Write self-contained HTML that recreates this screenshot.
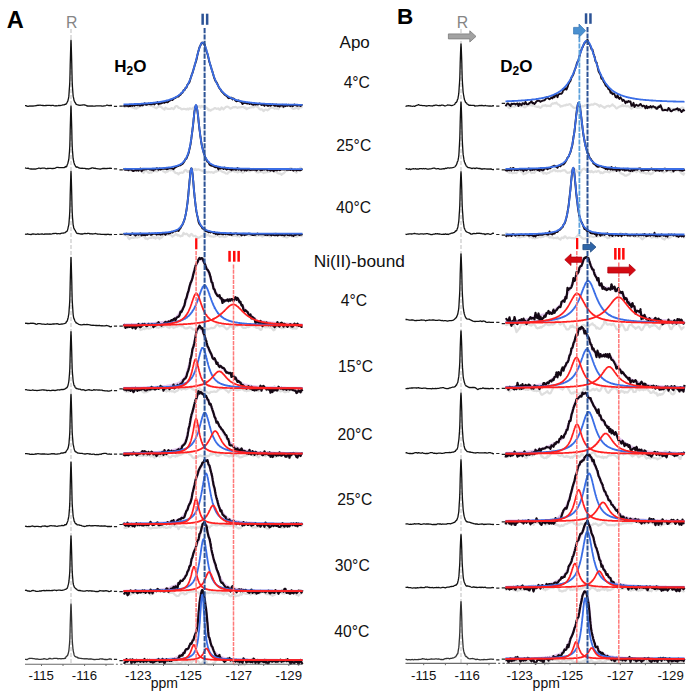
<!DOCTYPE html><html><head><meta charset='utf-8'><style>html,body{margin:0;padding:0;background:#fff;width:690px;height:697px;overflow:hidden}svg{display:block}text{font-family:"Liberation Sans", sans-serif}</style></head><body><svg width='690' height='697' viewBox='0 0 690 697'><rect width='690' height='697' fill='#fff'/><line x1='71.0' y1='29.0' x2='71.0' y2='664.0' stroke='#c8c8c8' stroke-width='1.2' stroke-dasharray='4 2'/><line x1='461.0' y1='29.0' x2='461.0' y2='664.0' stroke='#c8c8c8' stroke-width='1.2' stroke-dasharray='4 2'/><path d='M25 105.7l1-.1 1 .6 1 .2 1-.3 1-.1 1 .1 1-.1 1 .2 1-.4 1 .1 1-.2 1-.2 1-.4 1 .2 1-.3 1 .3 1 0 1 .2 1 .2 1 0 1-.2 1-.2 1 .1 1 0 1 0 1 .3 1-.4 1 0 1 .4 1 .3 1-.4 1 .2 1-.1 1-.3 1 .3 1-.3 1-.2 1-.3 1 0 1-.5 .2-.1 .3-.2 .3-.1 .2 .3 .2-.4 .3-.3 .3-.6 .2-.5 .2-.4 .3-.3 .3-.7 .2-.7 .2-1 .3-1.1 .3-1.9 .2-2.4 .2-3.2 .3-4.1 .3-5 .2-7 .2-9.3 .3-10.7 .3-10.1 .2-4.5 .2 4.1 .3 9.7 .3 11.3 .2 9.1 .2 7.8 .3 5.4 .3 4 .2 2.8 .2 2.1 .3 1.3 .3 1.3 .2 1.3 .2 .5 .3 .7 .3 .6 .2 0 .2 .3 .3 .8 .3 .4 .2 .4 .2 .4 .3 0 .3 0 .2 .3 1 .3 1 .1 1 .3 1-.2 1-.1 1-.3 1 0 1 .2 1 .4 1 .6 1 0 1 .1 1-.1 1 .2 1-.4 1 .4 1-.1 1 0 1-.3 1 0 1 .1 1-.1 1 0 1 0 1 .4 1-.1 1-.3 1 .1 1-.4 1-.5 1 .3 1 .3 1-.1 1-.1 1 .1' fill='none' stroke='#111' stroke-width='1.3' stroke-linejoin='round'/><path d='M113.9 106.4h3.2M119.4 106.1h3.4' stroke='#222' stroke-width='1.2'/><path d='M123.5 107.3l1-.8 1 .4 1-1.2 1 .8 1 0 1-.4 1 .4 1 .6 1 .2 1 .5 1 .5 1-.2 1 .6 1-1.7 1 .4 1-1.1 1-.2 1 0 1 0 1-1.1 1-.6 1-.2 1-.9 1 .4 1 1.6 1-.6 1 1.2 1-.7 1 1.1 1 .2 1 .8 1 .6 1 .4 1-1.1 1-.5 1-.7 1 .9 .1 0 .3 .1 .4 0 .2 .1 .1 .2 .4 .4 .3 .5 .2 .3 .1 0 .4 0 .3 .1 .2 0 .2 .2 .3 .3 .3 .3 .2 .2 .2-.4 .3-.6 .4-.7 .1-.3 .2 .2 .3 .2 .4 .2 .1 .1 .2 .1 .4 .3 .3 .2 .1 .1 .2 0 .4-.1 .3 0 .1 0 .3 0 .3 0 .3 .1 .1 0 .3 0 .3 0 .4 0 0 0 .3-.3 .3-.3 .4-.4 0 0 .3 .1 .4 .1 .3 .1 .3 .3 .4 .3 .3 .3 0 0 .4-.4 .3-.4 .3-.3 0-.1 .4-.6 .3-.6 .3-.5 .1 0 .3-.1 .3-.1 .3-.1 .1 0 .3 .2 .4 .1 .2 .1 .1 .1 .3 .5 .4 .5 .2 .3 .1 0 .4 0 .3 0 .2 0 .1 .1 .4 .2 .3 .2 .2 .1 .2 .1 .3 .3 .3 .3 .2 .2 .2 0 .3 0 .4-.1 .1 0 .2-.1 .3-.1 .4-.1 .1-.1 .2 0 .4 .1 .3 0 .1 0 .2 .1 .4 0 .3 .1 .1 0 .3 .1 .3 .2 .3 .1 .1 0 .3-.2 .3-.4 .4-.3 0-.1 .3 .3 .3 .3 .4 .4 0 0 .3-.4 .4-.3 .3-.4 .3 0 .4 .1 .3 0 0 0 .4 .2 .3 .1 .3 .2 0 0 .4-.2 .3-.1 .3-.1 .1-.1 .3-.3 .3-.4 .3-.3 .1 0 .3 .3 .4 .3 .2 .2 .1-.1 .3 0 .4 0 .2-.1 .1-.1 .4-.4 .3-.4 .2-.2 .1-.1 .4-.1 .3-.2 .2 0 .2 0 .3 .1 .3 0 .2 0 .2-.1 .3-.2 .4-.3 .1-.1 .2 .3 .3 .6 .4 .5 .1 .2 .2-.4 .4-.6 .3-.5 .1-.2 .2 .1 .4 .2 .3 .3 .1 0 .3 .1 .3 .1 .3 .1 .1 .1 .3 0 .3-.1 .4 0 0 0 .3 .1 .3 .1 .4 .1 0 0 .3 .1 .4 .2 .3 .2 .3 .2 .4 .3 .3 .2 0 .1 .4 .6 .3 .7 .3 .5 0 0 .4-.2 .3-.2 .3-.2 .1 .1 .3 .3 .3 .4 .3 .3 .1-.1 .3-.3 .4-.3 .2-.2 .1-.1 .3-.1 .4-.1 .2-.1 .1 0 .4-.2 .3-.1 .2-.1 .1-.1 .4-.3 .3-.3 .2-.1 .2 0 .3 0 .3 0 .2 0 .2 .1 .3 .2 .4 .2 .1 .1 .2 0 .3 0 .4-.1 .1 0 .2-.1 .4-.1 .3-.1 .1 0 .2 .3 .4 .4 .3 .5 .1 .1 .3-.1 .3 0 .3-.1 .1 0 .3-.5 .3-.7 .4-.8 0 0 .3 .2 .3 .3 .4 .2 0 0 .3 .4 .4 .3 .3 .4 .3-.4 .4-.4 .3-.3 0 0 .4-.3 .3-.3 .3-.2 0-.1 .4-.2 .3-.3 .3-.1 .1-.1 .3 0 .3-.1 .3 0 .1 .1 .3 .2 .4 .2 .2 .2 .1 0 .3 .2 .4 .2 .2 .1 .1 .1 .4 .3 .3 .3 .2 .2 .1 0 .4-.2 .3-.2 .2-.1 .2-.1 .3-.1 .3-.1 .2-.1 .2-.1 .3-.3 .4-.2 .1-.1 .2 0 .3 .1 .4 .1 .1 .1 .2-.1 .4-.2 .3-.1 .1 0 .2 .1 .4 .1 .3 .2 .1 0 .3 .2 .3 .2 .3 .2 .1 0 .3-.1 .3-.2 .4-.1 0 0 .3-.1 .3 0 .4 0 0 0 .3 0 .4-.1 .3 0 .3-.1 .4 0 .3-.1 0 0 .4 0 .3-.1 .3 0 0 0 .4 0 .3 0 .3 0 .1 0 .3 .3 .3 .3 .3 .3 .1 0 .9-.3 1 1.6 1-.6 1-.6 1-.2 1-.4 1 .1 1-.7 1 .6 1-1 1-.6 1 .8 1-.3 1 1.5 1 1.2 1 .6 1-.4 1 .6 1 1.3 1-1 1-.6 1 .3 1 .6 1-.7 1-1.2 1-.7 1-.1 1-.2 1 .4 1 .8 1-.4 1 .3 1-.2 1 .6 1-2.1 1-.2 1-.1 1 .5 1 .4 1-.8 1-.5 1-.9 1-.1 1 .6 1 .1 1 .4 1 1.3 1 .9 1 .5 1-.6 1 0 1-.8 1 .3 1 1.1 1-2.2 1 .5 1 0 1-.3' fill='none' stroke='#dedede' stroke-width='2.2' stroke-linejoin='round'/><path d='M123.5 106.7l1-1.1 1 .3 1-.2 1-.1 1 .8 1-.5 1 .2 1-1.3 1 1.1 1-1 1 .9 1-1.2 1 .5 1 .1 1-1.1 1 1.5 1 0 1-1.1 1 .9 1-.6 1-1.6 1 1.3 1 .3 1-.4 1-.9 1 .6 1 .2 1 .1 1-.5 1-.2 1 .7 1-1.1 1-.2 1-1 1 2.2 1-.8 1 .1 .1 0 .3-.2 .4-.1 .2-.1 .1-.1 .4-.1 .3-.2 .2-.1 .1 0 .4 0 .3-.1 .2 0 .2 0 .3 .1 .3 .1 .2 0 .2-.1 .3-.3 .4-.2 .1-.1 .2 0 .3 0 .4-.1 .1 0 .2 .1 .4 .1 .3 .2 .1 0 .2-.2 .4-.3 .3-.3 .1-.1 .3-.2 .3-.3 .3-.3 .1 0 .3-.1 .3-.1 .4-.2 0 0 .3-.3 .3-.4 .4-.3 0-.1 .3 .3 .4 .2 .3 .3 .3-.4 .4-.3 .3-.4 0 0 .4-.2 .3-.3 .3-.2 0 0 .4-.1 .3-.2 .3 0 .1-.1 .3-.3 .3-.3 .3-.3 .1 0 .3-.1 .4-.1 .2-.1 .1 0 .3 0 .4-.1 .2 0 .1-.2 .4-.4 .3-.5 .2-.2 .1-.1 .4-.1 .3-.2 .2-.1 .2-.2 .3-.6 .3-.6 .2-.3 .2 0 .3-.1 .4-.2 .1 0 .2-.5 .3-.8 .4-.8 .1-.3 .2 0 .4 0 .3-.1 .1 0 .2-.5 .4-.7 .3-.8 .1-.2 .3-.1 .3-.1 .3-.2 .1-.1 .3-.8 .3-1 .4-1 0-.1 .3-.3 .3-.4 .4-.4 0-.1 .3-.4 .4-.4 .3-.5 .3-1.2 .4-1.2 .3-1.1 0-.1 .4-1 .3-1 .3-1 0-.1 .4-.9 .3-.9 .3-.7 .1-.2 .3-1.2 .3-1.1 .3-.9 .1-.3 .3-1.3 .4-1.2 .2-.9 .1-.3 .3-1 .4-1 .2-.7 .1-.3 .4-1.1 .3-1.1 .2-.7 .1-.6 .4-1.7 .3-1.7 .2-.9 .2-.6 .3-1.3 .3-1.3 .2-.6 .2-.7 .3-1.2 .4-1.1 .1-.5 .2-.5 .3-.7 .4-.7 .1-.2 .2-.5 .4-.8 .3-.7 .1-.2 .2-.2 .4-.2 .3-.1 .1 0 .3 .2 .3 .4 .3 .5 .1 .1 .3 0 .3 .2 .4 .3 0 .1 .3 .9 .3 1.1 .4 1.3 0 0 .3 1 .4 1.1 .3 1.2 .3 1 .4 1.1 .3 1 0 0 .4 1.4 .3 1.3 .3 1.3 0 .1 .4 1.5 .3 1.5 .3 1.2 .1 .2 .3 1 .3 1 .3 .8 .1 .3 .3 1.1 .4 1.1 .2 .8 .1 .3 .3 1.1 .4 1 .2 .6 .1 .5 .4 1.2 .3 1.2 .2 .8 .1 .4 .4 1.2 .3 1.1 .2 .6 .2 .4 .3 .7 .3 .8 .2 .3 .2 .3 .3 .4 .4 .5 .1 .2 .2 .4 .3 .7 .4 .6 .1 .2 .2 .5 .4 .8 .3 .7 .1 .2 .2 .5 .4 .7 .3 .6 .1 .2 .3 .3 .3 .3 .3 .3 .1 .1 .3 .5 .3 .7 .4 .6 0 .1 .3 .3 .3 .4 .4 .3 0 .1 .3 .3 .4 .3 .3 .3 .3 .5 .4 .4 .3 .3 0 .1 .4 .2 .3 .2 .3 .2 0 0 .4 .3 .3 .3 .3 .2 .1 .1 .3 .3 .3 .3 .3 .2 .1 .1 .3 .5 .4 .4 .2 .3 .1 0 .3-.1 .4-.1 .2-.1 .1 .1 .4 0 .3 .1 .2 .1 .1-.1 .4-.2 .3-.2 .2-.1 .2 .2 .3 .7 .3 .6 .2 .3 .2-.2 .3-.3 .4-.4 .1-.1 .2 .2 .3 .3 .4 .3 .1 .1 .2 .3 .4 .5 .3 .5 .1 .1 .2 .2 .4 .1 .3 .2 .1 .1 .3-.1 .3-.1 .3 0 .1 0 .3-.2 .3-.3 .4-.2 0 0 .3 .2 .3 .4 .4 .3 0 0 .3 .1 .4 .1 .3 .1 .3 .2 .4 .3 .3 .2 0 0 .4 .6 .3 .6 .3 .5 0 0 .4-.3 .3-.3 .3-.2 .1-.1 .3 0 .3-.1 .3-.1 .1 0 .9 0 1 .5 1 .1 1-.4 1 .8 1-.8 1 1.1 1 .4 1 .3 1-.9 1 .6 1-.6 1 .5 1-.1 1-.9 1 .5 1 1 1-.5 1 .4 1 1 1-1.9 1 .8 1 .9 1 .1 1-.8 1 .8 1-.7 1-.8 1 .5 1 1.1 1-.1 1-1.2 1 1.6 1-.3 1 .6 1-1.1 1 .1 1-.7 1 2 1-1.5 1 .8 1-1.4 1 1.1 1-1.1 1 1 1 .4 1-1.1 1 1.2 1-.6 1-1.1 1 .7 1 .4 1 .2 1-.4 1 0 1 .6 1-1 1 .4' fill='none' stroke='#140814' stroke-width='1.9' stroke-linejoin='round'/><path d='M123.5 104.4l1 0 1 0 1-.1 1 0 1 0 1-.1 1 0 1 0 1-.1 1 0 1-.1 1 0 1 0 1-.1 1 0 1-.1 1 0 1-.1 1-.1 1 0 1-.1 1-.1 1 0 1-.1 1-.1 1-.1 1-.1 1 0 1-.1 1-.2 1-.1 1-.1 1-.1 1-.1 1-.2 1-.1 1-.2 .1 0 .3-.1 .4 0 .2-.1 .1 0 .4 0 .3-.1 .2 0 .1-.1 .4 0 .3-.1 .2 0 .2-.1 .3 0 .3-.1 .2 0 .2-.1 .3-.1 .4 0 .1-.1 .2 0 .3-.1 .4-.1 .1 0 .2-.1 .4 0 .3-.1 .1-.1 .2 0 .4-.1 .3-.1 .1 0 .3-.1 .3-.1 .3-.1 .1-.1 .3 0 .3-.2 .4-.1 0 0 .3-.1 .3-.1 .4-.1 0 0 .3-.2 .4-.1 .3-.1 .3-.2 .4-.1 .3-.1 0-.1 .4-.1 .3-.2 .3-.1 0 0 .4-.2 .3-.2 .3-.1 .1 0 .3-.2 .3-.2 .3-.2 .1 0 .3-.2 .4-.2 .2-.2 .1 0 .3-.3 .4-.2 .2-.1 .1-.1 .4-.3 .3-.2 .2-.2 .1-.1 .4-.3 .3-.2 .2-.2 .2-.1 .3-.3 .3-.3 .2-.2 .2-.2 .3-.3 .4-.3 .1-.2 .2-.2 .3-.4 .4-.4 .1-.1 .2-.3 .4-.4 .3-.4 .1-.1 .2-.4 .4-.4 .3-.5 .1-.1 .3-.4 .3-.5 .3-.6 .1-.1 .3-.4 .3-.6 .4-.6 0-.1 .3-.6 .3-.6 .4-.7 0 0 .3-.7 .4-.7 .3-.8 .3-.8 .4-.8 .3-.8 0-.1 .4-.9 .3-.9 .3-.8 0-.1 .4-1 .3-1 .3-.9 .1-.2 .3-1 .3-1.1 .3-.9 .1-.3 .3-1.2 .4-1.2 .2-.8 .1-.4 .3-1.3 .4-1.2 .2-.9 .1-.4 .4-1.3 .3-1.4 .2-.7 .1-.6 .4-1.3 .3-1.3 .2-.7 .2-.6 .3-1.3 .3-1.2 .2-.6 .2-.6 .3-1.1 .4-1.1 .1-.5 .2-.5 .3-1 .4-.8 .1-.3 .2-.4 .4-.7 .3-.5 .1-.1 .2-.3 .4-.2 .3-.2 .1 0 .3 0 .3 .1 .3 .3 .1 .1 .3 .3 .3 .5 .4 .6 0 .1 .3 .6 .3 .9 .4 .9 0 .1 .3 .9 .4 1.1 .3 1.1 .3 1.2 .4 1.3 .3 1.1 0 .1 .4 1.3 .3 1.3 .3 1.2 0 .1 .4 1.4 .3 1.3 .3 1.1 .1 .2 .3 1.3 .3 1.3 .3 .9 .1 .3 .3 1.3 .4 1.2 .2 .8 .1 .3 .3 1.2 .4 1.1 .2 .7 .1 .4 .4 1 .3 1 .2 .6 .1 .4 .4 1 .3 .9 .2 .5 .2 .4 .3 .8 .3 .9 .2 .3 .2 .5 .3 .7 .4 .8 .1 .2 .2 .5 .3 .6 .4 .7 .1 .2 .2 .4 .4 .6 .3 .6 .1 .2 .2 .4 .4 .5 .3 .6 .1 .1 .3 .4 .3 .4 .3 .5 .1 .1 .3 .4 .3 .4 .4 .4 0 .1 .3 .3 .3 .4 .4 .4 0 0 .3 .3 .4 .4 .3 .3 .3 .3 .4 .4 .3 .2 0 .1 .4 .3 .3 .2 .3 .3 0 0 .4 .3 .3 .2 .3 .2 .1 .1 .3 .2 .3 .2 .3 .2 .1 .1 .3 .2 .4 .2 .2 .1 .1 .1 .3 .2 .4 .2 .2 .1 .1 0 .4 .2 .3 .2 .2 .1 .1 .1 .4 .1 .3 .2 .2 .1 .2 0 .3 .2 .3 .1 .2 .1 .2 .1 .3 .1 .4 .1 .1 .1 .2 .1 .3 .1 .4 .1 .1 .1 .2 0 .4 .1 .3 .2 .1 0 .2 .1 .4 .1 .3 .1 .1 0 .3 .1 .3 .1 .3 .1 .1 0 .3 .1 .3 0 .4 .1 0 0 .3 .1 .3 .1 .4 .1 0 0 .3 .1 .4 0 .3 .1 .3 .1 .4 .1 .3 0 0 0 .4 .1 .3 .1 .3 0 0 0 .4 .1 .3 .1 .3 0 .1 0 .3 .1 .3 0 .3 .1 .1 0 .9 .1 1 .2 1 .1 1 .2 1 .1 1 .1 1 .1 1 .1 1 .1 1 .1 1 .1 1 .1 1 .1 1 .1 1 0 1 .1 1 .1 1 0 1 .1 1 0 1 .1 1 0 1 .1 1 0 1 .1 1 0 1 .1 1 0 1 .1 1 0 1 0 1 .1 1 0 1 0 1 0 1 .1 1 0 1 0 1 .1 1 0 1 0 1 0 1 .1 1 0 1 0 1 0 1 0 1 .1 1 0 1 0 1 0 1 0 1 0 1 .1 1 0 1 0 1 0 1 0' fill='none' stroke='#3b6ee6' stroke-width='1.8'/><path d='M25 167.9l1 .3 1 .1 1-.2 1 .5 1 .2 1 .2 1 0 1 .1 1-.2 1 .3 1-.2 1-.4 1-.2 1-.4 1 .3 1 .2 1-.4 1 0 1 0 1 .1 1 .6 1-.3 1 0 1-.1 1 0 1 0 1 .2 1-.1 1-.1 1-.1 1-.6 1-.3 1 0 1 .3 1 0 1 0 1-.1 1 .1 1-.1 1-.3 .2-.8 .3 .1 .3 .2 .2-.1 .2 0 .3 .1 .3-.6 .2-.7 .2-.7 .3-.6 .3-.7 .2-.9 .2-.8 .3-1 .3-1.6 .2-2.1 .2-2.4 .3-3.5 .3-5.2 .2-6.6 .2-8.8 .3-10.9 .3-10 .2-3.8 .2 4.3 .3 9.7 .3 10 .2 9.6 .2 6.2 .3 5.2 .3 3.7 .2 2.6 .2 1.8 .3 1.4 .3 1.6 .2 .7 .2 .5 .3 1.3 .3 .2 .2 .7 .2 .1 .3 .7 .3 .3 .2 .5 .2 0 .3 0 .3 .2 .2-.3 1 .5 1 .6 1 .1 1 .2 1-.1 1 .2 1 0 1 0 1 .4 1-.1 1 .1 1 .2 1-.5 1-.2 1-.5 1 .1 1 .4 1-.1 1 .4 1 .1 1 .1 1 .1 1 .2 1-.1 1-.4 1-.3 1 .2 1-.1 1 .2 1-.1 1-.1 1 0 1-.2 1 .2 1-.1' fill='none' stroke='#111' stroke-width='1.3' stroke-linejoin='round'/><path d='M113.9 168.8h3.2M119.4 169.8h3.4' stroke='#222' stroke-width='1.2'/><path d='M123.5 169.5l1-.5 1-.3 1 .5 1 .3 1 1.4 1-.7 1 .2 1-.7 1-.1 1 .4 1-.9 1 .4 1 .2 1 1.2 1-.5 1 .1 1 .1 1 .4 1 1.2 1 .8 1-2.3 1 .5 1 0 1 .3 1 1.2 1 .2 1-.7 1 .5 1-2.3 1 .8 1-.1 1-.2 1 .4 1 .1 1-.9 1-.5 1-.4 1-1.3 1 2 1 1.1 1 .4 1 .7 1-1 1 .2 1-1.1 1-.6 1 .4 1-.7 1 .7 1-.2 1 1.7 1 1 1 .2 1 .1 .5 .6 .3 .4 .2 .2 .2-.2 .3-.6 .4-.5 .1-.2 .2 0 .3 0 .4 0 .1 0 .2-.1 .4-.1 .3 0 .1-.1 .2 .1 .4 .1 .3 0 .1 0 .3-.1 .3-.2 .3-.2 .1 0 .3-.5 .3-.6 .4-.5 0-.1 .3-.2 .3-.3 .4-.2 0 0 .3 .2 .4 .2 .3 .2 .3 .5 .4 .4 .3 .5 0 0 .4-.3 .3-.2 .3-.2 0 .1 .4 .2 .3 .3 .3 .2 .1 0 .3-.2 .3-.3 .3-.1 .1-.1 .3-.5 .4-.4 .2-.3 .1-.1 .3-.1 .4-.1 .2 0 .1 0 .4-.1 .3-.1 .2 0 .1 0 .4 .1 .3 .1 .2 .1 .2-.2 .3-.3 .3-.4 .2-.2 .2 .3 .3 .4 .4 .4 .1 .2 .2-.1 .3-.2 .4-.2 .1-.1 .2-.1 .4 0 .3-.1 .1 0 .2 .1 .4 .2 .3 .2 .1 0 .3 .1 .3 .1 .3 .1 .1 .1 .3 .1 .3 .1 .4 .1 0 .1 .3 .1 .3 .1 .4 .1 0 0 .3 .2 .4 .2 .3 .3 .3 .3 .4 .4 .3 .3 0 0 .4 0 .3 0 .3 0 0 0 .4-.2 .3-.2 .3-.2 .1 .1 .3 .1 .3 .2 .3 .1 .1 0 .3-.2 .4-.2 .2-.2 .1 0 .3 .1 .4 .1 .2 0 .1 0 .4 .1 .3 .1 .2 .1 .1-.1 .4-.1 .3-.1 .2 0 .2 0 .3 .2 .3 .1 .2 .1 .2 0 .3 .2 .4 .2 .1 0 .2-.1 .8-.5 1-.9 1 .2 1-.8 1 0 1-.8 1 .2 1 1.1 1 .6 1 .2 1 .3 1 .9 1 .2 1 .2 1-1.7 1 .1 1-.6 1-.1 1-.6 1 0 1 .8 1 .1 1-.3 1 1.1 1-.5 1-1 1 .8 1-.3 1 1.3 1-.6 1-.7 1-.3 1-.7 1 .3 1 .3 1 .3 1-.2 1-1.8 1 1 1-1.5 1 1.1 1 1.3 1 .8 1 .3 1 0 1-.4 1-.3 1 .2 1 .1 1 1 1-.7 1 .2 1-.6 1 .2 1-.2 1-.1 1-.5 1-.8 1-.3 1 .3 1 1.5 1-.6 1 .3 1 1.4 1 .4 1 .2 1-.2 1 1.3 1-1.1 1-.3 1-.9 1-1.3 1-.6 1 .1 1-.8 1-1 1-.7 1 .1 1 1.1 1 .2 1 1.7 1 .5 1 .7 1-1.5 1-1.5 1-.6 1-1.3 1 1.5 1 .4' fill='none' stroke='#dedede' stroke-width='2.2' stroke-linejoin='round'/><path d='M123.5 169.7l1-.5 1 .7 1-.3 1 .3 1 .3 1-.8 1 .1 1 .2 1 1.1 1 .3 1-.6 1-.6 1 .7 1-1.4 1 1.6 1-1.4 1-1 1 2.9 1-.9 1-1.3 1 .4 1-.3 1 .2 1-.5 1 0 1 .6 1-.1 1 .5 1-.4 1 1 1-1.3 1 .1 1-1 1 .2 1 1.3 1-1.4 1 1.1 1-.3 1-.5 1 0 1 .2 1-.3 1 .6 1-.1 1-.7 1-.2 1 .2 1-.3 1 .6 1 .5 1-1.2 1-.8 1-.4 1-.6 .5-.1 .3-.1 .2 0 .2-.1 .3-.3 .4-.3 .1-.1 .2 0 .3 0 .4 .1 .1 0 .2-.2 .4-.3 .3-.3 .1 0 .2-.1 .4-.2 .3-.2 .1 0 .3-.4 .3-.4 .3-.5 .1-.1 .3-.4 .3-.5 .4-.5 0-.1 .3-.6 .3-.7 .4-.7 0-.1 .3-.1 .4-.1 .3-.3 .3-.8 .4-1 .3-.9 0-.1 .4-.7 .3-.8 .3-.8 0-.1 .4-1.4 .3-1.5 .3-1.3 .1-.2 .3-1.5 .3-1.6 .3-1.3 .1-.6 .3-2.4 .4-2.6 .2-1.9 .1-.6 .3-2.4 .4-2.5 .2-1.8 .1-1 .4-2.8 .3-3 .2-1.8 .1-1.5 .4-3.5 .3-3.4 .2-1.6 .2-1.1 .3-1.9 .3-1.4 .2-.4 .2-.5 .3-.3 .4 .4 .1 .4 .2 .7 .3 1.5 .4 2.1 .1 .9 .2 1.8 .4 2.9 .3 3.2 .1 .9 .2 2.3 .4 3.2 .3 3.1 .1 .8 .3 2 .3 2.5 .3 2.3 .1 .4 .3 2 .3 2.4 .4 2.2 0 .2 .3 1.5 .3 1.4 .4 1.3 0 .1 .3 1.4 .4 1.4 .3 1.2 .3 1.2 .4 1 .3 .9 0 .1 .4 1 .3 .9 .3 .8 0 .1 .4 .6 .3 .6 .3 .5 .1 .1 .3 .8 .3 .7 .3 .6 .1 0 .3 0 .4 .1 .2 0 .1 .2 .3 1 .4 .9 .2 .5 .1 .1 .4 .2 .3 .2 .2 .1 .1 .1 .4 .2 .3 .1 .2 .1 .2 0 .3 0 .3-.1 .2 0 .2 .1 .3 .2 .4 .3 .1 0 .2 .2 .8 .4 1 .5 1-.8 1 1.3 1 1.6 1-2.5 1 1.6 1-.4 1 0 1 1 1-1.5 1 1.2 1 .8 1-.6 1-.3 1 .7 1-.1 1 .9 1-1.1 1 .5 1-.6 1 .8 1-.1 1-1.6 1 1.7 1-.6 1 .4 1 .8 1-1.3 1 .4 1 .9 1-.7 1 .8 1-.8 1-.3 1 .4 1 .3 1-.3 1 0 1 0 1-.1 1-.1 1 1 1-.8 1-.8 1 .3 1 1 1-.3 1 0 1-.6 1 .3 1-.6 1 .4 1 .9 1-.9 1 .6 1 .6 1-.5 1-.4 1 1.5 1-.9 1-.6 1 .6 1-.2 1-.5 1 .5 1-.1 1-1.1 1 .5 1 .1 1 0 1-.7 1 .8 1-.1 1 .1 1-.2 1 .6 1-1 1 1.1 1 .5 1-1 1 0 1 .8 1-.7 1 .2 1 .4 1 0 1-1.1 1 .5' fill='none' stroke='#140814' stroke-width='1.9' stroke-linejoin='round'/><path d='M123.5 169l1-.1 1 0 1 0 1 0 1 0 1 0 1 0 1 0 1 0 1 0 1 0 1-.1 1 0 1 0 1 0 1 0 1 0 1 0 1-.1 1 0 1 0 1 0 1 0 1 0 1-.1 1 0 1 0 1 0 1-.1 1 0 1 0 1-.1 1 0 1-.1 1 0 1-.1 1 0 1-.1 1 0 1-.1 1-.1 1-.1 1-.1 1-.1 1-.1 1-.1 1-.1 1-.2 1-.2 1-.2 1-.2 1-.3 1-.2 1-.4 .5-.2 .3-.1 .2-.1 .2-.1 .3-.1 .4-.2 .1 0 .2-.1 .3-.2 .4-.2 .1-.1 .2-.1 .4-.2 .3-.3 .1 0 .2-.2 .4-.3 .3-.3 .1 0 .3-.2 .3-.4 .3-.3 .1-.1 .3-.3 .3-.4 .4-.4 0 0 .3-.4 .3-.5 .4-.5 0-.1 .3-.5 .4-.6 .3-.7 .3-.7 .4-.8 .3-.8 0 0 .4-.9 .3-1 .3-1 0-.1 .4-1.2 .3-1.3 .3-1.2 .1-.3 .3-1.5 .3-1.7 .3-1.4 .1-.5 .3-2 .4-2.2 .2-1.7 .1-.7 .3-2.6 .4-2.7 .2-1.9 .1-1 .4-3.1 .3-3.1 .2-1.9 .1-1.3 .4-3 .3-2.9 .2-1.5 .2-1.2 .3-2.2 .3-1.6 .2-.6 .2-.5 .3-.3 .4 .4 .1 .4 .2 .7 .3 1.8 .4 2.2 .1 .9 .2 1.8 .4 2.9 .3 3.1 .1 .9 .2 2.3 .4 3.1 .3 3 .1 .7 .3 2.2 .3 2.7 .3 2.6 .1 .4 .3 1.9 .3 2.2 .4 2 0 .3 .3 1.6 .3 1.7 .4 1.5 0 .1 .3 1.3 .4 1.3 .3 1.2 .3 1.1 .4 1 .3 .8 0 .1 .4 .8 .3 .8 .3 .6 0 .1 .4 .7 .3 .6 .3 .4 .1 .1 .3 .6 .3 .4 .3 .4 .1 .1 .3 .4 .4 .4 .2 .2 .1 .1 .3 .4 .4 .3 .2 .2 .1 .1 .4 .3 .3 .2 .2 .2 .1 .1 .4 .2 .3 .2 .2 .1 .2 .1 .3 .2 .3 .2 .2 .1 .2 0 .3 .2 .4 .2 .1 0 .2 .1 .8 .3 1 .4 1 .2 1 .3 1 .2 1 .2 1 .2 1 .2 1 .1 1 .1 1 .1 1 .1 1 .1 1 .1 1 .1 1 .1 1 0 1 .1 1 0 1 .1 1 0 1 .1 1 0 1 .1 1 0 1 0 1 .1 1 0 1 0 1 0 1 .1 1 0 1 0 1 0 1 0 1 0 1 .1 1 0 1 0 1 0 1 0 1 0 1 0 1 .1 1 0 1 0 1 0 1 0 1 0 1 0 1 0 1 0 1 0 1 0 1 .1 1 0 1 0 1 0 1 0 1 0 1 0 1 0 1 0 1 0 1 0 1 0 1 0 1 0 1 0 1 0 1 0 1 0 1 0 1 0 1 0 1 .1 1 0 1 0 1 0 1 0 1 0 1 0 1 0 1 0 1 0 1 0 1 0 1 0 1 0' fill='none' stroke='#3b6ee6' stroke-width='1.8'/><path d='M25 234l1 .3 1-.3 1 0 1 .4 1 0 1 .3 1-.5 1-.4 1 .4 1-.1 1 .4 1-.4 1-.2 1 .4 1-.1 1-.1 1-.3 1 .4 1 .2 1-.5 1 .3 1-.4 1 .4 1-.2 1 0 1 .2 1-.3 1-.4 1 .1 1-.2 1-.1 1 .6 1-.2 1 0 1 .1 1-.4 1-.2 1 0 1-.2 1-.3 .2-.1 .3-.5 .3 0 .2-.1 .2-.4 .3-.1 .3-.3 .2 .1 .2-.4 .3-.7 .3-1.1 .2-.8 .2-1.3 .3-.9 .3-1.5 .2-2 .2-2.6 .3-3.8 .3-5.2 .2-6.5 .2-9.2 .3-10.5 .3-9.4 .2-4 .2 4.4 .3 9.8 .3 10.8 .2 8.8 .2 6.6 .3 5.4 .3 3.4 .2 2.6 .2 2 .3 1.3 .3 1.5 .2 .6 .2 .3 .3 .7 .3 .1 .2 .4 .2 0 .3 1.1 .3 .4 .2 .4 .2 .4 .3 .5 .3 .1 .2 .4 1 .1 1 .1 1 .3 1 .1 1-.2 1 .2 1-.3 1-.2 1 .1 1-.1 1-.2 1 .1 1 .6 1-.3 1 .3 1-.1 1-.1 1-.3 1 .2 1 .3 1 .2 1-.1 1 0 1 .3 1 0 1-.1 1 0 1 .2 1-.1 1 .1 1-.3 1 .3 1 .1 1-.1 1 .1' fill='none' stroke='#111' stroke-width='1.3' stroke-linejoin='round'/><path d='M113.9 234.5h3.2M119.4 234.4h3.4' stroke='#222' stroke-width='1.2'/><path d='M123.5 235.4l1-.4 1-.3 1 .9 1 .5 1 2.1 1 .9 1-1.2 1 .1 1-.6 1 .5 1-.5 1-.2 1 .1 1 .4 1-.7 1 .2 1-1.7 1 0 1-.1 1 1.2 1 .5 1 1.6 1-.4 1 .8 1-.8 1-.3 1-.4 1 .3 1-1.4 1 1.3 1-.6 1 1.5 1-1.5 1 .5 1-.3 1 1.6 1-1.6 1 .4 1-1.1 1-1.6 1-.2 1 0 1-.6 1 .6 1-.6 1 .3 1 .2 1 .8 1 1.1 1-.9 1-.5 1-.9 1-.3 .1 .1 .3 .5 .4 .5 .2 .3 .1-.1 .4-.1 .3-.2 .2 0 .1 .1 .4 .3 .3 .3 .2 .1 .2 .1 .3 .2 .3 .1 .2 .1 .2-.1 .3-.3 .4-.3 .1-.1 .2 0 .3 .1 .4 .1 .1 0 .2-.6 .4-1 .3-1 .1-.3 .2 .2 .4 .4 .3 .3 .1 .1 .3 .1 .3 .1 .3 .1 .1 0 .3-.2 .3-.1 .4-.2 0 0 .3 .2 .3 .3 .4 .3 0 .1 .3 .3 .4 .4 .3 .3 .3 .3 .4 .2 .3 .2 0 0 .4-.6 .3-.6 .3-.5 0 0 .4-.3 .3-.3 .3-.2 .1 .1 .3 .4 .3 .5 .3 .3 .1 .1 .3 .3 .4 .3 .2 .3 .1 0 .3-.1 .4 0 .2 0 .1 0 .4-.1 .3-.1 .2 0 .1 .3 .4 .7 .3 .7 .2 .4 .2-.1 .3-.2 .3-.2 .2-.2 .2 .2 .3 .2 .4 .3 .1 .1 .2-.2 .3-.2 .4-.2 .1-.1 .2-.1 .4-.2 .3-.2 .1-.1 .2-.1 .4-.2 .3-.3 .1 0 .3 0 .3 .1 .3 0 .1 0 .3-.2 .3-.3 .4-.3 0 0 .3-.7 .3-.8 .4-.8 0 0 .3 .2 .4 .2 .3 .2 .3 .6 .4 .6 .3 .6 1-.5 1 0 1 1.1 1 .1 1 .2 1 .1 1 .3 1-.3 1-.3 1-1.2 1 .2 1 .5 1 1.2 1-.4 1-.3 1 .3 1 .1 1 .6 1-.5 1 0 1-1.3 1-1.5 1-.4 1 1.1 1 .9 1 .7 1-.3 1-.5 1 .6 1 .1 1 .3 1-.6 1 1 1-1.5 1-.6 1-.9 1-.7 1 .5 1-.1 1 1 1-.1 1 1.3 1-.3 1 .1 1-.7 1-.6 1 .9 1 .2 1 .9 1-.1 1-1 1 .3 1 0 1-.1 1 .8 1 .6 1-1 1 0 1-1 1 1.1 1 0 1-.6 1 1.3 1 0 1-1.2 1-.6 1-.9 1 .5 1-1.2 1 .8 1 1.4 1-.6 1 .5 1 .1 1-.1 1 1 1 .6 1-.5 1 .7 1 .4 1-.1 1-1.5 1 0 1-.7 1 1.2 1-.1 1 .5 1-.3 1 .1 1 .4 1-.4 1-.9 1 .2 1 .2 1 .1 1 0' fill='none' stroke='#dedede' stroke-width='2.2' stroke-linejoin='round'/><path d='M123.5 234.5l1-.6 1 .5 1-.8 1 .5 1 .3 1 .2 1 .5 1-1.5 1-.3 1 1 1 .2 1 1 1-.7 1-.8 1 .7 1-.8 1-.5 1 2.1 1-1.1 1 .7 1-.3 1 .5 1-.8 1 .5 1-1.4 1-.2 1 1.3 1 .1 1-.7 1-.2 1-.1 1-.4 1 1.3 1-.5 1 .1 1-.3 1 .7 1-.4 1 0 1-1.3 1 .8 1 1 1-1.4 1-.1 1 .4 1-.3 1-.4 1-1.3 1 .9 1-1.2 1-.3 1 .2 1-.7 .1 0 .3 0 .4 0 .2 0 .1 .1 .4 .1 .3 .1 .2 .1 .1-.3 .4-.5 .3-.5 .2-.3 .2-.2 .3-.4 .3-.5 .2-.2 .2-.3 .3-.7 .4-.8 .1-.3 .2-.2 .3-.5 .4-.5 .1-.1 .2-.5 .4-.8 .3-.9 .1-.3 .2-.6 .4-.9 .3-1 .1-.3 .3-.9 .3-1.4 .3-1.5 .1-.3 .3-1.4 .3-1.8 .4-2 0-.2 .3-1.9 .3-2.4 .4-2.7 0-.1 .3-3 .4-3.5 .3-3.6 .3-3.7 .4-3.8 .3-3.6 0-.2 .4-3.9 .3-3.5 .3-2.7 0-.3 .4-1.8 .3-.8 .3 .1 .1 .1 .3 .9 .3 2 .3 2 .1 .7 .3 3.6 .4 3.8 .2 2.9 .1 1.1 .3 4 .4 3.8 .2 2.3 .1 1.2 .4 3.1 .3 2.9 .2 1.6 .1 1.2 .4 2.7 .3 2.4 .2 1.2 .2 .8 .3 1.6 .3 1.4 .2 .6 .2 1 .3 1.9 .4 1.7 .1 .7 .2 .6 .3 .8 .4 .7 .1 .3 .2 .3 .4 .4 .3 .4 .1 .1 .2 .3 .4 .5 .3 .4 .1 .1 .3 .5 .3 .7 .3 .6 .1 .1 .3 0 .3-.1 .4-.1 0 0 .3 .4 .3 .5 .4 .4 0 0 .3 .5 .4 .5 .3 .4 .3 .1 .4 .1 .3 0 1 .2 1 .8 1-.8 1 1.1 1-.6 1 .2 1 1.1 1-1.1 1 1.9 1-.7 1 1.2 1-.7 1 .3 1-.2 1 0 1 .5 1 0 1-1.1 1 1 1-.7 1 .4 1 .4 1 .3 1-1.5 1 1.8 1-.5 1-.8 1 .1 1-.4 1 0 1 1.2 1-.4 1-.3 1 .5 1 1 1-.7 1-.5 1 1.1 1-.6 1-.1 1-.5 1-.4 1 .1 1 .6 1 .2 1 .4 1 .1 1-.3 1-.1 1-.6 1-.6 1 1 1-.3 1-.1 1 .3 1-.2 1-.1 1 .5 1 .4 1-.6 1 .7 1-.4 1-.6 1 .8 1 .5 1-1.3 1 .9 1 .3 1 0 1-1 1 1.3 1-.7 1-.3 1 .2 1 .4 1-.3 1 .2 1 .5 1-1.1 1-.3 1 .8 1 .1 1 .3 1-1.4 1 1.6 1-.3 1 .8 1-1.6 1 .5 1-.4 1-.3 1 .1 1 .7 1-.5 1-.2 1 .6' fill='none' stroke='#140814' stroke-width='1.9' stroke-linejoin='round'/><path d='M123.5 233.6l1 0 1 0 1 0 1 0 1 0 1 0 1 0 1 0 1-.1 1 0 1 0 1 0 1 0 1 0 1 0 1 0 1 0 1-.1 1 0 1 0 1 0 1 0 1 0 1-.1 1 0 1 0 1 0 1-.1 1 0 1 0 1-.1 1 0 1 0 1-.1 1 0 1-.1 1 0 1-.1 1-.1 1 0 1-.1 1-.1 1-.1 1-.1 1-.2 1-.1 1-.2 1-.2 1-.2 1-.3 1-.3 1-.4 1-.4 .1-.1 .3-.1 .4-.2 .2-.1 .1-.1 .4-.2 .3-.2 .2-.2 .1-.1 .4-.2 .3-.3 .2-.2 .2-.1 .3-.3 .3-.4 .2-.2 .2-.2 .3-.4 .4-.4 .1-.2 .2-.3 .3-.6 .4-.5 .1-.3 .2-.4 .4-.7 .3-.7 .1-.3 .2-.6 .4-.9 .3-1.1 .1-.2 .3-.9 .3-1.3 .3-1.4 .1-.3 .3-1.3 .3-1.8 .4-1.9 0-.3 .3-1.9 .3-2.5 .4-2.7 0-.1 .3-2.8 .4-3.3 .3-3.5 .3-3.7 .4-3.9 .3-3.6 0-.3 .4-3.7 .3-3.5 .3-2.5 0-.3 .4-2.1 .3-1.1 .3-.2 .1 .1 .3 1.1 .3 2 .3 2.1 .1 .7 .3 3.5 .4 3.7 .2 2.8 .1 1.1 .3 3.9 .4 3.7 .2 2.3 .1 1.2 .4 3.3 .3 3 .2 1.6 .1 1.1 .4 2.4 .3 2.2 .2 1.1 .2 .9 .3 1.8 .3 1.6 .2 .7 .2 .7 .3 1.3 .4 1.2 .1 .4 .2 .6 .3 1 .4 .8 .1 .3 .2 .5 .4 .7 .3 .6 .1 .2 .2 .4 .4 .6 .3 .4 .1 .1 .3 .4 .3 .4 .3 .4 .1 0 .3 .3 .3 .4 .4 .3 0 0 .3 .2 .3 .3 .4 .2 0 .1 .3 .2 .4 .2 .3 .2 .3 .2 .4 .1 .3 .2 1 .4 1 .4 1 .3 1 .2 1 .3 1 .1 1 .2 1 .2 1 .1 1 .1 1 .1 1 .1 1 .1 1 .1 1 0 1 .1 1 0 1 .1 1 0 1 .1 1 0 1 .1 1 0 1 0 1 0 1 .1 1 0 1 0 1 0 1 .1 1 0 1 0 1 0 1 0 1 0 1 .1 1 0 1 0 1 0 1 0 1 0 1 0 1 0 1 0 1 .1 1 0 1 0 1 0 1 0 1 0 1 0 1 0 1 0 1 0 1 0 1 0 1 0 1 0 1 0 1 0 1 0 1 0 1 .1 1 0 1 0 1 0 1 0 1 0 1 0 1 0 1 0 1 0 1 0 1 0 1 0 1 0 1 0 1 0 1 0 1 0 1 0 1 0 1 0 1 0 1 0 1 0 1 0 1 0 1 0 1 0 1 0 1 0 1 0 1 0 1 0 1 0' fill='none' stroke='#3b6ee6' stroke-width='1.8'/><path d='M25 323.3l1-.2 1 .4 1-.1 1 .3 1-.3 1-.2 1 .1 1-.2 1 .4 1 .1 1 .7 1-.1 1-.5 1-.1 1 .1 1 .1 1 .3 1 .1 1 0 1 .1 1 0 1-.3 1 0 1 .4 1-.2 1 .2 1-.3 1-.1 1 0 1-.1 1 0 1-.2 1 .2 1 .4 1 0 1-.3 1 .1 1-.3 1-.2 1-.3 .2-.2 .3 0 .3-.2 .2-.1 .2-.9 .3-.1 .3-.5 .2 .1 .2-.8 .3-.5 .3-1.1 .2-.7 .2-.9 .3-1.7 .3-1.7 .2-2.3 .2-3.1 .3-3.5 .3-5.3 .2-7.4 .2-9.2 .3-11.5 .3-10.2 .2-4.2 .2 4.2 .3 10.5 .3 10.5 .2 10 .2 7.5 .3 5.1 .3 4.1 .2 3.3 .2 2.3 .3 2 .3 1.5 .2 .6 .2 .4 .3 .3 .3 1.1 .2 .4 .2 .5 .3 .3 .3 .1 .2 .8 .2 .2 .3 .1 .3-.2 .2 .3 1 .6 1 .5 1 .3 1 .3 1-.1 1-.2 1-.2 1 .3 1 0 1-.4 1 .3 1 .1 1 .3 1 .1 1 .2 1-.1 1 .1 1 0 1 .2 1 0 1 .2 1-.2 1 0 1 .4 1-.3 1 .2 1 .1 1 0 1-.2 1-.2 1 .3 1 .3 1 .7 1-.2 1-.1' fill='none' stroke='#111' stroke-width='1.3' stroke-linejoin='round'/><path d='M113.9 326.1h3.2M119.4 326.1h3.4' stroke='#222' stroke-width='1.2'/><path d='M123.5 328l1-1.1 1 .6 1 .6 1-.9 1 .7 1-1.2 1-.8 1 .4 1-1 1-.6 1-.6 1 .4 1 1.4 1 1.6 1 .3 1 .3 1 1.9 1-.4 1-.3 1-.8 1 .7 1-1.2 1 .5 1-.7 1 .9 1-.2 1-.1 1-.6 1-1.4 1 .7 1-1.4 1 .7 1 1 1-.4 1 .8 1-.5 1-.8 1 .9 1-.7 1 .1 1-.8 1-.4 1 .7 1 .8 .8 .3 .2 0 .1 .1 0 0 .3 .2 .1 0 .3 .2 0 0 .2 .1 .1-.2 .1-.1 .3-.5 0-.1 .3-.5 0-.1 .2-.3 .1 .1 .1 0 .3 .1 0 0 .3 .1 .1 .1 .1 0 .2 0 0 0 .3-.1 0 0 .3-.1 .1 0 .1 0 .2 .3 0 .1 .3 .5 .1 0 .3 .6 0 0 .1 .2 .2-.1 0-.1 .3-.2 .1 0 .3-.2 0-.1 .1 0 .2-.1 .1 0 .3 0 0 0 .3-.1 0 0 .1 0 .2-.2 .1 0 .3-.3 0 0 .3-.2 .1 0 0-.1 .3 .1 0 0 .3 .1 0 0 .3 .1 .1 0 0 0 .3-.3 0 0 .3-.4 .1 0 .3-.3 0-.1 .3 .1 0 0 .3 0 .1 0 0 0 .3 .1 0 0 0-.1 0 0 .3-.3 .1 0 0 0 .3-.3 0 0 0-.1 .3-.2 0 0 .1 .1 .2 .4 .1 0 0 .1 .3 .4 0 .1 0 0 .3 .4 0 0 .1 0 0 0 .3-.1 0 0 0 0 .3 0 0 0 .1 0 .2-.1 0 0 .1 .1 0 0 .3 .2 0 0 0 0 .3 .2 .1 0 0 .1 .2 .1 .1 .1 0 0 0 .1 .3 .3 0 .1 .1 0 .2 .4 .1 .1 0 0 .2 .3 .1 0 0 0 0 0 .3 0 .1 0 0 0 .3 .1 0 0 0 0 .2 0 .1 0 0 0 .1 .1 .2 0 .1 0 0 0 .3 0 0 0 0 0 .2 .1 .1-.1 .1 0 0 0 .3 0 0 0 0 0 .3 0 0-.1 .1 0 .1 0 .1-.1 .1 0 0 0 .3-.2 0-.1 0 0 .3-.2 .1 0 0 0 .1-.1 .2-.1 0 0 0 0 .3-.2 0 0 .1 0 .2-.1 .1 0 0 0 .1-.1 .2 .1 0 0 0 0 .3 .2 .1 0 0 0 .3 .1 0 0 0 .1 .1 0 .2 0 0 .1 .1 0 .2 0 .1 0 0 .1 .3 0 0 0 0 0 .1 .1 .2 .2 .1 0 0 .1 .3 .3 0 0 0 0 .3 .3 0 .1 .1 0 0 0 .2 .2 .1 0 0 0 .3 .2 0 0 0 0 .3 .2 .1 0 0 0 0 0 .3 0 0 0 0 0 .3-.1 0 0 .1 0 .2 0 .1 0 0 0 .3 .2 0 0 0 0 .3 .3 .1 0 0 0 .3 .2 0 0 0 0 .3-.6 0 0 .1-.1 .2-.5 .1-.1 0-.1 .3-.5 0 0 0 0 0 0 .3 .1 .1 0 0 0 .3 .1 0 0 0 0 .3 .1 0 .1 .1 0 .2 .3 .1 .1 0 0 .3 .3 0 0 0 0 .3 .3 0 0 .1 0 0 0 .3-.3 0 0 0 0 .3-.2 0 0 .1 0 .2-.2 0 0 .1-.1 0 0 .3-.1 0 0 0 0 .3-.1 .1-.1 0 0 .2-.1 .1 .1 0 0 0 .1 .3 .3 0 0 .1 .1 .2 .3 .1 0 0 0 .2 .3 .1-.1 0 0 0-.1 .3-.2 .1-.1 0 0 .3-.2 0-.1 0 0 .2-.2 .1-.1 0 0 .1-.1 .2-.3 .1-.1 0 0 .3-.3 0-.1 0 0 .2-.2 .1 .1 .1 .1 0 0 .3 .2 0 .1 0 0 .3 .3 0 0 .1 0 .1 .2 .1-.1 .1 0 0 0 .3-.1 0 0 0 0 .3-.1 .1 0 0 0 .1-.1 .2 .1 0 0 0 0 .3 .1 0 .1 .1 0 .2 .1 .1 0 0 0 .1 .1 .2 .1 0 .1 0 0 .3 .2 .1 .1 0 0 .3 .2 0 .1 0 0 .1 .1 .2-.1 0 0 .1 0 .2-.1 .1 0 0 0 .3 0 0 0 0-.1 .1 0 .2-.1 .1 0 0 0 .3-.2 0-.1 0 0 .3-.2 0 0 .1 0 0 0 .2 0 .1 0 0 0 .3 0 0 0 0 0 .3-.1 .1 0 0 0 0 0 .3-.1 0 0 0 0 .3-.2 0 0 .1 0 .2-.2 .1 0 0 0 .3 .1 0 0 0 0 .3 .1 .1 .1 0 0 .3 .1 0 0 0 0 .3-.1 0 0 .1 0 .2-.1 .1 0 0 0 .3-.1 0 0 0 0 0 0 .3-.1 .1 0 0 0 .3-.1 0 0 0 0 .3-.1 0 0 .1 0 .2-.4 .1-.1 0 0 .3-.4 0-.1 0 0 .3-.3 0-.1 .1 0 0 0 .3-.4 0 0 0 0 .3-.4 0 0 .1 0 .2-.3 0 0 .1 0 0-.1 .3-.1 0 0 0 0 .3-.1 .1 0 0 0 .2-.1 .1 0 0 0 0 0 .3 .2 0 0 .1 0 .2 .1 .1 .1 0 0 .2 .1 .1 .1 0 0 0 0 .3 .3 .1 .1 0 0 .3 .3 0 0 0 .1 .2 .2 .1-.1 0 0 .1 0 .2 0 .1 0 0 0 .3-.1 0 0 0 0 .2 0 .1-.1 .1 0 0 0 .3-.2 0-.1 0 0 .3-.2 0 0 .1 0 .1-.1 .1 .1 .1 0 0 0 .3 .2 0 0 0 0 .3 .2 .1 0 0 .1 .1 0 .2-.1 0 0 0 0 .3-.2 0 0 .1 0 .2-.2 .1-.1 0 0 .1 0 .2 .3 0 .1 0 0 .3 .5 .1 .1 0 0 .3 .6 0 .1 .1 .1 .2 .1 .1 .1 .2 .1 .1 0 .3 .2 0 0 .1 .1 .2 .3 .1 .1 .3 .3 0 .1 .3 .4 .1 .1 0 .1 .2-.1 .1 0 .3 0 0 0 .3 0 .1 0 0 0 .3-.4 0 0 .3-.4 .1-.1 .2-.3 .1-.1 .3-.2 0-.1 .3-.2 .1 0 .3-.2 0 0 0-.1 .3-.3 .1-.1 .2-.3 .1-.1 .3-.3 0 0 0 0 .3 .1 .1 .1 .3 .1 0 0 .3 .2 .1 0 .2 .2 .1 .1 .3 .2 0 .1 .3 .2 0 0 .1 .1 .3 .5 0 .1 .3 .4 .1 .1 .2 .4 0-.1 .1-.1 .3-.5 0-.1 .3-.5 .1-.1 .2-.4 .1 0 0 0 .3-.3 .1 0 .2-.2 .1 0 .2-.2 .1-.1 0 0 .3-.3 .1-.1 .3-.2 0-.1 .2-.2 .1 .1 .1 0 .2 .2 .1 0 .3 .2 0 0 .2 .1 .1-.2 .1-.1 .3-.4 0-.1 .3-.4 .1-.1 .1-.2 .1 0 .1 0 .3 .1 0 0 .3 .1 .1 0 .1 .1 .2 .1 0 0 .3 .2 .1 .1 .2 .1 .1 .1 .1 .1 .2-.1 .4-.1 .3-.1 .1 0 .3 .6 .3 .7 .3 .7 .1 .1 .3 .2 .3 .2 .4 .2 0 .1 .3-.1 .3-.1 .4-.1 0 0 .3 .1 .4 0 .3 .1 .3-.2 .4-.2 .3-.2 0 0 .4-.2 .3-.1 .3-.2 0 0 .4 .1 .3 .1 .3 .1 .1 0 .3-.2 .3-.2 .3-.1 .1-.1 .3-.2 .4-.2 .2-.1 .1 0 .3-.1 .4-.1 .2 0 .1-.1 .4-.1 .3 0 .2-.1 .1 .1 .4 .4 .3 .3 .2 .1 .2 0 .3-.1 .3-.1 .2-.1 .2 .2 .3 .3 .4 .4 .1 .1 .2 .2 .3 .2 .4 .3 .1 .1 .2 0 .4 .1 .3 0 .1 0 .2 0 .4-.1 .3-.1 .1 0 .3 .3 .3 .3 .3 .3 .1 .1 .3 .3 .3 .4 .4 .4 0 .1 .3-.1 .3-.1 .4-.2 0 0 .3-.8 .4-.9 .3-.9 .3-.1 .4-.1 .3-.2 0 0 .4 .1 .3 0 .3 .1 0 0 .4 .3 .3 .2 .3 .2 .1 0 .3-.3 .3-.2 .3-.2 .1 0 .3 .2 .4 .2 .2 .1 .1-.1 .3-.2 .4-.3 .2-.2 .1 .2 .4 .3 .3 .4 .2 .2 .1-.1 .4-.1 .3-.2 .2-.1 .2 .1 .3 .2 .3 .3 .2 .1 .2 .2 .3 .4 .4 .4 .1 .1 .2 .3 .3 .5 .4 .4 .1 .2 .2-.1 .4-.1 .3-.2 .1 0 .2-.4 .4-.7 .3-.6 .1-.1 .3-.2 .3-.2 .3-.3 .1 0 .3-.5 .3-.6 .4-.5 0-.1 .3 0 .3 .1 .4 .1 0 0 .3 .1 .4 .2 .3 .2 .3 .3 .4 .4 .3 .3 0 .1 .4 .2 .3 .3 .3 .3 0 0 .4-.1 .3-.1 .3-.1 .1 0 .3 0 .3 0 .3 .1 .1-.1 .3-.1 .4-.1 .2-.1 .1-.1 .3-.3 .4-.3 .2-.2 .1-.1 .4-.2 .3-.2 .2-.2 .1 .1 .4 .2 .5 .4 1-1.3 1 .6 1 1.7 1 .3 1 .5 1-.3 1-.1 1 .4 1 0 1-1.6 1-1.2 1-1.2 1-.1 1 1.5 1 .5' fill='none' stroke='#dedede' stroke-width='2.2' stroke-linejoin='round'/><path d='M123.5 324.7l1 0 1 0 1-.1 1 0 1 0 1-.1 1 0 1 0 1-.1 1 0 1 0 1-.1 1 0 1-.1 1 0 1-.1 1 0 1 0 1-.1 1-.1 1 0 1-.1 1 0 1-.1 1-.1 1 0 1-.1 1-.1 1-.1 1-.1 1 0 1-.1 1-.1 1-.1 1-.1 1-.2 1-.1 1-.1 1-.1 1-.2 1-.1 1-.1 1-.2 1-.2 .8-.1 .2 0 .1 0 0 0 .3-.1 .1 0 .3 0 0-.1 .2 0 .1 0 .1 0 .3 0 0 0 .3 0 0-.1 .2 0 .1 0 .1 0 .3-.1 0 0 .3-.1 .1 0 .1 0 .2-.1 0 0 .3-.1 0-.1 .3-.1 .1 0 .1-.1 .2-.1 0 0 .3-.2 .1 0 .3-.2 0 0 .1-.1 .2-.1 0-.1 .3-.2 .1 0 .3-.3 0 0 .1-.1 .2-.1 .1-.1 .3-.2 0-.1 .3-.3 0 0 .1-.1 .2-.2 .1 0 .3-.3 0-.1 .3-.3 .1 0 0-.1 .3-.3 0 0 .3-.4 0 0 .3-.4 .1 0 0 0 .3-.4 0 0 .3-.4 .1-.1 .3-.3 0-.1 .3-.4 0 0 .3-.5 .1 0 0 0 .3-.4 0-.1 0 0 0 0 .3-.4 .1-.1 0 0 .3-.4 0 0 0-.1 .3-.4 0 0 .1-.1 .2-.4 .1 0 0-.1 .3-.4 0-.1 0 0 .3-.4 0 0 .1-.1 0 0 .3-.4 0-.1 0 0 .3-.5 0 0 .1-.1 .2-.4 0 0 .1-.1 0 0 .3-.5 0 0 0-.1 .3-.4 .1-.1 0 0 .2-.4 .1-.1 0 0 0-.1 .3-.5 0-.1 .1-.1 .2-.6 .1-.1 0 0 .2-.5 .1-.2 0-.1 0-.1 .3-.7 .1-.1 0-.1 .3-.8 0-.1 0-.1 .2-.6 .1-.3 0-.1 .1-.1 .2-.9 .1-.1 0-.1 .3-.9 0-.2 0-.1 .2-.5 .1-.4 .1-.2 0-.1 .3-1 0-.1 0-.1 .3-1 0-.2 .1-.1 .1-.5 .1-.5 .1-.2 0 0 .3-1.1 0-.2 0 0 .3-1.1 .1-.1 0-.1 .1-.5 .2-.6 0-.1 0-.1 .3-1 0-.2 .1-.1 .2-1 .1-.1 0-.1 .1-.4 .2-.6 0-.2 0 0 .3-1 .1-.1 0-.1 .3-.9 0-.2 0 0 .1-.3 .2-.7 0-.2 .1 0 .2-1.1 .1-.1 0-.1 .3-1 0-.2 0-.1 .1-.2 .2-.8 .1-.2 0-.1 .3-1.1 0-.1 0-.1 .3-1.1 0-.1 .1-.1 0-.2 .2-.9 .1-.1 0-.1 .3-1.1 0-.1 0-.1 .3-1.1 .1-.1 0-.1 0 0 .3-1 0-.1 0-.1 .3-1 0-.1 .1-.1 .2-.9 .1-.1 0-.1 .3-.8 0-.1 0-.1 .3-.8 .1-.1 0 0 .3-.7 0-.1 0-.1 .3-.6 0-.1 .1 0 .2-.6 .1-.1 0 0 .3-.6 0-.1 0 0 0-.1 .3-.6 .1 0 0-.1 .3-.6 0-.1 0 0 .3-.6 0 0 .1-.1 .2-.5 .1-.1 0 0 .3-.6 0 0 0-.1 .3-.4 0 0 .1-.1 0 0 .3-.5 0 0 0 0 .3-.4 0-.1 .1 0 .2-.2 0-.1 .1 0 0 0 .3-.3 0 0 0 0 .3-.2 .1 0 0 0 .2-.1 .1 0 0 0 0 0 .3 0 0 0 .1 0 .2 .1 .1 0 0 0 .2 .1 .1 .1 0 0 0 0 .3 .3 .1 0 0 0 .3 .3 0 0 0 .1 .2 .2 .1 .1 0 .1 .1 0 .2 .4 .1 0 0 .1 .3 .4 0 .1 0 0 .2 .3 .1 .2 .1 .1 0 0 .3 .5 0 .1 0 0 .3 .6 0 .1 .1 0 .1 .3 .1 .3 .1 .1 0 0 .3 .6 0 .1 0 0 .3 .7 .1 .1 0 0 .1 .3 .2 .3 0 .1 0 .1 .3 .6 0 .1 .1 .1 .2 .6 .1 .1 0 .1 .1 .2 .2 .4 0 .1 0 0 .3 .7 .1 .1 0 0 .3 .7 0 .1 0 0 .1 .2 .2 .4 0 .1 .1 .1 .2 .6 .1 0 0 .1 .3 .6 0 .1 0 0 .1 .2 .2 .5 .1 .1 0 0 .3 .7 0 .1 0 .1 .3 .7 0 .1 .1 .1 0 .1 .2 .7 .1 .1 0 0 .3 .9 0 .1 0 .1 .3 .8 .1 .1 0 .1 0 0 .3 .9 0 .1 0 0 .3 .9 0 .2 .1 0 .2 .9 .1 .2 0 0 .3 .9 0 .2 0 0 .3 .9 .1 .2 0 0 .3 .9 0 .1 0 .1 .3 .9 0 .1 .1 .1 .2 .8 .1 .2 0 0 .3 .9 0 0 0 .1 0 0 .3 .9 .1 .1 0 0 .3 .8 0 .1 0 .1 .3 .7 0 .1 .1 0 .2 .7 .1 .1 0 .1 .3 .6 0 .1 0 0 .3 .5 0 .1 .1 .1 0 0 .3 .5 0 .1 0 0 .3 .4 0 .1 .1 0 .2 .3 0 .1 .1 0 0 .1 .3 .3 0 .1 0 0 .3 .3 .1 .1 0 0 .2 .3 .1 0 0 .1 0 0 .3 .4 0 0 .1 0 .2 .4 .1 0 0 0 .2 .3 .1 .1 0 0 0 0 .3 .3 .1 .1 0 0 .3 .3 0 .1 0 0 .2 .2 .1 .1 0 0 .1 0 .2 .3 .1 .1 0 0 .3 .3 0 0 0 0 .2 .2 .1 .1 .1 0 0 0 .3 .3 0 0 0 0 .3 .2 0 .1 .1 0 .1 .1 .1 .1 .1 0 0 0 .3 .2 0 .1 0 0 .3 .2 .1 0 0 0 .1 .1 .2 0 0 .1 0 0 .3 .1 0 0 .1 0 .2 .1 .1 .1 0 0 .1 0 .2 .1 0 0 0 0 .3 0 .1 0 0 0 .3 .1 0 0 .1 0 .2 0 .1 0 .2 0 .1 0 .3 0 0 0 .1 0 .2 0 .1 0 .3-.1 0 0 .3 0 .1 0 0 0 .2 0 .1 0 .3-.1 0 0 .3 0 .1 0 0 0 .3 0 0-.1 .3 0 .1 0 .2 0 .1-.1 .3 0 0 0 .3-.1 .1 0 .3 0 0 0 0 0 .3-.1 .1 0 .2 0 .1-.1 .3 0 0 0 0 0 .3-.1 .1 0 .3 0 0 0 .3-.1 .1 0 .2 0 .1 0 .3-.1 0 0 .3 0 0 0 .1 0 .3-.1 0 0 .3 0 .1 0 .2-.1 0 0 .1 0 .3 0 0 0 .3 0 .1 0 .2-.1 .1 0 0 0 .3 0 .1 0 .2 0 .1 0 .2 0 .1 0 0 0 .3 0 .1 0 .3 .1 0 0 .2 0 .1 .1 .1 0 .2 .1 .1 0 .3 .2 0 0 .2 .1 .1 .1 .1 .1 .3 .2 0 0 .3 .3 .1 0 .1 .2 .1 .1 .1 .1 .3 .3 0 0 .3 .4 .1 0 .1 .2 .2 .2 0 0 .3 .4 .1 .1 .2 .3 .1 .1 .1 .2 .2 .3 .4 .5 .3 .5 .1 .1 .3 .4 .3 .5 .3 .5 .1 .1 .3 .4 .3 .5 .4 .5 0 .1 .3 .4 .3 .5 .4 .5 0 0 .3 .5 .4 .4 .3 .5 .3 .4 .4 .4 .3 .3 0 0 .4 .4 .3 .3 .3 .3 0 0 .4 .3 .3 .4 .3 .2 .1 .1 .3 .3 .3 .3 .3 .3 .1 .1 .3 .3 .4 .3 .2 .2 .1 .1 .3 .3 .4 .3 .2 .2 .1 .1 .4 .3 .3 .3 .2 .2 .1 .1 .4 .3 .3 .3 .2 .1 .2 .2 .3 .3 .3 .3 .2 .1 .2 .1 .3 .3 .4 .3 .1 .1 .2 .2 .3 .2 .4 .3 .1 .1 .2 .2 .4 .2 .3 .3 .1 .1 .2 .1 .4 0 .3 .1 .1 0 .3 0 .3 0 .3 0 .1 .1 .3 0 .3 0 .4 .1 0 0 .3 0 .3 0 .4 .1 0 0 .3 0 .4 0 .3 .1 .3 0 .4 .1 .3 0 0 0 .4 0 .3 .1 .3 0 0 0 .4 .1 .3 0 .3 0 .1 0 .3 .1 .3 0 .3 .1 .1 0 .3 0 .4 0 .2 .1 .1 0 .3 0 .4 .1 .2 0 .1 0 .4 0 .3 .1 .2 0 .1 0 .4 .1 .3 0 .2 0 .2 0 .3 .1 .3 0 .2 0 .2 0 .3 .1 .4 0 .1 0 .2 0 .3 .1 .4 0 .1 0 .2 0 .4 .1 .3 0 .1 0 .2 0 .4 .1 .3 0 .1 0 .3 0 .3 0 .3 .1 .1 0 .3 0 .3 0 .4 .1 0 0 .3 0 .3 0 .4 0 0 0 .3 .1 .4 0 .3 0 .3 0 .4 .1 .3 0 0 0 .4 0 .3 0 .3 .1 0 0 .4 0 .3 0 .3 0 .1 0 .3 .1 .3 0 .3 0 .1 0 .3 0 .4 .1 .2 0 .1 0 .3 0 .4 0 .2 0 .1 0 .4 .1 .3 0 .2 0 .1 0 .4 0 .5 0 1 .1 1 0 1 .1 1 0 1 .1 1 0 1 .1 1 0 1 .1 1 0 1 0 1 .1 1 0 1 0 1 .1' fill='none' stroke='#e2c6ec' stroke-width='2.6'/><path d='M123.5 325.9l1-1 1 3 1-1.5 1 .7 1-.5 1 .4 1-.3 1-1.8 1 3.3 1-1.9 1-.6 1 3 1-1.7 1-.9 1-2.1 1 2.7 1 .5 1-.8 1-2.4 1 1.2 1-1.3 1 1.4 1 .9 1-.5 1-1.8 1 1.1 1 .2 1-1 1 .1 1 2.8 1-2.8 1 1.4 1-2 1 .6 1-2.1 1 1.9 1 .6 1 .9 1-.9 1-.7 1-1.2 1-.9 1 .6 1 .7 .8-1.4 .2-.3 .1 .2 0 .1 .3 .5 .1 0 .3 .6 0 0 .2 .4 .1-.3 .1-.1 .3-.6 0-.1 .3-.7 0 0 .2-.4 .1-.1 .1-.1 .3-.3 0 0 .3-.3 .1 0 .1-.2 .2 .1 0 0 .3 .2 0 .1 .3 .2 .1 0 .1 0 .2-.2 0-.1 .3-.4 .1-.1 .3-.5 0 0 .1-.2 .2-.1 0 0 .3-.3 .1 0 .3-.2 0 0 .1-.1 .2 .4 .1 .1 .3 .5 0 .1 .3 .5 0 0 .1 .1 .2-.5 .1-.1 .3-.7 0-.1 .3-.8 .1-.1 0-.1 .3-.2 0 0 .3-.3 0 0 .3-.3 .1 0 0 0 .3-.1 0 0 .3 0 .1 0 .3-.1 0 0 .3-.4 0 0 .3-.4 .1-.1 0 0 .3-.4 0 0 0-.1 0 0 .3-1.1 .1-.2 0 0 .3-1.1 0-.1 0-.1 .3-1.1 0 0 .1 0 .2 .1 .1 0 0 0 .3 .1 0 0 0 0 .3 .1 0-.1 .1-.1 0 0 .3-.6 0-.1 0-.1 .3-.6 0-.1 .1 0 .2-.6 0-.1 .1-.1 0 0 .3-.6 0-.1 0-.1 .3-.6 .1-.1 0 0 .2-.6 .1-.1 0 0 0-.1 .3-.5 0-.1 .1-.1 .2-.6 .1-.1 0-.1 .2-.5 .1-.4 0-.2 0-.1 .3-1.4 .1-.2 0-.1 .3-1.5 0-.3 0-.1 .2-1 .1-.1 0-.1 .1-.1 .2-.5 .1-.1 0-.1 .3-.6 0-.1 0 0 .2-.4 .1-.5 .1-.1 0-.1 .3-1.1 0-.2 0-.1 .3-1.1 0-.2 .1-.1 .1-.6 .1-.4 .1-.1 0 0 .3-.8 0-.2 0 0 .3-.8 .1-.1 0-.1 .1-.3 .2-.7 0-.2 0-.1 .3-1.2 0-.2 .1-.1 .2-1.2 .1-.2 0-.1 .1-.4 .2-.6 0-.2 0 0 .3-1 .1-.1 0-.1 .3-.9 0-.2 0 0 .1-.3 .2-.4 0-.1 .1 0 .2-.6 .1-.1 0 0 .3-.6 0-.1 0-.1 .1-.1 .2-.6 .1-.2 0 0 .3-.8 0-.2 0 0 .3-.8 0-.2 .1 0 0-.1 .2-1.1 .1-.2 0-.1 .3-1.3 0-.2 0-.1 .3-1.2 .1-.2 0-.1 0-.1 .3-.9 0-.1 0-.1 .3-.8 0-.2 .1 0 .2-.9 .1-.1 0 0 .3-1.3 0-.2 0-.1 .3-1.2 .1-.2 0 0 .3-1.2 0-.1 0-.1 .3-.7 0 0 .1-.1 .2-.6 .1-.1 0-.1 .3-.6 0-.1 0 0 0 0 .3-.5 .1 0 0 0 .3-.5 0 0 0-.1 .3-.4 0-.1 .1 0 .2-.8 .1-.1 0-.1 .3-.8 0-.1 0 0 .3-.7 0 0 .1-.1 0 0 .3-.5 0-.1 0 0 .3-.5 0 0 .1-.1 .2-.3 0 .1 .1 0 0 0 .3 .3 0 0 0 .1 .3 .3 .1 .1 0 0 .2 .3 .1 0 0-.1 0 0 .3-.3 0-.1 .1 0 .2-.3 .1 0 0 0 .2-.1 .1 0 0 0 0 0 .3 0 .1 0 0 0 .3 .1 0 0 0 0 .2 .1 .1 .3 0 .1 .1 0 .2 .8 .1 .1 0 0 .3 .8 0 .1 0 .1 .2 .5 .1 .2 .1 .1 0 .1 .3 .6 0 .1 0 .1 .3 .7 0 .1 .1 0 .1 .4 .1 .2 .1 .1 0 0 .3 .5 0 0 0 .1 .3 .4 .1 .1 0 0 .1 .3 .2 .5 0 .2 0 0 .3 1.1 0 .1 .1 .1 .2 1 .1 .2 0 0 .1 .4 .2 .1 0 .1 0 0 .3 .2 .1 0 0 0 .3 .2 0 0 0 0 .1 0 .2 .4 0 0 .1 .1 .2 .4 .1 .1 0 0 .3 .5 0 0 0 .1 .1 .1 .2 .4 .1 .1 0 0 .3 .6 0 .1 0 .1 .3 .6 0 .1 .1 .1 0 0 .2 .9 .1 .2 0 0 .3 1.1 0 .1 0 .1 .3 1.1 .1 .2 0 0 0 .1 .3 1.2 0 .2 0 .1 .3 1.3 0 .2 .1 .1 .2 1.4 .1 .2 0 .1 .3 .3 0 0 0 .1 .3 .3 .1 0 0 0 .3 .3 0 .1 0 .1 .3 1.6 0 .2 .1 .1 .2 1.6 .1 .2 0 .1 .3 1.6 0 .1 0 0 0 0 .3 .3 .1 0 0 0 .3 .3 0 0 0 0 .3 .2 0 .1 .1 .1 .2 .9 .1 .2 0 0 .3 .9 0 .2 0 0 .3 .8 0 0 .1 .1 0 .1 .3 .5 0 0 0 .1 .3 .4 0 0 .1 .1 .2 .3 0 0 .1 .1 0 0 .3 .5 0 .1 0 0 .3 .5 .1 0 0 .1 .2 .3 .1 .1 0 0 0 0 .3 .1 0 0 .1 0 .2 .2 .1 0 0 0 .2 .1 .1-.1 0-.1 0 0 .3-.3 .1-.1 0 0 .3-.3 0-.1 0 0 .2-.2 .1 .3 0 .2 .1 0 .2 1 .1 .1 0 .1 .3 .9 0 .1 0 .1 .2 .5 .1 0 .1 0 0 0 .3-.1 0 0 0 0 .3-.1 0 0 .1 0 .1-.1 .1 .7 .1 .2 0 .1 .3 1.4 0 .2 0 .1 .3 1.4 .1 .2 0 .1 .1 .5 .2-.4 0-.2 0 0 .3-.9 0-.1 .1-.1 .2-.9 .1-.1 0 0 .1-.4 .2 .3 0 .1 0 0 .3 .5 .1 0 0 0 .3 .5 0 0 .1 .2 .2-.3 .1 0 .2-.3 .1-.1 .3-.3 0-.1 .1 0 .2 0 .1 0 .3 0 0 0 .3 0 .1 .1 0 0 .2-.3 .1-.1 .3-.3 0 0 .3-.3 .1-.1 0 0 .3 .5 0 .1 .3 .5 .1 .2 .2 .5 .1 .1 .3-.5 0-.1 .3-.6 .1-.1 .3-.5 0-.1 0 .1 .3 .3 .1 0 .2 .4 .1 0 .3 .4 0 0 0-.1 .3-.4 .1-.1 .3-.5 0-.1 .3-.4 .1 0 .2 0 .1 0 .3 0 0 0 .3 0 0 0 .1 .1 .3 .6 0 .2 .3 .6 .1 .1 .2 .5 0-.1 .1-.2 .3-.8 0-.2 .3-.9 .1-.2 .2-.6 .1-.1 0-.1 .3-.2 .1-.1 .2-.3 .1 0 .2-.2 .1 .2 0 .2 .3 .7 .1 .2 .3 .8 0 .2 .2 .5 .1-.2 .1-.2 .2-.5 .1-.2 .3-.5 0-.1 .2-.3 .1 .2 .1 .1 .3 .4 0 .1 .3 .5 .1 .1 .1 .2 .1 .4 .1 .1 .3 .8 0 .2 .3 .8 .1 .1 .1 .4 .2-.1 0-.1 .3-.1 .1 0 .2-.2 .1 0 .1-.1 .2 .9 .4 1.3 .3 1.3 .1 .3 .3-.1 .3-.1 .3-.1 .1 0 .3 1.3 .3 1.6 .4 1.5 0 .2 .3 .4 .3 .4 .4 .5 0 0 .3-.3 .4-.3 .3-.4 .3 .4 .4 .4 .3 .2 0 .1 .4 .2 .3 .2 .3 .2 0 .1 .4 .8 .3 .8 .3 .6 .1 .1 .3 .6 .3 .5 .3 .4 .1-.1 .3-.4 .4-.4 .2-.3 .1 .4 .3 1.3 .4 1.3 .2 .9 .1-.2 .4-.5 .3-.6 .2-.3 .1 .3 .4 .6 .3 .7 .2 .4 .2 0 .3-.1 .3-.1 .2-.1 .2 .9 .3 1.5 .4 1.6 .1 .7 .2-.3 .3-.4 .4-.4 .1-.2 .2 .1 .4 .3 .3 .2 .1 0 .2 0 .4-.2 .3-.1 .1-.1 .3 .4 .3 .6 .3 .5 .1 .1 .3-.8 .3-1 .4-.9 0-.2 .3 .8 .3 .8 .4 .9 0 0 .3 1 .4 .9 .3 1 .3-1.2 .4-1.1 .3-1.1 0 0 .4 0 .3 0 .3 0 0 0 .4 .7 .3 .7 .3 .5 .1-.1 .3-.8 .3-.8 .3-.6 .1 .1 .3 .6 .4 .6 .2 .4 .1 .1 .3 .4 .4 .3 .2 .2 .1-.1 .4-.2 .3-.2 .2-.1 .1 .1 .4 .2 .3 .3 .2 .2 .2-.2 .3-.4 .3-.5 .2-.1 .2 .2 .3 .5 .4 .4 .1 .2 .2-.2 .3-.3 .4-.4 .1-.1 .2 .6 .4 .9 .3 .9 .1 .3 .2-.3 .4-.3 .3-.4 .1-.1 .3-.3 .3-.4 .3-.4 .1-.1 .3-.7 .3-.9 .4-.9 0-.1 .3 1.1 .3 1.3 .4 1.3 0 .1 .3 .1 .4 .2 .3 .2 .3-1.1 .4-1.1 .3-1.1 0 0 .4-.2 .3-.2 .3-.1 0 0 .4 .3 .3 .3 .3 .2 .1 .2 .3 1.1 .3 1.1 .3 .8 .1-.2 .3-.9 .4-1 .2-.7 .1 .1 .3 .4 .4 .4 .2 .3 .1 0 .4 .2 .3 .1 .2 .1 .1 .2 .4 .5 .5 .7 1-1.6 1-.7 1-.4 1 2.3 1 .2 1-1.1 1-2 1 1.2 1 .3 1-1.5 1 2.2 1 0 1 .4 1 .7 1 0' fill='none' stroke='#140814' stroke-width='2.2' stroke-linejoin='round'/><path d='M123.5 325l1 0 1 0 1 0 1 0 1-.1 1 0 1 0 1 0 1 0 1 0 1 0 1-.1 1 0 1 0 1 0 1-.1 1 0 1 0 1 0 1 0 1-.1 1 0 1 0 1-.1 1 0 1 0 1-.1 1 0 1-.1 1 0 1-.1 1 0 1-.1 1 0 1-.1 1 0 1-.1 1-.1 1 0 1-.1 1-.1 1-.1 1-.1 1-.1 .8-.1 .2 0 .1-.1 0 0 .3 0 .1 0 .3 0 0 0 .2-.1 .1 0 .1 0 .3 0 0 0 .3-.1 0 0 .2 0 .1 0 .1 0 .3-.1 0 0 .3 0 .1 0 .1-.1 .2 0 0 0 .3 0 0 0 .3-.1 .1 0 .1 0 .2 0 0-.1 .3 0 .1 0 .3-.1 0 0 .1 0 .2 0 0 0 .3-.1 .1 0 .3-.1 0 0 .1 0 .2 0 .1 0 .3-.1 0 0 .3-.1 0 0 .1 0 .2 0 .1-.1 .3 0 0 0 .3-.1 .1 0 0 0 .3-.1 0 0 .3-.1 0 0 .3-.1 .1 0 0 0 .3 0 0-.1 .3 0 .1-.1 .3 0 0-.1 .3 0 0-.1 .3 0 .1-.1 0 0 .3-.1 0 0 0 0 0 0 .3-.1 .1 0 0 0 .3-.1 0 0 0 0 .3-.1 0 0 .1 0 .2-.1 .1 0 0 0 .3-.1 0-.1 0 0 .3-.1 0 0 .1 0 0 0 .3-.1 0 0 0 0 .3-.2 0 0 .1 0 .2-.1 0 0 .1 0 0 0 .3-.2 0 0 0 0 .3-.1 .1 0 0 0 .2-.2 .1 0 0 0 0 0 .3-.2 0 0 .1 0 .2-.1 .1-.1 0 0 .2-.1 .1 0 0 0 0-.1 .3-.1 .1 0 0-.1 .3-.1 0 0 0-.1 .2-.1 .1 0 0-.1 .1 0 .2-.1 .1-.1 0 0 .3-.2 0 0 0 0 .2-.1 .1-.1 .1 0 0-.1 .3-.2 0 0 0 0 .3-.2 0-.1 .1 0 .1-.1 .1-.1 .1 0 0 0 .3-.3 0 0 0 0 .3-.3 .1 0 0 0 .1-.1 .2-.2 0 0 0 0 .3-.3 0 0 .1 0 .2-.3 .1-.1 0 0 .1-.1 .2-.2 0 0 0 0 .3-.3 .1-.1 0 0 .3-.3 0-.1 0 0 .1-.1 .2-.2 0-.1 .1 0 .2-.3 .1-.1 0 0 .3-.4 0 0 0 0 .1-.1 .2-.3 .1-.1 0 0 .3-.4 0-.1 0 0 .3-.4 0-.1 .1 0 0 0 .2-.4 .1-.1 0 0 .3-.5 0 0 0-.1 .3-.4 .1-.1 0 0 0-.1 .3-.4 0-.1 0 0 .3-.5 0-.1 .1-.1 .2-.5 .1-.1 0 0 .3-.6 0 0 0-.1 .3-.6 .1 0 0-.1 .3-.6 0-.1 0 0 .3-.6 0-.1 .1-.1 .2-.6 .1-.1 0-.1 .3-.7 0 0 0 0 0-.1 .3-.7 .1-.1 0 0 .3-.8 0-.1 0 0 .3-.8 0-.1 .1 0 .2-.8 .1-.1 0 0 .3-.8 0-.1 0-.1 .3-.7 0-.1 .1-.1 0 0 .3-.8 0-.1 0-.1 .3-.8 0-.1 .1-.1 .2-.7 0-.1 .1-.1 0-.1 .3-.8 0-.1 0 0 .3-.8 .1-.2 0 0 .2-.6 .1-.2 0-.1 0-.1 .3-.7 0-.1 .1-.1 .2-.7 .1-.1 0-.1 .2-.5 .1-.2 0 0 0-.1 .3-.6 .1-.1 0-.1 .3-.6 0 0 0-.1 .2-.3 .1-.2 0-.1 .1 0 .2-.5 .1 0 0-.1 .3-.4 0 0 0 0 .2-.2 .1-.1 .1-.1 0 0 .3-.2 0 0 0 0 .3-.2 0 0 .1 0 .1 0 .1 0 .1 0 0 0 .3 .1 0 0 0 0 .3 .2 .1 0 0 0 .1 .1 .2 .1 0 .1 0 0 .3 .3 0 .1 .1 0 .2 .4 .1 .1 0 0 .1 .2 .2 .3 0 .1 0 0 .3 .6 .1 .1 0 0 .3 .6 0 .1 0 .1 .1 .2 .2 .4 0 .1 .1 .1 .2 .7 .1 .1 0 .1 .3 .7 0 .1 0 .1 .1 .1 .2 .6 .1 .1 0 .1 .3 .8 0 .1 0 .1 .3 .8 0 .1 .1 0 0 .1 .2 .7 .1 .2 0 0 .3 .8 0 .1 0 .1 .3 .8 .1 .1 0 .1 0 0 .3 .8 0 .1 0 0 .3 .8 0 .1 .1 .1 .2 .7 .1 .2 0 0 .3 .8 0 .1 0 0 .3 .7 .1 .1 0 .1 .3 .7 0 .1 0 .1 .3 .6 0 .1 .1 .1 .2 .7 .1 0 0 .1 .3 .6 0 .1 0 0 0 .1 .3 .6 .1 .1 0 0 .3 .6 0 .1 0 0 .3 .6 0 .1 .1 0 .2 .6 .1 0 0 .1 .3 .5 0 .1 0 0 .3 .5 0 0 .1 .1 0 0 .3 .5 0 .1 0 0 .3 .5 0 0 .1 .1 .2 .3 0 .1 .1 .1 0 0 .3 .4 0 .1 0 0 .3 .4 .1 .1 0 0 .2 .3 .1 .1 0 0 0 .1 .3 .3 0 .1 .1 0 .2 .4 .1 0 0 0 .2 .3 .1 .1 0 0 0 .1 .3 .3 .1 0 0 0 .3 .4 0 0 0 0 .2 .2 .1 .1 0 .1 .1 0 .2 .3 .1 0 0 0 .3 .3 0 0 0 0 .2 .2 .1 .1 .1 0 0 .1 .3 .2 0 0 0 .1 .3 .2 0 0 .1 0 .1 .2 .1 .1 .1 0 0 0 .3 .2 0 .1 0 0 .3 .2 .1 0 0 0 .1 .1 .2 .1 0 .1 0 0 .3 .2 0 0 .1 0 .2 .2 .1 0 0 0 .1 .1 .2 .1 0 0 0 .1 .3 .1 .1 .1 0 0 .3 .1 0 .1 .1 0 .2 .1 .1 .1 .2 .1 .1 0 .3 .2 0 0 .1 0 .2 .2 .1 0 .3 .1 0 0 .3 .2 .1 0 0 0 .2 .1 .1 .1 .3 .1 0 0 .3 .1 .1 0 0 0 .3 .2 0 0 .3 .1 .1 0 .2 .1 .1 0 .3 .1 0 .1 .3 .1 .1 0 .3 .1 0 0 0 0 .3 .1 .1 0 .2 .1 .1 0 .3 .1 0 0 0 0 .3 .1 .1 0 .3 .1 0 0 .3 .1 .1 0 .2 .1 .1 0 .3 .1 0 0 .3 0 0 0 .1 0 .3 .1 0 0 .3 .1 .1 0 .2 .1 0 0 .1 0 .3 0 0 .1 .3 0 .1 0 .2 .1 .1 0 0 0 .3 .1 .1 0 .2 0 .1 0 .2 .1 .1 0 0 0 .3 0 .1 .1 .3 0 0 0 .2 .1 .1 0 .1 0 .2 0 .1 0 .3 .1 0 0 .2 0 .1 0 .1 0 .3 .1 0 0 .3 0 .1 0 .1 .1 .1 0 .1 0 .3 0 0 0 .3 .1 .1 0 .1 0 .2 0 0 0 .3 .1 .1 0 .2 0 .1 0 .1 0 .2 .1 .4 0 .3 0 .1 .1 .3 0 .3 0 .3 .1 .1 0 .3 0 .3 0 .4 .1 0 0 .3 0 .3 0 .4 .1 0 0 .3 0 .4 0 .3 .1 .3 0 .4 0 .3 0 0 0 .4 .1 .3 0 .3 0 0 0 .4 0 .3 .1 .3 0 .1 0 .3 0 .3 0 .3 .1 .1 0 .3 0 .4 0 .2 0 .1 0 .3 0 .4 .1 .2 0 .1 0 .4 0 .3 0 .2 0 .1 0 .4 .1 .3 0 .2 0 .2 0 .3 0 .3 0 .2 0 .2 0 .3 .1 .4 0 .1 0 .2 0 .3 0 .4 0 .1 0 .2 0 .4 .1 .3 0 .1 0 .2 0 .4 0 .3 0 .1 0 .3 0 .3 0 .3 .1 .1 0 .3 0 .3 0 .4 0 0 0 .3 0 .3 0 .4 0 0 0 .3 0 .4 0 .3 .1 .3 0 .4 0 .3 0 0 0 .4 0 .3 0 .3 0 0 0 .4 0 .3 0 .3 0 .1 0 .3 .1 .3 0 .3 0 .1 0 .3 0 .4 0 .2 0 .1 0 .3 0 .4 0 .2 0 .1 0 .4 0 .3 0 .2 0 .1 0 .4 .1 .3 0 .2 0 .2 0 .3 0 .3 0 .2 0 .2 0 .3 0 .4 0 .1 0 .2 0 .3 0 .4 0 .1 0 .2 0 .4 0 .3 0 .1 0 .2 .1 .4 0 .3 0 .1 0 .3 0 .3 0 .3 0 .1 0 .3 0 .3 0 .4 0 0 0 .3 0 .3 0 .4 0 0 0 .3 0 .4 0 .3 0 .3 0 .4 0 .3 0 0 0 .4 .1 .3 0 .3 0 0 0 .4 0 .3 0 .3 0 .1 0 .3 0 .3 0 .3 0 .1 0 .3 0 .4 0 .2 0 .1 0 .3 0 .4 0 .2 0 .1 0 .4 0 .3 0 .2 0 .1 0 .4 0 .5 0 1 0 1 .1 1 0 1 0 1 0 1 0 1 0 1 0 1 0 1 0 1 0 1 0 1 .1 1 0 1 0' fill='none' stroke='#3b6ee6' stroke-width='1.8'/><path d='M123.5 325.4l1 0 1 0 1 0 1 0 1 0 1 0 1-.1 1 0 1 0 1 0 1 0 1 0 1 0 1 0 1-.1 1 0 1 0 1 0 1 0 1-.1 1 0 1 0 1 0 1 0 1-.1 1 0 1 0 1-.1 1 0 1 0 1-.1 1 0 1-.1 1 0 1-.1 1 0 1-.1 1-.1 1 0 1-.1 1-.1 1-.1 1-.1 1-.1 .8-.1 .2 0 .1 0 0 0 .3-.1 .1 0 .3 0 0 0 .2-.1 .1 0 .1 0 .3 0 0 0 .3-.1 0 0 .2 0 .1 0 .1 0 .3-.1 0 0 .3 0 .1-.1 .1 0 .2 0 0 0 .3-.1 0 0 .3 0 .1 0 .1-.1 .2 0 0 0 .3-.1 .1 0 .3 0 0-.1 .1 0 .2 0 0 0 .3-.1 .1 0 .3-.1 0 0 .1 0 .2-.1 .1 0 .3-.1 0 0 .3 0 0-.1 .1 0 .2 0 .1-.1 .3 0 0-.1 .3-.1 .1 0 0 0 .3-.1 0 0 .3-.1 0 0 .3-.1 .1 0 0 0 .3-.1 0 0 .3-.2 .1 0 .3-.1 0 0 .3-.1 0-.1 .3-.1 .1 0 0 0 .3-.2 0 0 0 0 0 0 .3-.1 .1 0 0-.1 .3-.1 0 0 0 0 .3-.2 0 0 .1 0 .2-.2 .1 0 0 0 .3-.2 0 0 0 0 .3-.2 0 0 .1 0 0 0 .3-.2 0-.1 0 0 .3-.2 0 0 .1 0 .2-.2 0 0 .1-.1 0 0 .3-.2 0 0 0 0 .3-.3 .1 0 0 0 .2-.2 .1-.1 0 0 0 0 .3-.3 0 0 .1 0 .2-.3 .1-.1 0 0 .2-.2 .1-.1 0 0 0 0 .3-.3 .1-.1 0 0 .3-.3 0-.1 0 0 .2-.2 .1-.2 0 0 .1 0 .2-.4 .1 0 0-.1 .3-.4 0 0 0 0 .2-.3 .1-.2 .1 0 0 0 .3-.5 0 0 0-.1 .3-.4 0-.1 .1 0 .1-.3 .1-.2 .1-.1 0 0 .3-.5 0-.1 0-.1 .3-.5 .1-.1 0 0 .1-.3 .2-.3 0-.1 0 0 .3-.6 0-.1 .1-.1 .2-.6 .1-.1 0 0 .1-.3 .2-.4 0-.1 0 0 .3-.7 .1-.1 0-.1 .3-.7 0-.1 0-.1 .1-.2 .2-.5 0-.1 .1-.1 .2-.8 .1-.1 0 0 .3-.9 0-.1 0 0 .1-.2 .2-.6 .1-.2 0 0 .3-.9 0-.1 0 0 .3-.9 0-.1 .1-.1 0-.1 .2-.7 .1-.1 0-.1 .3-.8 0-.1 0 0 .3-.8 .1-.1 0-.1 0-.1 .3-.7 0-.1 0 0 .3-.7 0-.1 .1 0 .2-.7 .1-.1 0 0 .3-.6 0 0 0-.1 .3-.4 .1-.1 0 0 .3-.3 0-.1 0 0 .3-.2 0-.1 .1 0 .2-.1 .1 0 0 0 .3 0 0 0 0 0 0 0 .3 .2 .1 0 0 0 .3 .3 0 0 0 0 .3 .4 0 .1 .1 0 .2 .5 .1 .1 0 0 .3 .6 0 .1 0 0 .3 .6 0 0 .1 .1 0 .1 .3 .7 0 .1 0 .1 .3 .7 0 .1 .1 .1 .2 .7 0 .1 .1 .1 0 .1 .3 .8 0 .1 0 .1 .3 .8 .1 .1 0 .1 .2 .6 .1 .2 0 .1 0 .1 .3 .8 0 .1 .1 .1 .2 .8 .1 .1 0 .1 .2 .6 .1 .2 0 .1 0 0 .3 .8 .1 .1 0 .1 .3 .7 0 .1 0 .1 .2 .5 .1 .2 0 .1 .1 .1 .2 .7 .1 0 0 .1 .3 .7 0 0 0 .1 .2 .4 .1 .2 .1 .1 0 .1 .3 .5 0 .1 0 .1 .3 .5 0 .1 .1 .1 .1 .2 .1 .3 .1 .1 0 0 .3 .5 0 .1 0 0 .3 .5 .1 .1 0 0 .1 .2 .2 .3 0 0 0 0 .3 .5 0 0 .1 .1 .2 .4 .1 0 0 .1 .1 .1 .2 .2 0 .1 0 0 .3 .4 .1 0 0 0 .3 .4 0 0 0 .1 .1 .1 .2 .2 0 0 .1 .1 .2 .3 .1 0 0 0 .3 .3 0 0 0 .1 .1 0 .2 .2 .1 .1 0 0 .3 .3 0 0 0 0 .3 .2 0 .1 .1 0 0 0 .2 .2 .1 .1 0 0 .3 .2 0 0 0 0 .3 .2 .1 .1 0 0 0 0 .3 .2 0 0 0 0 .3 .2 0 0 .1 .1 .2 .1 .1 .1 0 0 .3 .1 0 .1 0 0 .3 .1 .1 .1 0 0 .3 .1 0 0 0 0 .3 .2 0 0 .1 0 .2 .2 .1 0 0 0 .3 .1 0 0 0 0 0 0 .3 .2 .1 0 0 0 .3 .1 0 0 0 0 .3 .2 0 0 .1 0 .2 .1 .1 0 0 0 .3 .1 0 0 0 0 .3 .1 0 0 .1 0 0 0 .3 .1 0 .1 0 0 .3 .1 0 0 .1 0 .2 0 0 .1 .1 0 0 0 .3 .1 0 0 0 0 .3 .1 .1 0 0 0 .2 0 .1 .1 0 0 0 0 .3 0 0 0 .1 .1 .2 0 .1 0 0 0 .2 .1 .1 0 0 0 0 0 .3 .1 .1 0 0 0 .3 .1 0 0 0 0 .2 0 .1 0 0 0 .1 0 .2 .1 .1 0 0 0 .3 .1 0 0 0 0 .2 0 .1 0 .1 0 0 0 .3 .1 0 0 0 0 .3 .1 0 0 .1 0 .1 0 .1 0 .1 0 0 0 .3 .1 0 0 0 0 .3 0 .1 0 0 0 .1 .1 .2 0 0 0 0 0 .3 0 0 0 .1 0 .2 .1 .1 0 0 0 .1 0 .2 0 0 0 0 0 .3 .1 .1 0 0 0 .3 0 0 0 .1 0 .2 .1 .1 0 .2 0 .1 0 .3 0 0 0 .1 .1 .2 0 .1 0 .3 0 0 0 .3 0 .1 .1 0 0 .2 0 .1 0 .3 0 0 0 .3 0 .1 .1 0 0 .3 0 0 0 .3 0 .1 0 .2 0 .1 0 .3 .1 0 0 .3 0 .1 0 .3 0 0 0 0 0 .3 .1 .1 0 .2 0 .1 0 .3 0 0 0 0 0 .3 0 .1 0 .3 .1 0 0 .3 0 .1 0 .2 0 .1 0 .3 0 0 0 .3 0 0 0 .1 0 .3 .1 0 0 .3 0 .1 0 .2 0 0 0 .1 0 .3 0 0 0 .3 0 .1 0 .2 .1 .1 0 0 0 .3 0 .1 0 .2 0 .1 0 .2 0 .1 0 0 0 .3 0 .1 0 .3 0 0 0 .2 .1 .1 0 .1 0 .2 0 .1 0 .3 0 0 0 .2 0 .1 0 .1 0 .3 0 0 0 .3 0 .1 0 .1 0 .1 0 .1 0 .3 .1 0 0 .3 0 .1 0 .1 0 .2 0 0 0 .3 0 .1 0 .2 0 .1 0 .1 0 .2 0 .4 0 .3 0 .1 0 .3 .1 .3 0 .3 0 .1 0 .3 0 .3 0 .4 0 0 0 .3 0 .3 0 .4 0 0 0 .3 0 .4 .1 .3 0 .3 0 .4 0 .3 0 0 0 .4 0 .3 0 .3 0 0 0 .4 0 .3 0 .3 0 .1 0 .3 0 .3 0 .3 .1 .1 0 .3 0 .4 0 .2 0 .1 0 .3 0 .4 0 .2 0 .1 0 .4 0 .3 0 .2 0 .1 0 .4 0 .3 0 .2 0 .2 0 .3 0 .3 0 .2 0 .2 0 .3 0 .4 .1 .1 0 .2 0 .3 0 .4 0 .1 0 .2 0 .4 0 .3 0 .1 0 .2 0 .4 0 .3 0 .1 0 .3 0 .3 0 .3 0 .1 0 .3 0 .3 0 .4 0 0 0 .3 0 .3 0 .4 0 0 0 .3 0 .4 0 .3 0 .3 0 .4 .1 .3 0 0 0 .4 0 .3 0 .3 0 0 0 .4 0 .3 0 .3 0 .1 0 .3 0 .3 0 .3 0 .1 0 .3 0 .4 0 .2 0 .1 0 .3 0 .4 0 .2 0 .1 0 .4 0 .3 0 .2 0 .1 0 .4 0 .3 0 .2 0 .2 0 .3 0 .3 0 .2 0 .2 0 .3 0 .4 0 .1 0 .2 0 .3 0 .4 0 .1 0 .2 0 .4 0 .3 0 .1 0 .2 0 .4 0 .3 0 .1 .1 .3 0 .3 0 .3 0 .1 0 .3 0 .3 0 .4 0 0 0 .3 0 .3 0 .4 0 0 0 .3 0 .4 0 .3 0 .3 0 .4 0 .3 0 0 0 .4 0 .3 0 .3 0 0 0 .4 0 .3 0 .3 0 .1 0 .3 0 .3 0 .3 0 .1 0 .3 0 .4 0 .2 0 .1 0 .3 0 .4 0 .2 0 .1 0 .4 0 .3 0 .2 0 .1 0 .4 0 .5 0 1 0 1 0 1 0 1 0 1 0 1 0 1 0 1 0 1 0 1 0 1 0 1 .1 1 0 1 0 1 0' fill='none' stroke='#ff2020' stroke-width='1.7'/><path d='M123.5 325.4l1 0 1 0 1 0 1 0 1 0 1-.1 1 0 1 0 1 0 1 0 1 0 1 0 1 0 1 0 1 0 1 0 1 0 1 0 1-.1 1 0 1 0 1 0 1 0 1 0 1 0 1 0 1-.1 1 0 1 0 1 0 1 0 1 0 1 0 1-.1 1 0 1 0 1 0 1 0 1 0 1-.1 1 0 1 0 1 0 1-.1 .8 0 .2 0 .1 0 0 0 .3 0 .1 0 .3 0 0 0 .2 0 .1 0 .1 0 .3 0 0 0 .3 0 0 0 .2 0 .1 0 .1 0 .3-.1 0 0 .3 0 .1 0 .1 0 .2 0 0 0 .3 0 0 0 .3 0 .1 0 .1 0 .2 0 0 0 .3 0 .1 0 .3 0 0 0 .1 0 .2 0 0 0 .3 0 .1-.1 .3 0 0 0 .1 0 .2 0 .1 0 .3 0 0 0 .3 0 0 0 .1 0 .2 0 .1 0 .3 0 0 0 .3 0 .1 0 0 0 .3 0 0 0 .3-.1 0 0 .3 0 .1 0 0 0 .3 0 0 0 .3 0 .1 0 .3 0 0 0 .3 0 0 0 .3 0 .1 0 0 0 .3-.1 0 0 0 0 0 0 .3 0 .1 0 0 0 .3 0 0 0 0 0 .3 0 0 0 .1 0 .2 0 .1 0 0 0 .3 0 0 0 0 0 .3-.1 0 0 .1 0 0 0 .3 0 0 0 0 0 .3 0 0 0 .1 0 .2 0 0 0 .1 0 0 0 .3 0 0 0 0 0 .3 0 .1 0 0 0 .2-.1 .1 0 0 0 0 0 .3 0 0 0 .1 0 .2 0 .1 0 0 0 .2 0 .1 0 0 0 0 0 .3 0 .1 0 0 0 .3-.1 0 0 0 0 .2 0 .1 0 0 0 .1 0 .2 0 .1 0 0 0 .3 0 0 0 0 0 .2 0 .1 0 .1 0 0 0 .3-.1 0 0 0 0 .3 0 0 0 .1 0 .1 0 .1 0 .1 0 0 0 .3 0 0 0 0 0 .3-.1 .1 0 0 0 .1 0 .2 0 0 0 0 0 .3 0 0 0 .1 0 .2 0 .1 0 0 0 .1 0 .2-.1 0 0 0 0 .3 0 .1 0 0 0 .3 0 0 0 0 0 .1 0 .2 0 0 0 .1 0 .2-.1 .1 0 0 0 .3 0 0 0 0 0 .1 0 .2 0 .1 0 0 0 .3-.1 0 0 0 0 .3 0 0 0 .1 0 0 0 .2 0 .1 0 0 0 .3-.1 0 0 0 0 .3 0 .1 0 0 0 0 0 .3 0 0 0 0 0 .3-.1 0 0 .1 0 .2 0 .1 0 0 0 .3 0 0 0 0 0 .3-.1 .1 0 0 0 .3 0 0 0 0 0 .3 0 0 0 .1-.1 .2 0 .1 0 0 0 .3 0 0 0 0 0 0 0 .3-.1 .1 0 0 0 .3 0 0 0 0 0 .3-.1 0 0 .1 0 .2 0 .1 0 0 0 .3 0 0 0 0-.1 .3 0 0 0 .1 0 0 0 .3 0 0 0 0 0 .3-.1 0 0 .1 0 .2 0 0 0 .1 0 0 0 .3-.1 0 0 0 0 .3 0 .1 0 0-.1 .2 0 .1 0 0 0 0 0 .3-.1 0 0 .1 0 .2 0 .1 0 0 0 .2-.1 .1 0 0 0 0 0 .3 0 .1 0 0 0 .3-.1 0 0 0 0 .2 0 .1-.1 0 0 .1 0 .2 0 .1 0 0 0 .3-.1 0 0 0 0 .2 0 .1-.1 .1 0 0 0 .3 0 0 0 0 0 .3-.1 0 0 .1 0 .1 0 .1-.1 .1 0 0 0 .3 0 0-.1 0 0 .3 0 .1 0 0 0 .1-.1 .2 0 0 0 0 0 .3-.1 0 0 .1 0 .2-.1 .1 0 0 0 .1 0 .2-.1 0 0 0 0 .3-.1 .1 0 0 0 .3 0 0-.1 0 0 .1 0 .2 0 0-.1 .1 0 .2 0 .1-.1 0 0 .3 0 0-.1 0 0 .1 0 .2 0 .1-.1 0 0 .3-.1 0 0 0 0 .3-.1 0 0 .1 0 0 0 .2-.1 .1 0 0 0 .3-.1 0 0 0 0 .3-.1 .1 0 0 0 0 0 .3-.1 0 0 0-.1 .3-.1 0 0 .1 0 .2-.1 .1 0 0 0 .3-.1 0 0 0-.1 .3-.1 .1 0 0 0 .3-.1 0 0 0 0 .3-.2 0 0 .1 0 .2-.1 .1 0 0 0 .3-.2 0 0 0 0 0 0 .3-.1 .1 0 0-.1 .3-.1 0 0 0 0 .3-.2 0 0 .1 0 .2-.1 .1-.1 0 0 .3-.1 0 0 0-.1 .3-.1 0 0 .1 0 0 0 .3-.2 0 0 0 0 .3-.2 0 0 .1 0 .2-.2 0 0 .1 0 0 0 .3-.2 0 0 0-.1 .3-.1 .1-.1 0 0 .2-.1 .1-.1 0 0 0 0 .3-.2 0 0 .1 0 .2-.2 .1 0 0-.1 .2-.1 .1-.1 0 0 0 0 .3-.2 .1 0 0 0 .3-.3 0 0 0 0 .2-.1 .1-.1 0-.1 .1 0 .2-.2 .1 0 0 0 .3-.3 0 0 0 0 .2-.1 .1-.1 .1-.1 0 0 .3-.2 0-.1 0 0 .3-.2 0-.1 .1 0 .1-.1 .1-.1 .1-.1 0 0 .3-.2 0-.1 0 0 .3-.3 .1 0 0 0 .1-.1 .2-.2 0 0 0 0 .3-.3 0 0 .1-.1 .2-.2 .1-.1 0 0 .1-.1 .2-.2 0 0 0 0 .3-.3 .1 0 0-.1 .3-.2 0-.1 .1-.1 .2-.2 .1 0 .2-.3 .1-.1 .3-.3 0 0 .1-.1 .2-.2 .1-.1 .3-.3 0 0 .3-.3 .1-.1 0 0 .2-.3 .1 0 .3-.3 0 0 .3-.3 .1-.1 0 0 .3-.2 0-.1 .3-.3 .1 0 .2-.3 .1 0 .3-.2 0-.1 .3-.2 .1-.1 .3-.2 0 0 0 0 .3-.2 .1-.1 .2-.2 .1 0 .3-.2 0 0 0 0 .3-.2 .1 0 .3-.1 0-.1 .3-.1 .1 0 .2-.1 .1 0 .3-.1 0 0 .3 0 0 0 .1-.1 .3 0 0 0 .3 0 .1 0 .2 0 0 0 .1 0 .3 .1 0 0 .3 0 .1 0 .2 .1 .1 0 0 0 .3 .1 .1 .1 .2 .1 .1 0 .2 .1 .1 0 0 .1 .3 .1 .1 .1 .3 .1 0 .1 .2 .1 .1 .1 .1 0 .2 .2 .1 .1 .3 .2 0 0 .2 .2 .1 .1 .1 0 .3 .2 0 .1 .3 .2 .1 .1 .1 .1 .1 .2 .1 0 .3 .3 0 0 .3 .3 .1 .1 .1 .1 .2 .1 0 .1 .3 .3 .1 .1 .2 .2 .1 .1 .1 .1 .2 .2 .4 .4 .3 .3 .1 .1 .3 .3 .3 .3 .3 .4 .1 0 .3 .3 .3 .3 .4 .4 0 0 .3 .3 .3 .3 .4 .3 0 0 .3 .3 .4 .3 .3 .3 .3 .3 .4 .3 .3 .2 0 .1 .4 .2 .3 .3 .3 .2 0 0 .4 .3 .3 .2 .3 .2 .1 .1 .3 .2 .3 .2 .3 .2 .1 0 .3 .2 .4 .2 .2 .2 .1 0 .3 .2 .4 .2 .2 .1 .1 .1 .4 .2 .3 .1 .2 .1 .1 .1 .4 .2 .3 .1 .2 .1 .2 .1 .3 .1 .3 .2 .2 0 .2 .1 .3 .1 .4 .2 .1 0 .2 .1 .3 .1 .4 .1 .1 .1 .2 0 .4 .2 .3 .1 .1 0 .2 .1 .4 .1 .3 .1 .1 0 .3 .1 .3 .1 .3 .1 .1 0 .3 .1 .3 0 .4 .1 0 0 .3 .1 .3 .1 .4 .1 0 0 .3 0 .4 .1 .3 .1 .3 .1 .4 0 .3 .1 0 0 .4 .1 .3 0 .3 .1 0 0 .4 0 .3 .1 .3 0 .1 .1 .3 0 .3 .1 .3 0 .1 0 .3 .1 .4 0 .2 .1 .1 0 .3 0 .4 .1 .2 0 .1 0 .4 .1 .3 0 .2 0 .1 0 .4 .1 .3 0 .2 0 .2 .1 .3 0 .3 0 .2 .1 .2 0 .3 0 .4 0 .1 .1 .2 0 .3 0 .4 0 .1 .1 .2 0 .4 0 .3 0 .1 .1 .2 0 .4 0 .3 0 .1 0 .3 .1 .3 0 .3 0 .1 0 .3 0 .3 .1 .4 0 0 0 .3 0 .3 0 .4 .1 0 0 .3 0 .4 0 .3 0 .3 .1 .4 0 .3 0 0 0 .4 0 .3 0 .3 .1 0 0 .4 0 .3 0 .3 0 .1 0 .3 0 .3 .1 .3 0 .1 0 .3 0 .4 0 .2 0 .1 0 .3 0 .4 .1 .2 0 .1 0 .4 0 .3 0 .2 0 .1 0 .4 0 .5 .1 1 0 1 0 1 .1 1 0 1 .1 1 0 1 0 1 0 1 .1 1 0 1 0 1 .1 1 0 1 0 1 0' fill='none' stroke='#ff2020' stroke-width='1.7'/><path d='M25 389.8l1-.3 1 .4 1 .3 1-.1 1 .2 1 0 1-.1 1-.2 1 .4 1-.1 1 .1 1 .2 1-.2 1 0 1-.2 1-.1 1-.2 1-.1 1 .2 1 .2 1 0 1 .5 1-.4 1 0 1 .3 1-.1 1-.2 1-.1 1 .2 1 .1 1-.1 1-.4 1-.2 1 .1 1 .1 1-.5 1 .2 1-.2 1-.2 1-.4 .2-.1 .3-.3 .3-.2 .2-.1 .2 .1 .3-.6 .3 0 .2 0 .2-.5 .3-.8 .3-.2 .2-.9 .2-1 .3-1.1 .3-1.7 .2-1.9 .2-2.3 .3-3.6 .3-5 .2-6.5 .2-8.3 .3-9.9 .3-8.7 .2-3.6 .2 3.8 .3 8.9 .3 10.2 .2 8.2 .2 6.3 .3 4.5 .3 3.3 .2 2.4 .2 2 .3 1.6 .3 1.5 .2 .6 .2 .7 .3-.1 .3 .6 .2 1 .2 .3 .3 .2 .3 .4 .2 .1 .2 .3 .3-.2 .3 .3 .2-.1 1 .5 1 .2 1-.1 1 .7 1 0 1-.1 1 .1 1 .7 1-.2 1-.2 1-.2 1-.2 1 .5 1-.1 1 .4 1-.3 1-.5 1 .4 1-.3 1 0 1 .3 1-.2 1 .3 1-.1 1 .1 1 .5 1 0 1 .2 1 0 1-.1 1 .2 1 .1 1-.2 1-.2 1-.5' fill='none' stroke='#111' stroke-width='1.3' stroke-linejoin='round'/><path d='M113.9 390.6h3.2M119.4 388.9h3.4' stroke='#222' stroke-width='1.2'/><path d='M123.5 391l1-.5 1 .9 1 .3 1-.4 1 .5 1-1 1-.5 1-.2 1 .6 1-.2 1-.5 1 .7 1-.1 1-.9 1 0 1 .2 1 .2 1 .8 1 .6 1 .8 1 0 1-.1 1-.1 1-.3 1-1.3 1 .1 1-.4 1-.3 1-.3 1-.2 1-.3 1-.8 1 .6 1-.4 1 .3 1 .4 1 .4 1-.6 1 .3 1-.3 1 .3 1 .6 1 1.7 1-1.7 1 .9 1 .6 1-.9 1 .8 1 0 1-.2 1 1.2 1-.5 1-.9 .2 0 .3-.1 .4 0 .1-.1 .2-.2 .4-.4 .1-.2 .2-.3 .1-.1 0 0 .2-.2 .2-.1 .2-.2 .1-.2 .2-.2 .1 0 .1-.1 .2 0 .1 0 .2-.1 .1 0 .2-.1 .1 0 .1 .1 .2 .3 .1 .2 .2 .3 .1 .1 .1 .1 .2 .3 0 .1 0-.1 .1 0 .2-.3 .1-.1 0-.1 .2-.3 .1-.1 .1-.1 .2-.2 0-.1 .1 .1 0 0 .2 0 .1 .1 .1 0 .2 .1 0 0 .1 0 .2 .1 .1 0 0 0 .2 0 .1 0 .1 0 .2 0 .1 0 0 0 .2 0 0 0 .1 0 .1 .1 .2 .1 0 0 .1 .1 .2 .1 .1 0 0 .1 .2 .1 0 0 .1-.1 .1 0 .2 0 .1-.1 0 0 .2 0 .1 0 .1-.1 .1 0 .1 0 0-.1 .1 0 .2-.1 .1 0 0-.1 .2-.1 .1 0 .1 0 .1-.1 .1 0 .1-.1 0 0 .2-.2 .1 0 .1-.1 .2-.1 0-.1 .1 0 .1-.1 .1 0 .1-.1 0 0 .2 0 .1-.1 .1 0 .2 0 .1-.1 0 0 .1 0 .1 0 .1 .1 .1 0 .2 0 0 0 .1 0 .2 .1 .1 0 0 0 .1 0 .1 .1 .1 0 .1 .1 .2 .1 .1 0 0 0 .2 .1 .1 .1 .1 0 0 0 .2 .2 0 .1 .1 0 .2 .2 .1 .1 0 .1 .2 .2 .1 .1 .1 0 0 .1 .2 0 .1 0 0 0 .2 0 .1 0 .1 0 .2 0 0 0 .1 0 .2 .2 .1 0 0 .1 .2 .2 .1 0 .1 .1 .2 .2 .1 .1 0 0 0 0 .2-.1 .1 0 .1 0 .2 0 0 0 .1-.1 .2 0 .1 0 0 0 0 0 .2 0 .1-.1 .1 0 .2 0 .1 0 0 0 .2-.1 .1 0 .1 0 .2-.2 0 0 .1-.1 .2-.1 .1-.1 0 0 .2-.2 .1 0 0 0 .1 0 .2 .1 .1 0 0 0 .2 0 .1 .1 .1 0 .2 0 0 0 0 0 .1-.1 .2-.2 .1-.1 0-.1 .2-.2 .1-.1 .1-.1 .2-.2 0-.1 .1 .1 0 .1 .2 .2 .1 0 .1 .1 .2 .2 0 .1 .1 0 .2 .2 .1 .1 0 .1 .2 .3 .1 .1 .1 0 .2 .3 .1 .1 0 .1 .2 .2 0 0 .1 0 .1 0 .2-.1 0 0 .1 0 .2-.1 .1 0 0 0 .2 0 0 0 .1 .1 .1 0 .2 .2 .1 0 0 .1 .2 .1 .1 .1 .1 0 .1 .1 .1 0 0 0 .1 0 .2-.1 .1 0 0 0 .2 0 .1-.1 .1 0 .1 0 .1 0 .1 0 0 .1 .2 0 .1 0 .1 0 .2 .1 0 0 .1 0 .1 0 .1 .1 .1 .1 0 0 .2 .2 .1 .1 .1 .1 .2 .2 .1 0 0 .1 .1 .1 .1 0 .1 .1 .1 0 .2 0 0 .1 .1 0 .2 .1 .1 0 0 0 .1 0 .1 .1 .1 .1 .1 .1 .2 .1 .1 .1 0 0 .2 .2 .1 0 .1 .1 0 0 .2 0 0 .1 .1 0 .2 0 .1 0 0 .1 .2 0 .1 0 .1 0 0 0 .2-.2 .1-.1 0-.1 .2-.3 .1-.1 .1-.1 .2-.3 0-.1 .1-.1 .2 0 .1 0 0 0 .2 0 .1 0 .1 0 .2 0 .1 0 0 0 0 0 .2-.1 .1 0 .1 0 .2 0 0 0 .1 0 .2 0 .1 0 0 0 0 0 .2 0 .1 0 .1 0 .2-.1 .1 0 .2 0 .1 0 .3-.1 0 0 .3-.1 .1 0 .2-.1 .1 0 0 0 .3 .2 .1 0 .2 .2 .1 0 .3 .1 0 .1 0-.1 .3 0 .1-.1 .2-.1 .1 0 .3-.1 0 0 .1 0 .2-.2 .1-.1 .3-.1 0-.1 .3-.2 .1-.1 .2-.3 .1-.1 .3-.4 .1-.1 .2-.3 0 0 .1 0 .3-.1 0 0 .3 0 .1 0 .2 0 0 0 .1-.1 .3-.4 .1-.1 .2-.3 .1-.1 .2-.3 .1 0 0 .1 .3 .2 .1 0 .2 .2 .1 0 .2 .1 .1 0 .1-.1 .2-.3 .1-.1 .3-.3 0-.1 .2-.2 .1 .1 .1 0 .2 .1 .1 .1 .3 .1 .1 .1 .1 .1 .1 0 .1 .1 .3 .1 0 .1 .3 .1 .1 .1 .1 .1 .1 .1 .1 .1 .3 .2 .1 .1 .2 .2 .1 .1 .1 .1 .2 .1 0 .1 .3 .2 .1 .1 .2 .2 .1 .1 .1 0 .2 .1 .1 0 .2 .1 .1 .1 .3 .1 0 0 .1 0 .2 .3 .1 .2 .2 .4 .1 .1 .3 .4 .1 .1 0 .1 .3-.4 .3-.5 .4-.5 0 0 .3-.4 .4-.4 .3-.3 .3-.1 .4 0 .3 0 0-.1 .4-.5 .3-.5 .3-.4 0 0 .4 0 .3 .1 .3 .1 .1 0 .3 0 .3 0 .3 0 .1 .1 .3 .4 .4 .3 .2 .3 .1 0 .3 .1 .4 .1 .2 .1 .1 0 .4 .1 .3 0 .2 .1 .1-.1 .4-.1 .3-.1 .2-.1 .2 0 .3-.1 .3 0 .2-.1 .2 0 .3 0 .4 0 .1 0 .2-.4 .3-.5 .4-.6 .1-.2 .2 .3 .4 .4 .3 .4 .1 .1 .2 .2 .4 .2 .3 .2 .1 .1 .3 .2 .3 .2 .3 .3 .1 0 .3-.1 .3-.2 .4-.1 0-.1 .3 .4 .3 .4 .4 .3 0 .1 .3-.3 .4-.3 .3-.3 .3 .1 .4 .1 .3 0 0 0 .4 0 .3-.1 .3 0 0 0 .4-.3 .3-.2 .3-.1 .1 0 .3 .2 .3 .1 .3 .1 .1 0 .3-.2 .4-.2 .2-.2 .1 .1 .3 .2 .4 .1 .2 .2 .1 0 .4 .2 .3 .1 .2 .1 .1 0 .4 .1 .3 0 .2 0 .2 0 .3 0 .3 0 .2 0 .2-.1 .3-.1 .5-.1 1 .8 1-1 1-1.1 1-.2 1-.6 1 0 1 0 1 .4 1 1.5 1-.8 1-.8 1-.7 1-.7 1 .3 1-.5 1 .4 1-1.4 1 2.5 1 1.3 1 1.2 1-.3 1-.5 1 1.2 1-.4 1-.4 1 .7 1 .8 1 0 1-.4 1-1.1 1 1.2 1-1.9 1 .2 1-.9 1 1.1 1-.3 1 .5 1-.1 1 0 1 0 1-1 1 1.5 1 .5 1 .3 1 .8' fill='none' stroke='#dedede' stroke-width='2.2' stroke-linejoin='round'/><path d='M123.5 388.1l1-.1 1 0 1 0 1 0 1 0 1 0 1 0 1-.1 1 0 1 0 1 0 1 0 1-.1 1 0 1 0 1 0 1-.1 1 0 1 0 1-.1 1 0 1 0 1-.1 1 0 1 0 1-.1 1 0 1-.1 1 0 1-.1 1 0 1-.1 1 0 1-.1 1-.1 1-.1 1 0 1-.1 1-.1 1-.1 1-.2 1-.1 1-.1 1-.2 1-.1 1-.2 1-.2 1-.2 1-.3 1-.2 1-.3 1-.4 1-.2 .2 0 .3-.1 .4-.1 .1 0 .2-.1 .4-.1 .1 0 .2-.1 .1-.1 0 0 .2-.1 .2 0 .2-.2 .1 0 .2-.1 .1-.1 .1 0 .2-.2 .1-.1 .2-.1 .1-.1 .2-.1 .1-.1 .1 0 .2-.2 .1-.1 .2-.2 .1 0 .1-.1 .2-.2 0 0 0 0 .1-.1 .2-.2 .1-.1 0 0 .2-.2 .1-.1 .1 0 .2-.2 0-.1 .1 0 0-.1 .2-.2 .1-.1 .1 0 .2-.2 0-.1 .1-.1 .2-.2 .1-.1 0-.1 .2-.2 .1-.1 .1 0 .2-.3 .1-.1 0 0 .2-.2 0-.1 .1-.1 .1 0 .2-.3 0-.1 .1-.1 .2-.3 .1-.1 0-.1 .2-.3 0-.1 .1-.1 .1-.2 .2-.4 .1-.2 0-.1 .2-.5 .1-.3 .1-.1 .1-.4 .1-.2 0-.2 .1-.2 .2-.6 .1-.2 0-.2 .2-.6 .1-.3 .1-.2 .1-.4 .1-.3 .1-.2 0-.2 .2-.7 .1-.3 .1-.2 .2-.8 0-.3 .1-.2 .1-.3 .1-.4 .1-.3 0-.2 .2-.8 .1-.3 .1-.2 .2-.7 .1-.3 0-.3 .1-.3 .1-.4 .1-.3 .1-.2 .2-.8 0-.2 .1-.3 .2-.7 .1-.3 0-.3 .1-.2 .1-.6 .1-.3 .1-.3 .2-.9 .1-.3 0-.3 .2-.9 .1-.3 .1-.3 0-.2 .2-.7 0-.4 .1-.3 .2-.9 .1-.4 0-.3 .2-.9 .1-.4 .1-.3 0-.1 .2-.8 .1-.4 0-.3 .2-.9 .1-.4 .1-.3 .2-.9 0-.3 .1-.3 .2-.9 .1-.4 0-.3 .2-1 .1-.4 .1-.3 .2-1 .1-.4 0-.2 0-.1 .2-1 .1-.5 .1-.3 .2-1 0-.4 .1-.3 .2-1 .1-.4 0-.1 0-.2 .2-.9 .1-.4 .1-.2 .2-.9 .1-.3 0-.3 .2-.7 .1-.3 .1-.2 .2-.7 0-.2 .1-.1 .2-.5 .1-.2 0-.2 .2-.5 .1-.1 0-.1 .1-.1 .2-.5 .1-.2 0-.1 .2-.4 .1-.2 .1-.1 .2-.3 0-.1 0 0 .1-.1 .2-.2 .1-.1 0 0 .2-.1 .1 0 .1 0 .2 0 0 0 .1 .1 0 0 .2 .1 .1 0 .1 .1 .2 .1 0 .1 .1 .1 .2 .2 .1 .1 0 .1 .2 .2 .1 .1 .1 .1 .2 .3 .1 .2 0 .1 .2 .3 0 0 .1 .2 .1 .1 .2 .3 0 .2 .1 .1 .2 .4 .1 .2 0 .1 .2 .3 0 .1 .1 .2 .1 .1 .2 .4 .1 .2 0 .2 .2 .4 .1 .2 .1 .1 .1 .3 .1 .2 0 .1 .1 .2 .2 .4 .1 .2 0 .1 .2 .6 .1 .2 .1 .2 .1 .3 .1 .3 .1 .3 0 .2 .2 .7 .1 .3 .1 .2 .2 .8 0 .3 .1 .2 .1 .4 .1 .4 .1 .4 0 .2 .2 .8 .1 .3 .1 .3 .2 .8 .1 .3 0 .2 .1 .3 .1 .5 .1 .2 .1 .3 .2 .6 0 .3 .1 .2 .2 .5 .1 .2 0 .2 .1 .2 .1 .3 .1 .2 .1 .1 .2 .5 .1 .2 0 .2 .2 .4 .1 .2 .1 .2 0 0 .2 .4 0 .2 .1 .1 .2 .5 .1 .1 0 .2 .2 .4 .1 .2 .1 .1 0 0 .2 .4 .1 .2 0 .1 .2 .4 .1 .1 .1 .2 .2 .3 0 .2 .1 .1 .2 .4 .1 .1 0 .1 .2 .4 .1 .2 .1 .1 .2 .3 .1 .2 0 0 0 .1 .2 .3 .1 .1 .1 .1 .2 .4 0 .1 .1 .1 .2 .3 .1 .2 0 0 0 .1 .2 .3 .1 .1 .1 .1 .2 .3 .1 .1 .2 .4 .1 .1 .3 .4 0 .1 .3 .4 .1 .1 .2 .4 .1 .1 0 0 .3 .4 .1 .1 .2 .3 .1 .1 .3 .4 0 0 0 .1 .3 .3 .1 .1 .2 .3 .1 .1 .3 .3 0 0 .1 .1 .2 .3 .1 .1 .3 .3 0 0 .3 .3 .1 .1 .2 .3 .1 .1 .3 .2 .1 .1 .2 .3 0 0 .1 .1 .3 .3 0 0 .3 .3 .1 .1 .2 .2 0 0 .1 .1 .3 .3 .1 .1 .2 .2 .1 .1 .2 .2 .1 .1 0 0 .3 .3 .1 .1 .2 .2 .1 .1 .2 .2 .1 0 .1 .1 .2 .3 .1 0 .3 .3 0 0 .2 .2 .1 .1 .1 .1 .2 .2 .1 .1 .3 .2 .1 .1 .1 .1 .1 .1 .1 .1 .3 .2 0 0 .3 .3 .1 0 .1 .1 .1 .1 .1 .1 .3 .2 .1 .1 .2 .2 .1 .1 .1 0 .2 .2 0 0 .3 .2 .1 .1 .2 .2 .1 0 .1 .1 .2 .1 .1 .1 .2 .2 .1 0 .3 .2 0 .1 .1 0 .2 .1 .1 .1 .2 .1 .1 .1 .3 .1 .1 .1 0 0 .3 .2 .3 .2 .4 .2 0 0 .3 .2 .4 .2 .3 .2 .3 .1 .4 .2 .3 .2 0 .1 .4 .2 .3 .2 .3 .2 0 0 .4 .2 .3 .3 .3 .2 .1 0 .3 .3 .3 .3 .3 .2 .1 .1 .3 .3 .4 .3 .2 .2 .1 .1 .3 .3 .4 .3 .2 .2 .1 .2 .4 .3 .3 .4 .2 .2 .1 .1 .4 .4 .3 .3 .2 .2 .2 .2 .3 .4 .3 .4 .2 .2 .2 .2 .3 .4 .4 .4 .1 .1 .2 .1 .3 .1 .4 .2 .1 0 .2 .1 .4 .2 .3 .1 .1 .1 .2 .1 .4 .1 .3 .1 .1 .1 .3 0 .3 .2 .3 .1 .1 0 .3 .1 .3 .1 .4 .1 0 0 .3 .1 .3 .1 .4 0 0 .1 .3 0 .4 .1 .3 .1 .3 .1 .4 0 .3 .1 0 0 .4 .1 .3 0 .3 .1 0 0 .4 .1 .3 0 .3 .1 .1 0 .3 0 .3 .1 .3 0 .1 0 .3 .1 .4 0 .2 .1 .1 0 .3 0 .4 .1 .2 0 .1 0 .4 0 .3 .1 .2 0 .1 0 .4 .1 .3 0 .2 0 .2 0 .3 .1 .3 0 .2 0 .2 0 .3 .1 .5 0 1 .1 1 .1 1 0 1 .1 1 .1 1 0 1 .1 1 0 1 .1 1 0 1 .1 1 0 1 0 1 .1 1 0 1 .1 1 0 1 0 1 0 1 .1 1 0 1 0 1 0 1 .1 1 0 1 0 1 0 1 0 1 .1 1 0 1 0 1 0 1 0 1 0 1 0 1 .1 1 0 1 0 1 0 1 0 1 0 1 0 1 0 1 .1 1 0' fill='none' stroke='#e2c6ec' stroke-width='2.6'/><path d='M123.5 390.4l1-1.7 1 1 1 .7 1-2.2 1 1.8 1-.6 1 1.4 1-2.2 1 1.9 1 1.6 1-1.6 1-2.7 1 1.4 1 1.6 1-2.2 1 1.5 1-.8 1 .3 1-.5 1-.9 1 1.8 1 .5 1-.2 1-.5 1-1 1 .7 1 0 1-2.7 1 1.8 1-.8 1 1.5 1 0 1-.7 1-1.1 1 1.4 1-.6 1-2.5 1 2.1 1-.9 1 3.7 1-2.4 1 0 1-.1 1-1 1 0 1 2 1-1.4 1 .1 1-.1 1-3.2 1 3.8 1-1.6 1 .3 .2-.5 .3-.7 .4-.7 .1-.3 .2 .5 .4 .8 .1 .3 .2 .5 .1 .2 0 0 .2-.4 .2-.3 .2-.4 .1-.3 .2-.4 .1-.1 .1-.1 .2-.3 .1-.3 .2-.3 .1-.2 .2-.4 .1-.1 .1 .2 .2 .4 .1 .3 .2 .4 .1 .2 .1 .1 .2 .4 0 .1 0-.2 .1-.2 .2-.8 .1-.3 0-.2 .2-.8 .1-.3 .1-.2 .2-.8 0-.1 .1-.1 0-.1 .2-.4 .1-.2 .1-.1 .2-.4 0-.2 .1-.1 .2-.4 .1-.1 0 0 .2-.2 .1-.1 .1 0 .2-.2 .1-.1 0-.1 .2-.2 0 0 .1 0 .1 0 .2-.1 0-.1 .1 0 .2-.2 .1 0 0-.1 .2-.2 0 0 .1-.1 .1-.1 .2-.3 .1-.2 0-.1 .2-.4 .1-.1 .1-.2 .1-.3 .1-.2 0-.3 .1-.2 .2-.8 .1-.3 0-.2 .2-.8 .1-.4 .1-.2 .1-.5 .1-.2 .1-.2 0-.1 .2-.5 .1-.2 .1-.2 .2-.5 0-.2 .1-.2 .1-.2 .1-.4 .1-.3 0-.3 .2-.7 .1-.3 .1-.3 .2-.8 .1-.3 0-.2 .1-.3 .1-.9 .1-.5 .1-.4 .2-1.4 0-.5 .1-.4 .2-1.4 .1-.5 0-.5 .1-.4 .1-.5 .1-.2 .1-.3 .2-.7 .1-.3 0-.2 .2-.8 .1-.3 .1-.2 0-.2 .2-1 0-.5 .1-.4 .2-1.3 .1-.5 0-.4 .2-1.3 .1-.5 .1-.3 0-.2 .2-.5 .1-.2 0-.1 .2-.6 .1-.2 .1-.1 .2-.6 0-.2 .1-.1 .2-.8 .1-.3 0-.3 .2-.8 .1-.3 .1-.3 .2-.9 .1-.3 0-.2 0-.1 .2-1.1 .1-.5 .1-.3 .2-1.1 0-.4 .1-.3 .2-1.1 .1-.4 0-.1 0-.2 .2-1.3 .1-.5 .1-.4 .2-1.2 .1-.5 0-.4 .2-1.1 .1-.4 .1-.1 .2-.5 0-.1 .1-.1 .2-.4 .1-.1 0-.1 .2-.3 .1-.1 0 0 .1-.1 .2-.2 .1 0 0-.1 .2-.1 .1-.1 .1 0 .2-.1 0 0 0-.1 .1-.2 .2-.7 .1-.2 0-.2 .2-.5 .1-.2 .1-.1 .2-.4 0-.1 .1 .1 0 .1 .2 .2 .1 .1 .1 .1 .2 .3 0 .1 .1 .1 .2 .3 .1 .1 0 .1 .2 .3 .1 .1 .1 .1 .2 .4 .1 .1 0 .1 .2 .4 0-.1 .1 0 .1 0 .2-.1 0-.1 .1 0 .2-.1 .1 0 0 0 .2-.1 0 .2 .1 .4 .1 .3 .2 1 .1 .4 0 .3 .2 1.1 .1 .4 .1 .3 .1 .7 .1 .1 0 .1 .1 .1 .2 .4 .1 .1 0 .1 .2 .4 .1 .2 .1 .2 .1 .3 .1 .2 .1 .3 0 .2 .2 .8 .1 .3 .1 .2 .2 .8 0 .3 .1 .3 .1 .4 .1 .2 .1 .2 0 .2 .2 .5 .1 .2 .1 .2 .2 .5 .1 .2 0 .1 .1 .2 .1 .6 .1 .4 .1 .3 .2 .9 0 .4 .1 .3 .2 .8 .1 .4 0 .2 .1 .2 .1 .3 .1 .1 .1 .1 .2 .4 .1 .1 0 .1 .2 .3 .1 .1 .1 .1 0 .1 .2 .4 0 .3 .1 .1 .2 .6 .1 .2 0 .1 .2 .6 .1 .2 .1 .1 0 .1 .2 .4 .1 .1 0 .1 .2 .5 .1 .1 .1 .1 .2 .4 0 .2 .1 .1 .2 .4 .1 .2 0 .1 .2 .4 .1 .2 .1 .1 .2 .4 .1 .1 0 .1 0 .1 .2 .7 .1 .2 .1 .3 .2 .6 0 .3 .1 .2 .2 .7 .1 .3 0 0 0 .1 .2 .2 .1 .1 .1 .1 .2 .2 .1 .1 .2 .3 .1 .1 .3-.2 0-.1 .3-.2 .1-.1 .2-.3 .1 0 0 0 .3 .6 .1 .1 .2 .6 .1 .1 .3 .6 0 0 0 .2 .3 .9 .1 .3 .2 1 .1 .3 .3 .9 0 .1 .1-.1 .2-.3 .1-.1 .3-.4 0-.1 .3-.3 .1 .2 .2 .8 .1 .3 .3 .8 .1 .2 .2 .8 0 0 .1 .1 .3 .3 0 .1 .3 .4 .1 .1 .2 .3 0-.1 .1-.1 .3-.3 .1-.1 .2-.3 .1-.1 .2-.2 .1 0 0 .1 .3 .3 .1 .1 .2 .2 .1 .1 .2 .2 .1 .1 .1 .1 .2 .3 .1 .1 .3 .2 0 .1 .2 .2 .1 0 .1 0 .2 0 .1 0 .3 0 .1 0 .1 0 .1 .1 .1 .1 .3 .3 0 0 .3 .3 .1 .1 .1 .1 .1 .3 .1 .2 .3 .6 .1 .2 .2 .6 .1 .1 .1 .3 .2 .2 0 .1 .3 .4 .1 .1 .2 .4 .1 .1 .1 .2 .2-.1 .1 0 .2-.1 .1-.1 .3-.1 0 0 .1 0 .2 .2 .1 .1 .2 .2 .1 .1 .3 .3 .1 0 0 .1 .3-.1 .3-.1 .4-.1 0 0 .3-.1 .4 0 .3 0 .3 1.4 .4 1.4 .3 1.3 0 0 .4-1.4 .3-1.3 .3-1.2 0 .1 .4 1.1 .3 1.1 .3 .9 .1 .2 .3 .8 .3 .9 .3 .6 .1-.1 .3-.5 .4-.6 .2-.3 .1 .2 .3 1 .4 .9 .2 .6 .1 .2 .4 .6 .3 .7 .2 .3 .1-.1 .4-.3 .3-.3 .2-.1 .2 .2 .3 .4 .3 .4 .2 .3 .2 0 .3 0 .4 0 .1 0 .2 .6 .3 1 .4 .9 .1 .4 .2-.1 .4-.1 .3-.1 .1 0 .2 .2 .4 .2 .3 .3 .1 .1 .3 .4 .3 .6 .3 .6 .1 .1 .3-.1 .3-.2 .4-.1 0 0 .3 .5 .3 .6 .4 .6 0 .1 .3-.3 .4-.4 .3-.3 .3-.6 .4-.6 .3-.5 0 0 .4 .7 .3 .8 .3 .6 0 0 .4 .2 .3 .1 .3 .1 .1-.1 .3-.7 .3-.7 .3-.5 .1 .2 .3 1.2 .4 1.2 .2 .8 .1 0 .3-.2 .4-.2 .2-.2 .1 .2 .4 .3 .3 .3 .2 .2 .1-.2 .4-.5 .3-.5 .2-.3 .2 .2 .3 .3 .3 .4 .2 .2 .2-.2 .3-.2 .5-.3 1-.1 1-.6 1-2.9 1 5 1-4.3 1-.5 1 1.6 1 .3 1 1.7 1-1.2 1 1.3 1-1 1 4.1 1-3.1 1 2.4 1-3.6 1 2 1-2.1 1 2.2 1-.2 1-3.6 1 1.2 1 .7 1-.8 1 1.2 1 .5 1-.9 1 .7 1 .6 1-1.7 1 .4 1 1.1 1-.4 1-.2 1 .8 1 .3 1 .4 1-.1 1 2.5 1-.7 1-1.8 1 .6 1 1.3 1-2.8 1 1.5' fill='none' stroke='#140814' stroke-width='2.2' stroke-linejoin='round'/><path d='M123.5 388l1 0 1 0 1 0 1 0 1 0 1 0 1 0 1 0 1 0 1-.1 1 0 1 0 1 0 1 0 1 0 1 0 1 0 1-.1 1 0 1 0 1 0 1 0 1 0 1-.1 1 0 1 0 1 0 1 0 1-.1 1 0 1 0 1-.1 1 0 1 0 1-.1 1 0 1 0 1-.1 1 0 1-.1 1 0 1-.1 1-.1 1 0 1-.1 1-.1 1-.1 1-.1 1-.1 1-.1 1-.1 1-.2 1-.1 .2-.1 .3 0 .4-.1 .1 0 .2-.1 .4 0 .1-.1 .2 0 .1 0 0 0 .2-.1 .2 0 .2-.1 .1 0 .2 0 .1 0 .1-.1 .2 0 .1 0 .2-.1 .1 0 .2-.1 .1 0 .1 0 .2-.1 .1 0 .2-.1 .1 0 .1 0 .2-.1 0 0 0 0 .1 0 .2-.1 .1 0 0 0 .2-.1 .1 0 .1 0 .2-.1 0 0 .1 0 0 0 .2-.1 .1 0 .1-.1 .2 0 0-.1 .1 0 .2-.1 .1 0 0 0 .2-.1 .1 0 .1-.1 .2 0 .1-.1 0 0 .2-.1 0 0 .1 0 .1-.1 .2 0 0-.1 .1 0 .2-.1 .1 0 0-.1 .2-.1 0 0 .1 0 .1-.1 .2-.1 .1 0 0 0 .2-.2 .1 0 .1 0 .1-.1 .1-.1 0 0 .1 0 .2-.2 .1 0 0-.1 .2-.1 .1 0 .1-.1 .1-.1 .1 0 .1-.1 0 0 .2-.2 .1 0 .1-.1 .2-.1 0-.1 .1 0 .1-.1 .1-.1 .1-.1 0 0 .2-.2 .1-.1 .1 0 .2-.2 .1-.1 0 0 .1-.1 .1-.1 .1-.1 .1-.1 .2-.2 0 0 .1-.1 .2-.2 .1-.1 0-.1 .1-.1 .1-.1 .1-.1 .1-.1 .2-.2 .1-.1 0-.1 .2-.3 .1-.1 .1 0 0-.1 .2-.2 0-.1 .1-.1 .2-.3 .1-.1 0-.1 .2-.3 .1-.2 .1-.1 0 0 .2-.3 .1-.1 0-.1 .2-.4 .1-.1 .1-.1 .2-.4 0-.2 .1-.1 .2-.4 .1-.1 0-.2 .2-.4 .1-.2 .1-.1 .2-.5 .1-.1 0-.1 0-.1 .2-.5 .1-.1 .1-.2 .2-.5 0-.2 .1-.2 .2-.5 .1-.2 0-.1 0-.1 .2-.6 .1-.2 .1-.2 .2-.6 .1-.2 0-.2 .2-.6 .1-.3 .1-.2 .2-.7 0-.2 .1-.2 .2-.7 .1-.3 0-.2 .2-.8 .1-.2 0-.1 .1-.2 .2-.7 .1-.4 0-.2 .2-.8 .1-.3 .1-.2 .2-.8 0-.2 0-.1 .1-.3 .2-.8 .1-.3 0-.2 .2-.9 .1-.3 .1-.2 .2-.8 0-.1 .1-.2 0-.3 .2-.8 .1-.3 .1-.2 .2-.7 0-.3 .1-.2 .2-.7 .1-.3 0-.2 .2-.6 .1-.3 .1-.1 .2-.6 .1-.2 0-.2 .2-.4 0 0 .1-.2 .1-.1 .2-.3 0-.2 .1 0 .2-.3 .1 0 0-.1 .2-.1 0 0 .1 0 .1 0 .2 0 .1 .1 0 0 .2 .2 .1 0 .1 .1 .1 .2 .1 .1 0 .1 .1 .1 .2 .4 .1 .2 0 .2 .2 .5 .1 .2 .1 .1 .1 .4 .1 .2 .1 .3 0 .2 .2 .6 .1 .3 .1 .2 .2 .7 0 .3 .1 .3 .1 .3 .1 .4 .1 .3 0 .3 .2 .8 .1 .3 .1 .2 .2 .8 .1 .3 0 .3 .1 .3 .1 .5 .1 .3 .1 .3 .2 .8 0 .3 .1 .2 .2 .8 .1 .3 0 .3 .1 .2 .1 .5 .1 .3 .1 .3 .2 .7 .1 .3 0 .2 .2 .7 .1 .3 .1 .2 0 .2 .2 .5 0 .3 .1 .2 .2 .6 .1 .3 0 .2 .2 .6 .1 .2 .1 .2 0 .1 .2 .5 .1 .2 0 .2 .2 .5 .1 .3 .1 .1 .2 .5 0 .3 .1 .1 .2 .5 .1 .2 0 .1 .2 .5 .1 .2 .1 .1 .2 .4 .1 .2 0 .1 0 0 .2 .5 .1 .1 .1 .1 .2 .4 0 .2 .1 .1 .2 .3 .1 .2 0 0 0 .1 .2 .3 .1 .2 .1 .1 .2 .3 .1 .1 .2 .4 .1 .1 .3 .4 0 .1 .3 .4 .1 .1 .2 .3 .1 .1 0 0 .3 .3 .1 .1 .2 .3 .1 .1 .3 .3 0 0 0 0 .3 .3 .1 .1 .2 .2 .1 .1 .3 .2 0 0 .1 .1 .2 .2 .1 .1 .3 .2 0 .1 .3 .2 .1 0 .2 .2 .1 .1 .3 .1 .1 .1 .2 .1 0 .1 .1 0 .3 .2 0 0 .3 .2 .1 0 .2 .1 0 0 .1 .1 .3 .1 .1 .1 .2 .1 .1 0 .2 .1 .1 .1 0 0 .3 .1 .1 .1 .2 .1 .1 0 .2 .1 .1 0 .1 0 .2 .1 .1 .1 .3 .1 0 0 .2 .1 .1 0 .1 0 .2 .1 .1 0 .3 .1 .1 .1 .1 0 .1 0 .1 .1 .3 0 0 .1 .3 0 .1 .1 .1 0 .1 0 .1 .1 .3 0 .1 0 .2 .1 .1 0 .1 .1 .2 0 0 0 .3 .1 .1 0 .2 .1 .1 0 .1 0 .2 0 .1 0 .2 .1 .1 0 .3 .1 0 0 .1 0 .2 0 .1 .1 .2 0 .1 0 .3 .1 .1 0 0 0 .3 0 .3 .1 .4 0 0 0 .3 .1 .4 .1 .3 0 .3 0 .4 .1 .3 0 0 0 .4 .1 .3 0 .3 .1 0 0 .4 0 .3 0 .3 .1 .1 0 .3 0 .3 0 .3 .1 .1 0 .3 0 .4 0 .2 .1 .1 0 .3 0 .4 0 .2 .1 .1 0 .4 0 .3 0 .2 0 .1 0 .4 .1 .3 0 .2 0 .2 0 .3 0 .3 .1 .2 0 .2 0 .3 0 .4 0 .1 0 .2 0 .3 .1 .4 0 .1 0 .2 0 .4 0 .3 0 .1 0 .2 .1 .4 0 .3 0 .1 0 .3 0 .3 0 .3 0 .1 0 .3 .1 .3 0 .4 0 0 0 .3 0 .3 0 .4 0 0 0 .3 0 .4 .1 .3 0 .3 0 .4 0 .3 0 0 0 .4 0 .3 0 .3 0 0 0 .4 0 .3 .1 .3 0 .1 0 .3 0 .3 0 .3 0 .1 0 .3 0 .4 0 .2 0 .1 0 .3 0 .4 0 .2 0 .1 .1 .4 0 .3 0 .2 0 .1 0 .4 0 .3 0 .2 0 .2 0 .3 0 .3 0 .2 0 .2 0 .3 0 .5 0 1 .1 1 0 1 0 1 0 1 0 1 0 1 .1 1 0 1 0 1 0 1 0 1 0 1 0 1 0 1 .1 1 0 1 0 1 0 1 0 1 0 1 0 1 0 1 0 1 0 1 0 1 0 1 0 1 .1 1 0 1 0 1 0 1 0 1 0 1 0 1 0 1 0 1 0 1 0 1 0 1 0 1 0 1 0 1 0 1 0 1 0' fill='none' stroke='#3b6ee6' stroke-width='1.8'/><path d='M123.5 388.4l1 0 1 0 1 0 1 0 1 0 1 0 1 0 1 0 1 0 1 0 1 0 1-.1 1 0 1 0 1 0 1 0 1 0 1 0 1 0 1 0 1 0 1 0 1 0 1 0 1 0 1-.1 1 0 1 0 1 0 1 0 1 0 1 0 1-.1 1 0 1 0 1 0 1 0 1-.1 1 0 1 0 1-.1 1 0 1 0 1-.1 1 0 1-.1 1-.1 1 0 1-.1 1-.1 1-.1 1-.1 1-.1 .2-.1 .3 0 .4-.1 .1 0 .2 0 .4-.1 .1 0 .2-.1 .1 0 0 0 .2 0 .2-.1 .2 0 .1 0 .2-.1 .1 0 .1 0 .2 0 .1-.1 .2 0 .1-.1 .2 0 .1 0 .1-.1 .2 0 .1-.1 .2 0 .1 0 .1-.1 .2 0 0 0 0-.1 .1 0 .2 0 .1-.1 0 0 .2-.1 .1 0 .1 0 .2-.1 0 0 .1 0 0 0 .2-.1 .1-.1 .1 0 .2-.1 0 0 .1 0 .2-.1 .1-.1 0 0 .2-.1 .1-.1 .1 0 .2-.1 .1 0 0-.1 .2-.1 0 0 .1 0 .1-.1 .2-.1 0-.1 .1 0 .2-.1 .1-.1 0 0 .2-.2 0 0 .1-.1 .1 0 .2-.2 .1 0 0-.1 .2-.2 .1 0 .1-.1 .1-.1 .1-.1 0-.1 .1 0 .2-.2 .1-.1 0-.1 .2-.2 .1-.1 .1-.1 .1-.1 .1-.1 .1-.1 0-.1 .2-.3 .1-.1 .1-.1 .2-.3 0-.1 .1-.1 .1-.2 .1-.1 .1-.2 0-.1 .2-.3 .1-.2 .1-.1 .2-.4 .1-.1 0-.2 .1-.1 .1-.3 .1-.2 .1-.1 .2-.5 0-.2 .1-.1 .2-.6 .1-.2 0-.1 .1-.2 .1-.4 .1-.2 .1-.2 .2-.6 .1-.3 0-.2 .2-.6 .1-.3 .1-.2 0-.2 .2-.5 0-.3 .1-.3 .2-.7 .1-.3 0-.3 .2-.8 .1-.3 .1-.3 0-.1 .2-.7 .1-.4 0-.2 .2-.9 .1-.4 .1-.2 .2-.9 0-.3 .1-.3 .2-.8 .1-.3 0-.3 .2-.8 .1-.3 .1-.2 .2-.7 .1-.2 0-.1 0-.1 .2-.6 .1-.1 .1-.2 .2-.4 0-.1 .1-.1 .2-.1 .1-.1 0 0 0 0 .2 0 .1 .1 .1 0 .2 .3 .1 .1 0 .1 .2 .4 .1 .2 .1 .2 .2 .5 0 .3 .1 .2 .2 .7 .1 .3 0 .2 .2 .8 .1 .3 0 .1 .1 .2 .2 .9 .1 .3 0 .3 .2 .8 .1 .4 .1 .2 .2 .9 0 .2 0 .2 .1 .2 .2 .9 .1 .3 0 .2 .2 .8 .1 .3 .1 .3 .2 .7 0 .1 .1 .2 0 .3 .2 .7 .1 .2 .1 .2 .2 .7 0 .2 .1 .2 .2 .6 .1 .3 0 .1 .2 .6 .1 .2 .1 .2 .2 .5 .1 .2 0 .1 .2 .4 0 .1 .1 .1 .1 .2 .2 .4 0 .2 .1 .1 .2 .4 .1 .1 0 .1 .2 .3 0 .1 .1 .1 .1 .1 .2 .3 .1 .1 0 .1 .2 .3 .1 .1 .1 .1 .1 .2 .1 .1 0 .1 .1 .1 .2 .2 .1 .1 0 .1 .2 .2 .1 .1 .1 0 .1 .2 .1 .1 .1 0 0 .1 .2 .2 .1 0 .1 .1 .2 .2 0 0 .1 .1 .1 .1 .1 .1 .1 0 0 .1 .2 .1 .1 .1 .1 0 .2 .1 .1 .1 0 0 .1 .1 .1 .1 .1 0 .1 0 .2 .2 0 0 .1 0 .2 .2 .1 0 0 0 .1 .1 .1 0 .1 .1 .1 0 .2 .1 .1 0 0 .1 .2 0 .1 .1 .1 0 0 0 .2 .1 0 0 .1 0 .2 .1 .1 0 0 .1 .2 0 .1 .1 .1 0 0 0 .2 .1 .1 0 0 0 .2 .1 .1 0 .1 0 .2 .1 0 0 .1 0 .2 .1 .1 0 0 0 .2 .1 .1 0 .1 0 .2 0 .1 .1 0 0 0 0 .2 0 .1 0 .1 0 .2 .1 0 0 .1 0 .2 .1 .1 0 0 0 0 0 .2 0 .1 0 .1 .1 .2 0 .1 0 .2 .1 .1 0 .3 0 0 0 .3 .1 .1 0 .2 0 .1 0 0 0 .3 .1 .1 0 .2 0 .1 0 .3 .1 0 0 0 0 .3 0 .1 0 .2 0 .1 .1 .3 0 0 0 .1 0 .2 0 .1 0 .3 .1 0 0 .3 0 .1 0 .2 0 .1 0 .3 .1 .1 0 .2 0 0 0 .1 0 .3 0 0 0 .3 0 .1 0 .2 .1 0 0 .1 0 .3 0 .1 0 .2 0 .1 0 .2 0 .1 0 0 0 .3 .1 .1 0 .2 0 .1 0 .2 0 .1 0 .1 0 .2 0 .1 0 .3 0 0 0 .2 .1 .1 0 .1 0 .2 0 .1 0 .3 0 .1 0 .1 0 .1 0 .1 0 .3 0 0 0 .3 0 .1 0 .1 .1 .1 0 .1 0 .3 0 .1 0 .2 0 .1 0 .1 0 .2 0 0 0 .3 0 .1 0 .2 0 .1 0 .1 0 .2 0 .1 0 .2 .1 .1 0 .3 0 0 0 .1 0 .2 0 .1 0 .2 0 .1 0 .3 0 .1 0 0 0 .3 0 .3 0 .4 0 0 0 .3 0 .4 0 .3 .1 .3 0 .4 0 .3 0 0 0 .4 0 .3 0 .3 0 0 0 .4 0 .3 0 .3 0 .1 0 .3 0 .3 0 .3 0 .1 0 .3 0 .4 .1 .2 0 .1 0 .3 0 .4 0 .2 0 .1 0 .4 0 .3 0 .2 0 .1 0 .4 0 .3 0 .2 0 .2 0 .3 0 .3 0 .2 0 .2 0 .3 0 .4 0 .1 0 .2 0 .3 0 .4 0 .1 0 .2 0 .4 0 .3 0 .1 .1 .2 0 .4 0 .3 0 .1 0 .3 0 .3 0 .3 0 .1 0 .3 0 .3 0 .4 0 0 0 .3 0 .3 0 .4 0 0 0 .3 0 .4 0 .3 0 .3 0 .4 0 .3 0 0 0 .4 0 .3 0 .3 0 0 0 .4 0 .3 0 .3 0 .1 0 .3 0 .3 0 .3 0 .1 0 .3 0 .4 0 .2 0 .1 0 .3 0 .4 0 .2 0 .1 0 .4 0 .3 0 .2 0 .1 0 .4 0 .3 0 .2 0 .2 0 .3 0 .3 .1 .2 0 .2 0 .3 0 .5 0 1 0 1 0 1 0 1 0 1 0 1 0 1 0 1 0 1 0 1 0 1 0 1 0 1 0 1 0 1 0 1 0 1 0 1 0 1 0 1 0 1 0 1 0 1 0 1 0 1 0 1 0 1 0 1 0 1 0 1 0 1 0 1 0 1 0 1 0 1 0 1 0 1 0 1 0 1 0 1 0 1 0 1 0 1 0 1 .1 1 0' fill='none' stroke='#ff2020' stroke-width='1.7'/><path d='M123.5 388.3l1 0 1 0 1 0 1 0 1 0 1 0 1 0 1 0 1 0 1 0 1 0 1 0 1 0 1 0 1 0 1 0 1 0 1-.1 1 0 1 0 1 0 1 0 1 0 1 0 1 0 1 0 1 0 1 0 1 0 1-.1 1 0 1 0 1 0 1 0 1 0 1 0 1 0 1-.1 1 0 1 0 1 0 1 0 1 0 1-.1 1 0 1 0 1 0 1-.1 1 0 1 0 1 0 1-.1 1 0 .2 0 .3 0 .4 0 .1 0 .2-.1 .4 0 .1 0 .2 0 .1 0 0 0 .2 0 .2 0 .2 0 .1 0 .2 0 .1 0 .1 0 .2 0 .1 0 .2-.1 .1 0 .2 0 .1 0 .1 0 .2 0 .1 0 .2 0 .1 0 .1 0 .2 0 0 0 0 0 .1 0 .2 0 .1 0 0 0 .2-.1 .1 0 .1 0 .2 0 0 0 .1 0 0 0 .2 0 .1 0 .1 0 .2 0 0 0 .1 0 .2 0 .1 0 0 0 .2-.1 .1 0 .1 0 .2 0 .1 0 0 0 .2 0 0 0 .1 0 .1 0 .2 0 0 0 .1 0 .2 0 .1 0 0 0 .2-.1 0 0 .1 0 .1 0 .2 0 .1 0 0 0 .2 0 .1 0 .1 0 .1 0 .1 0 0 0 .1 0 .2-.1 .1 0 0 0 .2 0 .1 0 .1 0 .1 0 .1 0 .1 0 0 0 .2 0 .1-.1 .1 0 .2 0 0 0 .1 0 .1 0 .1 0 .1 0 0 0 .2 0 .1 0 .1 0 .2-.1 .1 0 0 0 .1 0 .1 0 .1 0 .1 0 .2 0 0 0 .1 0 .2-.1 .1 0 0 0 .1 0 .1 0 .1 0 .1 0 .2 0 .1 0 0-.1 .2 0 .1 0 .1 0 0 0 .2 0 0 0 .1 0 .2-.1 .1 0 0 0 .2 0 .1 0 .1 0 0 0 .2 0 .1-.1 0 0 .2 0 .1 0 .1 0 .2 0 0 0 .1-.1 .2 0 .1 0 0 0 .2 0 .1 0 .1-.1 .2 0 .1 0 0 0 0 0 .2 0 .1-.1 .1 0 .2 0 0 0 .1 0 .2-.1 .1 0 0 0 0 0 .2 0 .1 0 .1 0 .2-.1 .1 0 0 0 .2 0 .1 0 .1-.1 .2 0 0 0 .1 0 .2-.1 .1 0 0 0 .2 0 .1-.1 0 0 .1 0 .2 0 .1 0 0 0 .2-.1 .1 0 .1 0 .2-.1 0 0 0 0 .1 0 .2 0 .1-.1 0 0 .2 0 .1-.1 .1 0 .2 0 0 0 .1 0 0-.1 .2 0 .1 0 .1-.1 .2 0 0 0 .1 0 .2-.1 .1 0 0-.1 .2 0 .1 0 .1-.1 .2 0 .1 0 0-.1 .2 0 0 0 .1-.1 .1 0 .2 0 0-.1 .1 0 .2-.1 .1 0 0 0 .2-.1 0 0 .1 0 .1 0 .2-.1 .1-.1 0 0 .2-.1 .1 0 .1 0 .1-.1 .1 0 0 0 .1-.1 .2-.1 .1 0 0 0 .2-.1 .1-.1 .1 0 .1 0 .1-.1 .1 0 0 0 .2-.1 .1-.1 .1 0 .2-.1 0-.1 .1 0 .1-.1 .1 0 .1-.1 0 0 .2-.1 .1 0 .1-.1 .2-.1 .1 0 0-.1 .1 0 .1-.1 .1-.1 .1 0 .2-.1 0-.1 .1 0 .2-.2 .1 0 0-.1 .1 0 .1-.1 .1-.1 .1 0 .2-.1 .1-.1 0 0 .2-.2 .1-.1 .1 0 0 0 .2-.2 0 0 .1-.1 .2-.1 .1-.1 0-.1 .2-.1 .1-.1 .1-.1 0 0 .2-.1 .1-.1 0-.1 .2-.1 .1-.1 .1-.1 .2-.2 0 0 .1-.1 .2-.2 .1-.1 0 0 .2-.2 .1-.1 .1-.1 .2-.2 .1-.1 0 0 0 0 .2-.3 .1 0 .1-.1 .2-.2 0-.1 .1-.1 .2-.2 .1-.1 0 0 0-.1 .2-.2 .1-.1 .1-.1 .2-.2 .1-.1 .2-.3 .1-.1 .3-.3 0-.1 .3-.3 .1-.1 .2-.3 .1 0 0-.1 .3-.3 .1 0 .2-.3 .1-.1 .3-.3 0 0 0-.1 .3-.3 .1 0 .2-.3 .1-.1 .3-.2 0 0 .1-.1 .2-.2 .1-.1 .3-.1 0-.1 .3-.2 .1 0 .2-.2 .1 0 .3-.1 .1 0 .2-.1 0 0 .1 0 .3-.1 0 0 .3 0 .1 0 .2 0 0 0 .1 0 .3 .1 .1 0 .2 .1 .1 0 .2 .1 .1 0 0 .1 .3 .1 .1 .1 .2 .2 .1 0 .2 .1 .1 .1 .1 .1 .2 .2 .1 .1 .3 .2 0 .1 .2 .1 .1 .1 .1 .1 .2 .3 .1 .1 .3 .3 .1 .1 .1 .1 .1 .1 .1 .1 .3 .3 0 .1 .3 .3 .1 .1 .1 .2 .1 .1 .1 .1 .3 .3 .1 .1 .2 .3 .1 .1 .1 .1 .2 .2 0 .1 .3 .3 .1 .1 .2 .3 .1 .1 .1 0 .2 .2 .1 .1 .2 .3 .1 .1 .3 .3 0 0 .1 .1 .2 .2 .1 .1 .2 .2 .1 .1 .3 .3 .1 0 0 .1 .3 .2 .3 .3 .4 .3 0 0 .3 .3 .4 .3 .3 .2 .3 .3 .4 .2 .3 .2 0 0 .4 .2 .3 .2 .3 .2 0 0 .4 .2 .3 .2 .3 .2 .1 0 .3 .2 .3 .1 .3 .1 .1 .1 .3 .1 .4 .2 .2 .1 .1 0 .3 .1 .4 .2 .2 0 .1 .1 .4 .1 .3 .1 .2 .1 .1 0 .4 .1 .3 .1 .2 .1 .2 0 .3 .1 .3 .1 .2 0 .2 .1 .3 .1 .4 0 .1 .1 .2 0 .3 .1 .4 0 .1 .1 .2 0 .4 .1 .3 0 .1 .1 .2 0 .4 .1 .3 0 .1 0 .3 .1 .3 0 .3 .1 .1 0 .3 0 .3 .1 .4 0 0 0 .3 .1 .3 0 .4 .1 0 0 .3 0 .4 0 .3 .1 .3 0 .4 0 .3 .1 0 0 .4 0 .3 0 .3 .1 0 0 .4 0 .3 0 .3 .1 .1 0 .3 0 .3 0 .3 0 .1 0 .3 .1 .4 0 .2 0 .1 0 .3 0 .4 .1 .2 0 .1 0 .4 0 .3 0 .2 0 .1 .1 .4 0 .3 0 .2 0 .2 0 .3 0 .3 0 .2 .1 .2 0 .3 0 .5 0 1 .1 1 0 1 0 1 .1 1 0 1 0 1 .1 1 0 1 0 1 .1 1 0 1 0 1 0 1 .1 1 0 1 0 1 0 1 0 1 0 1 .1 1 0 1 0 1 0 1 0 1 0 1 0 1 0 1 .1 1 0 1 0 1 0 1 0 1 0 1 0 1 0 1 0 1 0 1 0 1 0 1 .1 1 0 1 0 1 0 1 0 1 0' fill='none' stroke='#ff2020' stroke-width='1.7'/><path d='M25 453.6l1 .1 1 0 1 .1 1 0 1 .5 1 .1 1-.2 1 .1 1 0 1-.3 1 0 1-.2 1-.3 1 .3 1 .1 1 .3 1-.2 1 0 1-.2 1 .2 1 .1 1 .1 1 .1 1-.1 1-.1 1-.3 1-.2 1 .3 1-.3 1 .5 1 .1 1 0 1-.4 1 0 1-.2 1-.4 1-.3 1 .2 1-.4 1-.2 .2-.4 .3 .4 .3-.4 .2-.4 .2-.4 .3-.6 .3-.3 .2-.3 .2-.5 .3-.1 .3-.7 .2-.4 .2-.6 .3-1.7 .3-1.1 .2-1.8 .2-2.9 .3-3.2 .3-4.9 .2-6.6 .2-9.1 .3-10 .3-8.7 .2-3.7 .2 4 .3 9.2 .3 10.2 .2 8 .2 6.8 .3 4.4 .3 3.4 .2 2.7 .2 1.8 .3 1 .3 1.6 .2 .8 .2 1 .3 1 .3 .5 .2 .7 .2 .2 .3 .5 .3-.1 .2 0 .2 .1 .3 .1 .3 .5 .2 .1 1 .5 1 .1 1 .1 1 .1 1 0 1 .3 1 .2 1 .1 1-.2 1-.2 1 .1 1 .3 1-.2 1 .4 1 .2 1-.2 1 0 1 .4 1 .1 1-.3 1 .2 1-.1 1-.5 1 .4 1-.7 1-.1 1-.3 1 .1 1 0 1 .4 1 .3 1 0 1-.1 1 .3 1-.5' fill='none' stroke='#111' stroke-width='1.3' stroke-linejoin='round'/><path d='M113.9 454.2h3.2M119.4 454.1h3.4' stroke='#222' stroke-width='1.2'/><path d='M123.5 454.5l1 .9 1 .2 1-.5 1 0 1 .5 1-1.2 1-.5 1-.6 1 1.3 1-.6 1-.9 1-.1 1-.2 1 1.4 1 1.3 1 .5 1-.4 1-.2 1 .5 1-.1 1-1.1 1 .9 1 .4 1-1 1 .5 1-.5 1 1.5 1-.5 1 .2 1 .5 1 1.1 1-1.9 1-.6 1 .6 1-.1 1 .9 1-.8 1 .1 1 .3 1-.5 1-.6 1 .1 1-1.2 1 .9 1 1.3 1 1.2 1 0 1-1.1 1-.9 1 .5 1 0 1 .7 1-1.5 .3 .3 .3 .3 .4 .3 0 0 .3-.4 .4-.4 .3-.4 .3 .1 .4 .1 .3 .1 0-.1 .4-.1 .2 0 .1-.1 .2 0 .1 0 0-.1 .3 0 .1-.1 .2-.1 .1 0 .3-.1 0 0 .1 0 .2-.2 .1-.1 .2-.2 .1-.1 .3-.2 0 0 .1 0 .2-.1 .1-.1 .3-.1 .1 0 .2-.2 .1 0 .2 0 .1-.1 .3 0 .1-.1 .2 0 0 0 .1-.1 .3-.1 .1 0 .2-.2 .1 0 .2-.1 0 0 .1 0 .2 .1 .1 0 .1 .1 .1 0 .1 .1 .1 0 .2 .1 0 0 .1-.1 .1 0 .1 0 .1-.1 .1 0 .2 0 0-.1 .1 0 .2 0 .1 0 .1 0 .1 .1 .1 0 .1 .1 .2 0 .1 .1 .1 0 .1 .1 0 0 .1 .1 .1 .1 .2 .3 0 .1 .1 .1 .2 .2 .1 .1 .1 .2 .1 .1 0 0 .1 .1 .1 0 .2 .1 .1 0 .1 0 .1 .1 .1 0 .1 .1 .1 0 .1 .1 0 .1 .1 .1 .2 .2 .1 .1 .1 .1 .1 .2 .1 .1 .1 .1 .1 .1 .1 .1 .1 .1 .1 .2 .1 .2 .1 .1 .1 .1 .2 .2 0 .1 .1 .1 .1 .1 .1 .1 .1 .1 .1 .1 .1 .1 .1 .1 .1 .1 .2 .1 .1 .1 .1 0 0 .1 .1 0 .1 0 .1 0 .2 .1 0 0 .1 0 .2 0 .1 0 .1 0 0 0 .1-.1 .1-.2 .1-.1 .2-.2 .1-.1 .1-.1 .1-.2 .1-.1 .1-.2 .2 .1 0 0 .1 0 .2 .1 .1 0 .1 0 .1 .1 .1 0 .1 0 0 0 .2 0 .1-.1 .1 0 .1 0 .1-.1 .1 0 .2 0 0-.1 .1 0 0 0 .2-.1 .1 0 .1-.1 .1-.1 .1 0 .1-.1 .2-.1 .1 0 0 0 .1-.1 .1-.1 .1-.1 .1 0 .2-.2 0 0 .1-.1 .2-.1 .1-.1 0 0 .1 0 .1-.1 .1 0 .1 0 .2 0 .1 0 .1 0 .1-.1 .1 0 .1 .1 .2 .1 0 .1 .1 .1 .2 .1 .1 .1 .1 .1 .1 .1 .1 0 0 0 .1 0 .2 0 .1 0 .1 0 .1 0 .1 0 .1 0 .2 0 0 0 0 0 .1 0 .2 0 .1-.1 .1 0 .1 0 .1-.1 .1 0 .2 0 0-.1 .1 0 .1-.1 .1-.1 .1-.1 .1 0 .2-.2 0 0 .1-.1 .2-.1 .1 0 .1 0 .1 .1 .1 0 .1 0 .2 .1 .1 0 .1 0 .1 .1 0 0 .1 .1 .1 .1 .2 .3 0 .1 .1 .1 .2 .3 .1 .1 .1 .1 .1 .2 0-.1 .1 0 .1-.1 .2-.2 .1-.1 .1-.1 .1-.1 .1-.1 .1-.1 .1-.1 .1 0 0 .1 .1 0 .2 0 .1 .1 .1 0 .1 0 .1 0 .1 .1 .1 0 .1-.1 .1 0 .1-.1 .1-.2 .1 0 .1-.1 .2-.1 0-.1 .1-.1 .1 0 .1-.2 .1-.1 .1-.2 .1-.2 .1-.1 .1-.2 .2-.2 .1-.2 .1-.1 0-.1 .1 .1 .1 .1 .1 .1 .2 .1 0 0 .1 .1 .2 .1 .1 .1 .1 0 0 .1 .1-.1 .1 0 .1-.1 .2 0 .1-.1 .1 0 .1-.1 .2 0 .2-.1 .1 0 .2-.1 .2-.1 .1 0 .2-.1 0 0 .2 0 .2-.1 .1-.1 .2-.1 .2-.1 .1 0 0 0 .2 .1 .2 .1 .1 .1 .2 .1 .2 .1 .1 0 .1 .1 .1 .3 .2 .3 .2 .3 .1 .3 .2 .3 .1 .1 .1 0 .1 .1 .2 0 .2 0 .2 0 .1 0 .1 0 .1 .1 .2 0 .1 0 .2 .1 .2 0 .1 0 .1 0 .1-.1 .2-.2 .2-.2 .1-.2 .2-.2 .2-.1 0-.1 .1 0 .2 0 .2 0 .1-.1 .2 0 .2 0 0 0 .2-.1 .1 0 .2-.1 .2-.1 .1 0 .2-.1 .2-.2 .1-.1 .2-.1 .2-.2 .2-.1 .1-.2 0 0 .2 0 .2 0 .1 .1 .2 0 .2 0 .1 0 0 0 .2 .3 .2 .2 .2 .3 .1 .2 .2 .3 .1 .1 .1 .1 .1 .1 .2 0 .2 .1 .1 .1 .2 .1 .1 0 .1 0 .2 0 .1 0 .2 0 .2 0 .1 0 .1 0 .1 0 .2 .1 .1 .1 .2 .1 .2 .1 .2 .1 0 .1 .1 0 .2 0 .2 .1 .1 0 .2 .1 .2 0 0 0 .1 .1 .2 0 .2 .1 .2 0 .1 .1 .2 0 .2-.2 .1-.3 .2-.2 .2-.3 .1-.2 .2-.2 0 0 .2 .1 .2 .2 .1 .1 .2 .1 .2 .2 .1 .1 0 0 .2 .1 .2 .1 .1 .1 .2 .1 .2 .1 .1 .1 .1-.1 .1-.2 .4-.5 .3-.6 .1-.1 .2 0 .4 .1 .3 0 .1 0 .3-.5 .3-.6 .3-.6 .1-.1 .3 .7 .3 .9 .4 .9 0 .1 .3 .1 .3 .1 .4 0 0 .1 .3-.1 .4-.1 .3-.1 .3 .5 .4 .5 .3 .5 0 0 .4 0 .3 0 .3 0 0-.1 .4-.1 .3-.1 .3 0 .1-.1 .3-.1 .3 0 .3-.1 .1-.1 .3-.2 .4-.2 .2-.1 .1 0 .3-.2 .4-.1 .2 0 1-.2 1-.3 1-.3 1-.8 1-.1 1 .1 1-.3 1 1.4 1 .6 1-1.2 1 .7 1 .2 1 .8 1 .9 1-1.6 1-1.2 1-.1 1 .7 1 .1 1 .5 1 .5 1-1.1 1-1 1-.4 1-.8 1 1.1 1 .3 1 1.5 1 .6 1-.5 1 1.1 1-1.7 1 .8 1-.4 1-.4 1-.2 1 .1 1 0 1-.4 1 .6 1-.7 1 1.4 1 1 1-.1 1 1 1-1.4 1-1.6 1 0 1-.6 1-.4 1-1.5 1 .3 1 0 1 .1 1 .6 1 0 1-.1 1 .9' fill='none' stroke='#dedede' stroke-width='2.2' stroke-linejoin='round'/><path d='M123.5 453.2l1 0 1 0 1 0 1 0 1 0 1 0 1-.1 1 0 1 0 1 0 1 0 1-.1 1 0 1 0 1 0 1 0 1-.1 1 0 1 0 1-.1 1 0 1 0 1-.1 1 0 1 0 1-.1 1 0 1-.1 1 0 1-.1 1 0 1-.1 1 0 1-.1 1-.1 1-.1 1 0 1-.1 1-.1 1-.1 1-.1 1-.1 1-.1 1-.2 1-.1 1-.2 1-.2 1-.1 1-.3 1-.2 1-.2 1-.3 1-.2 .3-.1 .3 0 .4-.1 0 0 .3-.1 .4-.2 .3-.1 .3-.2 .4-.2 .3-.2 0 0 .4-.3 .2-.2 .1 0 .2-.2 .1-.1 0 0 .3-.2 .1-.1 .2-.2 .1-.1 .3-.3 0 0 .1-.1 .2-.2 .1-.1 .2-.3 .1-.1 .3-.3 0 0 .1-.1 .2-.3 .1-.1 .3-.3 .1-.1 .2-.3 .1-.1 .2-.3 .1-.1 .3-.4 .1-.1 .2-.3 0 0 .1-.2 .3-.3 .1-.1 .2-.5 .1-.2 .2-.5 0-.1 .1-.2 .2-.5 .1-.2 .1-.3 .1-.5 .1-.3 .1-.3 .2-.6 0 0 .1-.3 .1-.3 .1-.6 .1-.3 .1-.4 .2-.7 0-.3 .1-.4 .2-.7 .1-.4 .1-.4 .1-.7 .1-.3 .1-.5 .2-.7 .1-.4 .1-.4 .1-.6 0-.1 .1-.4 .1-.4 .2-.7 0-.4 .1-.4 .2-.7 .1-.4 .1-.4 .1-.5 0-.2 .1-.3 .1-.4 .2-.6 .1-.3 .1-.4 .1-.7 .1-.3 .1-.4 .1-.4 .1-.2 0-.4 .1-.4 .2-.6 .1-.4 .1-.4 .1-.7 .1-.3 .1-.5 .1-.3 .1-.3 .1-.4 .1-.4 .1-.7 .1-.4 .1-.4 .2-.7 0-.3 .1-.4 .1-.3 .1-.4 .1-.3 .1-.4 .1-.7 .1-.3 .1-.4 .2-.6 .1-.4 .1-.3 0-.2 .1-.4 .1-.3 .1-.4 .2-.6 0-.2 .1-.4 .2-.5 .1-.3 .1-.3 0-.1 .1-.4 .1-.3 .1-.3 .2-.6 .1-.3 .1-.3 .1-.6 .1-.3 .1-.3 .2-.6 0-.3 .1-.3 .2-.6 .1-.3 .1-.3 .1-.6 .1-.3 .1-.3 0 0 .2-.6 .1-.2 .1-.3 .1-.5 .1-.3 .1-.3 .2-.5 0-.2 .1-.2 0-.1 .2-.4 .1-.2 .1-.2 .1-.4 .1-.2 .1-.2 .2-.3 .1-.2 0 0 .1-.1 .1-.3 .1-.1 .1-.1 .2-.2 0 0 .1-.1 .2-.1 .1 0 0 0 .1 0 .1 0 .1 0 .1 0 .2 .1 .1 0 .1 0 .1 .1 .1 0 .1 0 .2 .1 0 0 .1 .1 .2 .1 .1 0 .1 .1 .1 .1 .1 .1 0 0 .1 0 .2 .2 .1 0 .1 .1 .1 .2 .1 0 .1 .1 .2 .2 0 0 0 .1 .1 .1 .2 .1 .1 .1 .1 .1 .1 .2 .1 .1 .1 .1 .2 .2 0 0 .1 .1 .1 .1 .1 .2 .1 .1 .1 .1 .2 .2 0 .1 .1 .1 .2 .2 .1 .1 .1 .1 .1 .2 .1 .1 .1 .1 .2 .2 .1 .1 .1 .1 .1 .2 0 0 .1 .1 .1 .1 .2 .2 0 .1 .1 .1 .2 .2 .1 .1 .1 .1 .1 .2 0 .1 .1 .1 .1 .1 .2 .2 .1 .1 .1 .2 .1 .2 .1 .1 .1 .2 .1 .2 .1 0 0 .2 .1 .1 .2 .3 .1 .1 .1 .2 .1 .3 .1 .1 .1 .2 .1 .1 .1 .1 .1 .2 .1 .2 .1 .3 .1 .1 .1 .2 .2 .3 0 .1 .1 .2 .1 .1 .1 .2 .1 .2 .1 .2 .1 .3 .1 .1 .1 .2 .2 .3 .1 .2 .1 .2 0 .1 .1 .2 .1 .2 .1 .2 .2 .3 0 .2 .1 .2 .2 .4 .1 .2 .1 .2 0 0 .1 .4 .1 .2 .1 .2 .2 .5 .1 .2 .1 .2 .1 .5 .2 .5 .2 .4 .1 .6 .2 .4 .2 .6 .1 .4 .2 .5 0 .1 .2 .4 .2 .6 .1 .4 .2 .6 .2 .4 .1 .4 0 .1 .2 .5 .2 .5 .1 .4 .2 .5 .2 .4 .1 .3 .1 .2 .1 .3 .2 .5 .2 .3 .1 .4 .2 .3 .1 .2 .1 .2 .1 .3 .2 .4 .2 .3 .2 .4 .1 .3 .1 .1 .1 .2 .2 .3 .1 .4 .2 .3 .2 .3 .1 .3 .1 .1 .1 .2 .2 .3 .2 .3 .1 .3 .2 .3 .2 .2 0 .1 .1 .3 .2 .2 .2 .3 .1 .3 .2 .3 .2 .2 0 .1 .2 .2 .1 .3 .2 .3 .2 .2 .1 .3 .2 .3 .2 .3 .1 .2 .2 .3 .2 .3 .2 .3 .1 .2 0 0 .2 .3 .2 .3 .1 .3 .2 .2 .2 .3 .1 .2 0 .1 .2 .3 .2 .2 .2 .3 .1 .3 .2 .3 .1 .2 .1 .1 .1 .3 .2 .3 .2 .3 .1 .2 .2 .3 .1 .2 .1 .1 .2 .3 .1 .3 .2 .3 .2 .2 .1 .3 .1 .1 .1 .2 .2 .2 .1 .3 .2 .3 .2 .2 .2 .3 0 0 .1 .2 .2 .3 .2 .2 .1 .3 .2 .2 .2 .2 0 0 .1 .2 .2 .3 .2 .2 .2 .2 .1 .2 .2 .2 .2 .1 .1 .2 .2 .2 .2 .2 .1 .1 .2 .2 0 0 .2 .2 .2 .1 .1 .2 .2 .2 .2 .1 .1 .1 0 .1 .2 .1 .2 .2 .1 .1 .2 .2 .2 .1 .1 .1 .1 .1 .1 .1 .4 .3 .3 .3 .1 .1 .2 .1 .4 .3 .3 .2 .1 .1 .3 .2 .3 .2 .3 .2 .1 0 .3 .2 .3 .1 .4 .2 0 0 .3 .1 .3 .2 .4 .2 0 0 .3 .2 .4 .1 .3 .2 .3 .2 .4 .1 .3 .1 0 .1 .4 .1 .3 .1 .3 .1 0 .1 .4 .1 .3 .1 .3 .1 .1 0 .3 .1 .3 .1 .3 .1 .1 0 .3 .1 .4 .1 .2 .1 .1 0 .3 .1 .4 .1 .2 0 1 .2 1 .2 1 .2 1 .2 1 .1 1 .1 1 .2 1 .1 1 .1 1 .1 1 .1 1 0 1 .1 1 .1 1 0 1 .1 1 .1 1 0 1 .1 1 0 1 .1 1 0 1 0 1 .1 1 0 1 0 1 .1 1 0 1 0 1 .1 1 0 1 0 1 0 1 0 1 .1 1 0 1 0 1 0 1 0 1 .1 1 0 1 0 1 0 1 0 1 0 1 .1 1 0 1 0 1 0 1 0 1 0 1 0 1 0 1 0 1 .1 1 0 1 0 1 0' fill='none' stroke='#e2c6ec' stroke-width='2.6'/><path d='M123.5 455.9l1-1.3 1 .6 1-.2 1-.1 1 .2 1-.9 1-.5 1 .8 1-.1 1-1.9 1 .9 1 .7 1 1.2 1-.6 1-.8 1-.2 1-.3 1-1.2 1-1.1 1 3.2 1-3.1 1 .6 1 .6 1 1.9 1-2.5 1 2.5 1-1.2 1-1.4 1 .7 1 2 1-.5 1 .2 1 1.9 1-2.5 1 .6 1-.9 1 .8 1-1.2 1-.9 1 3 1-4.9 1 3.2 1 .9 1-2.4 1-1.5 1 1.6 1-.1 1-1 1 1.7 1-1.2 1 0 1 1.5 1-2.3 .3 .2 .3 .3 .4 .2 0 0 .3-.5 .4-.7 .3-.7 .3 .4 .4 .3 .3 .3 0 0 .4-.3 .2-.2 .1-.1 .2-.2 .1-.1 0 0 .3-.2 .1-.1 .2-.2 .1 0 .3-.2 0-.1 .1-.1 .2-.7 .1-.3 .2-.7 .1-.3 .3-.7 0 0 .1 0 .2-.1 .1-.1 .3-.1 .1 0 .2-.1 .1-.1 .2-.3 .1-.1 .3-.3 .1-.2 .2-.2 0-.1 .1-.1 .3-.2 .1-.2 .2-.3 .1-.2 .2-.4 0-.1 .1-.3 .2-.5 .1-.2 .1-.3 .1-.5 .1-.3 .1-.4 .2-.5 0-.1 .1-.2 .1-.3 .1-.6 .1-.2 .1-.4 .2-.5 0-.3 .1-.4 .2-.6 .1-.5 .1-.7 .1-1.1 .1-.5 .1-.7 .2-1 .1-.6 .1-.6 .1-1 0 0 .1-.3 .1-.4 .2-.6 0-.3 .1-.4 .2-.6 .1-.3 .1-.3 .1-.5 0-.2 .1-.5 .1-.6 .2-1 .1-.5 .1-.6 .1-1 .1-.4 .1-.6 .1-.7 .1-.3 0-.3 .1-.5 .2-.8 .1-.4 .1-.5 .1-.8 .1-.4 .1-.5 .1-.4 .1-.2 .1-.2 .1-.3 .1-.4 .1-.3 .1-.2 .2-.5 0-.2 .1-.3 .1-.1 .1-.4 .1-.4 .1-.4 .1-.6 .1-.3 .1-.4 .2-.6 .1-.3 .1-.4 0-.1 .1-.6 .1-.4 .1-.4 .2-.7 0-.3 .1-.5 .2-.6 .1-.3 .1-.4 0-.1 .1-.5 .1-.3 .1-.3 .2-.6 .1-.3 .1-.4 .1-.6 .1-.2 .1-.4 .2-.2 0-.2 .1-.1 .2-.2 .1-.2 .1-.1 .1-.2 .1-.1 .1-.1 0-.1 .2-.7 .1-.3 .1-.4 .1-.6 .1-.4 .1-.3 .2-.6 0-.3 .1-.2 0-.2 .2-.6 .1-.4 .1-.3 .1-.6 .1-.3 .1-.4 .2-.5 .1-.2 0-.2 .1 .2 .1 .3 .1 .2 .1 .2 .2 .5 0 .2 .1 .3 .2 .5 .1 .3 0 0 .1-.1 .1-.3 .1-.2 .1-.2 .2-.2 .1-.2 .1-.1 .1-.3 .1-.1 .1 0 .2 .1 0 .1 .1 .1 .2 .1 .1 0 .1 .1 .1 .2 .1 0 0 0 .1 .2 .2 .2 .1 .1 .1 .1 .1 .3 .1 .1 .1 .1 .2 .3 0 0 0 0 .1 0 .2-.1 .1 0 .1 0 .1-.1 .1 0 .1 0 .2-.1 0 0 .1 .2 .1 .4 .1 .5 .1 .3 .1 .3 .2 .6 0 .3 .1 .3 .2 .6 .1-.2 .1-.2 .1-.3 .1-.1 .1-.2 .2-.3 .1-.2 .1-.2 .1-.2 0 0 .1 .1 .1 .1 .2 .1 0 .1 .1 .1 .2 .2 .1 .1 .1 .1 .1 .2 0 .1 .1 .2 .1 .3 .2 .5 .1 .2 .1 .3 .1 .5 .1 .2 .1 .3 .1 .3 .1 0 0 .1 .1 .1 .2 .1 .1 .1 .1 .1 .1 .1 .1 .1 .1 .1 .1 0 .1 .4 .1 .3 .1 .4 .1 .7 .1 .3 .1 .5 .2 .6 0 .4 .1 .4 .1 .3 .1-.1 .1-.1 .1-.1 .1-.1 .1 0 .1-.1 .2-.2 .1 0 .1-.1 0 0 .1 .3 .1 .3 .1 .2 .2 .5 0 .3 .1 .3 .2 .5 .1 .2 .1 .3 0 .1 .1 .5 .1 .2 .1 .4 .2 .5 .1 .3 .1 .3 .1 .6 .2 .7 .2 .4 .1 .5 .2 .4 .2 .5 .1 .5 .2 .4 0 .1 .2 .6 .2 .7 .1 .6 .2 .7 .2 .6 .1 .5 0 .1 .2 .3 .2 .3 .1 .3 .2 .2 .2 .3 .1 .2 .1 .2 .1 .8 .2 .8 .2 .7 .1 .7 .2 .7 .1 .4 .1-.1 .1-.1 .2-.2 .2-.2 .2-.1 .1-.2 .1-.1 .1 .2 .2 .4 .1 .4 .2 .4 .2 .4 .1 .4 .1 .1 .1 .3 .2 .4 .2 .5 .1 .3 .2 .5 .2 .3 0 .1 .1 .2 .2 .1 .2 .2 .1 .1 .2 .2 .2 .1 0 0 .2 .3 .1 .3 .2 .3 .2 .3 .1 .3 .2 .3 .2 .1 .1 .2 .2 .1 .2 .1 .2 .2 .1 .1 0 0 .2 .3 .2 .3 .1 .3 .2 .3 .2 .3 .1 .2 0 0 .2 .3 .2 .3 .2 .2 .1 .3 .2 .3 .1 .1 .1 .1 .1 .3 .2 .3 .2 .3 .1 .2 .2 .3 .1 .2 .1 0 .2 .1 .1 .2 .2 .1 .2 .1 .1 .1 .1 .1 .1 .3 .2 .7 .1 .6 .2 .6 .2 .6 .2 .7 0 .1 .1 0 .2 .1 .2 0 .1 0 .2 0 .2 0 0 0 .1 .8 .2 1 .2 .9 .2 1 .1 .9 .2 1 .2 .1 .1 .1 .2 .1 .2 .1 .1 .1 .2 .1 0 0 .2 0 .2 0 .1 0 .2 0 .2 0 .1 0 0 0 .2 .1 .2 0 .1 0 .2 0 .2 0 .1 0 .1 .1 .1 .2 .4 .3 .3 .4 .1 .1 .2 .6 .4 .9 .3 .9 .1 .2 .3-.1 .3-.2 .3-.2 .1 0 .3 .4 .3 .5 .4 .5 0 .1 .3-.6 .3-.6 .4-.6 0 0 .3 1 .4 1.1 .3 1.1 .3-.6 .4-.6 .3-.6 0 0 .4 .3 .3 .3 .3 .2 0-.1 .4-.7 .3-.8 .3-.6 .1 .1 .3 .7 .3 .7 .3 .5 .1 .1 .3 .5 .4 .5 .2 .4 .1-.1 .3-.3 .4-.4 .2-.2 1 .5 1 1.9 1-1.3 1 1.9 1-4.1 1 4.3 1 .3 1-3.3 1 1.2 1 2.6 1-3 1 .6 1 1.7 1-.8 1 .1 1-.8 1 1.4 1 1.1 1-.5 1-3.4 1 2.9 1-.5 1-.9 1 2.4 1-2.9 1 4.5 1-2.9 1 3.1 1-1.4 1-2.4 1 1.6 1 1 1-.9 1 .4 1-3 1 3 1 .4 1-.7 1-.4 1 .1 1 2 1-.1 1-1.8 1-.9 1 3.8 1-4.7 1 2 1-1.7 1-.4 1 1.3 1 .4 1 2.5 1 .4 1-2.8 1 .5 1 .8 1-2.5 1 .2' fill='none' stroke='#140814' stroke-width='2.2' stroke-linejoin='round'/><path d='M123.5 453.2l1 0 1 0 1 0 1 0 1 0 1-.1 1 0 1 0 1 0 1 0 1 0 1 0 1 0 1 0 1-.1 1 0 1 0 1 0 1 0 1 0 1 0 1-.1 1 0 1 0 1 0 1 0 1-.1 1 0 1 0 1 0 1-.1 1 0 1 0 1-.1 1 0 1-.1 1 0 1 0 1-.1 1 0 1-.1 1-.1 1 0 1-.1 1-.1 1 0 1-.1 1-.1 1-.1 1-.1 1-.2 1-.1 1-.2 .3 0 .3-.1 .4 0 0 0 .3-.1 .4 0 .3-.1 .3-.1 .4 0 .3-.1 0 0 .4-.1 .2 0 .1-.1 .2 0 .1 0 0 0 .3-.1 .1 0 .2-.1 .1 0 .3-.1 0 0 .1 0 .2-.1 .1 0 .2-.1 .1 0 .3-.1 0 0 .1 0 .2-.1 .1 0 .3-.1 .1 0 .2-.1 .1 0 .2-.1 .1 0 .3-.1 .1-.1 .2 0 0-.1 .1 0 .3-.1 .1 0 .2-.1 .1-.1 .2-.1 0 0 .1 0 .2-.1 .1 0 .1-.1 .1 0 .1-.1 .1 0 .2-.1 0 0 .1-.1 .1 0 .1-.1 .1 0 .1-.1 .2-.1 0 0 .1-.1 .2-.1 .1 0 .1-.1 .1-.1 .1 0 .1-.1 .2-.1 .1 0 .1-.1 .1-.1 0 0 .1 0 .1-.1 .2-.1 0-.1 .1 0 .2-.2 .1 0 .1-.1 .1-.1 0 0 .1-.1 .1-.1 .2-.1 .1 0 .1-.1 .1-.2 .1 0 .1-.1 .1-.1 .1-.1 0 0 .1-.1 .2-.2 .1-.1 .1 0 .1-.2 .1-.1 .1-.1 .1-.1 .1-.1 .1 0 .1-.1 .1-.2 .1-.1 .1-.1 .2-.2 0-.1 .1-.1 .1-.1 .1-.1 .1-.1 .1-.2 .1-.2 .1-.1 .1-.1 .2-.2 .1-.1 .1-.2 0 0 .1-.2 .1-.1 .1-.2 .2-.2 0-.2 .1-.1 .2-.3 .1-.1 .1-.2 0 0 .1-.3 .1-.1 .1-.2 .2-.3 .1-.1 .1-.2 .1-.3 .1-.2 .1-.2 .2-.3 0-.2 .1-.2 .2-.4 .1-.1 .1-.3 .1-.3 .1-.2 .1-.2 0 0 .2-.4 .1-.2 .1-.3 .1-.4 .1-.2 .1-.3 .2-.4 0-.2 .1-.2 0-.1 .2-.5 .1-.2 .1-.3 .1-.5 .1-.2 .1-.3 .2-.5 .1-.3 0-.1 .1-.2 .1-.5 .1-.3 .1-.3 .2-.6 0-.2 .1-.4 .2-.5 .1-.3 0-.1 .1-.3 .1-.6 .1-.3 .1-.3 .2-.6 .1-.3 .1-.4 .1-.6 .1-.3 .1-.4 .2-.6 0-.3 .1-.4 .2-.6 .1-.3 .1-.3 .1-.6 .1-.3 0 0 .1-.4 .2-.6 .1-.3 .1-.3 .1-.6 .1-.2 .1-.4 .2-.5 0-.1 0-.1 .1-.3 .2-.5 .1-.2 .1-.3 .1-.4 .1-.2 .1-.2 .2-.4 0 0 .1-.2 .1-.1 .1-.3 .1-.1 .1-.2 .2-.2 0 0 .1-.1 .2-.1 .1-.1 .1 0 .1 0 .1 0 .1 0 .2 .1 .1 .1 .1 .1 .1 .1 0 0 .1 .1 .1 .2 .2 .2 0 .2 .1 .1 .2 .4 .1 .2 .1 .2 .1 .3 0 .1 .1 .2 .1 .3 .2 .4 .1 .3 .1 .3 .1 .5 .1 .2 .1 .4 .1 .3 .1 .2 0 .3 .1 .3 .2 .6 .1 .3 .1 .4 .1 .6 .1 .3 .1 .3 .1 .3 .1 .3 .1 .3 .1 .4 .1 .6 .1 .3 .1 .4 .2 .6 0 .3 .1 .4 .1 .2 .1 .4 .1 .3 .1 .3 .1 .6 .1 .3 .1 .4 .2 .5 .1 .3 .1 .4 0 .1 .1 .4 .1 .3 .1 .3 .2 .5 0 .3 .1 .3 .2 .5 .1 .3 .1 .3 0 .1 .1 .4 .1 .2 .1 .3 .2 .5 .1 .2 .1 .3 .1 .4 .2 .5 .2 .4 .1 .5 .2 .4 .2 .4 .1 .4 .2 .3 0 .1 .2 .3 .2 .4 .1 .3 .2 .4 .2 .3 .1 .3 0 .1 .2 .3 .2 .3 .1 .3 .2 .3 .2 .2 .1 .2 .1 .1 .1 .3 .2 .3 .2 .2 .1 .3 .2 .2 .1 .1 .1 .1 .1 .2 .2 .3 .2 .2 .2 .2 .1 .2 .1 .1 .1 .1 .2 .2 .1 .2 .2 .1 .2 .2 .1 .2 .1 0 .1 .1 .2 .2 .2 .2 .1 .1 .2 .2 .2 .1 0 0 .1 .2 .2 .1 .2 .1 .1 .2 .2 .1 .2 .1 0 0 .2 .1 .1 .1 .2 .2 .2 .1 .1 .1 .2 .1 .2 .1 .1 .1 .2 .1 .2 .1 .2 .1 .1 .1 0 0 .2 .1 .2 .1 .1 0 .2 .1 .2 .1 .1 .1 0 0 .2 .1 .2 0 .2 .1 .1 .1 .2 .1 .1 0 .1 0 .1 .1 .2 .1 .2 0 .1 .1 .2 .1 .1 0 .1 0 .2 .1 .1 .1 .2 0 .2 .1 .1 0 .1 0 .1 .1 .2 0 .1 .1 .2 0 .2 .1 .2 0 0 0 .1 .1 .2 0 .2 .1 .1 0 .2 .1 .2 0 0 0 .1 .1 .2 0 .2 0 .2 .1 .1 0 .2 .1 .2 0 .1 0 .2 .1 .2 0 .1 0 .2 .1 0 0 .2 0 .2 0 .1 .1 .2 0 .2 0 .1 .1 0 0 .2 0 .2 0 .1 .1 .2 0 .2 0 .1 0 .1 .1 .1 0 .4 0 .3 .1 .1 0 .2 0 .4 .1 .3 0 .1 0 .3 .1 .3 0 .3 .1 .1 0 .3 0 .3 .1 .4 0 0 0 .3 0 .3 .1 .4 0 0 0 .3 0 .4 .1 .3 0 .3 0 .4 .1 .3 0 0 0 .4 0 .3 .1 .3 0 0 0 .4 0 .3 0 .3 .1 .1 0 .3 0 .3 0 .3 0 .1 0 .3 .1 .4 0 .2 0 .1 0 .3 0 .4 .1 .2 0 1 0 1 .1 1 0 1 .1 1 0 1 .1 1 0 1 0 1 .1 1 0 1 0 1 .1 1 0 1 0 1 0 1 .1 1 0 1 0 1 0 1 0 1 .1 1 0 1 0 1 0 1 0 1 0 1 .1 1 0 1 0 1 0 1 0 1 0 1 0 1 0 1 0 1 .1 1 0 1 0 1 0 1 0 1 0 1 0 1 0 1 0 1 0 1 0 1 0 1 0 1 0 1 .1 1 0 1 0 1 0 1 0 1 0 1 0 1 0 1 0' fill='none' stroke='#3b6ee6' stroke-width='1.8'/><path d='M123.5 453.6l1 0 1 0 1 0 1 0 1 0 1 0 1 0 1 0 1 0 1 0 1 0 1-.1 1 0 1 0 1 0 1 0 1 0 1 0 1 0 1 0 1 0 1 0 1 0 1 0 1 0 1-.1 1 0 1 0 1 0 1 0 1 0 1 0 1-.1 1 0 1 0 1 0 1 0 1-.1 1 0 1 0 1 0 1-.1 1 0 1-.1 1 0 1-.1 1 0 1-.1 1-.1 1-.1 1-.1 1-.1 1-.1 .3 0 .3-.1 .4 0 0 0 .3-.1 .4 0 .3-.1 .3-.1 .4 0 .3-.1 0 0 .4-.1 .2 0 .1-.1 .2 0 .1 0 0-.1 .3 0 .1 0 .2-.1 .1 0 .3-.1 0 0 .1 0 .2-.1 .1-.1 .2 0 .1-.1 .3-.1 0 0 .1 0 .2-.1 .1 0 .3-.1 .1-.1 .2-.1 .1 0 .2-.1 .1-.1 .3-.1 .1-.1 .2-.1 0 0 .1-.1 .3-.1 .1-.1 .2-.1 .1-.1 .2-.1 0-.1 .1 0 .2-.2 .1 0 .1-.1 .1-.1 .1-.1 .1-.1 .2-.1 0 0 .1-.1 .1-.1 .1-.2 .1 0 .1-.1 .2-.2 0-.1 .1-.1 .2-.2 .1-.1 .1-.1 .1-.2 .1-.1 .1-.1 .2-.3 .1-.1 .1-.1 .1-.2 0-.1 .1-.1 .1-.2 .2-.2 0-.2 .1-.2 .2-.3 .1-.1 .1-.2 .1-.2 0-.1 .1-.2 .1-.2 .2-.4 .1-.2 .1-.2 .1-.4 .1-.2 .1-.3 .1-.3 .1-.1 0-.3 .1-.2 .2-.5 .1-.3 .1-.3 .1-.6 .1-.2 .1-.4 .1-.3 .1-.3 .1-.3 .1-.4 .1-.6 .1-.4 .1-.4 .2-.7 0-.4 .1-.4 .1-.3 .1-.5 .1-.4 .1-.5 .1-.8 .1-.4 .1-.6 .2-.8 .1-.5 .1-.5 0-.3 .1-.6 .1-.5 .1-.6 .2-.9 0-.4 .1-.6 .2-.8 .1-.5 .1-.5 0-.1 .1-.7 .1-.4 .1-.5 .2-.7 .1-.3 .1-.4 .1-.5 .1-.3 .1-.2 .2-.4 0-.1 .1-.2 .2-.1 .1 0 .1 0 .1 .1 .1 .1 .1 .1 0 .1 .2 .3 .1 .2 .1 .3 .1 .5 .1 .3 .1 .4 .2 .7 0 .4 .1 .3 0 .2 .2 .8 .1 .4 .1 .6 .1 .8 .1 .5 .1 .5 .2 .9 .1 .5 0 .2 .1 .4 .1 .8 .1 .5 .1 .5 .2 .9 0 .4 .1 .6 .2 .8 .1 .4 0 .1 .1 .4 .1 .8 .1 .3 .1 .5 .2 .7 .1 .4 .1 .4 .1 .6 .1 .4 .1 .3 .2 .6 0 .3 .1 .4 .2 .5 .1 .3 .1 .3 .1 .5 .1 .2 0 0 .1 .3 .2 .5 .1 .2 .1 .2 .1 .4 .1 .2 .1 .3 .2 .3 0 .1 0 .1 .1 .2 .2 .4 .1 .1 .1 .2 .1 .3 .1 .2 .1 .1 .2 .3 0 0 .1 .1 .1 .2 .1 .2 .1 .2 .1 .1 .2 .2 0 .1 .1 .2 .2 .2 .1 .1 .1 .1 .1 .2 .1 .1 .1 .1 .2 .1 .1 .1 .1 .1 .1 .2 0 0 .1 .1 .1 .1 .2 .1 0 .1 .1 0 .2 .2 .1 0 .1 .1 .1 .1 0 0 .1 .1 .1 .1 .2 .1 .1 0 .1 .1 .1 .1 .1 .1 .1 0 .1 .1 .1 0 0 .1 .1 0 .2 .1 .1 .1 .1 0 .1 .1 .1 0 .1 .1 .1 0 .1 .1 .1 0 .1 0 .1 .1 .1 0 .1 .1 .2 .1 0 0 .1 0 .1 .1 .1 0 .1 0 .1 .1 .1 0 .1 0 .1 .1 .2 0 .1 .1 .1 0 0 0 .1 0 .1 .1 .1 0 .2 0 0 .1 .1 0 .2 0 .1 .1 .1 0 0 0 .1 0 .1 .1 .1 0 .2 0 .1 0 .1 .1 .1 0 .2 0 .2 .1 .1 0 .2 .1 .2 0 .1 0 .2 .1 0 0 .2 0 .2 0 .1 0 .2 .1 .2 0 .1 0 0 0 .2 .1 .2 0 .1 0 .2 0 .2 .1 .1 0 .1 0 .1 0 .2 0 .2 .1 .1 0 .2 0 .1 0 .1 0 .1 0 .2 .1 .2 0 .2 0 .1 0 .1 0 .1 0 .2 .1 .1 0 .2 0 .2 0 .1 0 .1 0 .1 0 .2 .1 .2 0 .1 0 .2 0 .2 0 0 0 .1 0 .2 0 .2 .1 .1 0 .2 0 .2 0 0 0 .2 0 .1 0 .2 0 .2 0 .1 0 .2 .1 .2 0 .1 0 .2 0 .2 0 .2 0 .1 0 0 0 .2 0 .2 0 .1 0 .2 .1 .2 0 .1 0 0 0 .2 0 .2 0 .2 0 .1 0 .2 0 .1 0 .1 0 .1 0 .2 0 .2 0 .1 .1 .2 0 .1 0 .1 0 .2 0 .1 0 .2 0 .2 0 .1 0 .1 0 .1 0 .2 0 .1 0 .2 0 .2 0 .2 0 0 0 .1 0 .2 .1 .2 0 .1 0 .2 0 .2 0 0 0 .1 0 .2 0 .2 0 .2 0 .1 0 .2 0 .2 0 .1 0 .2 0 .2 0 .1 0 .2 0 0 0 .2 0 .2 0 .1 0 .2 .1 .2 0 .1 0 0 0 .2 0 .2 0 .1 0 .2 0 .2 0 .1 0 .1 0 .1 0 .4 0 .3 0 .1 0 .2 0 .4 0 .3 0 .1 0 .3 0 .3 0 .3 0 .1 0 .3 0 .3 .1 .4 0 0 0 .3 0 .3 0 .4 0 0 0 .3 0 .4 0 .3 0 .3 0 .4 0 .3 0 0 0 .4 0 .3 0 .3 0 0 0 .4 0 .3 0 .3 0 .1 0 .3 0 .3 0 .3 0 .1 0 .3 0 .4 .1 .2 0 .1 0 .3 0 .4 0 .2 0 1 0 1 0 1 0 1 0 1 0 1 0 1 0 1 0 1 0 1 0 1 0 1 0 1 .1 1 0 1 0 1 0 1 0 1 0 1 0 1 0 1 0 1 0 1 0 1 0 1 0 1 0 1 0 1 0 1 0 1 0 1 0 1 0 1 0 1 0 1 0 1 0 1 0 1 0 1 0 1 0 1 0 1 0 1 0 1 0 1 0 1 0 1 0 1 0 1 0 1 0 1 0 1 0 1 0 1 0 1 0 1 0 1 0 1 .1' fill='none' stroke='#ff2020' stroke-width='1.7'/><path d='M123.5 453.6l1 0 1-.1 1 0 1 0 1 0 1 0 1 0 1 0 1 0 1 0 1 0 1 0 1 0 1 0 1 0 1 0 1 0 1 0 1 0 1 0 1 0 1 0 1-.1 1 0 1 0 1 0 1 0 1 0 1 0 1 0 1 0 1 0 1 0 1-.1 1 0 1 0 1 0 1 0 1 0 1 0 1-.1 1 0 1 0 1 0 1 0 1-.1 1 0 1 0 1-.1 1 0 1 0 1 0 1-.1 .3 0 .3 0 .4 0 0 0 .3 0 .4-.1 .3 0 .3 0 .4 0 .3 0 0 0 .4 0 .2 0 .1-.1 .2 0 .1 0 0 0 .3 0 .1 0 .2 0 .1 0 .3 0 0 0 .1 0 .2 0 .1 0 .2-.1 .1 0 .3 0 0 0 .1 0 .2 0 .1 0 .3 0 .1 0 .2-.1 .1 0 .2 0 .1 0 .3 0 .1 0 .2 0 0 0 .1 0 .3-.1 .1 0 .2 0 .1 0 .2 0 0 0 .1 0 .2 0 .1 0 .1 0 .1-.1 .1 0 .1 0 .2 0 0 0 .1 0 .1 0 .1 0 .1 0 .1 0 .2-.1 0 0 .1 0 .2 0 .1 0 .1 0 .1 0 .1 0 .1 0 .2-.1 .1 0 .1 0 .1 0 0 0 .1 0 .1 0 .2 0 0 0 .1-.1 .2 0 .1 0 .1 0 .1 0 0 0 .1 0 .1 0 .2-.1 .1 0 .1 0 .1 0 .1 0 .1 0 .1 0 .1 0 0-.1 .1 0 .2 0 .1 0 .1 0 .1 0 .1-.1 .1 0 .1 0 .1 0 .1 0 .1 0 .1 0 .1-.1 .1 0 .2 0 0 0 .1 0 .1 0 .1-.1 .1 0 .1 0 .1 0 .1 0 .1-.1 .2 0 .1 0 .1 0 0 0 .1 0 .1-.1 .1 0 .2 0 0 0 .1-.1 .2 0 .1 0 .1 0 0 0 .1-.1 .1 0 .1 0 .2 0 .1-.1 .1 0 .1 0 .1 0 .1-.1 .2 0 0 0 .1 0 .2-.1 .1 0 .1 0 .1-.1 .1 0 .1 0 0 0 .2-.1 .1 0 .1 0 .1-.1 .1 0 .1 0 .2-.1 0 0 .1 0 0 0 .2-.1 .1 0 .1 0 .1-.1 .1 0 .1-.1 .2 0 .1-.1 0 0 .1 0 .1 0 .1-.1 .1 0 .2-.1 0 0 .1-.1 .2 0 .1-.1 0 0 .1 0 .1-.1 .1 0 .1 0 .2-.1 .1-.1 .1 0 .1-.1 .1 0 .1-.1 .2-.1 0 0 .1 0 .2-.1 .1-.1 .1 0 .1-.1 .1-.1 0 0 .1 0 .2-.1 .1-.1 .1 0 .1-.1 .1-.1 .1 0 .2-.1 0-.1 0 0 .1-.1 .2-.1 .1 0 .1-.1 .1-.1 .1-.1 .1-.1 .2-.1 0 0 .1 0 .1-.1 .1-.2 .1 0 .1-.1 .2-.1 0-.1 .1-.1 .2-.1 .1-.1 .1-.1 .1-.2 .1 0 .1-.1 .2-.2 .1-.1 .1-.1 .1-.1 0-.1 .1-.1 .1-.1 .2-.1 0-.1 .1-.2 .2-.1 .1-.1 .1-.2 .1-.1 0-.1 .1-.1 .1-.1 .2-.2 .1-.1 .1-.2 .1-.2 .1-.1 .1-.1 .1-.2 .1-.1 0-.1 .1-.1 .2-.3 .1-.1 .1-.2 .1-.2 .1-.1 .1-.2 .1-.1 .1-.2 .1-.1 .1-.2 .1-.3 .1-.1 .1-.2 .2-.3 0-.1 .1-.2 .1-.1 .1-.2 .1-.1 .1-.2 .1-.3 .1-.2 .1-.2 .2-.3 .1-.2 .1-.2 0 0 .1-.3 .1-.1 .1-.2 .2-.4 0-.1 .1-.2 .2-.3 .1-.2 .1-.2 0 0 .1-.3 .1-.2 .1-.2 .2-.3 .1-.1 .1-.2 .1-.3 .2-.3 .2-.3 .1-.3 .2-.2 .2-.3 .1-.2 .2-.3 0 0 .2-.2 .2-.2 .1-.1 .2-.2 .2-.1 .1-.1 0 0 .2-.1 .2-.1 .1 0 .2 0 .2 0 .1 0 .1 .1 .1 0 .2 .1 .2 .1 .1 .1 .2 .2 .1 .1 .1 .1 .1 .2 .2 .2 .2 .2 .2 .2 .1 .3 .1 .1 .1 .2 .2 .2 .1 .4 .2 .2 .2 .4 .1 .3 .1 .1 .1 .2 .2 .3 .2 .4 .1 .3 .2 .4 .2 .3 0 .1 .1 .2 .2 .4 .2 .3 .1 .3 .2 .4 .2 .3 0 0 .2 .3 .1 .3 .2 .4 .2 .3 .1 .3 .2 .3 .2 .3 .1 .3 .2 .3 .2 .2 .2 .3 .1 .2 0 .1 .2 .2 .2 .3 .1 .2 .2 .3 .2 .2 .1 .2 0 0 .2 .3 .2 .2 .2 .2 .1 .2 .2 .2 .1 .1 .1 .1 .1 .2 .2 .2 .2 .1 .1 .2 .2 .2 .1 .1 .1 .1 .2 .1 .1 .2 .2 .1 .2 .2 .1 .1 .1 .1 .1 .1 .2 .1 .1 .1 .2 .2 .2 .1 .2 .1 0 .1 .1 0 .2 .2 .2 .1 .1 .1 .2 .1 .2 .1 0 0 .1 .1 .2 .1 .2 .1 .2 .1 .1 .1 .2 .1 .2 .1 .1 .1 .2 0 .2 .1 .1 .1 .2 .1 0 0 .2 0 .2 .1 .1 .1 .2 .1 .2 0 .1 .1 0 0 .2 .1 .2 0 .1 .1 .2 0 .2 .1 .1 0 .1 .1 .1 0 .4 .1 .3 .1 .1 .1 .2 0 .4 .1 .3 .1 .1 0 .3 .1 .3 .1 .3 .1 .1 0 .3 0 .3 .1 .4 .1 0 0 .3 .1 .3 0 .4 .1 0 0 .3 0 .4 .1 .3 .1 .3 0 .4 .1 .3 0 0 0 .4 .1 .3 0 .3 0 0 0 .4 .1 .3 0 .3 .1 .1 0 .3 0 .3 0 .3 .1 .1 0 .3 0 .4 0 .2 .1 .1 0 .3 0 .4 0 .2 .1 1 0 1 .1 1 .1 1 .1 1 0 1 .1 1 0 1 .1 1 0 1 0 1 .1 1 0 1 0 1 .1 1 0 1 0 1 0 1 .1 1 0 1 0 1 0 1 0 1 .1 1 0 1 0 1 0 1 0 1 0 1 0 1 .1 1 0 1 0 1 0 1 0 1 0 1 0 1 0 1 0 1 0 1 0 1 .1 1 0 1 0 1 0 1 0 1 0 1 0 1 0 1 0 1 0 1 0 1 0 1 0 1 0 1 0 1 0 1 0 1 0' fill='none' stroke='#ff2020' stroke-width='1.7'/><path d='M25 526.1l1 .2 1 .2 1 .1 1-.1 1 .1 1-.3 1-.3 1 .1 1 .4 1 .2 1-.4 1 0 1 .1 1 .3 1 0 1 .2 1-.7 1 0 1 0 1-.4 1 .5 1 .2 1 0 1-.5 1-.2 1-.3 1 .3 1 .1 1-.1 1 .2 1 .2 1 .1 1-.2 1-.2 1 0 1-.2 1-.3 1 .3 1-.2 1-.9 .2 .1 .3 .2 .3 0 .2-.2 .2-.1 .3-.5 .3-.5 .2-.6 .2-.7 .3-.5 .3-.8 .2-.8 .2-1.1 .3-1.1 .3-1.8 .2-1.7 .2-2.8 .3-3.3 .3-5 .2-7.4 .2-9.3 .3-11.1 .3-9.3 .2-4.2 .2 4.2 .3 9.9 .3 11 .2 9.4 .2 6.9 .3 4.7 .3 3.6 .2 2.8 .2 1.8 .3 1.4 .3 1.4 .2 1.1 .2 1 .3 .3 .3 .5 .2 .7 .2 .4 .3 .4 .3 .3 .2-.3 .2 .3 .3 .1 .3 .4 .2 .4 1 .1 1 0 1 .5 1-.1 1 .5 1 .3 1 .3 1 .1 1-.3 1-.5 1 .2 1-.4 1 .1 1 .4 1-.4 1 .3 1-.3 1 .1 1-.1 1 .2 1-.1 1 .2 1 .3 1-.2 1 0 1 .1 1-.2 1 .1 1 .2 1 .3 1 0 1 0 1-.1 1 .2 1-.4' fill='none' stroke='#111' stroke-width='1.3' stroke-linejoin='round'/><path d='M113.9 526.7h3.2M119.4 524.5h3.4' stroke='#222' stroke-width='1.2'/><path d='M123.5 528.3l1-.3 1-.4 1 .3 1-.8 1-.9 1-.2 1 1.1 1-.9 1-.2 1-1 1 .3 1 .9 1-.8 1 .5 1 0 1-.5 1 .1 1-.7 1 .2 1-.3 1 1.9 1-1 1 .4 1 1.3 1-.1 1 1.1 1 0 1 .1 1-.7 1 .2 1-.2 1 .1 1 .1 1-.3 1-.6 1 .6 1-.1 1-.3 1-.7 1 .9 1-.6 1 1 1 .2 1-.3 1-.4 1-.5 1 .7 1-1.7 1-.3 1 .5 1-.1 1 .8 1-.5 1 .6 1 2.4 1-1.9 1-.5 1-.2 .6 .1 .3 .1 .1 0 .3-.3 .3-.4 .3-.2 .1-.1 0 0 .2 .2 .1 .1 .3 .3 0 .1 .3 .3 .1 0 0 .1 .3 0 0 0 .3 .1 .1 0 .2 .1 .1 0 .3 .2 0 .1 .3 .1 .1 .1 .3 .2 0 0 0 0 .3 0 .1 0 .2 0 .1 0 .3 0 0 0 0 0 .3 0 .1 0 .3-.1 0 0 .3 0 .1 0 .2 0 .1 0 .3 0 0 0 .3 0 0-.1 .1 0 .3-.2 0-.1 .3-.2 .1 0 .1-.1 .1-.1 0 .1 .1 .1 .1 .2 .2 .2 0 .1 .2 .2 .1 .3 .1 0 .1 .3 .1 .1 .1-.1 0-.1 .2-.2 .1-.2 .1-.1 .1-.2 .1-.2 .1-.1 .1-.2 .1-.1 .1 0 0 0 .2 0 .1 .1 .1 0 .1 0 .2 0 0 0 .2 .1 0 0 .1 .1 .1 0 .1 .1 .1 .1 .1 .1 .1 .1 .2 .1 0 .1 .2 .1 0 0 .1-.1 .1-.1 .1-.1 .2-.2 0 0 .2-.2 .1-.1 .1-.1 .1-.1 .1 .1 .1 0 .1 .1 .2 .1 0 0 .2 .1 .1 .1 .1 .1 .1 .1 0 0 .2-.1 0 0 .2 0 .1-.1 .1 0 .1 0 .1-.1 .1 0 .1 0 0 0 .2 .1 0 0 .2 0 .1 .1 .1 0 .1 0 .2 .1 0 0 .1 0 .1 0 .1-.1 .1 0 .1-.1 .1-.1 .1-.1 .1-.1 .2-.1 0 0 .1 0 .1-.1 .1-.1 .1 0 .1-.1 .2-.1 0-.1 .2-.1 .1-.1 .1 0 0 0 .1 0 .1 .1 .1 .1 .1 .1 .2 .1 0 0 .2 .1 .1 .1 .1 0 0 .1 .1-.2 .2-.1 0-.1 .2-.1 .1-.1 .1-.1 .1-.1 .1-.2 .1 0 .1-.1 .2-.2 0 0 .2-.1 .1-.2 .1 0 .1-.1 .2-.1 0-.1 0 0 .2 0 .1 0 .1 0 .1 0 .1 .1 .1 0 .1 0 .2 0 0 0 0 0 .2 0 .1 0 .1 0 .1 .1 .2 0 0 0 .2 0 .1 0 .1 0 .1-.1 .1-.1 .1 0 .1-.1 .2 0 0-.1 .2-.1 .1 0 0 0 .1 .1 .1 .2 .2 .3 0 .1 .2 .2 .1 .2 .1 .1 .1 .2 .1 .2 0 0 .1 .1 .1 0 .2 .1 0 0 .2 .1 .1 .1 .1 0 .1 .1 .1 0 .1 .1 0 0 .2 .1 .1 .1 .1 0 .1 .1 .1 .1 .1 0 .1 .1 .1 .1 .1-.2 0-.1 .2-.2 .1-.3 .1-.1 .1-.3 .2-.2 .2-.4 0-.1 .1 0 .2 .1 .1 0 .2 0 .2 0 .2 0 0 0 .1-.1 .2-.4 .2-.2 .2-.3 .1-.2 .2-.4 .1 .1 .2 .1 .2 0 .2 .1 .1 0 .2 .1 0 0 .2 0 .2 .1 .1 0 .2 .1 .1 0 .2 0 0 0 .2 .1 .2 0 .1 .1 .2 .1 .2 0 .1 .1 .1 0 .1 0 .2 0 .1 0 .2 0 .2 0 .1 0 .1 0 .1 0 .2 0 .2 0 .2 0 .1 0 .1 0 .1 0 .1-.1 .2-.1 .2-.1 .2 0 .1-.1 .1 0 .1-.1 .2 0 .2 0 .1-.1 .2 0 .1 0 .1 0 .1 0 .2 0 .2 .1 .1 0 .2 .1 .2 0 0 0 .2 .1 .1 0 .2 0 .1 .1 .2 0 .2 .1 0 0 .2 0 .1 .1 .2 0 .2 .1 .2 0 .1 .1 .2 .1 .1 0 .2 .1 .2 .1 .2 0 .1 .1 0 0 .2 .1 .2 0 .2 .1 .1 0 .2 .1 .1 0 0-.1 .2-.2 .2-.2 .2-.3 .1-.2 .2-.2 .1-.1 .1 0 .2 .2 .1 .1 .2 .1 .1 .1 .2 .2 .1 0 .1 0 .2 0 .1 0 .2 0 .2 0 .2 0 0 0 .1 0 .2-.1 .1-.1 .2-.1 .2-.1 .2-.1 0 0 .3 .2 .4 .3 .3 .3 .3 0 .4 0 .3 0 0 0 .4-.1 .3 0 .3-.1 0 0 .4 0 .3 0 .3 0 .1 0 .3 .2 .3 .2 .3 .1 .1 0 .3-.2 .4-.2 .2-.2 .1 .1 .3 .2 .4 .1 .2 .2 1 1.1 1 .3 1 .9 1-.3 1 0 1-1.4 1-1.2 1-.4 1-2 1 .8 1-.3 1-.8 1 .1 1 1.6 1 .6 1 1.3 1 1.1 1-.5 1 .3 1-.1 1 0 1-.1 1-.4 1-.2 1-2 1 .5 1 1 1 .1 1 1.1 1 .2 1 .8 1 .2 1 .1 1-.9 1-1 1-.1 1-.4 1-.2 1-2.5 1 .9 1-1.1 1 1.7 1 .5 1 .8 1 1.1 1 .3 1-.3 1 .2 1-.1 1-1.3 1-.4 1-.7 1 1.4 1-.6 1-.1 1-.1 1-.5 1 .1 1 .6 1-.5 1 .1 1 0 1-1.1 1 .8 1 .6 1 .2 1-2' fill='none' stroke='#dedede' stroke-width='2.2' stroke-linejoin='round'/><path d='M123.5 523.8l1 0 1 0 1 0 1 0 1 0 1 0 1 0 1-.1 1 0 1 0 1 0 1 0 1 0 1 0 1-.1 1 0 1 0 1 0 1 0 1 0 1-.1 1 0 1 0 1 0 1-.1 1 0 1 0 1-.1 1 0 1 0 1-.1 1 0 1-.1 1 0 1-.1 1 0 1-.1 1-.1 1 0 1-.1 1-.1 1-.1 1-.1 1-.1 1-.1 1-.2 1-.1 1-.2 1-.2 1-.2 1-.3 1-.3 1-.3 1-.4 1-.4 1-.5 1-.6 1-.7 .6-.5 .3-.3 .1-.1 .3-.3 .3-.3 .3-.3 .1-.1 0 0 .2-.3 .1-.1 .3-.4 0-.1 .3-.4 .1-.1 0 0 .3-.4 0-.1 .3-.5 .1-.1 .2-.4 .1-.2 .3-.5 0-.1 .3-.5 .1-.2 .3-.5 0-.1 0 0 .3-.6 .1-.2 .2-.6 .1-.1 .3-.6 0-.1 0-.1 .3-.6 .1-.2 .3-.6 0-.2 .3-.7 .1-.1 .2-.7 .1-.2 .3-.7 0-.1 .3-.7 0 0 .1-.2 .3-.7 0-.2 .3-.7 .1-.2 .1-.4 .1-.3 0-.2 .1-.2 .1-.4 .2-.5 0-.2 .2-.5 .1-.5 .1-.2 .1-.6 .1-.3 .1-.2 0-.2 .2-.6 .1-.6 .1-.2 .1-.6 .1-.6 .1-.2 .1-.6 .1-.3 .1-.3 0-.3 .2-.6 .1-.6 .1-.3 .1-.6 .2-.6 0-.2 .2-.7 0-.1 .1-.5 .1-.2 .1-.6 .1-.6 .1-.3 .1-.6 .2-.6 0-.2 .2-.6 0-.1 .1-.5 .1-.2 .1-.6 .2-.5 0-.3 .2-.5 .1-.5 .1-.2 .1-.5 .1-.5 .1-.2 .1-.5 .2-.4 0-.2 .2-.4 .1-.5 .1-.1 .1-.4 0-.1 .2-.4 0-.1 .2-.5 .1-.4 .1-.1 .1-.4 .1-.5 .1-.1 .1-.3 0-.1 .2-.4 0-.2 .2-.4 .1-.4 .1-.1 .1-.4 .2-.4 0-.1 .1-.2 .1-.2 .1-.4 .1-.1 .1-.4 .1-.3 .1-.2 .1-.3 .2-.3 0-.2 .1-.1 .1-.2 .1-.3 .1-.2 .1-.3 .2-.3 0-.1 .2-.3 .1-.3 .1-.1 0-.1 .1-.2 .1-.3 .1-.1 .1-.3 .2-.2 0-.1 .2-.3 .1-.2 .1-.1 0 0 .1-.3 .2-.2 0-.1 .2-.3 .1-.2 .1-.1 .1-.3 .1-.2 .1-.1 .1-.3 .2-.2 0-.1 .2-.3 .1-.2 .1-.1 .1-.2 .2-.3 0 0 0 0 .2-.3 .1-.2 .1-.1 .1-.2 .1-.1 .1-.1 .1-.2 .2-.2 0 0 0 0 .2-.2 .1-.1 .1-.1 .1-.1 .2-.1 0 0 .2-.1 .1-.1 .1 0 .1-.1 .1 0 .1 0 .1 0 .2 0 0 0 .2 .1 .1 .1 0 0 .1 0 .1 .2 .2 .1 0 .1 .2 .2 .1 .2 .1 .1 .1 .2 .1 .2 0 .1 .1 .1 .1 .3 .2 .3 0 .1 .2 .3 .1 .3 .1 .2 .1 .3 .1 .2 .1 .2 0 .1 .2 .4 .1 .4 .1 .1 .1 .4 .1 .4 .1 .1 .1 .4 .1 .2 .1 .2 0 .2 .2 .4 .1 .4 .1 .1 .1 .4 .2 .5 .2 .7 0 .1 .1 .4 .2 .9 .1 .6 .2 .9 .2 .7 .2 1 0 .1 .1 .6 .2 1.1 .2 .8 .2 1.1 .1 .7 .2 1.2 .1 .7 .2 1.2 .2 .7 .2 1.1 .1 .8 .2 .9 0 .1 .2 .7 .2 1 .1 .7 .2 .9 .1 .6 .2 .6 0 .2 .2 .6 .2 .8 .1 .6 .2 .9 .2 .6 .1 .6 .1 .2 .1 .6 .2 .8 .1 .6 .2 .8 .2 .6 .1 .5 .1 .3 .1 .6 .2 .7 .2 .6 .2 .7 .1 .5 .1 .4 .1 .4 .1 .5 .2 .6 .2 .5 .2 .6 .1 .5 .1 .2 .1 .4 .2 .4 .2 .5 .1 .4 .2 .4 .1 .4 .1 .1 .1 .3 .2 .3 .2 .4 .1 .2 .2 .4 .2 .3 0 .1 .2 .3 .1 .2 .2 .4 .1 .2 .2 .4 .2 .2 0 .1 .2 .3 .1 .2 .2 .3 .2 .2 .2 .3 .1 .2 .2 .3 .1 .2 .2 .3 .2 .2 .2 .3 .1 .2 0 0 .2 .2 .2 .2 .2 .3 .1 .1 .2 .3 .1 .1 0 0 .2 .2 .2 .2 .2 .2 .1 .1 .2 .2 .1 .1 .1 0 .2 .2 .1 .1 .2 .2 .1 .1 .2 .2 .1 0 .1 .1 .2 .1 .1 .1 .2 .1 .2 .1 .2 .2 0 0 .1 .1 .2 .1 .1 .1 .2 .2 .2 .1 .2 .1 0 0 .3 .2 .4 .2 .3 .2 .3 .2 .4 .2 .3 .2 0 0 .4 .1 .3 .2 .3 .1 0 0 .4 .1 .3 .1 .3 .1 .1 0 .3 0 .3 .1 .3 0 .1 0 .3 .1 .4 .1 .2 0 .1 .1 .3 0 .4 .1 .2 .1 1 .2 1 .1 1 .2 1 .2 1 .1 1 .1 1 .1 1 .1 1 .1 1 .1 1 .1 1 .1 1 .1 1 0 1 .1 1 0 1 .1 1 .1 1 0 1 0 1 .1 1 0 1 .1 1 0 1 0 1 .1 1 0 1 0 1 0 1 .1 1 0 1 0 1 0 1 .1 1 0 1 0 1 0 1 0 1 .1 1 0 1 0 1 0 1 0 1 0 1 0 1 .1 1 0 1 0 1 0 1 0 1 0 1 0 1 0 1 0 1 0 1 .1 1 0 1 0 1 0 1 0 1 0 1 0 1 0 1 0 1 0 1 0 1 0' fill='none' stroke='#e2c6ec' stroke-width='2.6'/><path d='M123.5 522.7l1 2.2 1 .7 1-.1 1-2.8 1 3.6 1-1.3 1-.1 1-1.1 1 2.4 1-1.2 1 1.5 1-1.9 1-1.4 1 1.8 1-1.1 1 1.2 1-1.5 1 1.5 1 .3 1 .1 1-.9 1 .1 1 .4 1-.6 1 .7 1-1.4 1-2 1 2 1 1.3 1-.3 1-.2 1-1.1 1-.1 1-1.1 1 2.9 1 0 1-.6 1 0 1-.1 1-.6 1 .1 1-.3 1 .5 1-2 1 .7 1 1.1 1-1.2 1-2 1 1.8 1-2.5 1 4 1-1.1 1-.8 1-1.8 1-.9 1-.3 1 .4 1-1.8 .6 .3 .3 .1 .1 0 .3 0 .3-.1 .3-.1 .1-.1 0 0 .2-.2 .1-.1 .3-.2 0-.1 .3-.3 .1-.1 0 0 .3-.9 0-.2 .3-.9 .1-.2 .2-.9 .1-.2 .3-.8 0-.2 .3-.8 .1-.2 .3-.8 0-.1 0 0 .3-.3 .1 0 .2-.3 .1 0 .3-.3 0 0 0-.2 .3-1 .1-.2 .3-1.1 0-.2 .3-1.1 .1-.1 .2-.5 .1-.1 .3-.6 0-.1 .3-.5 0-.1 .1-.1 .3-.4 0-.1 .3-.4 .1-.1 .1-.3 .1-.2 0-.1 .1-.2 .1-.5 .2-.4 0-.2 .2-.5 .1-.5 .1-.3 .1-.5 .1-.3 .1-.3 0-.4 .2-.8 .1-.8 .1-.3 .1-.8 .1-.9 .1-.3 .1-.8 .1-.4 .1-.3 0-.2 .2-.6 .1-.6 .1-.2 .1-.6 .2-.5 0-.3 .2-.5 0-.2 .1-.4 .1-.2 .1-.5 .1-.5 .1-.3 .1-.5 .2-.5 0-.2 .2-.5 0-.1 .1-.6 .1-.4 .1-.7 .2-.8 0-.3 .2-.7 .1-.7 .1-.3 .1-.7 .1-.5 .1-.2 .1-.4 .2-.5 0-.1 .2-.4 .1-.5 .1-.1 .1-.4 0 0 .2-.4 0-.2 .2-.3 .1-.4 .1-.2 .1-.3 .1-.4 .1-.1 .1-.3 0-.2 .2-.5 0-.2 .2-.6 .1-.5 .1-.2 .1-.5 .2-.6 0-.2 .1-.3 .1-.1 .1-.3 .1-.2 .1-.3 .1-.3 .1-.1 .1-.3 .2-.3 0-.1 .1-.2 .1-.1 .1-.3 .1-.1 .1-.3 .2-.3 0-.1 .2-.2 .1-.3 .1-.1 0 0 .1-.2 .1-.2 .1-.1 .1-.2 .2-.2 0-.1 .2-.2 .1-.1 .1-.1 0 0 .1-.4 .2-.3 0-.2 .2-.4 .1-.4 .1-.1 .1-.4 .1-.4 .1-.2 .1 0 .2 0 0 0 .2 0 .1-.1 .1 0 .1 0 .2 0 0 0 0 0 .2-.4 .1-.4 .1-.1 .1-.4 .1-.3 .1-.2 .1-.3 .2-.3 0-.1 0 .1 .2 .1 .1 .2 .1 .1 .1 .2 .2 .2 0 .1 .2 .2 .1 .2 .1 0 .1-.2 .1-.1 .1 0 .1-.1 .2 0 0-.1 .2 0 .1 .1 0-.1 .1 0 .1-.2 .2-.1 0-.1 .2-.1 .1-.1 .1 0 .1 0 .1-.1 0 .2 .1 .2 .1 .6 .2 .5 0 .3 .2 .6 .1 .6 .1 .3 .1 .6 .1 .4 .1 0 0 .1 .2 .2 .1 .1 .1 .1 .1 .2 .1 .1 .1 .1 .1 .2 .1 .1 .1 .3 0 .3 .2 .6 .1 .6 .1 .2 .1 .6 .2 .7 .2 1 0 .2 .1 .3 .2 .7 .1 .5 .2 .7 .2 .6 .2 .8 0 .1 .1 .5 .2 .9 .2 .6 .2 .9 .1 .7 .2 .9 .1 .9 .2 1.3 .2 .9 .2 1.3 .1 .9 .2 1.1 0 .1 .2 .5 .2 .7 .1 .4 .2 .6 .1 .4 .2 .4 0 .2 .2 .8 .2 1.2 .1 .8 .2 1.2 .2 .8 .1 .9 .1 .2 .1 .6 .2 .9 .1 .5 .2 .9 .2 .5 .1 .5 .1 .3 .1 .5 .2 .7 .2 .5 .2 .6 .1 .5 .1 .3 .1 .4 .1 .6 .2 .8 .2 .5 .2 .8 .1 .5 .1 .3 .1 .4 .2 .4 .2 .5 .1 .4 .2 .5 .1 .3 .1 .1 .1 .5 .2 .5 .2 .8 .1 .5 .2 .7 .2 .4 0 .2 .2-.1 .1-.1 .2-.2 .1-.1 .2-.2 .2-.1 0 0 .2 .7 .1 .6 .2 .8 .2 .6 .2 .8 .1 .6 .2 .1 .1 .1 .2 .2 .2 0 .2 .2 .1 0 0 .1 .2 .2 .2 .2 .2 .3 .1 .2 .2 .2 .1 .2 0 0 .2 0 .2 0 .2 0 .1 0 .2 0 .1 0 .1 .3 .2 .9 .1 .7 .2 1 .1 .6 .2 1 .1 .3 .1-.2 .2-.3 .1-.2 .2-.4 .2-.2 .2-.3 0-.1 .1 .1 .2 .1 .1 .2 .2 .1 .2 .1 .2 .2 0 0 .3-.3 .4-.3 .3-.4 .3 1.4 .4 1.3 .3 1.2 0 0 .4-.7 .3-.7 .3-.7 0 .1 .4 .3 .3 .4 .3 .2 .1-.1 .3-.5 .3-.6 .3-.4 .1 .1 .3 .5 .4 .5 .2 .4 .1 0 .3 0 .4 0 .2 .1 1 1.9 1-.9 1-.7 1 1.4 1-1 1 .1 1 2.6 1-3.7 1 3.1 1-1.5 1-.8 1 2 1 .1 1-1.4 1 .7 1 1.5 1-.9 1 0 1-1.1 1-.5 1 1 1 1.5 1-.5 1-.4 1 1.8 1-1.7 1-.7 1 .3 1 2.3 1-4.2 1 1.9 1 1 1-.7 1 2.5 1-.5 1-1 1-1.4 1 1.6 1-1.1 1 .6 1 .5 1-1 1 1.6 1 .3 1-.3 1-1.5 1-1.9 1 2.8 1 .6 1-1.5 1-.2 1 1.8 1-1.6 1 1.3 1-2.6 1-.2 1 1.4 1-1.6 1 1.6 1 .7 1-2.5 1 3.1 1-2.7 1 1.2 1 .2 1-1.2 1 1' fill='none' stroke='#140814' stroke-width='2.2' stroke-linejoin='round'/><path d='M123.5 523.7l1 0 1 0 1-.1 1 0 1 0 1 0 1 0 1 0 1 0 1 0 1 0 1 0 1 0 1 0 1-.1 1 0 1 0 1 0 1 0 1 0 1 0 1 0 1-.1 1 0 1 0 1 0 1 0 1 0 1-.1 1 0 1 0 1 0 1 0 1-.1 1 0 1 0 1-.1 1 0 1 0 1-.1 1 0 1-.1 1 0 1-.1 1 0 1-.1 1 0 1-.1 1-.1 1-.1 1-.1 1-.1 1-.1 1-.1 1-.1 1-.2 1-.2 1-.1 .6-.2 .3 0 .1-.1 .3 0 .3-.1 .3-.1 .1 0 0 0 .2-.1 .1 0 .3 0 0-.1 .3 0 .1-.1 0 0 .3 0 0 0 .3-.1 .1-.1 .2 0 .1-.1 .3-.1 0 0 .3-.1 .1 0 .3-.1 0 0 0 0 .3-.1 .1 0 .2-.2 .1 0 .3-.1 0 0 0 0 .3-.1 .1-.1 .3-.1 0 0 .3-.2 .1 0 .2-.1 .1-.1 .3-.1 0 0 .3-.2 0 0 .1 0 .3-.2 0 0 .3-.2 .1-.1 .1 0 .1-.1 0 0 .1-.1 .1-.1 .2-.1 0 0 .2-.1 .1-.1 .1-.1 .1-.1 .1 0 .1-.1 0 0 .2-.2 .1-.1 .1 0 .1-.1 .1-.2 .1 0 .1-.2 .1 0 .1-.1 0 0 .2-.2 .1-.1 .1-.1 .1-.1 .2-.2 0 0 .2-.2 0-.1 .1-.1 .1 0 .1-.2 .1-.2 .1 0 .1-.2 .2-.2 0-.1 .2-.2 0 0 .1-.2 .1-.1 .1-.2 .2-.2 0-.1 .2-.2 .1-.2 .1-.1 .1-.2 .1-.3 .1-.1 .1-.2 .2-.3 0-.1 .2-.2 .1-.3 .1-.1 .1-.3 0 0 .2-.3 0-.1 .2-.3 .1-.3 .1-.2 .1-.3 .1-.3 .1-.2 .1-.2 0-.1 .2-.4 0-.2 .2-.3 .1-.4 .1-.2 .1-.4 .2-.4 0-.2 .1-.2 .1-.2 .1-.5 .1-.2 .1-.4 .1-.5 .1-.2 .1-.5 .2-.5 0-.3 .1-.2 .1-.3 .1-.5 .1-.3 .1-.6 .2-.5 0-.3 .2-.6 .1-.6 .1-.3 0-.2 .1-.4 .1-.7 .1-.3 .1-.7 .2-.7 0-.3 .2-.7 .1-.7 .1-.3 0-.1 .1-.7 .2-.7 0-.4 .2-.7 .1-.8 .1-.4 .1-.8 .1-.8 .1-.3 .1-.8 .2-.8 0-.4 .2-.8 .1-.8 .1-.3 .1-.8 .2-.8 0-.2 0-.2 .2-.7 .1-.8 .1-.3 .1-.7 .1-.7 .1-.3 .1-.6 .2-.6 0-.1 0-.1 .2-.6 .1-.5 .1-.2 .1-.4 .2-.4 0-.2 .2-.3 .1-.2 .1-.1 .1-.2 .1-.1 .1 0 .1 0 .2 .1 0 0 .2 .1 .1 .2 0 0 .1 .1 .1 .3 .2 .3 0 .2 .2 .4 .1 .5 .1 .2 .1 .5 .1 .4 0 .2 .1 .2 .1 .7 .2 .6 0 .3 .2 .7 .1 .7 .1 .4 .1 .7 .1 .5 .1 .3 0 .3 .2 .8 .1 .8 .1 .4 .1 .8 .1 .8 .1 .3 .1 .8 .1 .4 .1 .4 0 .4 .2 .8 .1 .8 .1 .3 .1 .8 .2 .8 .2 1 0 .3 .1 .5 .2 1 .1 .7 .2 1 .2 .7 .2 .9 0 .1 .1 .6 .2 .8 .2 .6 .2 .9 .1 .5 .2 .8 .1 .5 .2 .8 .2 .4 .2 .7 .1 .5 .2 .6 0 0 .2 .4 .2 .6 .1 .4 .2 .6 .1 .3 .2 .5 0 .1 .2 .3 .2 .5 .1 .3 .2 .4 .2 .3 .1 .3 .1 .2 .1 .2 .2 .4 .1 .3 .2 .3 .2 .3 .1 .2 .1 .1 .1 .2 .2 .4 .2 .2 .2 .3 .1 .2 .1 .1 .1 .1 .1 .2 .2 .3 .2 .2 .2 .2 .1 .2 .1 0 .1 .2 .2 .1 .2 .3 .1 .1 .2 .2 .1 .1 .1 .1 .1 .1 .2 .1 .2 .2 .1 .1 .2 .2 .2 .1 0 .1 .2 .1 .1 .1 .2 .1 .1 .1 .2 .2 .2 .1 0 0 .2 .1 .1 .1 .2 .1 .2 .1 .2 .1 .1 .1 .2 .1 .1 .1 .2 .1 .2 .1 .2 .1 .1 0 0 .1 .2 0 .2 .1 .2 .1 .1 .1 .2 .1 .1 0 0 0 .2 .1 .2 .1 .2 0 .1 .1 .2 .1 .1 0 .1 0 .2 .1 .1 0 .2 .1 .1 .1 .2 0 .1 0 .1 .1 .2 0 .1 .1 .2 0 .2 .1 .2 0 0 0 .1 .1 .2 0 .1 .1 .2 0 .2 .1 .2 0 0 0 .3 .1 .4 .1 .3 0 .3 .1 .4 .1 .3 .1 0 0 .4 0 .3 .1 .3 0 0 0 .4 .1 .3 .1 .3 0 .1 0 .3 .1 .3 0 .3 .1 .1 0 .3 0 .4 .1 .2 0 .1 0 .3 0 .4 .1 .2 0 1 .1 1 .1 1 .1 1 .1 1 .1 1 .1 1 0 1 .1 1 0 1 .1 1 0 1 .1 1 0 1 .1 1 0 1 0 1 .1 1 0 1 0 1 .1 1 0 1 0 1 0 1 0 1 .1 1 0 1 0 1 0 1 0 1 0 1 .1 1 0 1 0 1 0 1 0 1 0 1 0 1 0 1 .1 1 0 1 0 1 0 1 0 1 0 1 0 1 0 1 0 1 0 1 0 1 0 1 .1 1 0 1 0 1 0 1 0 1 0 1 0 1 0 1 0 1 0 1 0 1 0 1 0 1 0 1 0 1 0 1 0' fill='none' stroke='#3b6ee6' stroke-width='1.8'/><path d='M123.5 524l1 0 1 0 1 0 1 0 1 0 1 0 1 0 1 0 1 0 1 0 1 0 1 0 1 0 1 0 1 0 1 0 1 0 1 0 1 0 1 0 1 0 1 0 1 0 1 0 1 0 1 0 1 0 1-.1 1 0 1 0 1 0 1 0 1 0 1 0 1 0 1 0 1 0 1-.1 1 0 1 0 1 0 1 0 1 0 1-.1 1 0 1 0 1-.1 1 0 1 0 1-.1 1 0 1-.1 1-.1 1-.1 1-.1 1-.1 1-.1 1-.2 .6-.1 .3-.1 .1 0 .3 0 .3-.1 .3-.1 .1 0 0 0 .2-.1 .1 0 .3-.1 0 0 .3-.1 .1 0 0 0 .3-.1 0 0 .3-.1 .1 0 .2-.2 .1 0 .3-.1 0 0 .3-.2 .1 0 .3-.1 0-.1 0 0 .3-.1 .1-.1 .2-.1 .1-.1 .3-.2 0 0 0 0 .3-.2 .1-.1 .3-.2 0-.1 .3-.2 .1-.1 .2-.3 .1 0 .3-.3 0-.1 .3-.3 0-.1 .1 0 .3-.4 0-.1 .3-.5 .1-.1 .1-.2 .1-.2 0-.1 .1-.1 .1-.2 .2-.3 0-.1 .2-.3 .1-.4 .1-.1 .1-.3 .1-.2 .1-.2 0-.2 .2-.3 .1-.4 .1-.2 .1-.4 .1-.5 .1-.2 .1-.4 .1-.2 .1-.3 0-.2 .2-.6 .1-.5 .1-.2 .1-.6 .2-.6 0-.3 .2-.6 0-.1 .1-.5 .1-.3 .1-.6 .1-.6 .1-.3 .1-.7 .2-.6 0-.3 .2-.7 0 0 .1-.6 .1-.2 .1-.6 .2-.6 0-.2 .2-.5 .1-.4 .1-.2 .1-.4 .1-.3 .1-.1 .1-.2 .2-.1 0 0 .2 0 .1 .1 .1 .1 .1 .1 0 .1 .2 .2 0 .2 .2 .3 .1 .5 .1 .2 .1 .5 .1 .5 .1 .3 .1 .4 0 .1 .2 .7 0 .2 .2 .7 .1 .6 .1 .3 .1 .7 .2 .6 0 .3 .1 .4 .1 .2 .1 .7 .1 .2 .1 .6 .1 .6 .1 .3 .1 .5 .2 .6 0 .2 .1 .2 .1 .3 .1 .5 .1 .2 .1 .5 .2 .4 0 .2 .2 .5 .1 .4 .1 .1 0 .1 .1 .3 .1 .4 .1 .1 .1 .3 .2 .4 0 .1 .2 .3 .1 .3 .1 .1 0 0 .1 .3 .2 .2 0 .1 .2 .3 .1 .2 .1 .1 .1 .2 .1 .2 .1 .1 .1 .2 .2 .2 0 0 .2 .2 .1 .2 .1 .1 .1 .1 .2 .2 0 0 0 0 .2 .2 .1 .1 .1 0 .1 .2 .1 .1 .1 0 .1 .1 .2 .2 0 0 0 0 .2 .1 .1 .1 .1 0 .1 .1 .2 .1 0 .1 .2 0 .1 .1 .1 .1 .1 0 .1 .1 .1 0 .1 .1 .2 .1 0 0 .2 .1 .1 0 0 0 .1 .1 .1 0 .2 .1 0 0 .2 .1 .1 0 .1 0 .1 .1 .1 0 0 0 .1 .1 .1 0 .2 .1 0 0 .2 0 .1 .1 .1 0 .1 0 .1 0 .1 .1 0 0 .2 0 .1 0 .1 .1 .1 0 .1 0 .1 0 .1 .1 .1 0 .1 0 0 0 .2 .1 .1 0 .1 0 .1 0 .2 0 .2 .1 0 0 .1 0 .2 0 .1 .1 .2 0 .2 0 .2 .1 0 0 .1 0 .2 0 .2 0 .2 .1 .1 0 .2 0 .1 0 .2 0 .2 .1 .2 0 .1 0 .2 0 0 0 .2 0 .2 .1 .1 0 .2 0 .1 0 .2 0 0 0 .2 0 .2 .1 .1 0 .2 0 .2 0 .1 0 .1 0 .1 0 .2 0 .1 0 .2 .1 .2 0 .1 0 .1 0 .1 0 .2 0 .2 0 .2 0 .1 0 .1 0 .1 0 .1 .1 .2 0 .2 0 .2 0 .1 0 .1 0 .1 0 .2 0 .2 0 .1 0 .2 0 .1 0 .1 0 .1 .1 .2 0 .2 0 .1 0 .2 0 .2 0 0 0 .2 0 .1 0 .2 0 .1 0 .2 0 .2 0 0 0 .2 0 .1 0 .2 0 .2 .1 .2 0 .1 0 .2 0 .1 0 .2 0 .2 0 .2 0 .1 0 0 0 .2 0 .2 0 .2 0 .1 0 .2 0 .1 0 0 0 .2 0 .2 0 .2 0 .1 0 .2 0 .1 0 .1 0 .2 .1 .1 0 .2 0 .1 0 .2 0 .1 0 .1 0 .2 0 .1 0 .2 0 .2 0 .2 0 0 0 .1 0 .2 0 .1 0 .2 0 .2 0 .2 0 0 0 .3 0 .4 0 .3 0 .3 0 .4 0 .3 0 0 0 .4 0 .3 .1 .3 0 0 0 .4 0 .3 0 .3 0 .1 0 .3 0 .3 0 .3 0 .1 0 .3 0 .4 0 .2 0 .1 0 .3 0 .4 0 .2 0 1 0 1 0 1 0 1 0 1 0 1 .1 1 0 1 0 1 0 1 0 1 0 1 0 1 0 1 0 1 0 1 0 1 0 1 0 1 0 1 0 1 0 1 0 1 0 1 0 1 0 1 0 1 0 1 0 1 0 1 0 1 0 1 0 1 0 1 0 1 0 1 0 1 0 1 0 1 0 1 .1 1 0 1 0 1 0 1 0 1 0 1 0 1 0 1 0 1 0 1 0 1 0 1 0 1 0 1 0 1 0 1 0 1 0 1 0 1 0 1 0 1 0 1 0 1 0 1 0 1 0 1 0 1 0' fill='none' stroke='#ff2020' stroke-width='1.7'/><path d='M123.5 524l1 0 1 0 1 0 1 0 1 0 1 0 1 0 1 0 1 0 1 0 1 0 1 0 1 0 1 0 1 0 1 0 1 0 1 0 1 0 1 0 1 0 1 0 1 0 1 0 1 0 1 0 1-.1 1 0 1 0 1 0 1 0 1 0 1 0 1 0 1 0 1 0 1 0 1 0 1 0 1 0 1 0 1-.1 1 0 1 0 1 0 1 0 1 0 1 0 1-.1 1 0 1 0 1 0 1 0 1-.1 1 0 1 0 1 0 1-.1 .6 0 .3 0 .1 0 .3 0 .3 0 .3-.1 .1 0 0 0 .2 0 .1 0 .3 0 0 0 .3 0 .1 0 0 0 .3 0 0 0 .3 0 .1 0 .2-.1 .1 0 .3 0 0 0 .3 0 .1 0 .3 0 0 0 0 0 .3 0 .1 0 .2 0 .1-.1 .3 0 0 0 0 0 .3 0 .1 0 .3 0 0 0 .3 0 .1 0 .2-.1 .1 0 .3 0 0 0 .3 0 0 0 .1 0 .3 0 0-.1 .3 0 .1 0 .1 0 .1 0 0 0 .1 0 .1 0 .2 0 0 0 .2-.1 .1 0 .1 0 .1 0 .1 0 .1 0 0 0 .2 0 .1 0 .1-.1 .1 0 .1 0 .1 0 .1 0 .1 0 .1 0 0 0 .2 0 .1-.1 .1 0 .1 0 .2 0 0 0 .2 0 0 0 .1-.1 .1 0 .1 0 .1 0 .1 0 .1 0 .2-.1 0 0 .2 0 0 0 .1 0 .1 0 .1 0 .2-.1 0 0 .2 0 .1 0 .1 0 .1-.1 .1 0 .1 0 .1 0 .2 0 0-.1 .2 0 .1 0 .1 0 .1-.1 0 0 .2 0 0 0 .2 0 .1-.1 .1 0 .1 0 .1 0 .1-.1 .1 0 0 0 .2 0 0 0 .2-.1 .1 0 .1 0 .1-.1 .2 0 0 0 .1-.1 .1 0 .1 0 .1 0 .1-.1 .1 0 .1 0 .1-.1 .2 0 0-.1 .1 0 .1 0 .1-.1 .1 0 .1 0 .2-.1 0 0 .2-.1 .1 0 .1 0 0-.1 .1 0 .1-.1 .1 0 .1 0 .2-.1 0 0 .2-.1 .1-.1 .1 0 0 0 .1-.1 .2-.1 0 0 .2-.1 .1 0 .1-.1 .1-.1 .1 0 .1-.1 .1-.1 .2-.1 0 0 .2-.1 .1-.1 .1 0 .1-.1 .2-.1 0-.1 0 0 .2-.1 .1-.1 .1 0 .1-.2 .1-.1 .1 0 .1-.2 .2-.1 0 0 0 0 .2-.2 .1-.1 .1-.1 .1-.1 .2-.2 0 0 .2-.2 .1-.1 .1-.1 .1-.2 .1-.1 .1-.1 .1-.2 .2-.2 0 0 .2-.2 .1-.2 0 0 .1-.1 .1-.2 .2-.2 0-.1 .2-.2 .1-.3 .1-.1 .1-.2 .1-.2 0 0 .1-.1 .1-.3 .2-.2 0-.1 .2-.3 .1-.2 .1-.2 .1-.2 .1-.2 .1-.1 0-.1 .2-.3 .1-.3 .1-.1 .1-.3 .1-.3 .1-.1 .1-.3 .1-.1 .1-.2 0-.1 .2-.3 .1-.3 .1-.2 .1-.3 .2-.3 .2-.4 0-.1 .1-.2 .2-.4 .1-.2 .2-.4 .2-.2 .2-.3 0-.1 .1-.2 .2-.2 .2-.2 .2-.2 .1-.1 .2-.2 .1 0 .2-.1 .2 0 .2 0 .1 .1 .2 0 0 .1 .2 .1 .2 .1 .1 .2 .2 .2 .1 .2 .2 .2 0 .1 .2 .2 .2 .4 .1 .2 .2 .4 .2 .3 .1 .2 .1 .2 .1 .3 .2 .4 .1 .3 .2 .4 .2 .3 .1 .3 .1 .1 .1 .3 .2 .4 .2 .3 .2 .4 .1 .3 .1 .2 .1 .2 .1 .3 .2 .4 .2 .2 .2 .4 .1 .2 .1 .1 .1 .3 .2 .2 .2 .3 .1 .2 .2 .3 .1 .2 .1 .1 .1 .2 .2 .2 .2 .2 .1 .2 .2 .3 .2 .1 0 .1 .2 .1 .1 .2 .2 .2 .1 .2 .2 .1 .2 .2 0 0 .2 .2 .1 .1 .2 .2 .2 .1 .2 .1 .1 .1 .2 .2 .1 .1 .2 .1 .2 .1 .2 .1 .1 .1 0 0 .2 .2 .2 0 .2 .2 .1 0 .2 .1 .1 .1 0 0 .2 .1 .2 .1 .2 .1 .1 0 .2 .1 .1 0 .1 .1 .2 .1 .1 0 .2 .1 .1 0 .2 .1 .1 0 .1 .1 .2 0 .1 .1 .2 0 .2 .1 .2 0 0 0 .1 .1 .2 0 .1 .1 .2 0 .2 .1 .2 0 0 0 .3 .1 .4 .1 .3 0 .3 .1 .4 .1 .3 0 0 0 .4 .1 .3 .1 .3 0 0 0 .4 .1 .3 0 .3 .1 .1 0 .3 0 .3 .1 .3 0 .1 0 .3 0 .4 .1 .2 0 .1 0 .3 0 .4 .1 .2 0 1 .1 1 .1 1 0 1 .1 1 0 1 .1 1 0 1 .1 1 0 1 .1 1 0 1 0 1 0 1 .1 1 0 1 0 1 0 1 0 1 .1 1 0 1 0 1 0 1 0 1 0 1 0 1 .1 1 0 1 0 1 0 1 0 1 0 1 0 1 0 1 0 1 0 1 0 1 0 1 0 1 0 1 0 1 .1 1 0 1 0 1 0 1 0 1 0 1 0 1 0 1 0 1 0 1 0 1 0 1 0 1 0 1 0 1 0 1 0 1 0 1 0 1 0 1 0 1 0 1 0 1 0 1 0 1 0 1 0' fill='none' stroke='#ff2020' stroke-width='1.7'/><path d='M25 590.5l1-.4 1 .6 1 .5 1-.3 1 .6 1-.3 1-.5 1-.3 1 .3 1 .2 1 .4 1 .1 1-.1 1-.1 1-.4 1 .3 1-.5 1 0 1-.2 1 .5 1-.4 1 0 1 .1 1-.2 1 .2 1 0 1-.1 1 0 1-.4 1 .1 1 .3 1 0 1-.3 1 0 1-.1 1 .3 1-.1 1-.2 1-.2 1-.4 .2-.2 .3 .1 .3-.3 .2 .1 .2-.2 .3-.3 .3-.2 .2-.2 .2-.1 .3-.8 .3-.9 .2-.9 .2-.7 .3-1.2 .3-1.4 .2-1.6 .2-2.2 .3-3.3 .3-4.1 .2-6.2 .2-7.8 .3-9.5 .3-8.1 .2-3.6 .2 3.3 .3 8.8 .3 9.4 .2 7.7 .2 6.3 .3 4.4 .3 3.2 .2 2.7 .2 1.8 .3 1.4 .3 .7 .2 .6 .2 .7 .3 .5 .3 .3 .2 .2 .2 .2 .3 .3 .3 .2 .2 .2 .2 .1 .3 .1 .3 .4 .2 .3 1 .6 1 .2 1-.1 1 .4 1 .1 1 .2 1 .1 1-.1 1-.3 1-.3 1 .3 1 .2 1-.3 1 .3 1 0 1 .2 1-.1 1 .2 1 .3 1-.2 1 .2 1-.4 1-.7 1 .4 1 0 1 .1 1 0 1-.2 1-.2 1 .2 1 .3 1 .5 1-.2 1-.5 1-.1' fill='none' stroke='#111' stroke-width='1.3' stroke-linejoin='round'/><path d='M113.9 591.3h3.2M119.4 591.6h3.4' stroke='#222' stroke-width='1.2'/><path d='M123.5 593l1 .8 1-.3 1-.7 1 .3 1 .1 1 .2 1 1.4 1-.9 1-.7 1-.3 1 .7 1-1.2 1-1.2 1 .3 1 0 1 0 1 .8 1 .7 1 .3 1-.1 1 .2 1-1.8 1 .7 1-.2 1 .8 1-.5 1 2.3 1-1.7 1 0 1 .2 1-1.1 1-.5 1-1.2 1 .7 1 .3 1 .2 1-.5 1 .2 1 .1 1-.7 1-.4 1 1.2 1-1 1 1.5 1 0 1 1.2 1-.8 1 .5 1-.1 1 .2 1 1.3 1 .7 1 1.1 1-.1 1 0 .3-.4 .3-.4 .4-.4 0-.1 .3-.4 .4-.5 .3-.5 .3 0 .4 0 .3 0 0 0 .4-.1 .3 0 .3 0 0 0 .4-.1 .3-.1 .3 0 .1 .1 .3 .4 .3 .5 .2 .2 .1 .2 .1-.1 .1 0 .2-.1 .2 0 .2-.1 .1 0 .1-.1 .1 0 .2 0 .1-.1 .2 0 .2 0 .1-.1 .1 0 .1-.1 .2-.3 .2-.2 .1-.3 .2-.2 .2-.2 0-.1 .1-.1 .2 0 .2-.1 .1-.1 .2-.1 0 0 .2-.1 0 0 .1 .1 .1 0 .1 0 .2 0 0 0 .2 0 .1 .1 0 0 .2 0 .2-.2 0 0 .1-.2 .2-.3 0 0 .2-.2 .1-.2 .1 0 .1-.2 0 0 .2 .1 0 .1 .2 .1 .1 .2 0 0 .2 .1 .2 .2 0 0 .1 .1 0 0 .2 0 0 0 .2 0 .1 0 .1 0 .1 0 .2 0 0 0 .1 0 .1 0 .1 0 0 0 .2-.1 .2-.1 0 0 .1 0 .2-.1 0 0 .1 0 .1 0 .1 0 .1 0 .1 0 .2 0 0 0 .2 0 .1 0 0 0 .1 0 .1 0 .2-.1 0 0 .1-.1 .2-.1 0 0 .2-.1 .1-.1 .1 0 0 0 .1 .1 .2 .2 0 0 .2 .2 .1 .2 0 0 .2 .2 .2 .2 0 0 0 0 .1 0 .2 0 0 0 .2 0 .1 .1 .1 0 .1 0 .2 0 0 0 .2 0 .1 .1 0 0 .2 .1 .2 .1 0 0 .1 .1 .2 0 0 .1 .2 .2 .1 .2 .1 .1 .1 .2 .2 .2 0 .1 .2 .2 .1 .2 0 0 0 0 .2-.2 .2-.1 0 0 .1-.1 .2-.2 0 0 .2-.1 .1-.1 0 0 .1-.1 .1 0 .2-.1 0 0 .2-.1 .1 0 0-.1 .2 0 .1-.1 .1 .1 0 .1 .1 .2 .2 .3 0 0 .2 .3 .1 .3 .1 0 .1 .3 .1 .1 .1 0 0 0 .2-.2 .1-.1 0 0 .2-.1 .2-.1 0 0 .1-.2 .1 0 .1-.2 0 0 .2-.2 .1-.3 .1 0 .1-.2 .2-.3 0 0 .2-.2 0-.1 .1 .1 0 .1 .2 .1 .2 .2 0 0 .1 .2 .2 .2 0 0 .2 .2 0 0 .1 0 .1 0 .1 0 .2 0 0 0 .2 0 .1 0 0 0 .2 0 .2-.1 0 0 .1-.1 .2-.1 0 0 .2-.1 .1-.1 .1-.1 .1 0 0 0 .2 .1 0 0 .2 .1 .1 0 0 .1 .2 0 .2 .1 0 0 .1 .1 0 0 .2-.2 0 0 .2-.1 .1-.1 .1-.1 .1-.1 .2-.1 .1-.1 .1 0 .1 0 .2 .1 .2 0 .1 .1 .2 0 .1 .1 .1-.1 .1-.1 .2-.1 .2-.1 .2-.2 .1-.1 .1 0 .1 0 .2 .1 .1 .1 .2 .1 .2 .2 .1 .1 .1 0 .1 .1 .2 .1 .2 .1 .1 .1 .2 .1 .2 .1 0 .1 .1-.1 .2-.1 .2-.1 .1 0 .2-.1 .2-.1 0 0 .2 0 .1 0 .2 0 .2 0 .1 0 .2 0 .2-.2 .1-.1 .2-.1 .2-.1 .2-.1 .1-.1 0 0 .2 .2 .2 .2 .1 .1 .2 .2 .2 .2 .1 .1 0 0 .2-.1 .2-.1 .2-.1 .1-.1 .2-.1 .1 0 .1 0 .1 .2 .2 .1 .2 .1 .1 .1 .2 .2 .1 0 .1 0 .2-.2 .1-.1 .2-.1 .2-.1 .1-.1 .1-.1 .1 .1 .2 .2 .1 .1 .2 .2 .2 .1 .2 .2 0 0 .1 0 .2 0 .2 0 .1-.1 .2 0 .2 0 0 0 .1 .1 .4 .5 .3 .4 .2 .3 .2-.3 .3-.7 .3-.7 .2-.3 .2 0 .3 0 .4 0 .1 0 .2 .2 .3 .4 .4 .4 .1 .1 .2-.1 .4-.1 .3-.2 .1 0 .2 .2 .4 .2 .3 .2 .1 0 .3 .5 .3 .6 .3 .6 .1 .1 .3 .1 .7 .4 1-.4 1-1.8 1 .7 1-.8 1 2.4 1-.6 1-.3 1 .2 1-.5 1-1.3 1 .9 1-1.5 1-1.3 1 1.3 1 .4 1 .3 1 0 1-.6 1 .8 1 .4 1-.7 1 0 1-1.3 1 1.1 1 .5 1-.8 1-.1 1 .2 1-.1 1-.5 1-1 1-.2 1 .3 1 .9 1 .9 1 .4 1-.2 1 .1 1-.2 1 1 1-.3 1 1.3 1-.8 1-.1 1-1.2 1-1 1-.9 1-.5 1 0 1 .4 1 1.2 1 .4 1 .1 1 .1 1-.7 1-.5 1 .7 1-1.4 1-.6 1 .5 1-.6 1-.5 1 .7 1 1.5 1 .4 1 1.9 1-.1 1 .9 1-1.9 1 .3 1-1.4 1 .6' fill='none' stroke='#dedede' stroke-width='2.2' stroke-linejoin='round'/><path d='M123.5 591l1 0 1 0 1-.1 1 0 1 0 1 0 1 0 1 0 1 0 1 0 1-.1 1 0 1 0 1 0 1 0 1 0 1-.1 1 0 1 0 1 0 1 0 1-.1 1 0 1 0 1-.1 1 0 1 0 1-.1 1 0 1-.1 1 0 1-.1 1-.1 1-.1 1 0 1-.1 1-.1 1-.2 1-.1 1-.1 1-.2 1-.2 1-.2 1-.3 1-.3 1-.3 1-.4 1-.5 1-.5 1-.3 1-.3 1-.4 1-.6 1-.6 1-.8 .3-.2 .3-.3 .4-.3 0 0 .3-.2 .4-.3 .3-.3 .3-.3 .4-.3 .3-.3 0 0 .4-.3 .3-.4 .3-.3 0 0 .4-.4 .3-.4 .3-.4 .1 0 .3-.5 .3-.4 .2-.3 .1-.1 .1-.1 .1-.3 .2-.2 .2-.3 .2-.3 .1-.2 .1-.2 .1-.1 .2-.3 .1-.3 .2-.3 .2-.3 .1-.3 .1-.1 .1-.2 .2-.3 .2-.3 .1-.3 .2-.4 .2-.3 0-.1 .1-.2 .2-.4 .2-.3 .1-.4 .2-.3 0 0 .2-.4 0 0 .1-.4 .1 0 .1-.4 .2-.5 0 0 .2-.5 .1-.5 0 0 .2-.5 .2-.5 0-.1 .1-.5 .2-.6 0 0 .2-.6 .1-.6 .1 0 .1-.6 0 0 .2-.6 0-.1 .2-.6 .1-.6 0-.1 .2-.6 .2-.6 0-.1 .1-.4 0-.2 .2-.6 0 0 .2-.6 .1-.6 .1-.1 .1-.6 .2-.6 0 0 .1-.4 .1-.2 .1-.6 0 0 .2-.6 .2-.5 0-.1 .1-.5 .2-.5 0-.1 .1-.2 .1-.2 .1-.5 .1-.1 .1-.4 .2-.5 0 0 .2-.5 .1-.4 0-.1 .1-.1 .1-.3 .2-.5 0 0 .1-.4 .2-.5 0 0 .2-.4 .1-.4 .1-.1 0-.1 .1-.3 .2-.4 0-.1 .2-.4 .1-.4 0-.1 .2-.4 .2-.4 0 0 0-.1 .1-.3 .2-.4 0-.1 .2-.4 .1-.4 .1-.1 .1-.4 .2-.4 0-.1 .2-.4 .1-.4 0-.1 .2-.4 .2-.4 0-.1 .1-.4 .2-.4 0-.1 .2-.4 .1-.5 .1-.1 .1-.5 .2-.5 0 0 .2-.6 .1-.5 0 0 0-.1 .2-.6 .2-.6 0-.1 .1-.6 .2-.6 0-.1 .2-.6 .1-.5 0-.1 .1-.1 .1-.7 .2-.6 0-.1 .2-.6 .1-.6 0-.1 .2-.6 .1-.4 .1-.2 0-.1 .1-.6 .2-.6 0-.1 .2-.5 .1-.6 .1 0 .1-.5 .1-.3 .1-.2 0-.1 .2-.4 .1-.5 0 0 .2-.4 .2-.3 0-.1 .1-.3 .1-.1 .1-.2 0 0 .2-.2 .1-.2 .1 0 .1-.1 .2-.1 0 0 .2 0 0 0 .1 .1 0 0 .2 .1 .2 .2 0 0 .1 .2 .2 .3 0 .1 .2 .3 0 0 .1 .4 .1 0 .1 .5 .2 .4 0 .1 .2 .5 .1 .5 0 .1 .2 .6 .2 .6 0 0 .1 .7 .2 .6 0 .1 .2 .7 .1 .6 .1 .1 .1 .6 0 .1 .2 .7 0 .1 .2 .7 .1 .7 0 .1 .2 .7 .2 .7 0 .1 .1 .5 0 .2 .2 .7 0 0 .2 .7 .1 .7 .1 0 .1 .7 .2 .7 .1 .5 .1 .3 .1 .7 .2 .9 .2 .8 .1 1 .2 .8 .1 .6 .1 .4 .1 .9 .2 .9 .2 .9 .2 1 .1 .8 .1 .5 .1 .5 .2 .8 .1 .9 .2 .8 .2 .8 .1 .7 .1 .3 .1 .5 .2 .6 .2 .7 .1 .7 .2 .7 .2 .6 0 .2 .1 .5 .2 .6 .2 .7 .1 .6 .2 .7 .2 .6 0 .1 .2 .5 .1 .6 .2 .6 .2 .6 .1 .6 .2 .5 .2 .6 .1 .6 .2 .5 .2 .5 .2 .6 .1 .4 0 0 .2 .6 .2 .4 .1 .5 .2 .4 .2 .5 .1 .3 0 .1 .2 .4 .2 .4 .2 .4 .1 .4 .2 .4 .1 .2 .1 .1 .1 .4 .2 .4 .2 .4 .1 .3 .2 .4 .1 .2 .1 .2 .2 .4 .1 .3 .2 .4 .2 .3 .1 .3 .1 .2 .1 .2 .2 .3 .1 .3 .2 .3 .2 .3 .2 .4 0 0 .1 .2 .2 .4 .2 .2 .1 .3 .2 .3 .2 .3 0 0 .1 .2 .4 .5 .3 .4 .2 .3 .2 .2 .3 .3 .3 .4 .2 .1 .2 .2 .3 .3 .4 .3 .1 .1 .2 .1 .3 .2 .4 .3 .1 0 .2 .2 .4 .2 .3 .2 .1 0 .2 .1 .4 .2 .3 .2 .1 0 .3 .1 .3 .2 .3 .1 .1 0 .3 .1 .7 .3 1 .3 1 .3 1 .2 1 .3 1 .1 1 .2 1 .2 1 .1 1 .1 1 .1 1 .1 1 .1 1 .1 1 .1 1 .1 1 0 1 .1 1 0 1 .1 1 0 1 .1 1 0 1 0 1 .1 1 0 1 0 1 .1 1 0 1 0 1 .1 1 0 1 0 1 0 1 0 1 .1 1 0 1 0 1 0 1 0 1 0 1 0 1 .1 1 0 1 0 1 0 1 0 1 0 1 0 1 0 1 0 1 .1 1 0 1 0 1 0 1 0 1 0 1 0 1 0 1 0 1 0 1 0 1 0 1 0 1 0 1 .1 1 0 1 0 1 0 1 0 1 0 1 0 1 0' fill='none' stroke='#e2c6ec' stroke-width='2.6'/><path d='M123.5 593l1 .6 1-1.9 1 .1 1 3.5 1-.9 1-2.9 1-1 1 .7 1 .9 1 .3 1-1.3 1-.8 1 2 1 .9 1-.8 1-.5 1 .6 1-.7 1-1.5 1 1.5 1-1.5 1 2.6 1-1.2 1-.4 1 .2 1 1.6 1-3.6 1 1.2 1 2.7 1-2.8 1 .3 1-.5 1 .9 1-2.4 1 .9 1 .3 1 1 1-.3 1-.3 1 .8 1 .2 1-1.1 1-2 1 .4 1 3 1-1.1 1-1.5 1-.7 1 .2 1-1.7 1 3.2 1-3.9 1 .4 1 1.6 1-5.5 .3 .3 .3 .3 .4 .4 0 0 .3-1 .4-1.1 .3-1.1 .3 .1 .4 .2 .3 .1 0 0 .4 0 .3-.1 .3-.1 0-.1 .4-.5 .3-.6 .3-.5 .1 0 .3-.3 .3-.2 .2-.2 .1-.1 .1-.1 .1-.4 .2-.3 .2-.4 .2-.4 .1-.3 .1-.2 .1-.1 .2-.2 .1-.2 .2-.2 .2-.2 .1-.2 .1-.1 .1-.4 .2-.5 .2-.7 .1-.6 .2-.6 .2-.6 0-.1 .1-.2 .2-.2 .2-.3 .1-.2 .2-.2 0-.1 .2-.2 0-.1 .1-.4 .1-.1 .1-.6 .2-.6 0 0 .2-.7 .1-.6 0-.1 .2-.6 .2-.1 0 0 .1-.1 .2-.2 0 0 .2-.1 .1-.2 .1 0 .1-.1 0-.2 .2-.9 0-.2 .2-1 .1-1 0-.1 .2-1 .2-1 0-.1 .1-.8 0 0 .2-.4 0-.1 .2-.3 .1-.4 .1 0 .1-.4 .2-.3 0-.1 .1-.2 .1-.2 .1-.7 0-.1 .2-.7 .2-.6 0-.1 .1-.7 .2-.6 0-.1 .1-.3 .1-.2 .1-.4 .1 0 .1-.4 .2-.4 0-.1 .2-.4 .1-.4 0 0 .1-.1 .1-.2 .2-.3 0 0 .1-.3 .2-.3 0 0 .2-.3 .1-.3 .1 0 0-.1 .1-.5 .2-.7 0 0 .2-.7 .1-.7 0 0 .2-.7 .2-.7 0-.1 0 0 .1-.6 .2-.6 0-.1 .2-.7 .1-.6 .1-.1 .1-.6 .2-.7 0 0 .2-.2 .1-.1 0 0 .2-.2 .2-.1 0 0 .1-.2 .2-.1 0-.1 .2-.9 .1-.9 .1-.1 .1-.9 .2-.9 0-.1 .2-1 .1-.9 0 0 0 0 .2-.2 .2-.2 0 0 .1-.2 .2-.3 0 0 .2-.2 .1-.2 0-.2 .1-.1 .1-.6 .2-.7 0-.1 .2-.6 .1-.7 0-.1 .2-.6 .1-.4 .1-.3 0-.1 .1-.7 .2-.7 0-.1 .2-.6 .1-.7 .1-.1 .1-.6 .1-.3 .1-.1 0-.1 .2-.2 .1-.2 0 0 .2-.2 .2-.1 0 0 .1-.1 .1 0 .1-.2 0 0 .2-.3 .1-.2 .1-.1 .1-.1 .2-.1 0-.1 .2 0 0 0 .1 .2 0 0 .2 .4 .2 .4 0 0 .1 .5 .2 .5 0 0 .2 .6 0 .1 .1 .1 .1 0 .1 .1 .2 .2 0 0 .2 .2 .1 .3 0 0 .2 .3 .2 .9 0 .1 .1 1 .2 .9 0 .2 .2 1 .1 1 .1 .1 .1 .9 0 .1 .2 .6 0 .1 .2 .7 .1 .7 0 0 .2 .7 .2 .7 0 .1 .1 .5 0 .1 .2 .4 0 0 .2 .4 .1 .4 .1 .1 .1 .4 .2 .4 .1 .3 .1 .2 .1 .7 .2 .8 .2 .8 .1 .8 .2 .8 .1 .5 .1 .5 .1 1 .2 1.2 .2 1 .2 1.2 .1 1 .1 .5 .1 .4 .2 .8 .1 .8 .2 .6 .2 .7 .1 .6 .1 .3 .1 .5 .2 .7 .2 .7 .1 .7 .2 .8 .2 .6 0 .2 .1 .5 .2 .6 .2 .6 .1 .6 .2 .6 .2 .6 0 .1 .2 .4 .1 .4 .2 .4 .2 .4 .1 .5 .2 .3 .2 .8 .1 .7 .2 .8 .2 .7 .2 .8 .1 .5 0 .1 .2 .4 .2 .4 .1 .4 .2 .4 .2 .3 .1 .3 0 .1 .2 .5 .2 .5 .2 .5 .1 .4 .2 .6 .1 .2 .1 .2 .1 .6 .2 .5 .2 .5 .1 .5 .2 .6 .1 .2 .1 .3 .2 .8 .1 .6 .2 .8 .2 .6 .1 .7 .1 .3 .1 .2 .2 .3 .1 .3 .2 .4 .2 .3 .2 .3 0 .1 .1 0 .2 0 .2 0 .1 0 .2 0 .2-.1 0 0 .1 .3 .4 .6 .3 .5 .2 .3 .2 .3 .3 .4 .3 .4 .2 .2 .2 .4 .3 .6 .4 .6 .1 .3 .2 0 .3 0 .4-.1 .1 0 .2 0 .4-.1 .3-.1 .1-.1 .2 .1 .4 .2 .3 .1 .1 .1 .3 .6 .3 .8 .3 .8 .1 .1 .3 .4 .7 1.1 1-3.7 1-1.7 1 3.6 1-.3 1 .9 1 2 1-1.4 1-1.4 1-.2 1 2 1-1.9 1 1.8 1-1.2 1 .9 1-1 1 .8 1 1 1 .7 1 .4 1-2.1 1-1.1 1 3.3 1-1.6 1 .9 1-.5 1 1.9 1-.7 1 0 1-.6 1-1.4 1 .5 1 .2 1-.3 1 .3 1 .7 1-.8 1-.3 1-.6 1 2.5 1 .3 1-2.2 1 1.3 1 .2 1 .3 1-2.8 1 .9 1 .7 1 2 1-2.2 1 .1 1-.8 1 0 1 .9 1-2.9 1 0 1 3.9 1-.2 1-.3 1 1.3 1 0 1-3.2 1 2.4 1 .6 1-1.6 1 .1 1 1.3 1-1 1-1.6 1 .4 1-.2 1 1.8 1-2.4' fill='none' stroke='#140814' stroke-width='2.2' stroke-linejoin='round'/><path d='M123.5 590.8l1 0 1 0 1 0 1 0 1 0 1 0 1 0 1 0 1 0 1 0 1 0 1-.1 1 0 1 0 1 0 1 0 1 0 1 0 1 0 1 0 1 0 1-.1 1 0 1 0 1 0 1 0 1 0 1 0 1-.1 1 0 1 0 1 0 1 0 1-.1 1 0 1 0 1 0 1-.1 1 0 1 0 1-.1 1 0 1-.1 1 0 1-.1 1 0 1-.1 1 0 1-.1 1-.1 1-.1 1-.1 1-.1 1-.1 1-.1 .3-.1 .3 0 .4-.1 0 0 .3 0 .4-.1 .3 0 .3-.1 .4-.1 .3 0 0 0 .4-.1 .3-.1 .3-.1 0 0 .4 0 .3-.1 .3-.1 .1 0 .3-.1 .3-.1 .2-.1 .1 0 .1 0 .1-.1 .2 0 .2-.1 .2 0 .1-.1 .1 0 .1 0 .2-.1 .1-.1 .2 0 .2-.1 .1-.1 .1 0 .1 0 .2-.1 .2-.1 .1-.1 .2 0 .2-.1 0 0 .1-.1 .2-.1 .2-.1 .1-.1 .2-.1 0 0 .2-.1 0 0 .1 0 .1-.1 .1-.1 .2-.1 0 0 .2-.1 .1-.1 0 0 .2-.1 .2-.1 0 0 .1-.1 .2-.1 0-.1 .2-.1 .1-.1 .1 0 .1-.1 0-.1 .2-.1 0 0 .2-.2 .1-.1 0 0 .2-.2 .2-.1 0 0 .1-.2 0 0 .2-.2 0 0 .2-.2 .1-.1 .1-.1 .1-.1 .2-.2 0-.1 .1-.1 .1-.1 .1-.2 0 0 .2-.2 .2-.2 0 0 .1-.3 .2-.2 0 0 .1-.2 .1-.1 .1-.2 .1-.1 .1-.2 .2-.3 0-.1 .2-.2 .1-.3 0-.1 .1-.1 .1-.2 .2-.3 0-.1 .1-.3 .2-.3 0-.1 .2-.4 .1-.3 .1-.1 0-.1 .1-.3 .2-.4 0-.1 .2-.4 .1-.4 0-.1 .2-.5 .2-.5 0 0 0-.1 .1-.4 .2-.6 0 0 .2-.6 .1-.6 .1 0 .1-.6 .2-.7 0 0 .2-.7 .1-.7 0-.1 .2-.7 .2-.7 0-.1 .1-.8 .2-.8 0-.1 .2-.8 .1-.9 .1-.1 .1-.9 .2-.9 0-.1 .2-1 .1-.8 0-.1 0-.2 .2-1 .2-1 0-.1 .1-1.1 .2-1.1 0-.1 .2-1.1 .1-.8 0-.3 .1-.1 .1-1.2 .2-1.1 0-.1 .2-1.1 .1-1.2 0-.1 .2-1.1 .1-.7 .1-.4 0-.1 .1-1 .2-1 0-.1 .2-1 .1-.8 .1-.1 .1-.8 .1-.4 .1-.4 0 0 .2-.7 .1-.5 0 0 .2-.4 .2-.3 0-.1 .1-.1 .1-.1 .1 0 0 0 .2 .1 .1 .2 .1 0 .1 .3 .2 .4 0 .1 .2 .5 0 .2 .1 .4 0 .1 .2 .8 .2 .8 0 .1 .1 .8 .2 1 0 .1 .2 1 0 .1 .1 .9 .1 .2 .1 1 .2 1.1 0 .2 .2 1.1 .1 1.1 0 .2 .2 1.1 .2 1.1 0 .1 .1 1.1 .2 1.1 0 .2 .2 1.1 .1 1 .1 .1 .1 .9 0 .2 .2 1 0 .1 .2 1 .1 .9 0 .1 .2 .9 .2 .9 0 .1 .1 .7 0 .2 .2 .8 0 .1 .2 .8 .1 .8 .1 .1 .1 .7 .2 .7 .1 .5 .1 .3 .1 .6 .2 .7 .2 .6 .1 .7 .2 .5 .1 .4 .1 .2 .1 .5 .2 .6 .2 .5 .2 .5 .1 .4 .1 .2 .1 .3 .2 .4 .1 .4 .2 .4 .2 .3 .1 .4 .1 .1 .1 .2 .2 .4 .2 .3 .1 .3 .2 .3 .2 .3 0 0 .1 .2 .2 .3 .2 .3 .1 .2 .2 .2 .2 .2 0 .1 .2 .2 .1 .2 .2 .2 .2 .2 .1 .2 .2 .1 .2 .2 .1 .2 .2 .2 .2 .1 .2 .2 .1 .1 0 0 .2 .2 .2 .1 .1 .1 .2 .2 .2 .1 .1 .1 0 0 .2 .1 .2 .1 .2 .1 .1 .1 .2 .2 .1 0 .1 .1 .1 .1 .2 0 .2 .1 .1 .1 .2 .1 .1 .1 .1 0 .2 .1 .1 .1 .2 .1 .2 0 .1 .1 .1 0 .1 .1 .2 0 .1 .1 .2 .1 .2 0 .2 .1 0 0 .1 .1 .2 0 .2 .1 .1 0 .2 .1 .2 0 0 .1 .1 0 .4 .1 .3 .1 .2 0 .2 .1 .3 .1 .3 .1 .2 0 .2 0 .3 .1 .4 .1 .1 0 .2 .1 .3 0 .4 .1 .1 0 .2 .1 .4 0 .3 .1 .1 0 .2 0 .4 .1 .3 0 .1 0 .3 .1 .3 0 .3 .1 .1 0 .3 0 .7 .1 1 .1 1 .1 1 .1 1 .1 1 .1 1 0 1 .1 1 0 1 .1 1 0 1 .1 1 0 1 .1 1 0 1 0 1 .1 1 0 1 0 1 0 1 .1 1 0 1 0 1 0 1 0 1 .1 1 0 1 0 1 0 1 0 1 0 1 0 1 .1 1 0 1 0 1 0 1 0 1 0 1 0 1 0 1 0 1 0 1 0 1 .1 1 0 1 0 1 0 1 0 1 0 1 0 1 0 1 0 1 0 1 0 1 0 1 0 1 0 1 0 1 0 1 0 1 0 1 0 1 0 1 .1 1 0 1 0 1 0 1 0 1 0 1 0 1 0 1 0 1 0' fill='none' stroke='#3b6ee6' stroke-width='1.8'/><path d='M123.5 591.1l1 0 1 0 1 0 1 0 1 0 1 0 1 0 1 0 1 0 1 0 1 0 1 0 1 0 1 0 1 0 1 0 1 0 1 0 1 0 1 0 1 0 1 0 1-.1 1 0 1 0 1 0 1 0 1 0 1 0 1 0 1 0 1 0 1 0 1-.1 1 0 1 0 1 0 1 0 1 0 1-.1 1 0 1 0 1-.1 1 0 1 0 1-.1 1 0 1-.1 1 0 1-.1 1-.1 1-.1 1-.1 1-.1 1-.2 .3 0 .3-.1 .4-.1 0 0 .3 0 .4-.1 .3-.1 .3-.1 .4-.1 .3-.1 0 0 .4-.1 .3-.1 .3-.1 0 0 .4-.2 .3-.1 .3-.1 .1-.1 .3-.1 .3-.2 .2-.1 .1-.1 .1 0 .1-.1 .2-.1 .2-.1 .2-.2 .1-.1 .1-.1 .1 0 .2-.2 .1-.1 .2-.2 .2-.2 .1-.1 .1-.1 .1-.1 .2-.2 .2-.2 .1-.2 .2-.2 .2-.3 0 0 .1-.2 .2-.3 .2-.3 .1-.2 .2-.3 0 0 .2-.3 0-.1 .1-.3 .1 0 .1-.3 .2-.4 0 0 .2-.4 .1-.4 0 0 .2-.5 .2-.4 0 0 .1-.5 .2-.5 0 0 .2-.5 .1-.6 .1 0 .1-.5 0-.1 .2-.5 0-.1 .2-.6 .1-.6 0-.1 .2-.6 .2-.7 0 0 .1-.5 0-.2 .2-.7 0 0 .2-.7 .1-.7 .1-.1 .1-.6 .2-.6 0-.1 .1-.4 .1-.2 .1-.6 0-.1 .2-.5 .2-.5 0 0 .1-.5 .2-.3 0 0 .1-.2 .1-.1 .1-.2 .1 0 .1-.1 .2 0 0 0 .2 .1 .1 .2 0 0 .1 .1 .1 .2 .2 .3 0 .1 .1 .4 .2 .5 0 .1 .2 .5 .1 .6 .1 0 0 .2 .1 .5 .2 .6 0 .1 .2 .6 .1 .7 0 .1 .2 .6 .2 .7 0 .1 0 .1 .1 .5 .2 .7 0 .1 .2 .6 .1 .6 .1 .1 .1 .6 .2 .5 0 .1 .2 .5 .1 .6 0 0 .2 .5 .2 .5 0 .1 .1 .4 .2 .4 0 .1 .2 .4 .1 .4 .1 0 .1 .4 .2 .4 0 0 .2 .3 .1 .3 0 .1 0 0 .2 .3 .2 .3 0 0 .1 .3 .2 .2 0 .1 .2 .2 .1 .2 0 0 .1 .1 .1 .2 .2 .2 0 0 .2 .2 .1 .2 0 0 .2 .2 .1 .1 .1 .1 0 0 .1 .2 .2 .1 0 0 .2 .2 .1 .1 .1 0 .1 .2 .1 0 .1 .1 0 0 .2 .1 .1 .2 0 0 .2 .1 .2 .1 0 0 .1 .1 .1 0 .1 .1 0 0 .2 .1 .1 .1 .1 0 .1 .1 .2 .1 0 0 .2 .1 0 0 .1 0 0 0 .2 .1 .2 .1 0 0 .1 .1 .2 0 0 0 .2 .1 0 0 .1 0 .1 .1 .1 0 .2 .1 0 0 .2 0 .1 .1 0 0 .2 0 .2 .1 0 0 .1 0 .2 .1 0 0 .2 0 .1 .1 .1 0 .1 0 0 0 .2 .1 0 0 .2 0 .1 0 0 0 .2 .1 .2 0 0 0 .1 0 0 0 .2 .1 0 0 .2 0 .1 0 .1 0 .1 .1 .2 0 .1 0 .1 0 .1 .1 .2 0 .2 0 .1 0 .2 .1 .1 0 .1 0 .1 0 .2 0 .2 0 .2 .1 .1 0 .1 0 .1 0 .2 0 .1 .1 .2 0 .2 0 .1 0 .1 0 .1 0 .2 0 .2 .1 .1 0 .2 0 .2 0 0 0 .1 0 .2 0 .2 0 .1 .1 .2 0 .2 0 0 0 .2 0 .1 0 .2 0 .2 0 .1 .1 .2 0 .2 0 .1 0 .2 0 .2 0 .2 0 .1 0 0 0 .2 0 .2 0 .1 .1 .2 0 .2 0 .1 0 0 0 .2 0 .2 0 .2 0 .1 0 .2 0 .1 0 .1 0 .1 0 .2 0 .2 .1 .1 0 .2 0 .1 0 .1 0 .2 0 .1 0 .2 0 .2 0 .1 0 .1 0 .1 0 .2 0 .1 0 .2 0 .2 0 .2 0 0 0 .1 0 .2 .1 .2 0 .1 0 .2 0 .2 0 0 0 .1 0 .4 0 .3 0 .2 0 .2 0 .3 0 .3 0 .2 0 .2 0 .3 0 .4 0 .1 .1 .2 0 .3 0 .4 0 .1 0 .2 0 .4 0 .3 0 .1 0 .2 0 .4 0 .3 0 .1 0 .3 0 .3 0 .3 0 .1 0 .3 0 .7 0 1 .1 1 0 1 0 1 0 1 0 1 0 1 0 1 0 1 0 1 0 1 0 1 .1 1 0 1 0 1 0 1 0 1 0 1 0 1 0 1 0 1 0 1 0 1 0 1 0 1 0 1 0 1 0 1 0 1 0 1 0 1 0 1 0 1 0 1 0 1 0 1 0 1 0 1 0 1 0 1 0 1 0 1 0 1 0 1 0 1 0 1 0 1 0 1 .1 1 0 1 0 1 0 1 0 1 0 1 0 1 0 1 0 1 0 1 0 1 0 1 0 1 0 1 0 1 0 1 0 1 0 1 0 1 0 1 0 1 0 1 0 1 0 1 0' fill='none' stroke='#ff2020' stroke-width='1.7'/><path d='M123.5 591.1l1 0 1 0 1 0 1 0 1 0 1 0 1 0 1 0 1 0 1 0 1 0 1 0 1 0 1 0 1 0 1 0 1 0 1 0 1 0 1 0 1 0 1 0 1 0 1 0 1 0 1 0 1-.1 1 0 1 0 1 0 1 0 1 0 1 0 1 0 1 0 1 0 1 0 1 0 1 0 1 0 1-.1 1 0 1 0 1 0 1 0 1 0 1 0 1-.1 1 0 1 0 1 0 1 0 1-.1 1 0 1 0 .3 0 .3-.1 .4 0 0 0 .3 0 .4 0 .3 0 .3 0 .4 0 .3-.1 0 0 .4 0 .3 0 .3 0 0 0 .4 0 .3 0 .3-.1 .1 0 .3 0 .3 0 .2 0 .1 0 .1 0 .1 0 .2 0 .2-.1 .2 0 .1 0 .1 0 .1 0 .2 0 .1 0 .2 0 .2 0 .1-.1 .1 0 .1 0 .2 0 .2 0 .1 0 .2 0 .2 0 0-.1 .1 0 .2 0 .2 0 .1 0 .2 0 0 0 .2 0 0-.1 .1 0 .1 0 .1 0 .2 0 0 0 .2 0 .1 0 0 0 .2-.1 .2 0 0 0 .1 0 .2 0 0 0 .2 0 .1-.1 .1 0 .1 0 0 0 .2 0 0 0 .2 0 .1-.1 0 0 .2 0 .2 0 0 0 .1 0 0 0 .2-.1 0 0 .2 0 .1 0 .1 0 .1-.1 .2 0 0 0 .1 0 .1 0 .1-.1 0 0 .2 0 .2 0 0 0 .1-.1 .2 0 0 0 .1 0 .1 0 .1-.1 .1 0 .1 0 .2-.1 0 0 .2 0 .1 0 0 0 .1-.1 .1 0 .2 0 0 0 .1-.1 .2 0 0 0 .2-.1 .1 0 .1 0 0 0 .1-.1 .2 0 0 0 .2-.1 .1-.1 0 0 .2 0 .2-.1 0 0 0 0 .1 0 .2-.1 0 0 .2-.1 .1-.1 .1 0 .1 0 .2-.1 0 0 .2-.1 .1-.1 0 0 .2-.1 .2 0 0 0 .1-.1 .2-.1 0 0 .2-.1 .1-.1 .1 0 .1-.1 .2-.1 0-.1 .2-.1 .1-.1 0 0 0 0 .2-.1 .2-.1 0 0 .1-.2 .2-.1 0 0 .2-.1 .1-.1 0-.1 .1 0 .1-.1 .2-.2 0 0 .2-.2 .1-.1 0 0 .2-.2 .1-.1 .1-.1 0 0 .1-.2 .2-.2 0 0 .2-.2 .1-.2 .1 0 .1-.2 .1-.2 .1-.1 0 0 .2-.2 .1-.3 0 0 .2-.2 .2-.3 0 0 .1-.3 .1-.1 .1-.2 0 0 .2-.3 .1-.3 .1 0 .1-.3 .2-.3 0-.1 .2-.3 0-.1 .1-.2 0-.1 .2-.3 .2-.4 0 0 .1-.4 .2-.3 0-.1 .2-.3 0-.1 .1-.3 .1-.1 .1-.3 .2-.4 0-.1 .2-.3 .1-.4 0-.1 .2-.4 .2-.3 0-.1 .1-.3 .2-.4 0-.1 .2-.3 .1-.3 .1-.1 .1-.2 0-.1 .2-.3 0 0 .2-.3 .1-.2 0 0 .2-.2 .2-.2 0 0 .1-.1 0-.1 .2-.1 0 0 .2-.1 .1 0 .1 0 .1 0 .2 .1 .1 0 .1 0 .1 .2 .2 .1 .2 .2 .1 .3 .2 .2 .1 .2 .1 .1 .1 .3 .2 .4 .2 .3 .2 .4 .1 .4 .1 .2 .1 .2 .2 .4 .1 .4 .2 .4 .2 .4 .1 .4 .1 .2 .1 .2 .2 .4 .2 .4 .1 .4 .2 .4 .2 .3 0 .1 .1 .3 .2 .3 .2 .4 .1 .3 .2 .3 .2 .3 0 .1 .2 .2 .1 .3 .2 .3 .2 .3 .1 .2 .2 .3 .2 .2 .1 .2 .2 .3 .2 .2 .2 .2 .1 .2 0 0 .2 .2 .2 .2 .1 .1 .2 .2 .2 .2 .1 .1 0 0 .2 .2 .2 .1 .2 .2 .1 .1 .2 .1 .1 .1 .1 0 .1 .2 .2 .1 .2 .1 .1 .1 .2 .1 .1 .1 .1 0 .2 .1 .1 .1 .2 .1 .2 .1 .1 .1 .1 0 .1 0 .2 .1 .1 .1 .2 .1 .2 0 .2 .1 0 0 .1 .1 .2 0 .2 .1 .1 .1 .2 0 .2 .1 0 0 .1 0 .4 .1 .3 .1 .2 .1 .2 0 .3 .1 .3 .1 .2 0 .2 .1 .3 0 .4 .1 .1 0 .2 .1 .3 0 .4 .1 .1 0 .2 .1 .4 0 .3 .1 .1 0 .2 0 .4 .1 .3 0 .1 0 .3 0 .3 .1 .3 0 .1 0 .3 .1 .7 0 1 .1 1 .1 1 .1 1 0 1 .1 1 0 1 .1 1 0 1 .1 1 0 1 0 1 0 1 .1 1 0 1 0 1 0 1 .1 1 0 1 0 1 0 1 0 1 0 1 0 1 .1 1 0 1 0 1 0 1 0 1 0 1 0 1 0 1 0 1 0 1 0 1 0 1 0 1 0 1 .1 1 0 1 0 1 0 1 0 1 0 1 0 1 0 1 0 1 0 1 0 1 0 1 0 1 0 1 0 1 0 1 0 1 0 1 0 1 0 1 0 1 0 1 0 1 0 1 0 1 0 1 0 1 0 1 0 1 0 1 0 1 0 1 0 1 0 1 0' fill='none' stroke='#ff2020' stroke-width='1.7'/><path d='M25 659.3l1 .1 1 .2 1-.6 1-.5 1-.1 1 0 1-.1 1 .3 1 0 1 .2 1 .4 1-.2 1 .2 1 .2 1 0 1-.1 1-.1 1-.1 1-.4 1 .2 1 .2 1 .4 1-.3 1-.7 1-.2 1 .3 1 .2 1-.1 1-.3 1 0 1 0 1 0 1 .4 1-.2 1 0 1 .2 1-.2 1 0 1 0 1-.5 .2 .2 .3-.1 .3-.8 .2-.6 .2-.2 .3-.1 .3-.4 .2-.2 .2-.1 .3-.4 .3-.4 .2-1 .2-.4 .3-1.2 .3-1.3 .2-1.9 .2-2 .3-3.5 .3-4.1 .2-6.1 .2-8.4 .3-9.4 .3-8.2 .2-3.6 .2 3.5 .3 8.7 .3 9.2 .2 7.6 .2 6.1 .3 4.6 .3 3.3 .2 2.3 .2 1.3 .3 1.6 .3 1.1 .2 1.2 .2 .8 .3 .6 .3 .3 .2 .3 .2 0 .3 .3 .3-.1 .2 .3 .2 .3 .3-.1 .3 .1 .2-.1 1 .9 1 0 1 .3 1 .1 1 .3 1 0 1 .1 1-.1 1 .2 1-.2 1 .3 1 .2 1-.4 1 .2 1 .2 1 .2 1 .1 1 .1 1-.2 1-.1 1 .1 1-.1 1-.4 1 0 1 .1 1 0 1 .4 1 .1 1 0 1 .1 1-.3 1-.3 1 0 1 .2 1 .4' fill='none' stroke='#333' stroke-width='1.3' stroke-linejoin='round'/><path d='M113.9 659.3h3.2M119.4 660.6h3.4' stroke='#222' stroke-width='1.2'/><path d='M123.5 662.4l1 0 1-.6 1 .1 1-1.3 1-.7 1 .8 1 .6 1-.4 1 .5 1-.4 1-.3 1 .2 1-.2 1-.1 1 .9 1 .8 1-.5 1 .8 1-.6 1-.7 1-.1 1 2.3 1-1.1 1 .1 1 .4 1-.7 1-.6 1 .1 1-.4 1 1.3 1-.5 1 1.1 1 0 1-1.2 1 1.2 1-1.9 1 .3 1-1.2 1 .3 1-.1 1 1.8 1-.4 1 .7 1 .1 1 .7 1 0 1-.4 1-.1 1-.6 1-.5 1-.7 1 .5 1 .7 1-.1 1 1 1 .2 .3-.1 .3-.1 .4-.2 0 0 .3-.2 .4-.2 .3-.2 .3-.3 .4-.3 .3-.2 0 0 .4-.1 .3-.1 .3-.1 0 0 .4 .1 .3 .1 .3 0 .1 .1 .3 .3 .3 .3 .3 .2 .1-.1 .3-.4 .4-.3 .2-.3 .1-.1 .3-.2 .4-.2 .2-.2 .1 .1 .4 .5 .3 .4 .2 .2 .1 0 .4-.1 .3-.2 .2 0 .2 0 .3 .1 .3 0 .2 0 .2 .2 .1 .1 .2 .1 .1 .1 .3 .2 .1 .1 0 0 .2-.3 .1-.1 0 0 .2-.3 .2-.1 0 0 .2-.3 .1-.1 0-.1 .2-.1 .1-.2 .1 0 .2-.2 .1-.1 0 0 .2-.2 .1-.1 0 0 0 0 .2 0 .2 0 0 0 .2 0 .1 0 0 0 .2 0 .1 0 0 0 .1 0 .2 0 .1 0 0 0 .2-.1 .1 0 0 0 .2 0 .1 0 .1 0 0 .1 .2 .1 .1 .1 0 0 .2 .2 .1 .1 .1 0 .2 .2 0 0 .1 0 0 0 .2 0 .1 0 0-.1 .2 0 .2 0 0 0 .2 0 0 0 .1 0 0 .1 .2 .1 .1 .1 .1 0 .2 .1 .1 .1 0 0 .2 .2 .1 .1 0 0 .2 .3 .2 .1 0 0 .2 .2 .1 .2 0 0 .2 .2 0 0 .1 .2 .1 .1 .2 .3 .1 .2 0 .1 .2 .3 .1 .2 0 0 .2 .3 0 0 .2 0 0 0 .2 0 .1-.1 0 0 .2 0 .1 0 .1 0 .1 0 .1-.2 .1-.3 0 0 .2-.5 .1-.2 0-.1 .2-.4 .2-.3 0-.1 .1-.2 .1-.1 .1-.1 0 0 .2-.2 .1-.1 .1 0 .2-.2 .1-.1 0 0 .1-.1 .1-.1 .1-.2 0 0 .2-.3 .2-.2 0 0 .2-.3 .1-.1 0 0 .1-.2 .1 .2 .1 .1 .1 .1 .2 .2 .1 .2 0 0 .2 .3 .1 .1 0 0 .1 .1 .1 .2 .2 .1 0 0 .2 .2 .1 .2 0 0 .2 .2 .1 .1 .1 0 0 .1 .2 .3 .1 .3 0 0 .2 .5 .1 .2 0 .1 .2 .4 .2 .3 0 0 0 .1 .2 0 .1 .1 0 0 .3 .1 .1 0 .3 .1 0 0 .3 0 0 0 .4 .1 0 0 .3 0 0 0 .3 0 .1 0 .3 0 0 0 .3 0 0 0 0 0 .4 0 0 0 .3 0 0 0 .3 0 0-.1 .1 0 .3-.2 0 0 .3-.2 0-.1 .3-.1 .1-.1 0 0 .3-.4 0 0 .3-.3 .1-.1 .2-.2 .1 0 0 0 .3 .2 .4 .1 .2 .1 .1-.3 .4-.6 .3-.7 .2-.3 .1-.2 .4-.4 .3-.5 .2-.2 .2-.1 .3-.1 .3-.2 .2-.1 .2-.1 .3-.1 .4-.2 .1-.1 .2 .1 .3 .2 .4 .2 .1 .1 .2 .1 .4 .2 .3 .1 .1 .1 .2-.3 .4-.4 .3-.4 .1-.1 1 1.4 1 .5 1 2.3 1 .2 1-.2 1 .1 1 0 1 0 1-.5 1-.1 1 .5 1 0 1 1.5 1-1.3 1-.3 1 .1 1 1.3 1-.7 1 1.1 1-.4 1-.2 1-.6 1 1.4 1-1.2 1-1 1-.9 1-.7 1 .2 1-1 1 .1 1 0 1 .1 1 .7 1-.5 1 .2 1-1 1 .3 1 2 1 1.5 1-1 1-1.4 1-1.4 1-.7 1-.1 1 1 1 .1 1 2 1-.2 1-.7 1 .8 1-.8 1 .3 1-.7 1 2 1-.1 1-.9 1 1 1-.6 1-.2 1 .4 1-.8 1 .9 1-.7 1-.5 1 .4 1-.7 1 .3 1 .7 1 1.1 1 .5 1-1.4 1-1.2 1 .1 1-.6 1 0 1 1 1-1.6 1 .6 1-.6 1 1.2 1 1.1' fill='none' stroke='#dedede' stroke-width='2.2' stroke-linejoin='round'/><path d='M123.5 660.2l1-.1 1 0 1 0 1 0 1 0 1 0 1 0 1 0 1 0 1 0 1 0 1 0 1 0 1 0 1 0 1 0 1 0 1-.1 1 0 1 0 1 0 1 0 1 0 1 0 1 0 1-.1 1 0 1 0 1 0 1 0 1 0 1-.1 1 0 1 0 1-.1 1 0 1 0 1-.1 1 0 1-.1 1 0 1-.1 1-.1 1-.1 1 0 1-.2 1-.1 1-.1 1-.2 1-.2 1-.2 1-.3 1-.4 1-.4 1-.6 1-.6 .3-.2 .3-.3 .4-.2 0 0 .3-.3 .4-.2 .3-.3 .3-.2 .4-.3 .3-.3 0 0 .4-.3 .3-.3 .3-.2 0-.1 .4-.3 .3-.3 .3-.2 .1-.1 .3-.3 .3-.3 .3-.3 .1 0 .3-.4 .4-.3 .2-.2 .1-.1 .3-.4 .4-.4 .2-.2 .1-.1 .4-.4 .3-.4 .2-.3 .1-.2 .4-.4 .3-.5 .2-.2 .2-.2 .3-.5 .3-.5 .2-.3 .2-.3 .1-.2 .2-.3 .1-.2 .3-.4 .1-.2 0 0 .2-.4 .1-.2 0-.1 .2-.3 .2-.3 0 0 .2-.4 .1-.2 0-.1 .2-.4 .1-.2 .1-.1 .2-.4 .1-.3 0 0 .2-.5 .1-.2 0-.1 0 0 .2-.5 .2-.3 0-.1 .2-.5 .1-.3 0-.1 .2-.6 .1-.2 0-.1 .1-.1 .2-.6 .1-.3 0-.1 .2-.6 .1-.4 0-.1 .2-.7 .1-.2 .1-.2 0-.1 .2-.7 .1-.4 0-.1 .2-.8 .1-.5 .1 0 .2-.8 0-.2 .1-.4 0 0 .2-.9 .1-.5 0-.1 .2-1 .2-.7 0-.1 .2-1.4 0-.2 .1-.7 0-.2 .2-1.7 .1-1.1 .1-.2 .2-1.9 .1-1.2 0-.2 .2-2.1 .1-1.3 0-.2 .2-2.1 .2-1.3 0-.2 .2-2.1 .1-1.2 0-.2 .2-1.8 0-.1 .1-1.2 .1-.1 .2-1.7 .1-1 0-.1 .2-1.4 .1-.8 0-.1 .2-.8 0-.2 .2-.7 0-.1 .2-1.1 .1-.6 0-.1 .2-1 .1-.5 .1-.1 .1-.6 .1-.2 .1-.4 0-.1 .2-.5 .1-.2 0 0 .2-.1 .2 .1 0 0 .1 .1 .1 .1 .1 .2 0 0 .2 .5 .1 .4 .1 0 .2 .7 .1 .5 0 0 .1 .5 .1 .4 .1 .6 0 .1 .2 1 .2 .6 0 .1 .2 1.1 .1 .7 0 .1 .1 .5 .1 .7 .1 .7 .1 .2 .2 1.2 .1 .8 0 .1 .2 1.2 .1 .8 0 .1 .1 .4 .1 .8 .2 .8 0 .1 .2 1.4 .1 1 0 .2 .2 1.8 .1 1.2 .1 .2 0 .4 .2 1.6 .1 1.3 0 .2 .2 2.2 .1 1.4 0 .2 .2 2.3 .2 1.4 0 .2 0 .2 .2 2 .1 1.3 0 .2 .3 3.3 .1 .2 .3 2.8 0 .2 .3 2.2 0 .1 .4 1.5 0 .1 .3 1.2 0 .1 .3 1.2 .1 0 .3 1.2 0 .1 .3 1 0 0 0 .1 .4 1.1 0 0 .3 1 0 .1 .3 .8 0 .2 .1 0 .3 .9 0 .1 .3 .8 0 .1 .3 .6 .1 .2 0 0 .3 .8 0 0 .3 .7 .1 0 .2 .5 .1 .1 0 .1 .3 .5 .4 .5 .2 .3 .1 .2 .4 .3 .3 .2 .2 .2 .1 0 .4 .1 .3 .3 .2 .2 .2 .2 .3 .3 .3 .4 .2 .1 .2 .2 .3 .3 .4 .2 .1 .1 .2 .2 .3 .2 .4 .2 .1 .1 .2 .1 .4 .2 .3 .2 .1 0 .2 .1 .4 .2 .3 .1 .1 .1 1 .3 1 .3 1 .3 1 .2 1 .2 1 .1 1 .2 1 .1 1 .1 1 .1 1 .1 1 0 1 .1 1 .1 1 0 1 .1 1 0 1 .1 1 0 1 0 1 .1 1 0 1 0 1 0 1 .1 1 0 1 0 1 0 1 0 1 0 1 .1 1 0 1 0 1 0 1 0 1 0 1 0 1 0 1 0 1 .1 1 0 1 0 1 0 1 0 1 0 1 0 1 0 1 0 1 0 1 0 1 0 1 0 1 0 1 0 1 0 1 0 1 .1 1 0 1 0 1 0 1 0 1 0 1 0 1 0 1 0 1 0 1 0 1 0 1 0 1 0 1 0 1 0 1 0 1 0 1 0 1 0 1 0 1 0 1 0 1 0 1 0' fill='none' stroke='#e2c6ec' stroke-width='2.6'/><path d='M123.5 662.6l1 .2 1-.7 1-3 1 2.6 1-1.5 1-.4 1-.1 1 3.8 1-4.1 1 1.3 1 1.9 1-.7 1-2.1 1 1.5 1-.6 1 .4 1 .8 1-1.8 1 .1 1 1.9 1-3.1 1 1.8 1 .9 1-1.9 1 .9 1-.7 1 2 1-.9 1 1.5 1-.1 1-1.1 1-.2 1-.5 1-.1 1-1.6 1 2.9 1-.4 1 .1 1-2.7 1 3.2 1 1.2 1-2.3 1-1.8 1 1.5 1-.8 1 1.1 1-.5 1 .4 1-1.6 1 .6 1-1.1 1 .9 1 .3 1-1.3 1 .1 1-3.1 .3 .2 .3 .2 .4 .2 0 0 .3-.3 .4-.4 .3-.5 .3 .2 .4 .1 .3 .1 0 0 .4-1 .3-.9 .3-.8 0 0 .4 .1 .3 .1 .3 .1 .1-.2 .3-1.1 .3-1.1 .3-.9 .1 0 .3-.3 .4-.3 .2-.1 .1 0 .3 0 .4 0 .2 0 .1-.1 .4-.2 .3-.3 .2-.2 .1-.4 .4-1 .3-1 .2-.6 .2-.3 .3-.6 .3-.7 .2-.3 .2 .1 .1 0 .2 .1 .1 .1 .3 0 .1 .1 0 0 .2-.6 .1-.4 0-.1 .2-.6 .2-.4 0-.1 .2-.6 .1-.4 0 0 .2-.1 .1-.1 .1 0 .2-.1 .1-.1 0 0 .2-.2 .1-.1 0-.1 0 0 .2-.7 .2-.4 0-.1 .2-.7 .1-.5 0 0 .2-.8 .1-.3 0-.1 .1 0 .2-.5 .1-.4 0 0 .2-.6 .1-.3 0-.1 .2-.5 .1-.2 .1-.1 0-.1 .2-.4 .1-.3 0 0 .2-.5 .1-.3 .1 0 .2-.6 0-.1 .1-.3 0-.1 .2-1 .1-.5 0-.1 .2-1.1 .2-.7 0-.2 .2-1.4 0-.2 .1-.9 0-.2 .2-2 .1-1.3 .1-.2 .2-2.2 .1-1.4 0-.2 .2-2.4 .1-1.3 0-.3 .2-2.3 .2-1.4 0-.2 .2-2.3 .1-1.3 0-.3 .2-1.9 0-.2 .1-1 .1-.2 .2-1.6 .1-.8 0-.2 .2-1.3 .1-.6 0-.1 .2-.8 0-.2 .2-.6 0-.2 .2-1 .1-.7 0-.1 .2-1 .1-.5 .1-.1 .1-.6 .1-.2 .1-.5 0 0 .2-.5 .1-.3 0 0 .2-.1 .2 0 0 .1 .1 .1 .1 .2 .1 .3 0 .1 .2 .7 .1 .5 .1 .1 .2 .9 .1 .6 0 .1 .1 .6 .1 .2 .1 .3 0 .1 .2 .6 .2 .3 0 .1 .2 .7 .1 .4 0 .1 .1 .3 .1 .9 .1 .9 .1 .1 .2 1.6 .1 .9 0 .1 .2 1.6 .1 .9 0 .1 .1 .5 .1 .9 .2 .7 0 .1 .2 1.5 .1 .9 0 .2 .2 1.8 .1 1.2 .1 .2 0 .4 .2 1.5 .1 1.3 0 .2 .2 2.1 .1 1.3 0 .2 .2 2.2 .2 1.3 0 .2 0 .2 .2 2.4 .1 1.5 0 .3 .3 4 .1 .2 .3 3.6 0 .2 .3 1.3 0 .1 .4 .5 0 0 .3 .2 0 .1 .3 1.6 .1 .1 .3 1.4 0 .1 .3 1.4 0 .1 0 0 .4 1.1 0 .1 .3 1 0 .1 .3 .9 0 0 .1 .1 .3 .4 0 .1 .3 .4 0 0 .3 .3 .1 .2 0 0 .3 1.1 0 0 .3 1 .1 .1 .2 .6 .1 .3 0 0 .3 .8 .4 .8 .2 .4 .1 .4 .4 1 .3 .9 .2 .5 .1 .1 .4 .1 .3 .3 .2 .2 .2 .1 .3 .2 .3 .2 .2 0 .2 .1 .3 .1 .4 .1 .1 .1 .2-.4 .3-.6 .4-.6 .1-.2 .2 .8 .4 1.3 .3 1.3 .1 .4 .2-.1 .4-.1 .3-.1 .1 0 1 1.3 1 .7 1 1.3 1-1.1 1-.5 1-1.6 1 1.3 1-2 1 2.7 1-1.5 1 1.3 1 .4 1 .1 1 .6 1-1.5 1 1.4 1-1.2 1 2.2 1-2 1 1.2 1 1.3 1-4.6 1 1.5 1 .9 1 1.7 1-1.8 1 1 1-.5 1 1.1 1-2.2 1 2.4 1-3.8 1 1 1 3.5 1-2 1-1.1 1 3.3 1-1.7 1-.1 1-1.1 1 1 1 .7 1-2.1 1 2.7 1-1 1 1.6 1 .2 1-2.9 1-.3 1 1.2 1 .2 1-1 1 0 1 1.1 1-.3 1 .2 1-.4 1-.9 1-.7 1 2.1 1-1.2 1 .6 1-.4 1-1 1 1.4 1-2.1 1 2.1 1-.8 1 3.5 1-1.8 1-.6 1 1.3 1 .3 1-2 1 .7 1-.1 1 2.6 1-3 1-1.5 1 2.8 1 1.7' fill='none' stroke='#140814' stroke-width='2.2' stroke-linejoin='round'/><path d='M123.5 659.9l1 0 1 0 1 0 1 0 1 0 1 0 1 0 1 0 1 0 1 0 1 0 1 0 1 0 1 0 1 0 1 0 1 0 1 0 1 0 1-.1 1 0 1 0 1 0 1 0 1 0 1 0 1 0 1 0 1 0 1 0 1 0 1 0 1-.1 1 0 1 0 1 0 1 0 1 0 1 0 1-.1 1 0 1 0 1 0 1 0 1-.1 1 0 1 0 1-.1 1 0 1 0 1-.1 1 0 1-.1 1-.1 1 0 1-.1 .3 0 .3-.1 .4 0 0 0 .3 0 .4-.1 .3 0 .3-.1 .4 0 .3 0 0 0 .4-.1 .3 0 .3-.1 0 0 .4 0 .3-.1 .3 0 .1-.1 .3 0 .3-.1 .3 0 .1-.1 .3 0 .4-.1 .2-.1 .1 0 .3-.1 .4-.1 .2-.1 .1 0 .4-.1 .3-.1 .2-.1 .1-.1 .4-.1 .3-.1 .2-.1 .2-.1 .3-.2 .3-.2 .2-.1 .2-.1 .1 0 .2-.2 .1-.1 .3-.1 .1-.1 0 0 .2-.2 .1-.1 0 0 .2-.2 .2-.1 0 0 .2-.2 .1-.1 0 0 .2-.2 .1-.1 .1-.1 .2-.2 .1-.1 0 0 .2-.3 .1-.1 0 0 0-.1 .2-.2 .2-.2 0 0 .2-.4 .1-.1 0-.1 .2-.3 .1-.2 0 0 .1-.1 .2-.3 .1-.3 0 0 .2-.4 .1-.3 0-.1 .2-.4 .1-.2 .1-.1 0-.1 .2-.5 .1-.4 0 0 .2-.6 .1-.4 .1-.1 .2-.7 0-.1 .1-.3 0-.1 .2-.8 .1-.5 0-.1 .2-.9 .2-.6 0-.1 .2-1 0-.1 .1-.6 0-.1 .2-1.2 .1-.8 .1-.1 .2-1.4 .1-.8 0-.2 .2-1.6 .1-1 0-.2 .2-1.8 .2-1.1 0-.2 .2-2.1 .1-1.3 0-.3 .2-2.1 0-.2 .1-1.5 .1-.2 .2-2.6 .1-1.7 0-.3 .2-2.8 .1-1.7 0-.3 .2-2.4 0-.6 .2-1.8 0-.3 .2-2.9 .1-1.7 0-.3 .2-2.6 .1-1.5 .1-.2 .1-1.5 .1-.6 .1-1 0-.2 .2-1.2 .1-.4 0-.1 .2-.2 .2 .2 0 .1 .1 .4 .1 .4 .1 .8 0 .2 .2 1.8 .1 1.3 .1 .2 .2 2.5 .1 1.6 0 .3 .1 1.4 .1 1.5 .1 1.7 0 .3 .2 3 .2 1.8 0 .3 .2 2.9 .1 1.6 0 .3 .1 1.1 .1 1.6 .1 1.6 .1 .2 .2 2.5 .1 1.3 0 .3 .2 2.1 .1 1.3 0 .2 .1 .5 .1 1.4 .2 1 0 .2 .2 1.7 .1 .9 0 .2 .2 1.4 .1 .8 .1 .1 0 .3 .2 1 .1 .7 0 .1 .2 1.1 .1 .6 0 .1 .2 1 .2 .5 0 .1 0 .1 .2 .7 .1 .5 0 .1 .3 1.1 .1 .1 .3 1 0 0 .3 .9 0 .1 .4 .7 0 .1 .3 .7 0 0 .3 .6 .1 .1 .3 .5 0 .1 .3 .4 0 .1 0 0 .4 .4 0 .1 .3 .4 0 0 .3 .3 0 0 .1 .1 .3 .3 0 0 .3 .3 0 0 .3 .3 .1 0 0 0 .3 .3 0 0 .3 .2 .1 0 .2 .2 .1 .1 0 0 .3 .2 .4 .2 .2 .1 .1 0 .4 .2 .3 .2 .2 0 .1 .1 .4 .1 .3 .1 .2 .1 .2 .1 .3 .1 .3 .1 .2 0 .2 .1 .3 .1 .4 0 .1 .1 .2 0 .3 .1 .4 .1 .1 0 .2 0 .4 .1 .3 0 .1 .1 .2 0 .4 0 .3 .1 .1 0 1 .1 1 .2 1 .1 1 0 1 .1 1 .1 1 0 1 .1 1 0 1 .1 1 0 1 .1 1 0 1 0 1 .1 1 0 1 0 1 0 1 0 1 .1 1 0 1 0 1 0 1 0 1 0 1 0 1 .1 1 0 1 0 1 0 1 0 1 0 1 0 1 0 1 0 1 0 1 0 1 0 1 0 1 0 1 .1 1 0 1 0 1 0 1 0 1 0 1 0 1 0 1 0 1 0 1 0 1 0 1 0 1 0 1 0 1 0 1 0 1 0 1 0 1 0 1 0 1 0 1 0 1 0 1 0 1 0 1 0 1 0 1 0 1 0 1 0 1 0 1 0 1 0 1 0 1 0 1 0 1 0 1 0 1 0 1 0' fill='none' stroke='#3b6ee6' stroke-width='1.8'/><path d='M123.5 660.2l1 0 1 0 1 0 1 0 1 0 1 0 1 0 1 0 1 0 1-.1 1 0 1 0 1 0 1 0 1 0 1 0 1 0 1 0 1 0 1 0 1 0 1 0 1 0 1 0 1 0 1 0 1 0 1 0 1 0 1 0 1 0 1 0 1 0 1 0 1 0 1-.1 1 0 1 0 1 0 1 0 1 0 1 0 1 0 1-.1 1 0 1 0 1 0 1-.1 1 0 1 0 1-.1 1 0 1-.1 1-.1 1-.1 1-.1 .3 0 .3 0 .4-.1 0 0 .3 0 .4-.1 .3 0 .3-.1 .4-.1 .3 0 0 0 .4-.1 .3-.1 .3-.1 0 0 .4-.1 .3-.1 .3-.1 .1 0 .3-.1 .3-.2 .3-.1 .1 0 .3-.2 .4-.2 .2-.2 .1 0 .3-.3 .4-.2 .2-.2 .1-.1 .4-.3 .3-.4 .2-.2 .1-.2 .4-.5 .3-.5 .2-.3 .2-.3 .3-.6 .3-.7 .2-.4 .2-.4 .1-.3 .2-.6 .1-.3 .3-.6 .1-.3 0-.1 .2-.5 .1-.4 0 0 .2-.6 .2-.3 0-.1 .2-.5 .1-.3 0-.1 .2-.5 .1-.2 .1-.1 .2-.3 .1-.2 0-.1 .2-.2 .1-.1 0 0 0 0 .2-.1 .2 0 0 0 .2 .1 .1 .1 0 0 .2 .3 .1 .1 0 .1 .1 0 .2 .4 .1 .2 0 .1 .2 .5 .1 .3 0 0 .2 .6 .1 .1 .1 .2 0 0 .2 .6 .1 .4 0 0 .2 .6 .1 .3 .1 .1 .2 .5 0 .1 .1 .2 0 .1 .2 .5 .1 .3 0 0 .2 .5 .2 .3 0 0 .2 .4 0 .1 .1 .2 0 0 .2 .4 .1 .2 .1 .1 .2 .3 .1 .2 0 0 .2 .3 .1 .2 0 0 .2 .3 .2 .2 0 0 .2 .3 .1 .1 0 0 .2 .2 0 0 .1 .2 .1 0 .2 .2 .1 .1 0 0 .2 .2 .1 .1 0 0 .2 .1 0 .1 .2 0 0 .1 .2 .1 .1 .1 0 0 .2 .1 .1 .1 .1 0 .1 .1 .1 0 .1 .1 0 0 .2 .1 .1 .1 0 0 .2 .1 .2 0 0 0 .1 .1 .1 0 .1 .1 0 0 .2 0 .1 .1 .1 0 .2 .1 .1 0 0 0 .1 0 .1 .1 .1 0 0 0 .2 .1 .2 0 0 0 .2 .1 .1 0 0 0 .1 0 .1 .1 .1 0 .1 0 .2 0 .1 .1 0 0 .2 0 .1 0 0 0 .1 0 .1 .1 .2 0 0 0 .2 0 .1 .1 0 0 .2 0 .1 0 .1 0 0 0 .2 0 .1 .1 0 0 .2 0 .1 0 0 0 .2 0 .2 .1 0 0 0 0 .2 0 .1 0 0 0 .3 0 .1 0 .3 .1 0 0 .3 0 0 0 .4 0 0 0 .3 .1 0 0 .3 0 .1 0 .3 0 0 0 .3 .1 0 0 0 0 .4 0 0 0 .3 0 0 0 .3 0 0 0 .1 0 .3 0 0 0 .3 .1 0 0 .3 0 .1 0 0 0 .3 0 0 0 .3 0 .1 0 .2 0 .1 0 0 0 .3 .1 .4 0 .2 0 .1 0 .4 0 .3 0 .2 0 .1 0 .4 0 .3 0 .2 0 .2 0 .3 .1 .3 0 .2 0 .2 0 .3 0 .4 0 .1 0 .2 0 .3 0 .4 0 .1 0 .2 0 .4 0 .3 0 .1 0 .2 0 .4 .1 .3 0 .1 0 1 0 1 0 1 0 1 0 1 0 1 0 1 0 1 .1 1 0 1 0 1 0 1 0 1 0 1 0 1 0 1 0 1 0 1 0 1 0 1 0 1 0 1 0 1 0 1 0 1 0 1 0 1 0 1 0 1 0 1 0 1 0 1 0 1 0 1 .1 1 0 1 0 1 0 1 0 1 0 1 0 1 0 1 0 1 0 1 0 1 0 1 0 1 0 1 0 1 0 1 0 1 0 1 0 1 0 1 0 1 0 1 0 1 0 1 0 1 0 1 0 1 0 1 0 1 0 1 0 1 0 1 0 1 0 1 0 1 0 1 0 1 0 1 0 1 0 1 0 1 0 1 0 1 0 1 0 1 0 1 0 1 0' fill='none' stroke='#ff2020' stroke-width='1.7'/><path d='M123.5 660.2l1 0 1 0 1 0 1 0 1 0 1 0 1 0 1 0 1 0 1 0 1 0 1 0 1 0 1 0 1 0 1 0 1 0 1 0 1 0 1 0 1 0 1 0 1 0 1 0 1 0 1-.1 1 0 1 0 1 0 1 0 1 0 1 0 1 0 1 0 1 0 1 0 1 0 1 0 1 0 1 0 1 0 1 0 1 0 1 0 1 0 1 0 1 0 1 0 1 0 1 0 1-.1 1 0 1 0 1 0 1 0 1 0 .3 0 .3 0 .4 0 0 0 .3 0 .4-.1 .3 0 .3 0 .4 0 .3 0 0 0 .4 0 .3 0 .3 0 0 0 .4 0 .3 0 .3 0 .1 0 .3 0 .3-.1 .3 0 .1 0 .3 0 .4 0 .2 0 .1 0 .3 0 .4 0 .2 0 .1 0 .4-.1 .3 0 .2 0 .1 0 .4 0 .3 0 .2 0 .2-.1 .3 0 .3 0 .2 0 .2 0 .1 0 .2 0 .1-.1 .3 0 .1 0 0 0 .2 0 .1 0 0 0 .2 0 .2 0 0-.1 .2 0 .1 0 0 0 .2 0 .1 0 .1 0 .2 0 .1-.1 0 0 .2 0 .1 0 0 0 0 0 .2 0 .2 0 0 0 .2-.1 .1 0 0 0 .2 0 .1 0 0 0 .1-.1 .2 0 .1 0 0 0 .2 0 .1-.1 0 0 .2 0 .1 0 .1 0 0 0 .2-.1 .1 0 0 0 .2-.1 .1 0 .1 0 .2 0 0 0 .1-.1 0 0 .2 0 .1-.1 0 0 .2 0 .2-.1 0 0 .2 0 0 0 .1-.1 0 0 .2 0 .1-.1 .1 0 .2-.1 .1 0 0 0 .2-.1 .1-.1 0 0 .2-.1 .2 0 0 0 .2-.1 .1-.1 0 0 .2-.1 0 0 .1-.1 .1 0 .2-.1 .1-.1 0 0 .2-.2 .1 0 0-.1 .2-.1 0 0 .2-.1 0 0 .2-.2 .1-.1 0 0 .2-.2 .1-.1 .1-.1 .1-.1 .1-.1 .1-.1 0 0 .2-.3 .1-.1 0 0 .2-.3 .2-.2 0 0 .1-.2 .1-.1 .1-.2 0 0 .2-.3 .1-.2 .1-.1 .2-.3 .1-.2 0-.1 .1-.1 .1-.2 .1-.3 0 0 .2-.4 .2-.2 0-.1 .2-.4 .1-.2 0 0 .1-.2 .1-.3 .1-.2 .1 0 .2-.4 .1-.2 0-.1 .2-.3 .1-.2 0 0 .1-.1 .1-.2 .2-.2 0 0 .2-.2 .1-.1 0 0 .2-.1 .1 0 .1 0 0 0 .2 0 .1 .1 0 0 .2 .1 .1 .1 0 0 .2 .3 .2 .1 0 0 0 .1 .2 .3 .1 .2 0 0 .3 .6 .1 0 .3 .7 0 0 .3 .6 0 .1 .4 .6 0 .1 .3 .6 0 0 .3 .6 .1 0 .3 .5 0 .1 .3 .4 0 .1 0 0 .4 .4 0 .1 .3 .3 0 .1 .3 .3 0 0 .1 .1 .3 .3 0 0 .3 .3 0 0 .3 .2 .1 .1 0 0 .3 .2 0 0 .3 .2 .1 0 .2 .2 .1 0 0 0 .3 .2 .4 .2 .2 .1 .1 0 .4 .2 .3 .1 .2 .1 .1 0 .4 .1 .3 .1 .2 .1 .2 0 .3 .1 .3 0 .2 .1 .2 0 .3 .1 .4 0 .1 .1 .2 0 .3 0 .4 .1 .1 0 .2 0 .4 .1 .3 0 .1 0 .2 0 .4 .1 .3 0 .1 0 1 .1 1 .1 1 0 1 .1 1 0 1 0 1 .1 1 0 1 0 1 0 1 .1 1 0 1 0 1 0 1 0 1 0 1 0 1 .1 1 0 1 0 1 0 1 0 1 0 1 0 1 0 1 0 1 0 1 0 1 0 1 0 1 0 1 0 1 0 1 0 1 0 1 0 1 0 1 0 1 0 1 0 1 0 1 0 1 .1 1 0 1 0 1 0 1 0 1 0 1 0 1 0 1 0 1 0 1 0 1 0 1 0 1 0 1 0 1 0 1 0 1 0 1 0 1 0 1 0 1 0 1 0 1 0 1 0 1 0 1 0 1 0 1 0 1 0 1 0 1 0 1 0 1 0 1 0 1 0 1 0 1 0 1 0' fill='none' stroke='#ff2020' stroke-width='1.7'/><path d='M405.5 106.5l1-.5 1-.2 1-.1 1 .2 1 .1 1 .2 1 .1 1-.3 1 .3 1-.5 1-.4 1-.3 1-.4 1 .4 1 .3 1 0 1 .2 1 0 1 .1 1 .2 1 .1 1-.2 1-.1 1-.1 1 .3 1 0 1 .1 1-.5 1 0 1-.4 1 0 1 .3 1 .2 1-.1 1 .2 1-.5 1 0 1 .1 1 .6 1-.1 1-.3 1-.5 1 .2 1-.1 1 .3 1 .3 1-.4 1-.3 1-.5 .5-.7 .2-.5 .3-.6 .3-.2 .2-.1 .2 .2 .3-.4 .3-.5 .2-.3 .2-.9 .3-1.1 .3-.2 .2-.8 .2-1.5 .3-1.6 .3-2.1 .2-2.9 .2-3.3 .3-4 .3-5.2 .2-6.9 .2-8 .3-8.8 .3-7.3 .2-2.8 .2 2.5 .3 7.6 .3 8.2 .2 8.5 .2 6.9 .3 5.5 .3 4.2 .2 3.2 .2 2 .3 1.9 .3 1.6 .2 1.2 .2 1.2 .3 1.3 .3 .4 .2 .7 .2 .7 .3 .6 .3 .4 .2 0 .2 .2 .3 .1 .3 .5 .2 .6 1 .4 1 .9 1-.1 1 .2 1 0 1 0 1 0 1 .7 1-.2 1-.1 1 .1 1-.4 1 .1 1-.1 1-.1 1 .2 1 .3 1-.4 1 .2 1 .1 1 0 1 .3 1-.2 1 .2 1 0 1-.4 1 .1' fill='none' stroke='#111' stroke-width='1.3' stroke-linejoin='round'/><path d='M496.2 106.1h3.2M501.7 103.4h3.4' stroke='#222' stroke-width='1.2'/><path d='M505.5 105.4l1-.1 1 .2 1 2.1 1 .5 1-.9 1-.5 1-.2 1 0 1 .2 1-.7 1-.3 1-1.2 1 .5 1-.6 1 1.9 1-.1 1-.1 1 .5 1 .8 1-.3 1-1.3 1 .2 1-1.4 1 .6 1-.3 1 .6 1 .2 1-.4 1 .6 1 .5 .1 0 .3 .1 .4 0 .2 0 .1 .1 .4 .1 .3 .2 .2 .1 .1-.1 .4-.2 .3-.2 .2-.1 .2 .2 .3 .3 .3 .4 .2 .2 .2 0 .3 .1 .4 .2 .1 0 .2-.2 .3-.2 .4-.3 .1-.1 .2-.3 .4-.6 .3-.5 .1-.1 .2 0 .4 0 .3 0 .1 0 .3 .1 .3 0 .3 0 .1 0 .3-.1 .3-.2 .4-.2 0 0 .3 .3 .3 .4 .4 .4 0 0 .3-.2 .4-.1 .3-.2 .3 .1 .4 .1 .3 .1 0 0 .4-.1 .3 0 .3-.1 0 0 .4 .2 .3 .1 .3 .1 .1-.1 .3-.7 .3-.6 .3-.6 .1 0 .3-.3 .4-.3 .2-.2 .1 .1 .3 0 .4 .1 .2 .1 .1-.1 .4-.2 .3-.2 .2-.1 .1 0 .4 .2 .3 .1 .2 .1 .2-.2 .3-.3 .3-.3 .2-.2 .2 .3 .3 .5 .4 .6 .1 .2 .2 .1 .3 .2 .4 .1 .1 .1 .2 0 .4 .1 .3 .1 .1 0 .2 .4 .4 .7 .3 .6 .1 .1 .3-.1 .3-.2 .3-.1 .1-.1 .3 0 .3 0 .4 0 0 0 .3-.1 .3-.2 .4-.2 0-.1 .3 0 .4-.1 .3-.1 .3 .1 .4 .1 .3 0 0 0 .4-.3 .3-.4 .3-.3 0 0 .4 .2 .3 .1 .3 .1 .1 0 .3-.1 .3-.1 .3 0 .1-.1 .3-.2 .4-.1 .2-.2 .1 0 .3 .1 .4 .1 .2 .1 .1 .1 .4 .6 .3 .5 .2 .3 .1 .1 .4 .2 .3 .3 .2 .1 .2 .1 .3 .4 .3 .4 .2 .2 .2 0 .3 .1 .4 .1 .1 0 .2 0 .3 0 .4-.1 .1 0 .2 .2 .4 .2 .3 .3 .1 0 .2 .3 .4 .3 .3 .3 .1 .1 .3 .1 .3 .2 .3 .1 .1 .1 .3-.4 .3-.5 .4-.5 0-.1 .3-.1 .3 0 .4-.1 0 0 .3-.4 .4-.5 .3-.4 .3-.4 .4-.4 .3-.3 0 0 .4 .1 .3 .2 .3 .2 0 0 .4-.3 .3-.3 .3-.2 .1-.1 .3-.1 .3-.1 .3 0 .1 0 .3 0 .4 .1 .2 0 .1 0 .3-.1 .4-.1 .2-.1 .1 0 .4-.3 .3-.2 .2-.1 .1 .1 .4 .3 .3 .3 .2 .2 .2-.1 .3-.2 .3-.2 .2-.1 .2-.1 .3-.1 .4-.1 .1-.1 .2 .1 .3 .1 .4 0 .1 .1 .2-.1 .4 0 .3 0 .1-.1 .2-.2 .4-.3 .3-.4 .1 0 .3 .1 .3 .1 .3 .1 .1 .1 .3 0 .3 0 .4 0 0 0 .3 .3 .3 .4 .4 .3 0 .1 .3 0 .4 .1 .3 0 .3 .5 .4 .5 .3 .4 0 0 .4-.5 .3-.4 .3-.5 0 0 .4 .2 .3 .2 .3 .2 .1 .1 .3 .2 .3 .2 .3 .2 .1 .1 .3 .1 .4 .2 .2 .1 .1 .1 .3 .3 .4 .3 .2 .2 .1-.1 .4-.3 .3-.3 .2-.2 .1-.1 .4-.2 .3-.3 .2-.1 .2-.1 .3 0 .3-.1 .2 0 .2-.1 .3-.1 .4-.1 .1-.1 .2 .2 .3 .3 .4 .3 .1 .1 .2-.2 .4-.2 .3-.2 .1-.1 .2-.1 .4-.1 .3-.2 .1 0 .3-.3 .3-.4 .3-.4 .1-.1 .3 .4 .3 .4 .4 .5 0 0 .3 .1 .3 .2 .4 .1 0 0 .3 .5 .4 .4 .3 .4 .3 .4 .4 .4 .3 .3 0 0 .4-.2 .3-.1 .3-.2 0 0 .4-.3 .3-.3 .3-.3 .1 0 .3-.1 .3-.1 .3-.1 .1-.1 .3-.2 .4-.2 .2-.2 .1 0 .3 .1 .4 .1 .2 0 .1-.1 .4-.5 .3-.5 .2-.3 .1 .1 .4 .5 .3 .5 .2 .2 .2 0 .3-.1 .3 0 .2 0 .2-.1 .3 0 .4 0 .1-.1 .2 .2 .3 .2 .4 .2 .1 .1 .2-.1 .4-.1 .3-.1 .1 0 .2 0 .4-.1 .3 0 .1 0 .3 .2 .3 .4 .3 .3 .1 0 .3 .2 .3 .2 .4 .2 0 0 .3 .4 .3 .4 .4 .4 0 0 .3-.4 .4-.4 .3-.5 .3-.1 .4-.1 .3-.2 0 0 .4-.2 .3-.2 .3-.2 0 0 .4 .3 .3 .2 .3 .1 .1 .1 .3 0 .3 .1 .3 0 .1 .1 .3 .2 .4 .1 .2 .2 .1-.1 .3-.1 .6-.2 1 .3 1-1 1 .9 1-1 1-.7 1 1.6 1-.7 1-.3 1 .1 1-.2 1 1.4 1-.8 1 1.5 1-.7 1-1.1 1 1 1 .3 1-1.2 1 .5 1-.8 1-.2 1-.3 1 2.7 1 0 1 .8 1-.7 1 .1 1 .9 1-1 1-.3 1-.6 1 .7 1 .4 1-.3 1 .4 1-.2 1 1.5 1-.8 1 .5 1 1.1 1-1.2 1-1.5 1-.8 1-.4 1 .9 1-.3' fill='none' stroke='#dedede' stroke-width='2.2' stroke-linejoin='round'/><path d='M505.5 106.3l1-1.5 1-1.4 1 .3 1 1.4 1 .9 1-2.3 1 .5 1-.4 1-.2 1 .9 1-.7 1-.4 1 2.7 1-2.5 1 .7 1 1 1-2.1 1 .2 1 .8 1-2.3 1 2.1 1 .4 1-.3 1-1.2 1-.3 1-1.5 1 2.1 1-.2 1 1 1-1.2 .1-.2 .3-.4 .4-.5 .2-.3 .1-.1 .4-.2 .3-.3 .2-.1 .1 0 .4 0 .3 .1 .2 0 .2 0 .3 .1 .3 0 .2 0 .2 .2 .3 .3 .4 .3 .1 .1 .2-.1 .3-.3 .4-.3 .1-.1 .2 0 .4-.1 .3-.1 .1 0 .2-.1 .4-.1 .3-.2 .1 0 .3 0 .3-.1 .3 0 .1 0 .3-.3 .3-.3 .4-.4 0 0 .3-.6 .3-.7 .4-.7 0 0 .3 .1 .4 .1 .3 .1 .3 .4 .4 .3 .3 .3 0 0 .4 .2 .3 .2 .3 .2 0 0 .4-.2 .3-.3 .3-.2 .1 0 .3-.4 .3-.4 .3-.3 .1 0 .3 .4 .4 .4 .2 .2 .1-.2 .3-1 .4-.9 .2-.6 .1 .1 .4 .6 .3 .5 .2 .3 .1-.3 .4-.7 .3-.6 .2-.4 .2-.1 .3-.1 .3-.2 .2 0 .2 .4 .3 .8 .4 .8 .1 .4 .2-.6 .3-1 .4-1 .1-.4 .2 0 .4-.1 .3-.1 .1-.1 .2 0 .4-.1 .3-.1 .1-.1 .3 .1 .3 0 .3 .1 .1 0 .3-.4 .3-.4 .4-.5 0-.1 .3-1.1 .3-1.2 .4-1.3 0 0 .3 .3 .4 .3 .3 .3 .3-.5 .4-.5 .3-.4 0 0 .4 .4 .3 .5 .3 .4 0-.1 .4-.8 .3-.9 .3-.7 .1-.2 .3-1 .3-1.1 .3-.8 .1-.2 .3-.6 .4-.6 .2-.5 .1-.1 .3-.4 .4-.5 .2-.3 .1-.4 .4-1.1 .3-1.2 .2-.7 .1-.2 .4-.4 .3-.5 .2-.3 .2-.3 .3-.7 .3-.7 .2-.4 .2-.6 .3-1.1 .4-1.2 .1-.5 .2-.5 .3-.8 .4-.9 .1-.3 .2-.7 .4-1.2 .3-1.2 .1-.3 .2-.7 .4-.9 .3-.9 .1-.2 .3-.4 .3-.4 .3-.5 .1-.1 .3-1.3 .3-1.5 .4-1.5 0-.2 .3-1.1 .3-1.2 .4-1.2 0-.1 .3-1 .4-1 .3-1 .3-.7 .4-.7 .3-.7 0 0 .4-.8 .3-.7 .3-.6 0-.1 .4-.8 .3-.8 .3-.5 .1-.1 .3-.3 .3-.2 .3 0 .1-.2 .3-.6 .4-.5 .2-.3 .1-.1 .3-.4 .4-.3 .2-.2 .1 .4 .4 1 .3 1.2 .2 .7 .1 .1 .4 .4 .3 .5 .2 .3 .2 .2 .3 .6 .3 .7 .2 .3 .2 .5 .3 1 .4 1.1 .1 .5 .2 0 .3 .1 .4 .2 .1 .1 .2 .8 .4 1.4 .3 1.4 .1 .4 .2 .7 .4 1 .3 1 .1 .2 .3 1.2 .3 1.6 .3 1.7 .1 .2 .3 .4 .3 .4 .4 .4 0 .1 .3 1.1 .3 1.3 .4 1.3 0 0 .3 1.6 .4 1.6 .3 1.6 .3 .7 .4 .6 .3 .6 0 .1 .4 .5 .3 .6 .3 .5 0 .1 .4 1.4 .3 1.5 .3 1.1 .1 0 .3-.2 .3-.3 .3-.2 .1 .3 .3 1.1 .4 1.1 .2 .8 .1 .2 .3 .5 .4 .5 .2 .2 .1 .3 .4 .8 .3 .8 .2 .5 .1 .2 .4 .3 .3 .4 .2 .1 .2 .2 .3 .3 .3 .3 .2 .1 .2 .4 .3 .7 .4 .8 .1 .3 .2-.1 .3-.1 .4-.1 .1-.1 .2 .9 .4 1.3 .3 1.3 .1 .4 .2-.2 .4-.1 .3-.2 .1-.1 .3 .6 .3 .6 .3 .7 .1 .1 .3-.2 .3-.2 .4-.3 0 0 .3 .2 .3 .2 .4 .2 0 0 .3 .9 .4 1 .3 1 .3 .2 .4 .2 .3 .1 0 0 .4-.8 .3-.8 .3-.8 0 .1 .4 1 .3 1 .3 .8 .1 .1 .3 .3 .3 .3 .3 .2 .1-.1 .3-.6 .4-.5 .2-.4 .1 .2 .3 .4 .4 .5 .2 .2 .1 .3 .4 .8 .3 .7 .2 .5 .1-.2 .4-.3 .3-.4 .2-.2 .2 .2 .3 .4 .3 .4 .2 .1 .2 .5 .3 .8 .4 .8 .1 .3 .2-.4 .3-.6 .4-.6 .1-.2 .2 .1 .4 .3 .3 .3 .1 .1 .2-.3 .4-.5 .3-.5 .1-.1 .3 .3 .3 .3 .3 .3 .1 0 .3-.1 .3-.2 .4-.1 0 0 .3 1.3 .3 1.5 .4 1.6 0 .1 .3-.2 .4-.1 .3-.1 .3-.9 .4-1 .3-.8 0 0 .4 1.5 .3 1.4 .3 1.3 0-.1 .4-.5 .3-.6 .3-.4 .1 0 .3-.3 .3-.2 .3-.2 .1 .1 .3 .3 .4 .4 .2 .2 .1 0 .3 .1 .6 .1 1-1.1 1-.9 1 1.5 1 .9 1-.7 1 .5 1 2.2 1-2.5 1 2.4 1-1.3 1 .5 1-1.3 1 1.4 1-1.1 1-.1 1 1 1-.1 1 1.7 1-.4 1-2 1 .6 1-1.9 1 2.5 1 2.6 1 .1 1-.4 1-.1 1 .2 1 .5 1-2.6 1 .9 1 2.1 1 .3 1-.8 1-.7 1-.1 1-.4 1-.2 1-.8 1 1.9 1-1 1 1.2 1 1.7 1-1.4 1-.9 1 1.5' fill='none' stroke='#140814' stroke-width='1.9' stroke-linejoin='round'/><path d='M505.5 101.3l1 0 1-.1 1 0 1-.1 1 0 1 0 1-.1 1 0 1-.1 1 0 1-.1 1 0 1-.1 1-.1 1 0 1-.1 1-.1 1 0 1-.1 1-.1 1-.1 1-.1 1-.1 1 0 1-.1 1-.2 1-.1 1-.1 1-.1 1-.1 .1 0 .3-.1 .4 0 .2-.1 .1 0 .4 0 .3-.1 .2 0 .1 0 .4-.1 .3 0 .2-.1 .2 0 .3 0 .3-.1 .2 0 .2-.1 .3 0 .4-.1 .1 0 .2 0 .3-.1 .4-.1 .1 0 .2 0 .4-.1 .3-.1 .1 0 .2 0 .4-.1 .3-.1 .1 0 .3 0 .3-.1 .3-.1 .1 0 .3-.1 .3 0 .4-.1 0 0 .3-.1 .3-.1 .4-.1 0 0 .3-.1 .4-.1 .3 0 .3-.1 .4-.1 .3-.1 0 0 .4-.1 .3-.1 .3-.1 0 0 .4-.2 .3-.1 .3-.1 .1 0 .3-.1 .3-.1 .3-.1 .1 0 .3-.2 .4-.1 .2-.1 .1 0 .3-.2 .4-.1 .2-.1 .1 0 .4-.2 .3-.1 .2-.1 .1-.1 .4-.1 .3-.2 .2-.1 .2-.1 .3-.1 .3-.2 .2-.1 .2-.1 .3-.2 .4-.2 .1 0 .2-.2 .3-.2 .4-.2 .1 0 .2-.2 .4-.2 .3-.2 .1-.1 .2-.1 .4-.3 .3-.2 .1-.1 .3-.2 .3-.2 .3-.3 .1 0 .3-.3 .3-.2 .4-.3 0-.1 .3-.2 .3-.3 .4-.4 0 0 .3-.3 .4-.3 .3-.4 .3-.3 .4-.4 .3-.3 0-.1 .4-.4 .3-.4 .3-.3 0-.1 .4-.4 .3-.5 .3-.3 .1-.1 .3-.5 .3-.5 .3-.4 .1-.1 .3-.5 .4-.5 .2-.4 .1-.2 .3-.6 .4-.6 .2-.3 .1-.3 .4-.6 .3-.6 .2-.4 .1-.3 .4-.7 .3-.7 .2-.4 .2-.3 .3-.8 .3-.7 .2-.4 .2-.4 .3-.8 .4-.9 .1-.3 .2-.5 .3-.9 .4-.9 .1-.3 .2-.6 .4-1 .3-.9 .1-.3 .2-.7 .4-1 .3-1 .1-.3 .3-.8 .3-1 .3-1.1 .1-.1 .3-.9 .3-1.1 .4-1.1 0-.1 .3-.9 .3-1.1 .4-1 0-.1 .3-1 .4-1 .3-1 .3-1 .4-1 .3-.8 0-.1 .4-.8 .3-.9 .3-.6 0-.1 .4-.7 .3-.7 .3-.5 .1-.1 .3-.5 .3-.4 .3-.3 .1 0 .3-.3 .4-.2 .2-.1 .1 0 .3 0 .4 .1 .2 .1 .1 .1 .4 .2 .3 .3 .2 .3 .1 .2 .4 .4 .3 .6 .2 .3 .2 .3 .3 .7 .3 .8 .2 .4 .2 .4 .3 .9 .4 .9 .1 .4 .2 .5 .3 1 .4 1 .1 .4 .2 .6 .4 1.1 .3 1 .1 .3 .2 .8 .4 1.1 .3 1 .1 .3 .3 .8 .3 1.1 .3 1 .1 .2 .3 .9 .3 1 .4 1 0 .1 .3 .9 .3 1 .4 .9 0 .1 .3 .9 .4 .9 .3 .9 .3 .9 .4 .9 .3 .8 0 0 .4 .8 .3 .8 .3 .7 0 .1 .4 .7 .3 .8 .3 .6 .1 .1 .3 .7 .3 .6 .3 .5 .1 .2 .3 .6 .4 .6 .2 .5 .1 .1 .3 .6 .4 .6 .2 .3 .1 .2 .4 .5 .3 .5 .2 .3 .1 .2 .4 .5 .3 .5 .2 .2 .2 .2 .3 .4 .3 .5 .2 .2 .2 .2 .3 .4 .4 .3 .1 .2 .2 .2 .3 .4 .4 .3 .1 .1 .2 .3 .4 .3 .3 .3 .1 .1 .2 .2 .4 .3 .3 .3 .1 .1 .3 .2 .3 .3 .3 .2 .1 .1 .3 .2 .3 .2 .4 .3 0 0 .3 .2 .3 .3 .4 .2 0 0 .3 .2 .4 .2 .3 .2 .3 .2 .4 .2 .3 .2 0 0 .4 .2 .3 .2 .3 .1 0 0 .4 .2 .3 .2 .3 .1 .1 0 .3 .2 .3 .1 .3 .2 .1 0 .3 .1 .4 .2 .2 .1 .1 0 .3 .2 .4 .1 .2 .1 .1 0 .4 .1 .3 .2 .2 0 .1 .1 .4 .1 .3 .1 .2 .1 .2 0 .3 .1 .3 .1 .2 .1 .2 0 .3 .1 .4 .1 .1 .1 .2 0 .3 .1 .4 .1 .1 .1 .2 0 .4 .1 .3 .1 .1 0 .2 .1 .4 .1 .3 0 .1 .1 .3 0 .3 .1 .3 .1 .1 0 .3 0 .3 .1 .4 .1 0 0 .3 .1 .3 0 .4 .1 0 0 .3 .1 .4 0 .3 .1 .3 .1 .4 0 .3 .1 0 0 .4 0 .3 .1 .3 0 0 0 .4 .1 .3 .1 .3 0 .1 0 .3 .1 .3 0 .3 0 .1 .1 .3 0 .4 .1 .2 0 .1 0 .3 0 .6 .1 1 .1 1 .2 1 .1 1 .1 1 .1 1 .1 1 .1 1 .1 1 .1 1 0 1 .1 1 .1 1 .1 1 0 1 .1 1 .1 1 0 1 .1 1 0 1 .1 1 0 1 .1 1 0 1 .1 1 0 1 .1 1 0 1 0 1 .1 1 0 1 0 1 .1 1 0 1 0 1 .1 1 0 1 0 1 .1 1 0 1 0 1 0 1 .1 1 0 1 0 1 0 1 .1' fill='none' stroke='#3b6ee6' stroke-width='1.8'/><path d='M405.5 169l1-.3 1 .3 1 .4 1-.5 1 .7 1-.5 1-.2 1-.2 1 .3 1-.3 1 .4 1-.1 1 .1 1-.5 1 .1 1 0 1 .2 1-.4 1 .3 1-.3 1 .3 1 .3 1 .1 1-.3 1-.1 1-.2 1-.3 1-.1 1-.1 1 .5 1 .2 1-.2 1 .1 1 .4 1 0 1-.1 1-.2 1-.1 1 .2 1-.7 1 .3 1-.6 1 0 1 .3 1-.3 1 0 1-.2 1-.3 1-.4 .5-.3 .2-.3 .3-.5 .3-.1 .2-.5 .2-.3 .3-.4 .3-.9 .2-.3 .2-1.2 .3-.6 .3-.5 .2-.7 .2-1.1 .3-1.6 .3-2.1 .2-2.9 .2-3.8 .3-5 .3-5.9 .2-7.3 .2-8.7 .3-9.4 .3-7.3 .2-3.2 .2 3.1 .3 7.4 .3 9.3 .2 8.8 .2 7.6 .3 6.1 .3 4.8 .2 3.3 .2 2.4 .3 1.8 .3 1.9 .2 1.3 .2 1.1 .3 1.1 .3 .3 .2 .9 .2 .6 .3 .5 .3 .3 .2 .8 .2 .4 .3-.1 .3 .5 .2 .4 1 .9 1 .1 1 .2 1 .3 1 .4 1-.4 1 0 1 .4 1-.5 1-.1 1 .4 1 .1 1-.1 1 .6 1 0 1 0 1-.3 1 .1 1 0 1 .3 1-.1 1 .1 1-.1 1-.1 1 .5 1 .3 1-.2' fill='none' stroke='#111' stroke-width='1.3' stroke-linejoin='round'/><path d='M496.2 169.2h3.2M501.7 169.8h3.4' stroke='#222' stroke-width='1.2'/><path d='M505.5 171.4l1-.6 1 .4 1 1.1 1 .5 1-.6 1 .6 1 .5 1-.4 1-.1 1 .2 1 .1 1-1.4 1-1.3 1 0 1 .8 1 .7 1 .5 1 1.9 1-.8 1 .2 1-1.2 1 .2 1-.9 1-.8 1 .7 1 1.4 1-.4 1-.1 1 .2 1-1.7 1-.4 1-.6 1 .3 1 .4 1 .5 1 .4 1 .4 1 1.5 1-.9 1 .6 1 .5 1-.8 1-.1 1-.2 1-1.3 1 0 1-.2 1-1.3 1-.2 1 1.5 1-.4 1 .6 1-.5 .4 .1 .3 0 .3 .1 .1 0 .3 .1 .4 0 .2 .1 .1 0 .3-.2 .4-.1 .2 0 .1-.1 .4-.2 .3-.2 .2-.1 .1 0 .4-.1 .3 0 .2 0 .2 0 .3-.1 .3 0 .2 0 .2 .1 .3 .3 .4 .2 .1 .1 .2 .3 .3 .4 .4 .4 .1 .1 .2 .2 .4 .2 .3 .3 .1 .1 .2 0 .4-.1 .3-.1 .1 0 .3 0 .3 0 .3 0 .1 0 .3-.2 .3-.3 .4-.3 0-.1 .3-.2 .3-.3 .4-.3 0 0 .3-.3 .4-.4 .3-.3 .3 .1 .4 .2 .3 .1 0 0 .4-.5 .3-.4 .3-.4 0 0 .4 .6 .3 .5 .3 .4 .1 0 .3-.1 .3-.1 .3-.1 .1 .2 .3 .5 .4 .4 .2 .4 .1 .1 .3 .2 .4 .2 .2 .2 .1 0 .4 .2 .3 .2 .2 .1 .1 0 .4-.2 .3-.1 .2-.1 .2-.3 .3-.7 .3-.7 .2-.4 .2-.2 .3-.4 .4-.4 .1-.1 .2-.1 .3-.2 .4-.2 .1 0 .2-.1 .4-.2 .3-.1 .1 0 .2 .3 .4 .4 .3 .4 .1 .1 .3 .1 .3 .2 .3 .2 .1 0 .3 .3 .3 .3 .4 .3 0 0 .3 .2 .3 .1 .4 .2 0 0 .3-.1 .4-.1 .3-.1 .3 .3 .4 .2 .3 .3 0 0 .4-.4 .3-.5 .3-.3 0 0 .4 .4 .3 .4 .3 .4 .1 0 .3 .1 .3 .1 .3 0 .1 0 .3-.3 .4-.2 .2-.2 .1-.1 .3 0 .4-.1 .2-.1 .1 .1 .4 .2 .3 .2 .2 .1 .1-.1 .4-.2 .3-.2 .2-.1 .2-.1 .3-.1 .3-.2 .2-.1 1 .8 1 1.5 1-.8 1 .9 1-.5 1-1.2 1 .3 1-.4 1 .6 1-.1 1 .5 1-1.3 1 .1 1-.1 1 .4 1-1.1 1 0 1 .1 1 .1 1 .3 1 .6 1 1.6 1 .2 1 .8 1 .1 1 1.2 1 .3 1 0 1-.8 1-.5 1-.5 1-1.9 1-1.3 1 1 1-.3 1-.7 1-.2 1 1.6 1-1.3 1-.1 1 .8 1 .9 1-.2 1 .2 1 .4 1-.1 1 .7 1 .2 1-.5 1 .5 1-.4 1 1.2 1-.8 1-.1 1-1.7 1-.4 1-1.2 1 .8 1-1.1 1 .3 1-.7 1 .9 1 1.2 1-.2 1 1.3 1-.8 1-.1 1-.5 1-.8 1 .3 1-.2 1 1.1 1 .6 1-1.1 1-.8 1-.6 1 .4 1 .5 1-.4 1-.5 1 1.4 1 .8 1 1.3 1 .6 1 .7 1-2.1' fill='none' stroke='#dedede' stroke-width='2.2' stroke-linejoin='round'/><path d='M505.5 171.1l1-1.5 1 1 1-1.2 1 .9 1-2.1 1 2.5 1-2.3 1-.5 1 2.4 1-.9 1 .7 1-.1 1-.1 1-1 1 .9 1 0 1 .1 1 1.3 1-2 1 .7 1 .5 1-1 1-1 1 .7 1 1.2 1-.9 1 .6 1-1 1 .7 1-.5 1-.4 1 1.3 1-.3 1 1 1-2.5 1 1.5 1 .5 1-.1 1-1.8 1 .2 1-.1 1 .7 1-.8 1-.1 1 0 1-1.5 1-.3 1-.5 1-.3 1 .8 1 .1 1 1.2 1-1.7 .4-.2 .3-.2 .3-.1 .1 0 .3 .3 .4 .3 .2 .1 .1-.2 .3-.7 .4-.7 .2-.5 .1 0 .4 .2 .3 .1 .2 .1 .1 0 .4-.1 .3 0 .2-.1 .2-.1 .3-.4 .3-.3 .2-.2 .2-.3 .3-.5 .4-.5 .1-.2 .2-.4 .3-.6 .4-.6 .1-.2 .2-.5 .4-.8 .3-.9 .1-.2 .2-.2 .4-.3 .3-.4 .1-.1 .3-.5 .3-.8 .3-.9 .1-.2 .3-.6 .3-.8 .4-.8 0-.1 .3-1.1 .3-1.2 .4-1.4 0-.1 .3-1.2 .4-1.3 .3-1.6 .3-2.3 .4-2.5 .3-2.5 0-.1 .4-1.6 .3-1.9 .3-1.7 0-.4 .4-3.2 .3-3.3 .3-2.7 .1-.6 .3-3 .3-3.1 .3-2.3 .1-.6 .3-2.6 .4-2.4 .2-1.4 .1-.5 .3-1.5 .4-.9 .2-.3 .1 0 .4 .4 .3 1.1 .2 .9 .1 .6 .4 1.7 .3 2.2 .2 1.3 .2 1.2 .3 2.6 .3 2.8 .2 1.3 .2 1.7 .3 3.1 .4 3 .1 1.2 .2 1.6 .3 2.6 .4 2.5 .1 .8 .2 1.3 .4 1.9 .3 1.8 .1 .4 .2 1.4 .4 1.8 .3 1.6 .1 .4 .3 .9 .3 1.1 .3 .9 .1 .2 .3 1.1 .3 1.3 .4 1.1 0 .2 .3 .4 .3 .3 .4 .3 0 0 .3 1.3 .4 1.3 .3 1.3 .3 .4 .4 .3 .3 .3 0 .1 .4 .5 .3 .4 .3 .4 0 0 .4 .5 .3 .5 .3 .3 .1 .2 .3 .7 .3 .8 .3 .6 .1 0 .3 .2 .4 .2 .2 .1 .1 .1 .3 .3 .4 .3 .2 .1 .1 .2 .4 .4 .3 .4 .2 .2 .1 .1 .4 .2 .3 .2 .2 .1 .2 .1 .3 0 .3 0 .2 0 1-.4 1-.3 1 .7 1 .4 1 .6 1-.1 1 1.3 1-.8 1 1.2 1-.6 1-.4 1 1.2 1-2.7 1 2.8 1-.3 1 .2 1-2.1 1 3.6 1-2.4 1 .5 1 1.4 1-1.3 1-.3 1 .9 1-1.1 1 1.8 1-.7 1 .4 1-1.6 1 1.9 1-.2 1 .7 1-1.7 1 1.5 1-1.1 1 .5 1-1.4 1 .7 1 .1 1-1.1 1-.2 1 .1 1 2.2 1-.9 1 .8 1-.6 1 0 1 0 1-.4 1 1 1-.9 1-.1 1-1.2 1 1.4 1-.5 1 .3 1 1.1 1-.8 1 .4 1 .1 1 .5 1-1.3 1 .9 1 .1 1-1.5 1-.5 1 0 1 2.1 1-.3 1-1.2 1 .6 1 0 1-.2 1 0 1 1.9 1-2.2 1 .8 1-.4 1 .2 1-.3 1 .6 1 .1 1 .3 1 .1 1-1.5 1 1.8' fill='none' stroke='#140814' stroke-width='1.9' stroke-linejoin='round'/><path d='M505.5 168.9l1 0 1 0 1 0 1 0 1 0 1-.1 1 0 1 0 1 0 1 0 1 0 1 0 1 0 1-.1 1 0 1 0 1 0 1 0 1-.1 1 0 1 0 1 0 1 0 1-.1 1 0 1 0 1-.1 1 0 1 0 1-.1 1 0 1 0 1-.1 1 0 1-.1 1-.1 1 0 1-.1 1-.1 1 0 1-.1 1-.1 1-.1 1-.2 1-.1 1-.1 1-.2 1-.2 1-.2 1-.2 1-.3 1-.2 1-.4 .4-.1 .3-.1 .3-.2 .1 0 .3-.1 .4-.2 .2-.1 .1 0 .3-.2 .4-.2 .2-.1 .1-.1 .4-.2 .3-.2 .2-.1 .1-.1 .4-.2 .3-.3 .2-.1 .2-.1 .3-.3 .3-.3 .2-.1 .2-.2 .3-.3 .4-.4 .1-.1 .2-.2 .3-.4 .4-.5 .1-.1 .2-.3 .4-.5 .3-.5 .1-.2 .2-.4 .4-.6 .3-.6 .1-.2 .3-.5 .3-.8 .3-.8 .1-.2 .3-.7 .3-.9 .4-1.1 0-.1 .3-1 .3-1.2 .4-1.3 0-.1 .3-1.3 .4-1.6 .3-1.6 .3-1.8 .4-2 .3-2 0-.1 .4-2.2 .3-2.5 .3-2.2 0-.3 .4-2.7 .3-2.9 .3-2.4 .1-.5 .3-3 .3-2.9 .3-2.2 .1-.7 .3-2.7 .4-2.4 .2-1.5 .1-.6 .3-1.6 .4-1 .2-.4 .1-.1 .4 .2 .3 .8 .2 .7 .1 .6 .4 1.9 .3 2.2 .2 1.4 .2 1.2 .3 2.8 .3 2.9 .2 1.4 .2 1.6 .3 3 .4 2.8 .1 1.2 .2 1.6 .3 2.6 .4 2.5 .1 .9 .2 1.5 .4 2.1 .3 2.1 .1 .5 .2 1.3 .4 1.8 .3 1.6 .1 .3 .3 1.2 .3 1.3 .3 1.3 .1 .2 .3 .9 .3 1.1 .4 1 0 .1 .3 .8 .3 .8 .4 .8 0 .1 .3 .6 .4 .7 .3 .6 .3 .6 .4 .6 .3 .4 0 .1 .4 .4 .3 .5 .3 .3 0 .1 .4 .4 .3 .3 .3 .3 .1 .1 .3 .3 .3 .3 .3 .2 .1 .1 .3 .2 .4 .3 .2 .1 .1 .1 .3 .2 .4 .2 .2 .2 .1 0 .4 .2 .3 .2 .2 .1 .1 .1 .4 .2 .3 .1 .2 .1 .2 .1 .3 .1 .3 .1 .2 .1 1 .3 1 .3 1 .3 1 .2 1 .2 1 .2 1 .2 1 .2 1 .1 1 .1 1 .1 1 .1 1 .1 1 .1 1 .1 1 .1 1 0 1 .1 1 0 1 .1 1 0 1 .1 1 0 1 .1 1 0 1 0 1 .1 1 0 1 0 1 0 1 .1 1 0 1 0 1 0 1 .1 1 0 1 0 1 0 1 0 1 0 1 .1 1 0 1 0 1 0 1 0 1 0 1 0 1 0 1 .1 1 0 1 0 1 0 1 0 1 0 1 0 1 0 1 0 1 0 1 0 1 0 1 .1 1 0 1 0 1 0 1 0 1 0 1 0 1 0 1 0 1 0 1 0 1 0 1 0 1 0 1 0 1 0 1 0 1 0 1 0 1 0 1 0 1 0 1 0 1 0 1 .1 1 0' fill='none' stroke='#3b6ee6' stroke-width='1.8'/><path d='M405.5 234.2l1 .3 1-.4 1-.1 1-.2 1 .1 1 .1 1-.1 1-.2 1-.3 1 .3 1 .2 1 0 1 .3 1-.1 1-.2 1 0 1 0 1 .2 1-.3 1 .1 1-.2 1-.1 1 .4 1 .1 1 .4 1 .1 1-.1 1-.4 1 .1 1-.6 1 .2 1-.2 1 .4 1 0 1 .2 1 .1 1 .1 1-.3 1 .3 1-.6 1 .5 1-.2 1 .4 1-.7 1-.1 1-.5 1 0 1-.5 1-.4 .5-.5 .2-.6 .3 .1 .3-.5 .2 .2 .2-.1 .3-.2 .3-.5 .2-.7 .2-.8 .3-.3 .3-1.1 .2-1.1 .2-1.5 .3-1.5 .3-2.1 .2-2.8 .2-3.4 .3-4.2 .3-5.6 .2-6.7 .2-8.4 .3-8.5 .3-7.1 .2-2.7 .2 2.8 .3 6.9 .3 8.5 .2 8.3 .2 7 .3 5.6 .3 3.8 .2 3.5 .2 2.8 .3 2.3 .3 1.9 .2 1.7 .2 .9 .3 1.1 .3 .1 .2 .6 .2 .5 .3 .6 .3 .4 .2 .3 .2 .3 .3 0 .3 .3 .2 .3 1 .3 1 .4 1 .5 1 .7 1 0 1-.5 1-.1 1 .1 1 .1 1-.5 1 .1 1-.1 1 .2 1 .1 1 .2 1 .3 1-.3 1 .9 1-.6 1-.2 1-.1 1 .3 1 .4 1-.1 1-.6 1-.5 1 .2' fill='none' stroke='#111' stroke-width='1.3' stroke-linejoin='round'/><path d='M496.2 234.5h3.2M501.7 235.2h3.4' stroke='#222' stroke-width='1.2'/><path d='M505.5 233.8l1-.5 1 .9 1 .4 1 1 1-.5 1 .8 1-.4 1-.2 1-.1 1 .2 1 .2 1 1.7 1-1 1 1.3 1-.4 1-.4 1-.2 1-.1 1 .2 1-.4 1-.3 1-.6 1 0 1 2.1 1-1.2 1 0 1 1.8 1-.9 1 1.1 1-.1 1-.6 1 .4 1-1.1 1 0 1 .4 1-.1 1-.3 1-.1 1-.9 1-1 1 1.2 1-.2 1 .8 1 1 1-.7 1 .6 1-.4 1 1.1 1-.3 1-.1 1 .3 .7-.7 .3-.2 0 0 .4 .4 .3 .4 .3 .3 .1 .1 .3 .1 .3 .1 .3 .1 .1 .1 .3 .2 .4 .3 .2 .2 .1-.2 .3-.7 .4-.7 .2-.4 .1 0 .4 .1 .3 0 .2 .1 .1 0 .4 .2 .3 .1 .2 .1 .2-.3 .3-.6 .3-.6 .2-.3 .2 0 .3-.1 .4 0 .1 0 .2 .3 .3 .4 .4 .5 .1 .2 .2 .1 .4 .3 .3 .3 .1 0 .2-.2 .4-.2 .3-.3 .1 0 .3-.1 .3 0 .3 0 .1 0 .3 0 .3 .1 .4 .1 0 0 .3 .1 .3 .1 .4 .1 0 0 .3-.1 .4 0 .3 0 .3 .1 .4 0 .3 .1 0 0 .4 .1 .3 .1 .3 .1 0 0 .4-.3 .3-.2 .3-.2 .1-.1 .3-.2 .3-.3 .3-.2 .1-.2 .3-.4 .4-.5 .2-.3 .1-.1 .3-.4 .4-.4 .2-.3 .1 .2 .4 .5 .3 .4 .2 .3 .1 .1 .4 .3 .3 .2 .2 .2 .2 .1 .3 .3 .3 .3 .2 .1 .2 .1 .3 .4 .4 .3 .1 .1 .2 .1 .3 .2 .4 .1 .1 .1 .2-.1 .4 0 .3-.1 .1 0 .2-.1 .4 0 .3-.1 .1 0 .3 .1 .3 .1 .3 .1 .1 0 .3-.1 .3-.1 .4-.1 0 0 .3-.4 .3-.4 .4-.5 0 0 .3-.1 .4-.2 .3-.1 1-.8 1 .5 1 .4 1 .3 1-.4 1-.2 1-.3 1 .5 1-.8 1 .3 1-.3 1-.6 1 .6 1 0 1 .6 1-.1 1 .9 1 .9 1-.6 1 .1 1-1 1 0 1-.8 1 .8 1-.6 1 .1 1-1.7 1 0 1 0 1-.1 1-1.4 1 .6 1 1.8 1-.4 1-.1 1-1.4 1 .9 1 .9 1 .1 1 .5 1 .4 1-.6 1 .1 1-1.3 1 2.4 1-1 1 0 1 1.1 1-.4 1 .5 1 0 1 1.5 1 .8 1-1.3 1-.6 1-1.2 1-.8 1-.4 1 0 1 1.3 1 .3 1 .9 1-.2 1-.2 1-.4 1 .6 1-.5 1 .8 1-.4 1-.4 1-.6 1 .8 1 1.6 1 .1 1 .9 1-1.3 1-.8 1 .1 1 .6 1-1.2 1 .4 1-1.5 1 .1 1-.5 1 .3 1 .1 1 1 1 .2 1-.5 1-1 1-.6 1-.3 1 .5 1 .8 1 2.3' fill='none' stroke='#dedede' stroke-width='2.2' stroke-linejoin='round'/><path d='M505.5 235.4l1 .9 1-1.6 1 1 1-.3 1-.5 1 1.2 1-1.8 1-.2 1 .8 1 .8 1-1.1 1 .1 1 .6 1 0 1-.6 1-.2 1 .3 1 .6 1-.6 1-.4 1 .4 1-.1 1 .9 1 0 1-1.1 1 .6 1 .4 1 .8 1-.9 1 1.2 1-1.8 1 .2 1 0 1-.3 1 .2 1 0 1 0 1-.7 1-.2 1-.6 1 .7 1 .4 1 .1 1-3.1 1 2.3 1 .3 1 .4 1-1.2 1 .3 1-1.5 1 0 .7-.1 .3-.1 0 0 .4-.5 .3-.6 .3-.4 .1 0 .3-.1 .3-.1 .3-.1 .1-.1 .3-.2 .4-.3 .2-.2 .1-.1 .3-.5 .4-.5 .2-.4 .1 0 .4-.1 .3-.2 .2-.1 .1-.4 .4-.9 .3-.9 .2-.5 .2-.2 .3-.3 .3-.3 .2-.2 .2-.5 .3-.9 .4-1 .1-.4 .2-.7 .3-1.2 .4-1.3 .1-.5 .2-1 .4-1.7 .3-1.8 .1-.5 .2-1.3 .4-2 .3-2.2 .1-.6 .3-2.1 .3-2.9 .3-3.1 .1-.6 .3-2.3 .3-2.9 .4-3.2 0-.4 .3-3.1 .3-3.6 .4-3.5 0-.2 .3-3 .4-2.7 .3-2 .3-1.7 .4-.7 .3 .1 0 .1 .4 1.4 .3 2.2 .3 2.5 0 .4 .4 3.6 .3 3.8 .3 3.3 .1 .6 .3 3.7 .3 3.6 .3 2.6 .1 .7 .3 2.9 .4 2.6 .2 1.7 .1 .9 .3 2.8 .4 2.6 .2 1.5 .1 .7 .4 1.7 .3 1.6 .2 .9 .1 .5 .4 1.1 .3 1.1 .2 .5 .2 .4 .3 .8 .3 .7 .2 .3 .2 .4 .3 .7 .4 .6 .1 .3 .2 .5 .3 1 .4 .8 .1 .3 .2 .6 .4 .8 .3 .9 .1 .2 .2-.1 .4-.2 .3-.1 .1-.1 .3 .5 .3 .7 .3 .6 .1 .1 .3 .3 .3 .3 .4 .3 0 0 .3-.2 .3-.3 .4-.2 0-.1 .3 .3 .4 .2 .3 .2 1 1.7 1 .3 1 .2 1-.6 1 1.2 1-.9 1 2.7 1-2.6 1-.4 1 1.7 1 1.1 1-1.5 1 .6 1-.8 1 .9 1-1.2 1 .3 1-.7 1 1.2 1 1 1-1.1 1 .4 1 1.3 1-1.8 1-.1 1 1.2 1-1.4 1 1.4 1 .6 1-1.6 1 .1 1 1.8 1-2 1 .3 1 .6 1-.5 1-.5 1 1.4 1-.7 1 .6 1 0 1-.7 1-.2 1 1.1 1-.9 1 .9 1-1.4 1 .3 1 .9 1-.3 1-.4 1 .6 1-.8 1 .8 1-1.5 1 1.5 1 .8 1-.4 1-.2 1-1.3 1 1.4 1-1 1 .5 1 .3 1-2.8 1 3.5 1-.4 1 .5 1-1.6 1 1.4 1-.2 1-1.6 1 .5 1 .9 1-.6 1 1.1 1-.9 1 1.4 1-2.3 1 .4 1 .2 1-.6 1 .4 1 .7 1-1.1 1 .9 1 .7 1-.1 1 1 1-.9 1-.6 1 1 1-.7 1 .9 1-1.4' fill='none' stroke='#140814' stroke-width='1.9' stroke-linejoin='round'/><path d='M505.5 234.4l1 0 1 0 1-.1 1 0 1 0 1 0 1 0 1 0 1 0 1 0 1 0 1 0 1-.1 1 0 1 0 1 0 1 0 1 0 1 0 1-.1 1 0 1 0 1 0 1-.1 1 0 1 0 1 0 1-.1 1 0 1 0 1-.1 1 0 1-.1 1 0 1-.1 1 0 1-.1 1-.1 1-.1 1-.1 1-.1 1-.1 1-.1 1-.1 1-.2 1-.2 1-.2 1-.2 1-.3 1-.3 1-.4 .7-.3 .3-.2 0 0 .4-.2 .3-.1 .3-.2 .1 0 .3-.2 .3-.3 .3-.1 .1-.1 .3-.2 .4-.3 .2-.2 .1-.1 .3-.3 .4-.3 .2-.3 .1-.1 .4-.4 .3-.4 .2-.3 .1-.2 .4-.4 .3-.6 .2-.3 .2-.3 .3-.6 .3-.7 .2-.3 .2-.4 .3-.9 .4-.9 .1-.4 .2-.5 .3-1.1 .4-1.2 .1-.5 .2-.9 .4-1.4 .3-1.7 .1-.5 .2-1.3 .4-1.9 .3-2.2 .1-.6 .3-1.8 .3-2.7 .3-2.9 .1-.5 .3-2.6 .3-3.3 .4-3.5 0-.5 .3-3.2 .3-3.6 .4-3.6 0-.2 .3-3.1 .4-2.9 .3-2.2 .3-1.5 .4-.5 .3 .4 0 0 .4 1.4 .3 2.1 .3 2.5 0 .3 .4 3.3 .3 3.5 .3 3 .1 .7 .3 3.6 .3 3.6 .3 2.6 .1 .7 .3 3.2 .4 2.9 .2 1.9 .1 .8 .3 2.4 .4 2.2 .2 1.3 .1 .7 .4 1.8 .3 1.7 .2 .9 .1 .6 .4 1.3 .3 1.2 .2 .6 .2 .5 .3 1 .3 .9 .2 .4 .2 .5 .3 .7 .4 .7 .1 .3 .2 .4 .3 .6 .4 .5 .1 .2 .2 .3 .4 .4 .3 .5 .1 .1 .2 .3 .4 .3 .3 .4 .1 0 .3 .3 .3 .3 .3 .2 .1 .1 .3 .2 .3 .2 .4 .2 0 .1 .3 .1 .3 .2 .4 .2 0 0 .3 .2 .4 .2 .3 .1 1 .4 1 .4 1 .3 1 .2 1 .2 1 .2 1 .2 1 .1 1 .2 1 .1 1 .1 1 .1 1 .1 1 .1 1 0 1 .1 1 .1 1 0 1 .1 1 0 1 0 1 .1 1 0 1 .1 1 0 1 0 1 0 1 .1 1 0 1 0 1 0 1 0 1 .1 1 0 1 0 1 0 1 0 1 0 1 .1 1 0 1 0 1 0 1 0 1 0 1 0 1 0 1 0 1 0 1 .1 1 0 1 0 1 0 1 0 1 0 1 0 1 0 1 0 1 0 1 0 1 0 1 0 1 0 1 0 1 0 1 0 1 0 1 0 1 .1 1 0 1 0 1 0 1 0 1 0 1 0 1 0 1 0 1 0 1 0 1 0 1 0 1 0 1 0 1 0 1 0 1 0 1 0 1 0 1 0 1 0 1 0 1 0 1 0 1 0 1 0 1 0' fill='none' stroke='#3b6ee6' stroke-width='1.8'/><path d='M405.5 319.5l1-.1 1 .3 1 .1 1 .3 1 0 1-.1 1 0 1 .2 1 .3 1 .2 1-.2 1-.1 1-.1 1 0 1-.2 1-.2 1 .3 1 0 1 0 1 .6 1-.5 1 .1 1-.3 1-.1 1 .1 1 0 1-.1 1 0 1 .1 1 .2 1 .1 1-.1 1-.2 1 .1 1 .2 1 .3 1-.2 1 .3 1-.1 1 0 1 .1 1 .4 1-.3 1-.2 1-.1 1 0 1-.3 1-.2 1-.8 .5-.5 .2-.2 .3-.5 .3-.1 .2 0 .2-.3 .3-.6 .3-.5 .2-.6 .2-.6 .3-.5 .3-.9 .2-1.2 .2-1.3 .3-1.4 .3-2.3 .2-3.1 .2-3.8 .3-4.5 .3-5.9 .2-7.2 .2-9 .3-9.3 .3-7.8 .2-3.3 .2 3.1 .3 7.5 .3 9.1 .2 9.1 .2 7.5 .3 6.1 .3 4.5 .2 3.9 .2 2.6 .3 1.8 .3 2.2 .2 1.2 .2 1 .3 1 .3 .6 .2 .9 .2 .5 .3 .8 .3 .3 .2 .2 .2 .7 .3-.1 .3 .4 .2 .1 1 .3 1 0 1 .5 1 .4 1 .6 1 .5 1 .2 1 .1 1-.2 1 0 1 .1 1 0 1-.4 1 .2 1 .4 1-.6 1 .1 1 .3 1 .7 1 .2 1 0 1-.3 1 .3 1 0 1 .1 1 0 1 0' fill='none' stroke='#111' stroke-width='1.3' stroke-linejoin='round'/><path d='M496.2 322.3h3.2M501.7 323.7h3.4' stroke='#222' stroke-width='1.2'/><path d='M505.5 324.1l1 1 1-.4 1-1.5 1 1.4 1 .1 1-.3 1 .1 1-.8 1 2.9 1 1.9 1 3.6 1-1.2 1-1.5 1-1.1 1-2.4 1-1.5 1-.2 1 .3 1 .3 1-1.7 1-.1 1 .3 1 1 1 .8 1 0 1 .6 1-1.3 1 0 1 .4 1 1.1 .2 .4 .3 .7 .4 .6 .1 .3 .2 .1 .4 .1 .3 .2 .1 0 .2-.1 .4-.1 .3-.2 .1 0 .3 0 .3 0 .3 0 .1 0 .3-.3 .3-.3 .4-.4 0 0 .3 .2 .3 .2 .4 .2 0 0 .3-.4 .4-.3 .3-.4 .3-.2 .4-.1 .3-.2 0 0 .4-.2 .3-.2 .3-.2 0 0 .4-.5 .3-.4 .3-.3 .1 0 .3 0 .3 .1 .3 0 .1 0 .2 .1 .1 .1 .2 0 .2 .1 .2 .1 0 0 .1 .1 .2 .1 .1 .1 .3 .1 .1 .1 .2 .1 .1 0 .2 0 .2 0 .2 0 .1 0 .2-.1 0 0 .1 0 .3-.2 .1 0 .2-.2 .1 0 .2-.1 0 0 .2-.1 .2-.1 .1 0 .2-.1 .1 0 .2-.1 .1 0 .1 .1 .2 .1 .1 .1 .2 .1 .2 .1 .1 .1 .1-.1 .1 0 .2-.1 .1-.1 .3-.1 .1-.1 .1 0 .1-.1 .1 0 .2-.1 .2-.1 .2-.1 .1-.1 .1 0 .1-.1 .1-.1 .3-.1 .1-.1 .2-.2 .1-.1 .1 0 .1-.2 .2-.2 .2-.2 .1-.2 .2-.2 .1-.2 .1 0 .2-.1 .1-.1 .2-.2 .1-.1 .2-.2 .2 0 0-.1 .2 .1 .1 .1 .2 .1 .1 .1 .3 .1 .1 .1 0 0 .2 .4 .1 .3 .2 .5 .2 .3 .2 .5 .1 .2 .2 .2 .1 0 .3 .2 .1 .1 .2 .1 .1 .1 0-.1 .2-.2 .2-.1 .2-.2 .1-.1 .2-.3 .1 0 0 0 .3-.1 .1 0 .2-.1 .1 0 .2-.1 .1 0 .1 0 .2-.1 .1 0 .2 0 .1-.1 .3 0 0 0 .1 .2 .2 .7 .1 .3 .2 .7 .2 .4 .2 .7 0 0 .1 .1 .2 .2 .1 .1 .3 .2 .1 .1 .2 .2 .1 .3 .2 .5 .2 .3 .2 .5 .1 .3 .2 .4 0 0 .1 0 .2 .1 .1 0 .1 0 .2 0 0 0 .1 0 .2 0 0 0 0 0 .2 0 .2 0 0 0 .1 0 .2 0 0 0 .1-.1 .2 0 0 0 .1 0 .1-.2 .2-.2 0 0 .1-.2 .2-.2 0-.1 .2-.1 .1-.2 .1-.1 0-.1 .1-.2 .2-.5 0 0 .1-.3 .2-.4 .1-.1 .1-.2 .1-.3 .1 .1 0 0 .1 .1 .2 .3 0 0 .2 .1 .2 .3 0 0 .1 .1 .1 .2 .1-.2 0-.1 .1-.2 .2-.3 .1-.1 .1-.2 .2-.3 0-.1 .1-.2 .1-.1 .1 .2 0 0 .2 .2 .2 .4 0 0 .1 .2 .2 .4 0 0 .1 .2 .1 .1 .1 .1 .1 0 .1 0 .2 .1 0 0 .1 0 .2 .1 0 0 .2 .1 0 0 .2 0 0 0 .1 0 .2 .1 0 0 .1 0 .2 0 .1 0 .1 0 0 0 .2 .1 0 0 .1 0 .2 0 0 0 .2 0 .2 .1 0 0 .1 0 .2-.4 0 0 .1-.2 .2-.4 .1 0 .1-.2 .2-.4 0 0 .1-.2 0 0 .2 .3 0 0 .2 .1 .2 .3 0 0 .1 .1 .2 .3 0 0 .1 .1 0 0 .2 .1 .1 0 .1 .1 .2 .1 0 .1 .1 0 .2 .2 0 0 .1 0 .1 0 .2-.1 0 0 .1-.1 .2-.1 0 0 .1 0 .2-.1 .1 0 0-.1 .1 0 .2-.1 0-.1 .1 0 .2-.2 0 0 .2-.1 .2-.1 0 0 0 0 .1-.1 .2-.3 0 0 .1-.1 .2-.3 .1 0 .1-.1 .2-.2 0-.1 .1 0 .2-.1 0 0 .2-.1 .2-.1 0 0 .1-.1 .2-.1 0 0 .1 .1 .2 .1 .1 0 .1 0 .2 .1 0 0 .1 .1 .2 .1 0 0 0 0 .2 .1 .2 .1 0 .1 .1 0 .2 .2 0 0 .1 .1 .2 .1 0 .1 .1 0 .1 .1 .2 .1 0 .1 .1 0 .2 .2 0 0 .2 .1 .1 .1 .1 0 0 0 .1-.1 .2 0 0 0 .1-.1 .2-.1 .1 0 .1 0 .1-.1 .1 .1 0 0 .1 0 .2 .1 0 0 .2 0 .2 .1 0 0 .1 0 .1 0 .1-.1 0 0 .1-.2 .2-.3 .1 0 .1-.2 .2-.3 0 0 .1-.2 .1-.1 .1-.1 0 0 .2-.1 .2-.2 0 0 .1-.1 .2-.1 0 0 .1-.1 .1-.1 .1 0 .1-.1 .1 0 .2-.1 0 0 .1-.1 .2 0 0-.1 .2 0 0 0 .2-.2 0 0 .1-.1 .2-.1 0 0 .1-.1 .2-.2 .1 0 .1-.1 0 0 .2 .3 0 0 .1 .2 .2 .4 0 0 .2 .2 .2 .4 0 0 .1 .2 .2 0 0 0 .1 0 .2 0 .1 0 .1 0 .2 0 0 0 .1 0 0 0 .2 .3 0 0 .2 .1 .2 .3 0 0 .1 .2 .2 .2 0 0 .1 .1 0 .1 .2 .4 .1 .1 .1 .3 .2 .4 0 0 .1 .3 .2 .4 0 .1 .1 .1 .1-.1 .2-.2 0 0 .1-.1 .2-.2 0 0 .1-.1 .2-.2 .1-.1 0 0 .1 .1 .2 .2 0 0 .1 .2 .2 .2 0 0 .2 .1 .2 .2 0 .1 0 0 .1 0 .2 .1 0 0 .1 0 .2 .1 .1 0 .1 0 .2 .1 0 0 .1 0 .2-.1 0 0 .2 0 .2-.1 0 0 .1-.1 .2 0 0 0 .1-.2 .2-.2 .1 0 .1-.1 .2-.2 0 0 .1-.1 .2-.2 0-.1 0 0 .2-.3 .2-.4 0 0 .1-.2 .2-.4 0-.1 .1-.2 .2-.3 0-.1 .1 0 .1-.1 .2-.2 0 0 .1-.1 .2-.2 0 0 .2-.1 .1-.2 .1-.2 0-.1 .1-.4 .2-.7 0 0 .1-.5 .2-.7 .1 0 .1-.4 .1-.5 .1 .1 0 0 .1 0 .2 .1 0 0 .2 0 .2 0 0 0 .1 .1 .1 0 .1 .2 0 .1 .1 .3 .2 .4 .1 .1 .1 .3 .2 .4 0 .1 .1 .3 .1 .2 .1 .1 0 0 .2 .1 .2 .2 0 0 .1 .1 .2 .2 0 0 .1 .1 .1 .1 .1-.1 .1 0 .1 0 .2 0 0 0 .1 0 .2-.1 0 0 .2 0 0 0 .2 0 0 0 .1-.1 .2 0 0 0 .1-.1 .2 0 .1 0 .1-.1 0 0 .2 0 0 0 .1 0 .2 0 0 0 .2 0 .2 0 0 0 .1 0 .2 .2 0 0 .1 .1 .2 .3 .1 0 .1 .1 .2 .2 0 0 .1 .1 0 0 .2-.2 0 0 .2-.2 .2-.2 0-.1 .1-.1 .2-.2 0-.1 .1-.1 0 0 .2-.1 .1 0 .1 0 .2-.1 0 0 .1-.1 .2 0 0 0 .1-.1 .1 .1 .2 .4 0 0 .1 .2 .2 .4 0 0 .1 .2 .2 .4 .1 0 0 .1 .1 .1 .2 .2 0 .1 .1 .1 .2 .3 0 0 .2 .1 .2 .3 0 0 0 .1 .1 .2 .2 .5 0 .1 .1 .3 .2 .5 .1 0 .1 .3 .2 .5 0 .1 .1 0 .2 .1 0 0 .2 0 .2 0 0 0 .1 .1 .2 0 0 0 .1 0 .2 0 .1 0 .1 0 .2 0 0 0 .1 0 .2-.1 0 0 0-.1 .4-.7 0 0 .3-.8 0 0 .3-.7 0 0 .1 0 .3-.4 0-.1 .3-.4 0 0 .3-.3 .1-.1 0-.1 .3-.6 0 0 .3-.6 .1 0 .2-.4 .1 0 0 0 .3 .3 0 0 .4 .2 0 .1 .2 .1 .1 .2 0 0 .3 .5 .1 0 .3 .5 0 0 .2 .3 .1 .3 0 .1 .4 .8 0 0 .3 .8 0 0 .2 .5 .1 .2 .1 0 .3 .5 0 .1 .3 .5 0 0 .2 .3 .2-.1 0 0 .3-.2 0 0 .3-.1 .1 0 .1-.1 .2 0 0 0 .3 .1 0 0 .4 .1 0 0 .1 0 .2-.6 0-.1 .3-.9 .1-.1 .3-.9 0-.1 .1-.3 .2-.4 0-.1 .4-.6 0-.1 .3-.6 0-.1 .1-.1 .2 0 .4-.1 .3 0 .1 0 .3-.1 .3-.1 .3-.2 .1 0 .3 .4 .3 .5 .4 .5 0 0 .3 .3 .3 .3 .4 .3 0 0 .3 .2 .4 .2 .3 .2 .3 .5 .4 .4 .3 .5 0 0 .4-.4 .3-.3 .3-.3 0 0 .4-.1 .3-.1 .3-.1 .1-.1 .3-.3 .3-.2 .3-.3 .1 .1 .3 .2 .4 .2 .2 .2 .1 .1 .3 .6 .4 .7 .2 .4 .1 .1 .4 .4 .3 .4 .2 .2 .1-.1 .4-.3 .3-.2 .2-.2 .2-.3 .3-.6 .3-.7 .2-.3 .2-.3 .3-.6 .4-.5 .1-.3 .2-.3 .3-.6 .4-.6 .1-.2 .2 .1 .4 .3 .3 .2 .1 0 .2 0 .4-.1 .3-.1 .1 0 .3 .2 .3 .3 .3 .3 .1 0 .3 .5 .3 .7 .4 .7 0 .1 .3-.2 .3-.2 .4-.2 0 0 .3-.4 .4-.4 .3-.4 .3 .1 .4 .1 .3 .1 0 0 .4-.3 .3-.2 .3-.2 0 0 .4-.1 .3-.1 .3 0 .1 0 .3 .4 .3 .3 .3 .2 .1 .1 .3 .1 .4 .1 .2 .1 .1 .1 .3 .5 .4 .5 .2 .3 .1 .1 .4 .3 .3 .3 .2 .1 .1 .1 .4 .3 .3 .2 .2 .2 .2-.4 .3-.9 .3-.8 .2-.4 .2-.3 .3-.7 .4-.6 .1-.3 .2-.2 .3-.3 .4-.2 .1-.2 .2-.1 .4-.1 .3-.2 .1-.1 .2 .2 .4 .1 .3 .2 .1 0 .3 0 .3 0 .3-.1 .1 0 .3-.6 .3-.8 .4-.8 0-.1 .3 .4 .3 .5 .4 .5 0 0 .3 .4 .4 .4 .3 .4 .3 .9 .4 .9 .3 .9 0 0 .4 .8 .3 .8 .3 .6 1 .2 1-2 1-1.3 1-.8 1-.9 1-.4 1-.8 1 1 1 2.2 1 1.5 1 1.7 1-1.1 1-1 1 .4' fill='none' stroke='#dedede' stroke-width='2.2' stroke-linejoin='round'/><path d='M505.5 321.7l1 0 1-.1 1 0 1-.1 1 0 1-.1 1-.1 1-.1 1 0 1-.1 1-.1 1-.1 1-.1 1-.1 1-.2 1-.1 1-.1 1-.2 1-.2 1-.2 1-.2 1-.3 1-.2 1-.3 1-.4 1-.4 1-.4 1-.5 1-.5 1-.6 .2-.1 .3-.1 .4 0 .1 0 .2 0 .4 0 .3-.1 .1 0 .2 0 .4 0 .3 0 .1 0 .3-.1 .3 0 .3-.1 .1 0 .3 0 .3 0 .4-.1 0 0 .3-.1 .3 0 .4-.1 0 0 .3-.1 .4 0 .3-.1 .3-.1 .4 0 .3-.1 0 0 .4-.1 .3-.1 .3-.1 0 0 .4-.1 .3-.1 .3 0 .1-.1 .3-.1 .3-.1 .3 0 .1-.1 .2 0 .1-.1 .2 0 .2-.1 .2 0 0 0 .1-.1 .2 0 .1-.1 .3 0 .1-.1 .2 0 .1-.1 .2-.1 .2 0 .2-.1 .1 0 .2-.1 0 0 .1 0 .3-.1 .1 0 .2-.1 .1-.1 .2 0 0 0 .2-.1 .2-.1 .1 0 .2-.2 .1 0 .2-.1 .1 0 .1-.1 .2-.1 .1-.1 .2-.1 .2-.1 .1 0 .1-.1 .1-.1 .2-.1 .1-.1 .3-.1 .1-.1 .1-.1 .1 0 .1-.1 .2-.2 .2 0 .2-.2 .1-.1 .1-.1 .1 0 .1-.1 .3-.2 .1-.1 .2-.2 .1-.1 .1 0 .1-.1 .2-.1 .2-.2 .1-.1 .2-.2 .1-.1 .1-.1 .2-.1 .1-.1 .2-.2 .1-.1 .2-.2 .2-.1 0 0 .2-.2 .1-.1 .2-.2 .1-.1 .3-.3 .1-.1 0 0 .2-.2 .1-.1 .2-.2 .2-.1 .2-.2 .1-.2 .2-.2 .1-.1 .3-.2 .1-.2 .2-.2 .1-.1 0 0 .2-.2 .2-.2 .2-.2 .1-.2 .2-.2 .1-.1 0-.1 .3-.3 .1-.1 .2-.3 .1-.2 .2-.3 .1-.1 .1-.1 .2-.3 .1-.2 .2-.3 .1-.2 .3-.3 0-.1 .1-.1 .2-.4 .1-.2 .2-.4 .2-.2 .2-.4 0 0 .1-.2 .2-.4 .1-.2 .3-.4 .1-.2 .2-.4 .1-.2 .2-.4 .2-.3 .2-.4 .1-.2 .2-.4 0 0 .1-.3 .2-.3 .1-.1 .1-.2 .2-.4 0-.1 .1-.2 .2-.3 0-.1 0 0 .2-.3 .2-.4 0 0 .1-.2 .2-.4 0-.1 .1-.2 .2-.3 0-.1 .1-.1 .1-.2 .2-.4 0 0 .1-.3 .2-.4 0 0 .2-.2 .1-.3 .1-.1 0-.1 .1-.2 .2-.4 0-.1 .1-.2 .2-.4 .1 0 .1-.3 .1-.2 .1-.2 0 0 .1-.2 .2-.4 0 0 .2-.3 .2-.4 0 0 .1-.2 .1-.2 .1-.2 0 0 .1-.3 .2-.3 .1-.1 .1-.2 .2-.4 0 0 .1-.3 .1-.1 .1-.2 0-.1 .2-.2 .2-.4 0 0 .1-.3 .2-.4 0 0 .1-.3 .1-.1 .1-.3 .1 0 .1-.2 .2-.4 0-.1 .1-.2 .2-.4 0-.1 .2-.2 0-.1 .2-.3 0 0 .1-.3 .2-.4 0 0 .1-.3 .2-.4 .1 0 .1-.3 0 0 .2-.4 0 0 .1-.3 .2-.4 0 0 .2-.3 .2-.4 0 0 .1-.3 .2-.4 0 0 .1-.2 .2-.5 .1 0 .1-.2 .2-.4 0-.1 .1-.2 0 0 .2-.4 0-.1 .2-.2 .2-.4 0 0 .1-.3 .2-.4 0 0 .1-.2 0-.1 .2-.4 .1 0 .1-.2 .2-.4 0-.1 .1-.2 .2-.4 0 0 .1-.1 .1-.2 .2-.3 0-.1 .1-.2 .2-.4 0 0 .1-.3 .2-.4 .1 0 0-.1 .1-.2 .2-.4 0-.1 .1-.3 .2-.4 0-.1 .2-.3 .2-.4 0-.1 0 0 .1-.3 .2-.5 0 0 .1-.3 .2-.5 .1 0 .1-.3 .2-.5 0-.1 .1-.2 .2-.5 0 0 .2-.3 .2-.5 0 0 .1-.3 .2-.4 0 0 .1-.3 .2-.3 .1-.1 .1-.2 .2-.3 0-.1 .1-.2 .2-.2 0-.1 0 0 .2-.2 .2-.2 0 0 .1-.2 .2-.2 0 0 .1-.1 .2-.1 0 0 .1 0 .1 0 .2-.1 0 0 .1 0 .2 0 0 0 .2 .1 .1 0 .1 0 0 0 .1 .1 .2 .2 0 0 .1 .1 .2 .2 .1 0 .1 .1 .1 .1 .1 .1 0 .1 .1 .1 .2 .3 0 0 .2 .2 .2 .3 0 0 .1 .2 .1 .2 .1 .2 0 0 .1 .3 .2 .3 .1 .1 .1 .2 .2 .4 0 .1 .1 .2 .1 .2 .1 .2 0 .1 .2 .2 .2 .5 0 0 .1 .3 .2 .5 0 0 .1 .3 .1 .1 .1 .4 .1 0 .1 .3 .2 .5 0 0 .1 .3 .2 .5 0 0 .2 .3 0 .1 .2 .4 0 0 .1 .3 .2 .5 0 0 .1 .3 .2 .5 .1 0 .1 .3 0 0 .2 .4 0 .1 .1 .2 .2 .5 0 0 .2 .3 .2 .4 0 0 .1 .2 .2 .4 0 0 .1 .3 .2 .3 .1 .1 .1 .2 .2 .4 0 .1 .1 .2 0 0 .2 .4 0 .1 .2 .2 .2 .5 0 0 .1 .3 .2 .4 0 .1 .1 .2 0 0 .2 .5 .1 .1 .1 .2 .2 .5 0 0 .1 .3 .2 .5 0 0 .1 .2 .1 .1 .2 .5 0 0 .1 .3 .2 .5 0 0 .1 .3 .2 .5 .1 0 0 .1 .1 .2 .2 .4 0 .1 .1 .2 .2 .5 0 0 .2 .3 .2 .4 0 0 0 .1 .1 .2 .2 .4 0 0 .1 .3 .2 .4 .1 0 .1 .2 .2 .4 0 0 .1 .2 .2 .3 0 .1 .2 .2 .2 .3 0 0 .1 .2 .2 .2 0 0 .1 .2 .2 .2 .1 0 .1 .2 .2 .1 0 .1 .1 .1 .2 .1 0 0 0 0 .2 .1 .2 .1 0 0 .1 0 .2 .1 0 0 .1 .1 .2 0 0 0 .1 0 .1 .1 .2 0 0 0 .1 .1 .2 0 0 0 .2 .1 .1 0 .1 0 0 0 .1 .1 .2 0 0 0 .1 .1 .2 0 .1 0 .1 0 .1 .1 .1 0 0 0 .1 0 .2 .1 0 0 .2 0 .2 0 0 0 .1 .1 .1 0 .1 0 0 0 .1 0 .2 .1 .1 0 .1 0 .2 0 0 0 .1 0 .1 0 .1 .1 0 0 .2 0 .2 0 0 0 .1 0 .2 .1 0 0 .1 0 .1 0 .1 0 .1 0 .1 0 .2 0 0 0 .1 .1 .2 0 0 0 .2 0 0 0 .2 0 0 0 .1 0 .2 .1 0 0 .1 0 .2 0 .1 0 .1 0 0 0 .2 0 0 0 .1 .1 .2 0 0 0 .2 0 .2 0 0 0 .1 0 .2 .1 0 0 .1 0 .2 0 .1 0 .1 0 .2 .1 0 0 .1 0 0 0 .2 0 0 0 .2 0 .2 .1 0 0 .1 0 .2 0 0 0 .1 0 0 0 .2 .1 .1 0 .1 0 .2 0 0 0 .1 .1 .2 0 0 0 .1 0 .1 0 .2 .1 0 0 .1 0 .2 .1 0 0 .1 0 .2 0 .1 0 0 .1 .1 0 .2 0 0 0 .1 .1 .2 0 0 0 .2 .1 .2 0 0 0 0 0 .1 .1 .2 0 0 0 .1 .1 .2 .1 .1 0 .1 0 .2 .1 0 0 .1 .1 .2 .1 0 0 .2 .1 .2 .1 0 0 .1 0 .2 .2 0 0 .1 .1 .2 .1 .1 0 .1 .1 .2 .1 0 0 .1 .1 .2 .2 0 0 0 0 .4 .2 0 0 .3 .3 0 0 .3 .3 0 0 .1 0 .3 .3 0 0 .3 .3 0 0 .3 .3 .1 0 0 0 .3 .3 0 .1 .3 .3 .1 0 .2 .2 .1 .1 0 0 .3 .4 0 0 .4 .3 0 0 .2 .3 .1 .1 0 0 .3 .3 .1 .1 .3 .3 0 0 .2 .2 .1 .2 0 0 .4 .3 0 .1 .3 .3 0 0 .2 .2 .1 .2 .1 0 .3 .3 0 0 .3 .4 0 0 .2 .2 .2 .1 0 .1 .3 .3 0 0 .3 .3 .1 .1 .1 .1 .2 .2 0 0 .3 .3 0 0 .4 .4 0 0 .1 .1 .2 .2 0 .1 .3 .3 .1 0 .3 .4 0 0 .1 .1 .2 .3 0 0 .4 .4 0 0 .3 .4 0 0 .1 .1 .2 .3 .4 .4 .3 .4 .1 .1 .3 .4 .3 .4 .3 .4 .1 .1 .3 .3 .3 .5 .4 .4 0 0 .3 .4 .3 .4 .4 .4 0 .1 .3 .3 .4 .4 .3 .4 .3 .4 .4 .4 .3 .3 0 .1 .4 .3 .3 .3 .3 .3 0 .1 .4 .3 .3 .3 .3 .2 .1 .1 .3 .3 .3 .2 .3 .2 .1 .1 .3 .3 .4 .2 .2 .2 .1 .1 .3 .2 .4 .3 .2 .2 .1 0 .4 .3 .3 .2 .2 .2 .1 .1 .4 .2 .3 .2 .2 .2 .2 .1 .3 .2 .3 .2 .2 .1 .2 .1 .3 .2 .4 .2 .1 .1 .2 .1 .3 .2 .4 .2 .1 .1 .2 .1 .4 .2 .3 .2 .1 0 .2 .1 .4 .2 .3 .1 .1 .1 .3 .1 .3 .1 .3 .2 .1 0 .3 .1 .3 0 .4 .1 0 0 .3 0 .3 .1 .4 0 0 0 .3 .1 .4 0 .3 .1 .3 0 .4 .1 .3 0 0 0 .4 .1 .3 0 .3 .1 0 0 .4 0 .3 0 .3 .1 .1 0 .3 0 .3 .1 .3 0 .1 0 .3 .1 .4 0 .2 0 .1 .1 .3 0 .4 0 .2 .1 .1 0 .4 0 .3 .1 .2 0 .1 0 .4 0 .3 .1 .2 0 .2 0 .3 0 .3 .1 .2 0 .2 0 .3 .1 .4 0 .1 0 .2 0 .3 .1 .4 0 .1 0 .2 0 .4 .1 .3 0 .1 0 .2 0 .4 .1 .3 0 .1 0 .3 0 .3 .1 .3 0 .1 0 .3 0 .3 0 .4 .1 0 0 .3 0 .3 0 .4 .1 0 0 .3 0 .4 0 .3 0 .3 .1 .4 0 .3 0 0 0 .4 0 .3 .1 .3 0 1 .1 1 0 1 .1 1 .1 1 0 1 .1 1 0 1 .1 1 0 1 .1 1 0 1 .1 1 0 1 .1' fill='none' stroke='#e2c6ec' stroke-width='2.6'/><path d='M505.5 319.5l1-.5 1 1.5 1 .7 1-3.8 1 5.2 1 3.2 1-4.9 1 2.8 1-6.7 1 3.9 1 2.7 1 .5 1-3.2 1-.7 1 1.5 1-2.5 1 1.5 1-2.1 1 2.7 1-.5 1 3.4 1-1.9 1-2.5 1-.9 1-1.8 1 1.6 1-.5 1-.2 1 1.3 1-6.4 .2 .7 .3 1.5 .4 1.6 .1 .5 .2 .2 .4 .4 .3 .3 .1 .1 .2-1.1 .4-1.6 .3-1.7 .1-.3 .3 1.7 .3 2.3 .3 2.2 .1 .4 .3-1 .3-1.2 .4-1.2 0-.2 .3 1.4 .3 1.6 .4 1.6 0 .1 .3-.9 .4-.9 .3-1 .3-.1 .4-.2 .3-.2 0 0 .4-.8 .3-.8 .3-.7 0 .1 .4 .4 .3 .4 .3 .3 .1-.2 .3-1.3 .3-1.3 .3-1 .1 .1 .2 0 .1 0 .2 0 .2 0 .2 0 0 0 .1-.2 .2-.5 .1-.2 .3-.5 .1-.3 .2-.5 .1 .3 .2 .7 .2 .3 .2 .7 .1 .3 .2 .6 0 0 .1-.1 .3-.3 .1-.2 .2-.3 .1-.1 .2-.3 0 .1 .2 .1 .2 .3 .1 .2 .2 .2 .1 .2 .2 .2 .1 0 .1 0 .2 0 .1-.1 .2 0 .2 0 .1 0 .1-.3 .1-.5 .2-.9 .1-.5 .3-.9 .1-.5 .1-.5 .1 .4 .1 .3 .2 .7 .2 .4 .2 .7 .1 .4 .1 .3 .1-.3 .1-.2 .3-.4 .1-.3 .2-.4 .1-.2 .1-.2 .1-.1 .2-.1 .2-.1 .1-.1 .2-.2 .1 0 .1-.1 .2-.2 .1-.2 .2-.4 .1-.1 .2-.4 .2-.2 0 0 .2-.2 .1-.1 .2-.3 .1-.1 .3-.2 .1-.2 0 0 .2-.2 .1-.1 .2-.2 .2-.2 .2-.2 .1-.1 .2 .1 .1 .1 .3 .1 .1 .1 .2 .2 .1 0 0-.1 .2-1.1 .2-.6 .2-1.2 .1-.6 .2-1.1 .1-.5 0 0 .3-.1 .1-.1 .2-.2 .1-.1 .2-.1 .1-.1 .1 0 .2-.2 .1-.1 .2-.2 .1-.1 .3-.3 0 0 .1 .1 .2 .4 .1 .1 .2 .4 .2 .1 .2 .4 0 0 .1-.5 .2-1.1 .1-.5 .3-1.1 .1-.6 .2-1.1 .1 .2 .2 .3 .2 .2 .2 .3 .1 .1 .2 .3 0-.2 .1-1.2 .2-2.1 .1-.2 .1-1.3 .2-2.1 0-.2 .1-1.2 .2-1.9 0 0 0 .1 .2 .2 .2 .4 0 0 .1 .2 .2 .4 0 0 .1 .3 .2 .3 0-.1 .1 0 .1-.2 .2-.3 0 0 .1-.2 .2-.3 0 0 .2-.1 .1-.2 .1 0 0-.1 .1 0 .2 0 0 0 .1 0 .2 0 .1 0 .1 0 .1 0 .1-.1 0 0 .1-.2 .2-.3 0 0 .2-.1 .2-.3 0 0 .1-.2 .1-.1 .1-.3 0-.1 .1-.3 .2-.7 .1 0 .1-.4 .2-.6 0-.1 .1-.4 .1-.2 .1-.7 0-.1 .2-.7 .2-1.2 0-.1 .1-.7 .2-1.1 0-.1 .1-.7 .1-.4 .1 .5 .1 0 .1 .4 .2 .5 0 .1 .1 .3 .2 .6 0 .1 .2 .3 0 .1 .2-.2 0-.1 .1-.2 .2-.3 0-.1 .1-.2 .2-.3 .1-.1 .1-.2 0 0 .2-1.3 0-.2 .1-.8 .2-1.5 0-.2 .2-.8 .2-1.5 0-.1 .1-.9 .2 .3 0 0 .1 .2 .2 .4 .1 0 .1 .2 .2 .3 0 0 .1 .2 0 0 .2-.3 0-.1 .2-.1 .2-.4 0 0 .1-.2 .2-.3 0 0 .1-.1 0-.2 .2-.9 .1-.1 .1-.6 .2-.9 0-.1 .1-.6 .2-.9 0-.1 .1-.3 .1 0 .2-.3 0 0 .1-.2 .2-.3 0 0 .1-.2 .2-.3 .1 0 0-.1 .1 0 .2 0 0 0 .1 0 .2 0 0-.1 .2 0 .2 0 0 0 0 0 .1-.3 .2-.6 0 0 .1-.4 .2-.5 .1-.1 .1-.3 .2-.6 0 0 .1-.5 .2-.7 0 0 .2-.4 .2-.7 0-.1 .1-.4 .2-.6 0-.1 .1-.2 .2-.4 .1-.1 .1-.2 .2-.3 0-.1 .1-.2 .2-.2 0 0 0 0 .2-.1 .2-.1 0 0 .1 0 .2 0 0 0 .1 0 .2 .1 0-.1 .1 0 .1-.1 .2-.2 0 0 .1-.1 .2-.2 0 0 .2 0 .1-.1 .1 0 0 .1 .1 0 .2 .1 0 0 .1 .1 .2 .2 .1 0 .1 .1 .1 .1 .1 0 0 0 .1 .1 .2 0 0 0 .2 .1 .2 .1 0 0 .1 .1 .1 0 .1 .4 0 .1 .1 .4 .2 .8 .1 0 .1 .5 .2 .8 0 0 .1 .5 .1 .3 .1 .4 0 0 .2 .4 .2 .5 0 .1 .1 .4 .2 .5 0 .1 .1 .4 .1 .1 .1 .4 .1 0 .1 .4 .2 .5 0 0 .1 .3 .2 .6 0 0 .2 .3 0 .1 .2 .4 0 0 .1 .3 .2 .4 0 0 .1 .3 .2 .4 .1 0 .1 .2 0 .1 .2 0 0 0 .1 .1 .2 0 0 0 .2 0 .2 0 0 0 .1 0 .2 .9 0 .1 .1 .6 .2 .9 .1 .1 .1 .5 .2 1 0 .1 .1 .5 0 0 .2 .3 0 .1 .2 .2 .2 .3 0 .1 .1 .2 .2 .4 0 0 .1 .2 0 0 .2 .3 .1 .1 .1 .1 .2 .3 0 .1 .1 .1 .2 .3 0 .1 .1 .1 .1 .1 .2 .6 0 .1 .1 .3 .2 .6 0 0 .1 .4 .2 .6 .1 0 0 .1 .1-.2 .2-.4 0 0 .1-.3 .2-.5 0 0 .2-.3 .2-.5 0 0 0-.1 .1 .7 .2 1.5 0 .1 .1 .9 .2 1.4 .1 .1 .1 .8 .2 1.4 0 .2 .1 0 .2 .1 0 0 .2 .1 .2 0 0 0 .1 0 .2 0 0 0 .1-.2 .2-.4 .1-.1 .1-.2 .2-.4 0-.1 .1-.3 .2-.4 0 .1 0 .1 .2 .7 .2 1.1 0 .1 .1 .7 .2 1.1 0 .1 .1 .7 .2 .8 0 0 .1-.1 .1-.2 .2-.4 0-.1 .1-.2 .2-.4 0-.1 .2-.2 .1-.3 .1 .1 0 .1 .1 .3 .2 .5 0 0 .1 .3 .2 .5 .1 .1 .1 .2 .1 .3 .1 0 0-.1 .1-.1 .2-.2 0 0 .2-.1 .2-.3 0 0 .1-.1 .1-.1 .1 .2 0 0 .1 .3 .2 .3 .1 .1 .1 .2 .2 .4 0 .1 .1 .2 .1 .1 .1 0 0 0 .2-.1 .2-.1 0 0 .1-.1 .2-.1 0 0 .1-.1 .1 0 .1-.2 .1 0 .1-.2 .2-.2 0 0 .1-.2 .2-.2 0 0 .2-.2 0 0 .2 .1 0 0 .1 .1 .2 .1 0 0 .1 .1 .2 .2 .1 0 .1 .1 0 0 .2 .1 0 0 .1 0 .2 .1 0 0 .2 .1 .2 .1 0 0 .1 .1 .2-1.1 0-.1 .1-.6 .2-1 .1-.1 .1-.6 .2-1.1 0-.1 .1-.5 0 .1 .2 .9 0 .1 .2 .5 .2 .9 0 .1 .1 .5 .2 .9 0 .1 .1 .3 0 0 .2-.3 .1-.1 .1-.1 .2-.3 0 0 .1-.2 .2-.3 0 0 .1-.1 .1 0 .2-.2 0 0 .1-.1 .2-.2 0 0 .1-.1 .2-.2 .1 0 0 0 .1 .4 .2 .9 0 .1 .1 .5 .2 .9 0 .1 .2 .6 .2 .9 0 .1 0 .1 .1 0 .2 0 0 0 .1 0 .2-.1 .1 0 .1 0 .2 0 0 0 .1-.3 .2-.5 0 0 .2-.3 .2-.5 0-.1 .1-.3 .2-.4 0 0 .1-.1 .2-.1 .1 0 .1-.1 .2-.1 0 0 .1 0 .2-.1 0 .1 0 .1 .4 1.5 0 .1 .3 1.5 0 .1 .3 1.3 0 0 .1-.1 .3-.4 0 0 .3-.4 0 0 .3-.3 .1 .1 0 0 .3 .3 0 0 .3 .4 .1 0 .2 .3 .1-.1 0 0 .3-.3 0 0 .4-.2 0-.1 .2-.1 .1 .4 0 0 .3 1.3 .1 .1 .3 1.2 0 .1 .2 .8 .1 .5 0 0 .4 1.2 0 .1 .3 1.1 0 .1 .2 .7 .1-.2 .1-.1 .3-.4 0-.1 .3-.4 0-.1 .2-.2 .2 .1 0 0 .3 .1 0 0 .3 0 .1 0 .1 .1 .2 .8 0 .1 .3 1.3 0 .1 .4 1.4 0 .1 .1 .5 .2-.1 0 0 .3-.1 .1 0 .3-.2 0 0 .1-.1 .2 .6 0 0 .4 .9 0 0 .3 .8 0 .1 .1 .2 .2-.1 .4-.2 .3-.1 .1-.1 .3 .8 .3 1 .3 1 .1 .2 .3-1.1 .3-1.4 .4-1.5 0-.1 .3 .9 .3 1 .4 1 0 0 .3 .1 .4 .1 .3 0 .3 2.5 .4 2.6 .3 2.3 0 0 .4-1 .3-1 .3-.9 0 0 .4 0 .3 0 .3 0 .1 .1 .3 .1 .3 .1 .3 .1 .1 0 .3 .3 .4 .3 .2 .2 .1-.3 .3-.9 .4-.9 .2-.7 .1 1.2 .4 3.4 .3 3.4 .2 2 .1-.5 .4-1 .3-1.1 .2-.6 .2 .4 .3 .8 .3 .8 .2 .4 .2-.6 .3-1.2 .4-1.2 .1-.5 .2 .5 .3 .8 .4 .9 .1 .3 .2 .5 .4 .6 .3 .7 .1 .2 .2 .1 .4 0 .3 0 .1 0 .3 .2 .3 .1 .3 .2 .1 0 .3-.4 .3-.7 .4-.6 0-.1 .3 .5 .3 .4 .4 .5 0 .1 .3 .4 .4 .5 .3 .4 .3 .2 .4 .2 .3 .1 0 0 .4-.4 .3-.5 .3-.4 0 0 .4-.4 .3-.4 .3-.4 .1 0 .3-.5 .3-.4 .3-.3 .1 .2 .3 1.1 .4 1.1 .2 .8 .1-.2 .3-.4 .4-.5 .2-.3 .1-.1 .4-.3 .3-.4 .2-.2 .1 .5 .4 1.3 .3 1.2 .2 .6 .2-.3 .3-.7 .3-.8 .2-.3 .2 .1 .3 .3 .4 .2 .1 .1 .2 .7 .3 1.2 .4 1.2 .1 .4 .2-.1 .4-.3 .3-.2 .1-.1 .2-.4 .4-.5 .3-.5 .1-.1 .3 0 .3 .1 .3 0 .1 0 .3 .1 .3 0 .4 .1 0 0 .3 0 .3 0 .4 0 0 0 .3-.9 .4-.9 .3-1 .3 1 .4 .9 .3 .9 0-.1 .4-.2 .3-.2 .3-.2 1-.1 1 1.8 1-2 1-1.2 1 2 1 1.4 1-4.6 1 .9 1-.6 1 3.1 1-2.7 1 3.2 1 .7 1-1.5' fill='none' stroke='#140814' stroke-width='2.2' stroke-linejoin='round'/><path d='M505.5 322.5l1-.1 1 0 1 0 1 0 1 0 1-.1 1 0 1 0 1 0 1 0 1-.1 1 0 1 0 1 0 1-.1 1 0 1 0 1-.1 1 0 1 0 1-.1 1 0 1 0 1-.1 1 0 1-.1 1 0 1-.1 1 0 1-.1 .2 0 .3 0 .4 0 .1 0 .2 0 .4-.1 .3 0 .1 0 .2 0 .4 0 .3 0 .1 0 .3-.1 .3 0 .3 0 .1 0 .3 0 .3-.1 .4 0 0 0 .3 0 .3 0 .4-.1 0 0 .3 0 .4 0 .3-.1 .3 0 .4 0 .3 0 0 0 .4-.1 .3 0 .3 0 0 0 .4-.1 .3 0 .3 0 .1 0 .3-.1 .3 0 .3 0 .1-.1 .2 0 .1 0 .2 0 .2 0 .2-.1 0 0 .1 0 .2 0 .1 0 .3 0 .1-.1 .2 0 .1 0 .2 0 .2 0 .2-.1 .1 0 .2 0 0 0 .1 0 .3-.1 .1 0 .2 0 .1 0 .2-.1 0 0 .2 0 .2 0 .1 0 .2-.1 .1 0 .2 0 .1 0 .1 0 .2-.1 .1 0 .2 0 .2 0 .1-.1 .1 0 .1 0 .2 0 .1-.1 .3 0 .1 0 .1 0 .1-.1 .1 0 .2 0 .2 0 .2-.1 .1 0 .1 0 .1-.1 .1 0 .3 0 .1 0 .2-.1 .1 0 .1 0 .1-.1 .2 0 .2 0 .1-.1 .2 0 .1 0 .1-.1 .2 0 .1 0 .2-.1 .1 0 .2-.1 .2 0 0 0 .2 0 .1-.1 .2 0 .1-.1 .3 0 .1-.1 0 0 .2 0 .1 0 .2-.1 .2 0 .2-.1 .1 0 .2-.1 .1 0 .3-.1 .1-.1 .2 0 .1-.1 0 0 .2 0 .2-.1 .2-.1 .1 0 .2-.1 .1 0 0 0 .3-.1 .1 0 .2-.1 .1-.1 .2-.1 .1 0 .1 0 .2-.1 .1 0 .2-.1 .1-.1 .3-.1 0 0 .1 0 .2-.1 .1-.1 .2-.1 .2 0 .2-.1 0 0 .1-.1 .2-.1 .1-.1 .3-.1 .1 0 .2-.1 .1-.1 .2-.1 .2-.1 .2-.1 .1-.1 .2-.1 0 0 .1-.1 .2-.1 .1 0 .1-.1 .2-.1 0 0 .1-.1 .2-.1 0 0 0 0 .2-.1 .2-.2 0 0 .1-.1 .2-.1 0 0 .1-.1 .2-.1 0 0 .1-.1 .1 0 .2-.2 0 0 .1-.1 .2-.1 0-.1 .2-.1 .1-.1 .1 0 0 0 .1-.1 .2-.2 0 0 .1-.1 .2-.2 .1 0 .1-.1 .1-.1 .1-.1 0 0 .1-.1 .2-.2 0 0 .2-.1 .2-.2 0-.1 .1-.1 .1-.1 .1-.1 0 0 .1-.1 .2-.2 .1-.1 .1-.1 .2-.2 0 0 .1-.2 .1-.1 .1-.1 0 0 .2-.2 .2-.2 0 0 .1-.2 .2-.2 0 0 .1-.2 .1-.1 .1-.1 .1-.1 .1-.1 .2-.3 0 0 .1-.2 .2-.2 0-.1 .2-.1 0-.1 .2-.2 0-.1 .1-.1 .2-.3 0-.1 .1-.1 .2-.3 .1-.1 .1-.2 0 0 .2-.3 0 0 .1-.2 .2-.4 0 0 .2-.2 .2-.3 0-.1 .1-.2 .2-.3 0-.1 .1-.2 .2-.4 .1 0 .1-.2 .2-.4 0-.1 .1-.2 0 0 .2-.4 0 0 .2-.3 .2-.4 0 0 .1-.3 .2-.4 0 0 .1-.2 0-.1 .2-.4 .1-.1 .1-.2 .2-.5 0 0 .1-.3 .2-.5 0 0 .1-.2 .1-.1 .2-.5 0 0 .1-.3 .2-.5 0-.1 .1-.3 .2-.5 .1 0 0-.1 .1-.2 .2-.5 0-.1 .1-.3 .2-.5 0 0 .2-.3 .2-.6 0 0 0-.1 .1-.2 .2-.6 0 0 .1-.3 .2-.6 .1 0 .1-.3 .2-.5 0-.1 .1-.3 .2-.5 0-.1 .2-.3 .2-.5 0-.1 .1-.3 .2-.5 0-.1 .1-.3 .2-.5 .1 0 .1-.3 .2-.5 0 0 .1-.3 .2-.4 0-.1 0 0 .2-.3 .2-.4 0-.1 .1-.2 .2-.4 0-.1 .1-.2 .2-.3 0-.1 .1 0 .1-.2 .2-.4 0 0 .1-.2 .2-.3 0 0 .2-.2 .1-.2 .1-.1 0 0 .1-.1 .2-.2 0-.1 .1-.1 .2-.1 .1-.1 .1 0 .1-.1 .1 0 0-.1 .1 0 .2-.1 0 0 .2 0 .2 0 0 0 .1 0 .1 0 .1 .1 0 0 .1 0 .2 .1 .1 0 .1 .1 .2 .2 0 0 .1 .1 .1 .1 .1 .1 0 0 .2 .1 .2 .3 0 0 .1 .2 .2 .3 0 0 .1 .2 .1 .1 .1 .2 .1 .1 .1 .2 .2 .3 0 .1 .1 .2 .2 .4 0 0 .2 .3 0 .1 .2 .3 0 .1 .1 .2 .2 .5 0 0 .1 .3 .2 .5 .1 .1 .1 .2 0 .1 .2 .4 0 .1 .1 .3 .2 .5 0 .1 .2 .3 .2 .5 0 0 .1 .3 .2 .6 0 0 .1 .3 .2 .6 .1 0 .1 .3 .2 .6 0 0 .1 .3 0 0 .2 .6 0 0 .2 .3 .2 .5 0 .1 .1 .3 .2 .5 0 .1 .1 .2 0 .1 .2 .5 .1 0 .1 .3 .2 .5 0 .1 .1 .3 .2 .5 0 0 .1 .2 .1 .1 .2 .5 0 0 .1 .3 .2 .5 0 0 .1 .3 .2 .5 .1 0 0 .1 .1 .2 .2 .4 0 .1 .1 .2 .2 .5 0 0 .2 .3 .2 .4 0 0 0 0 .1 .3 .2 .4 0 0 .1 .2 .2 .4 .1 .1 .1 .2 .2 .4 0 0 .1 .2 .2 .4 0 0 .2 .2 .2 .4 0 0 .1 .2 .2 .3 0 .1 .1 .2 .2 .3 .1 0 .1 .2 .2 .3 0 .1 .1 .2 .2 .2 0 .1 0 0 .2 .2 .2 .2 0 .1 .1 .1 .2 .3 0 0 .1 .2 .2 .2 0 .1 .1 0 .1 .2 .2 .2 0 0 .1 .2 .2 .2 0 .1 .2 .1 .1 .2 .1 .1 0 0 .1 .1 .2 .2 0 .1 .1 .1 .2 .2 .1 0 .1 .2 .1 .1 .1 .1 0 0 .1 .1 .2 .2 0 .1 .2 .1 .2 .2 0 0 .1 .1 .1 .1 .1 .1 0 0 .1 .1 .2 .2 .1 0 .1 .1 .2 .2 0 0 .1 .1 .1 .1 .1 .1 0 0 .2 .1 .2 .2 0 0 .1 .1 .2 .1 0 .1 .1 .1 .1 0 .1 .1 .1 0 .1 .1 .2 .2 0 0 .1 .1 .2 .1 0 0 .2 .1 0 0 .2 .1 0 0 .1 .1 .2 .1 0 .1 .1 0 .2 .2 .1 0 .1 0 0 .1 .2 .1 0 0 .1 .1 .2 .1 0 0 .2 0 .2 .2 0 0 .1 0 .2 .1 0 .1 .1 0 .2 .1 .1 0 .1 .1 .2 .1 0 0 .1 .1 0 0 .2 .1 0 0 .2 0 .2 .1 0 0 .1 .1 .2 .1 0 0 .1 0 0 .1 .2 0 .1 .1 .1 0 .2 .1 0 0 .1 0 .2 .1 0 0 .1 .1 .1 0 .2 .1 0 0 .1 0 .2 .1 0 0 .1 .1 .2 0 .1 0 0 .1 .1 0 .2 .1 0 0 .1 0 .2 .1 0 0 .2 0 .2 .1 0 0 0 0 .1 0 .2 .1 0 0 .1 .1 .2 0 .1 0 .1 .1 .2 0 0 0 .1 .1 .2 0 0 0 .2 .1 .2 0 0 0 .1 .1 .2 0 0 0 .1 .1 .2 0 .1 0 .1 .1 .2 0 0 0 .1 .1 .2 0 0 0 0 0 .4 .1 0 0 .3 .1 0 0 .3 .1 0 0 .1 0 .3 0 0 0 .3 .1 0 0 .3 .1 .1 0 0 0 .3 .1 0 0 .3 0 .1 0 .2 .1 .1 0 0 0 .3 .1 0 0 .4 0 0 0 .2 .1 .1 0 0 0 .3 .1 .1 0 .3 0 0 0 .2 .1 .1 0 0 0 .4 0 0 0 .3 .1 0 0 .2 0 .1 .1 .1 0 .3 0 0 0 .3 .1 0 0 .2 0 .2 0 0 0 .3 .1 0 0 .3 0 .1 0 .1 0 .2 .1 0 0 .3 0 0 0 .4 .1 0 0 .1 0 .2 0 0 0 .3 0 .1 0 .3 .1 0 0 .1 0 .2 0 0 0 .4 .1 0 0 .3 0 0 0 .1 0 .2 0 .4 .1 .3 0 .1 0 .3 0 .3 .1 .3 0 .1 0 .3 .1 .3 0 .4 0 0 0 .3 0 .3 .1 .4 0 0 0 .3 0 .4 .1 .3 0 .3 0 .4 .1 .3 0 0 0 .4 0 .3 0 .3 .1 0 0 .4 0 .3 0 .3 0 .1 0 .3 .1 .3 0 .3 0 .1 0 .3 0 .4 0 .2 .1 .1 0 .3 0 .4 0 .2 0 .1 0 .4 0 .3 .1 .2 0 .1 0 .4 0 .3 0 .2 0 .2 0 .3 0 .3 .1 .2 0 .2 0 .3 0 .4 0 .1 0 .2 0 .3 0 .4 .1 .1 0 .2 0 .4 0 .3 0 .1 0 .2 0 .4 0 .3 .1 .1 0 .3 0 .3 0 .3 0 .1 0 .3 0 .3 0 .4 0 0 0 .3 0 .3 .1 .4 0 0 0 .3 0 .4 0 .3 0 .3 0 .4 0 .3 0 0 0 .4 0 .3 .1 .3 0 0 0 .4 0 .3 0 .3 0 .1 0 .3 0 .3 0 .3 0 .1 0 .3 0 .4 0 .2 .1 .1 0 .3 0 .4 0 .2 0 .1 0 .4 0 .3 0 .2 0 .1 0 .4 0 .3 0 .2 0 .2 0 .3 0 .3 .1 .2 0 .2 0 .3 0 .4 0 .1 0 .2 0 .3 0 .4 0 .1 0 .2 0 .4 0 .3 0 .1 0 .2 0 .4 0 .3 0 .1 0 .3 0 .3 .1 .3 0 .1 0 .3 0 .3 0 .4 0 0 0 .3 0 .3 0 .4 0 0 0 .3 0 .4 0 .3 0 .3 0 .4 0 .3 0 0 0 .4 0 .3 0 .3 0 1 .1 1 0 1 0 1 0 1 0 1 0 1 0 1 .1 1 0 1 0 1 0 1 0 1 0 1 0' fill='none' stroke='#3b6ee6' stroke-width='1.8'/><path d='M505.5 322.7l1 0 1 0 1-.1 1 0 1 0 1 0 1 0 1-.1 1 0 1 0 1 0 1-.1 1 0 1 0 1-.1 1 0 1 0 1-.1 1 0 1 0 1-.1 1 0 1-.1 1 0 1-.1 1-.1 1 0 1-.1 1-.1 1 0 .2 0 .3-.1 .4 0 .1 0 .2 0 .4-.1 .3 0 .1 0 .2 0 .4-.1 .3 0 .1 0 .3 0 .3-.1 .3 0 .1 0 .3 0 .3-.1 .4 0 0 0 .3 0 .3-.1 .4 0 0 0 .3-.1 .4 0 .3 0 .3-.1 .4 0 .3-.1 0 0 .4 0 .3-.1 .3 0 0 0 .4-.1 .3 0 .3-.1 .1 0 .3 0 .3-.1 .3 0 .1-.1 .2 0 .1 0 .2-.1 .2 0 .2 0 0 0 .1-.1 .2 0 .1 0 .3-.1 .1 0 .2 0 .1-.1 .2 0 .2 0 .2-.1 .1 0 .2-.1 0 0 .1 0 .3 0 .1-.1 .2 0 .1-.1 .2 0 0 0 .2 0 .2-.1 .1 0 .2-.1 .1 0 .2-.1 .1 0 .1 0 .2-.1 .1 0 .2-.1 .2 0 .1-.1 .1 0 .1 0 .2-.1 .1 0 .3-.1 .1-.1 .1 0 .1 0 .1-.1 .2 0 .2-.1 .2-.1 .1 0 .1 0 .1-.1 .1 0 .3-.1 .1-.1 .2-.1 .1 0 .1 0 .1-.1 .2-.1 .2-.1 .1 0 .2-.1 .1-.1 .1 0 .2-.1 .1 0 .2-.1 .1-.1 .2-.1 .2-.1 0 0 .2-.1 .1 0 .2-.2 .1 0 .3-.1 .1-.1 0 0 .2-.1 .1-.1 .2-.1 .2-.1 .2-.2 .1 0 .2-.2 .1-.1 .3-.1 .1-.1 .2-.1 .1-.1 0 0 .2-.2 .2-.1 .2-.1 .1-.1 .2-.2 .1-.1 0 0 .3-.2 .1-.1 .2-.2 .1-.1 .2-.2 .1 0 .1-.1 .2-.2 .1-.1 .2-.2 .1-.1 .3-.3 0 0 .1-.1 .2-.2 .1-.1 .2-.3 .2-.1 .2-.2 0-.1 .1-.1 .2-.2 .1-.2 .3-.2 .1-.2 .2-.3 .1-.1 .2-.3 .2-.2 .2-.3 .1-.1 .2-.3 0 0 .1-.2 .2-.3 .1 0 .1-.2 .2-.3 0 0 .1-.2 .2-.3 0 0 0 0 .2-.2 .2-.3 0-.1 .1-.2 .2-.3 0 0 .1-.2 .2-.3 0 0 .1-.1 .1-.2 .2-.3 0 0 .1-.3 .2-.3 0 0 .2-.2 .1-.3 .1-.1 0 0 .1-.3 .2-.3 0-.1 .1-.2 .2-.3 .1-.1 .1-.2 .1-.2 .1-.2 0 0 .1-.2 .2-.4 0 0 .2-.3 .2-.3 0-.1 .1-.2 .1-.2 .1-.2 0 0 .1-.2 .2-.4 .1 0 .1-.2 .2-.4 0 0 .1-.3 .1-.1 .1-.2 0 0 .2-.3 .2-.3 0 0 .1-.2 .2-.4 0 0 .1-.2 .1-.1 .1-.2 .1 0 .1-.2 .2-.3 0-.1 .1-.1 .2-.3 0 0 .2-.2 0 0 .2-.2 0-.1 .1-.1 .2-.2 0 0 .1-.2 .2-.2 .1 0 .1-.1 0 0 .2-.2 0 0 .1-.1 .2-.1 0 0 .2-.1 .2 0 0-.1 .1 0 .2-.1 0 0 .1 0 .2 0 .1 0 .1 0 .2 0 0 0 .1 0 0 0 .2 .1 0 0 .2 .1 .2 .1 0 0 .1 0 .2 .2 0 0 .1 0 0 .1 .2 .1 .1 0 .1 .2 .2 .1 0 .1 .1 .1 .2 .2 0 0 .1 .1 .1 .1 .2 .2 0 .1 .1 .1 .2 .3 0 0 .1 .2 .2 .3 .1 0 0 .1 .1 .1 .2 .3 0 .1 .1 .2 .2 .3 0 0 .2 .2 .2 .4 0 0 0 0 .1 .2 .2 .4 0 0 .1 .2 .2 .4 .1 0 .1 .2 .2 .4 0 .1 .1 .2 .2 .3 0 .1 .2 .2 .2 .4 0 0 .1 .2 .2 .4 0 .1 .1 .2 .2 .3 .1 .1 .1 .2 .2 .4 0 0 .1 .2 .2 .3 0 .1 0 0 .2 .2 .2 .4 0 0 .1 .2 .2 .4 0 0 .1 .2 .2 .3 0 .1 .1 0 .1 .2 .2 .3 0 .1 .1 .2 .2 .3 0 0 .2 .2 .1 .2 .1 .1 0 0 .1 .2 .2 .3 0 .1 .1 .2 .2 .2 .1 .1 .1 .1 .1 .2 .1 .1 0 .1 .1 .1 .2 .3 0 0 .2 .2 .2 .3 0 0 .1 .2 .1 .1 .1 .1 0 0 .1 .2 .2 .2 .1 .1 .1 .1 .2 .2 0 .1 .1 .1 .1 .1 .1 .1 0 .1 .2 .1 .2 .2 0 0 .1 .2 .2 .2 0 0 .1 .1 .1 .1 .1 .1 .1 .1 .1 .1 .2 .2 0 0 .1 .1 .2 .2 0 0 .2 .1 0 .1 .2 .1 0 0 .1 .2 .2 .1 0 .1 .1 .1 .2 .1 .1 0 .1 .1 0 .1 .2 .1 0 0 .1 .1 .2 .2 0 0 .2 .1 .2 .1 0 .1 .1 0 .2 .2 0 0 .1 .1 .2 .1 .1 0 .1 .1 .2 .2 0 0 .1 0 0 .1 .2 .1 0 0 .2 .1 .2 .1 0 0 .1 .1 .2 .1 0 0 .1 .1 0 0 .2 .1 .1 0 .1 .1 .2 .1 0 0 .1 .1 .2 .1 0 0 .1 0 .1 .1 .2 .1 0 0 .1 0 .2 .1 0 0 .1 .1 .2 .1 .1 0 0 0 .1 .1 .2 .1 0 0 .1 0 .2 .1 0 0 .2 .1 .2 .1 0 0 0 0 .1 0 .2 .1 0 0 .1 .1 .2 0 .1 0 .1 .1 .2 .1 0 0 .1 0 .2 .1 0 0 .2 0 .2 .1 0 0 .1 .1 .2 0 0 0 .1 .1 .2 .1 .1 0 .1 0 .2 .1 0 0 .1 0 .2 .1 0 0 0 0 .2 0 .2 .1 0 0 .1 0 .2 .1 0 0 .1 0 .2 .1 0 0 .1 0 .1 0 .2 .1 0 0 .1 0 .2 .1 0 0 .2 0 .1 0 .1 .1 0 0 .1 0 .2 0 0 .1 .1 0 .2 0 .1 0 .1 .1 .1 0 .1 0 0 0 .1 0 .2 .1 0 0 .2 0 .2 .1 0 0 .1 0 .1 0 .1 0 0 0 .1 .1 .2 0 .1 0 .1 0 .2 .1 0 0 .1 0 .1 0 .1 0 0 .1 .2 0 .2 0 0 0 .1 0 .2 .1 0 0 .1 0 .1 0 .1 0 .1 0 .1 .1 .2 0 0 0 .1 0 .2 .1 0 0 .2 0 0 0 .2 0 0 0 .1 0 .2 .1 0 0 .1 0 .2 0 .1 0 .1 0 0 0 .2 .1 0 0 .1 0 .2 0 0 0 .2 0 .2 .1 0 0 .1 0 .2 0 0 0 .1 0 .2 .1 .1 0 .1 0 .2 0 0 0 .1 0 0 0 .2 .1 0 0 .2 0 .2 0 0 0 .1 0 .2 0 0 .1 .1 0 0 0 .2 0 .1 0 .1 0 .2 0 0 0 .1 0 .2 .1 0 0 .1 0 .1 0 .2 0 0 0 .1 0 .2 0 0 0 .1 .1 .2 0 .1 0 0 0 .1 0 .2 0 0 0 .1 0 .2 .1 0 0 .2 0 .2 0 0 0 0 0 .1 0 .2 0 0 0 .1 0 .2 0 .1 .1 .1 0 .2 0 0 0 .1 0 .2 0 0 0 .2 0 .2 0 0 0 .1 .1 .2 0 0 0 .1 0 .2 0 .1 0 .1 0 .2 0 0 0 .1 0 .2 .1 0 0 0 0 .4 0 0 0 .3 0 0 0 .3 0 0 0 .1 0 .3 .1 0 0 .3 0 0 0 .3 0 .1 0 0 0 .3 0 0 0 .3 .1 .1 0 .2 0 .1 0 0 0 .3 0 0 0 .4 0 0 0 .2 0 .1 0 0 0 .3 .1 .1 0 .3 0 0 0 .2 0 .1 0 0 0 .4 0 0 0 .3 0 0 0 .2 0 .1 .1 .1 0 .3 0 0 0 .3 0 0 0 .2 0 .2 0 0 0 .3 0 0 0 .3 0 .1 0 .1 .1 .2 0 0 0 .3 0 0 0 .4 0 0 0 .1 0 .2 0 0 0 .3 0 .1 0 .3 0 0 0 .1 0 .2 .1 0 0 .4 0 0 0 .3 0 0 0 .1 0 .2 0 .4 0 .3 0 .1 0 .3 0 .3 0 .3 .1 .1 0 .3 0 .3 0 .4 0 0 0 .3 0 .3 0 .4 0 0 0 .3 0 .4 .1 .3 0 .3 0 .4 0 .3 0 0 0 .4 0 .3 0 .3 0 0 0 .4 0 .3 0 .3 .1 .1 0 .3 0 .3 0 .3 0 .1 0 .3 0 .4 0 .2 0 .1 0 .3 0 .4 0 .2 0 .1 0 .4 0 .3 0 .2 .1 .1 0 .4 0 .3 0 .2 0 .2 0 .3 0 .3 0 .2 0 .2 0 .3 0 .4 0 .1 0 .2 0 .3 0 .4 0 .1 0 .2 0 .4 0 .3 .1 .1 0 .2 0 .4 0 .3 0 .1 0 .3 0 .3 0 .3 0 .1 0 .3 0 .3 0 .4 0 0 0 .3 0 .3 0 .4 0 0 0 .3 0 .4 0 .3 0 .3 0 .4 0 .3 .1 0 0 .4 0 .3 0 .3 0 0 0 .4 0 .3 0 .3 0 .1 0 .3 0 .3 0 .3 0 .1 0 .3 0 .4 0 .2 0 .1 0 .3 0 .4 0 .2 0 .1 0 .4 0 .3 0 .2 0 .1 0 .4 0 .3 0 .2 0 .2 0 .3 0 .3 0 .2 0 .2 .1 .3 0 .4 0 .1 0 .2 0 .3 0 .4 0 .1 0 .2 0 .4 0 .3 0 .1 0 .2 0 .4 0 .3 0 .1 0 .3 0 .3 0 .3 0 .1 0 .3 0 .3 0 .4 0 0 0 .3 0 .3 0 .4 0 0 0 .3 0 .4 0 .3 0 .3 0 .4 0 .3 0 0 0 .4 0 .3 0 .3 0 1 0 1 .1 1 0 1 0 1 0 1 0 1 0 1 0 1 0 1 0 1 0 1 0 1 0 1 0' fill='none' stroke='#ff2020' stroke-width='1.7'/><path d='M505.5 323l1 0 1-.1 1 0 1 0 1 0 1 0 1 0 1 0 1 0 1 0 1 0 1 0 1 0 1 0 1-.1 1 0 1 0 1 0 1 0 1 0 1 0 1 0 1 0 1 0 1-.1 1 0 1 0 1 0 1 0 1 0 .2 0 .3 0 .4 0 .1 0 .2 0 .4 0 .3-.1 .1 0 .2 0 .4 0 .3 0 .1 0 .3 0 .3 0 .3 0 .1 0 .3 0 .3 0 .4 0 0 0 .3 0 .3 0 .4 0 0 0 .3 0 .4 0 .3 0 .3 0 .4-.1 .3 0 0 0 .4 0 .3 0 .3 0 0 0 .4 0 .3 0 .3 0 .1 0 .3 0 .3 0 .3 0 .1 0 .2 0 .1 0 .2 0 .2 0 .2 0 0 0 .1 0 .2-.1 .1 0 .3 0 .1 0 .2 0 .1 0 .2 0 .2 0 .2 0 .1 0 .2 0 0 0 .1 0 .3 0 .1 0 .2 0 .1 0 .2 0 0 0 .2 0 .2 0 .1 0 .2 0 .1 0 .2 0 .1 0 .1-.1 .2 0 .1 0 .2 0 .2 0 .1 0 .1 0 .1 0 .2 0 .1 0 .3 0 .1 0 .1 0 .1 0 .1 0 .2 0 .2 0 .2 0 .1 0 .1 0 .1 0 .1 0 .3 0 .1-.1 .2 0 .1 0 .1 0 .1 0 .2 0 .2 0 .1 0 .2 0 .1 0 .1 0 .2 0 .1 0 .2 0 .1 0 .2 0 .2 0 0 0 .2 0 .1 0 .2-.1 .1 0 .3 0 .1 0 0 0 .2 0 .1 0 .2 0 .2 0 .2 0 .1 0 .2 0 .1 0 .3 0 .1 0 .2 0 .1 0 0 0 .2-.1 .2 0 .2 0 .1 0 .2 0 .1 0 0 0 .3 0 .1 0 .2 0 .1 0 .2 0 .1 0 .1 0 .2 0 .1-.1 .2 0 .1 0 .3 0 0 0 .1 0 .2 0 .1 0 .2 0 .2 0 .2 0 0 0 .1 0 .2 0 .1-.1 .3 0 .1 0 .2 0 .1 0 .2 0 .2 0 .2 0 .1 0 .2 0 0 0 .1 0 .2-.1 .1 0 .1 0 .2 0 0 0 .1 0 .2 0 0 0 0 0 .2 0 .2 0 0 0 .1 0 .2 0 0 0 .1 0 .2-.1 0 0 .1 0 .1 0 .2 0 0 0 .1 0 .2 0 0 0 .2 0 .1 0 .1 0 0 0 .1 0 .2 0 0 0 .1-.1 .2 0 .1 0 .1 0 .1 0 .1 0 0 0 .1 0 .2 0 0 0 .2 0 .2 0 0 0 .1 0 .1-.1 .1 0 0 0 .1 0 .2 0 .1 0 .1 0 .2 0 0 0 .1 0 .1 0 .1 0 0 0 .2-.1 .2 0 0 0 .1 0 .2 0 0 0 .1 0 .1 0 .1 0 .1 0 .1 0 .2-.1 0 0 .1 0 .2 0 0 0 .2 0 0 0 .2 0 0 0 .1 0 .2 0 0 0 .1-.1 .2 0 .1 0 .1 0 0 0 .2 0 0 0 .1 0 .2 0 0 0 .2 0 .2-.1 0 0 .1 0 .2 0 0 0 .1 0 .2 0 .1 0 .1-.1 .2 0 0 0 .1 0 0 0 .2 0 0 0 .2 0 .2 0 0 0 .1-.1 .2 0 0 0 .1 0 0 0 .2 0 .1 0 .1 0 .2-.1 0 0 .1 0 .2 0 0 0 .1 0 .1 0 .2 0 0 0 .1-.1 .2 0 0 0 .1 0 .2 0 .1 0 0 0 .1 0 .2-.1 0 0 .1 0 .2 0 0 0 .2 0 .2-.1 0 0 0 0 .1 0 .2 0 0 0 .1 0 .2-.1 .1 0 .1 0 .2 0 0 0 .1 0 .2-.1 0 0 .2 0 .2 0 0 0 .1 0 .2-.1 0 0 .1 0 .2 0 .1 0 .1 0 .2-.1 0 0 .1 0 .2 0 0 0 0 0 .2-.1 .2 0 0 0 .1 0 .2-.1 0 0 .1 0 .2 0 0 0 .1 0 .1 0 .2-.1 0 0 .1 0 .2 0 0 0 .2-.1 .1 0 .1 0 0 0 .1 0 .2-.1 0 0 .1 0 .2 0 .1-.1 .1 0 .1 0 .1 0 0 0 .1-.1 .2 0 0 0 .2 0 .2-.1 0 0 .1 0 .1 0 .1 0 0-.1 .1 0 .2 0 .1 0 .1-.1 .2 0 0 0 .1 0 .1-.1 .1 0 0 0 .2 0 .2-.1 0 0 .1 0 .2-.1 0 0 .1 0 .1 0 .1-.1 .1 0 .1 0 .2-.1 0 0 .1 0 .2-.1 0 0 .2 0 0 0 .2-.1 0 0 .1 0 .2-.1 0 0 .1 0 .2-.1 .1 0 .1 0 0 0 .2-.1 0 0 .1 0 .2-.1 0 0 .2 0 .2-.1 0 0 .1-.1 .2 0 0 0 .1-.1 .2 0 .1-.1 .1 0 .2-.1 0 0 .1 0 0 0 .2-.1 0 0 .2-.1 .2 0 0 0 .1-.1 .2-.1 0 0 .1 0 0 0 .2-.1 .1 0 .1-.1 .2-.1 0 0 .1 0 .2-.1 0 0 .1-.1 .1 0 .2-.1 0 0 .1 0 .2-.1 0 0 .1-.1 .2-.1 .1 0 0 0 .1-.1 .2-.1 0 0 .1 0 .2-.1 0-.1 .2 0 .2-.1 0 0 0-.1 .1 0 .2-.1 0 0 .1-.1 .2-.1 .1 0 .1-.1 .2-.1 0 0 .1-.1 .2-.1 0 0 .2-.1 .2-.1 0 0 .1-.1 .2-.1 0-.1 .1 0 .2-.2 .1 0 .1-.1 .2-.1 0 0 .1-.1 .2-.1 0 0 0-.1 .2 0 .2-.2 0 0 .1-.1 .2-.1 0-.1 .1-.1 .2-.1 0 0 .1 0 .1-.1 .2-.2 0 0 .1-.1 .2-.2 0 0 .2-.1 .1-.1 .1 0 0-.1 .1-.1 .2-.1 0-.1 .1-.1 .2-.1 .1-.1 .1-.1 .1-.1 .1-.1 0 0 .1-.1 .2-.2 0 0 .2-.1 .2-.2 0 0 .1-.2 .1-.1 .1-.1 0 0 .1-.1 .2-.2 .1 0 .1-.1 .2-.3 0 0 .1-.1 .1-.1 .1-.1 0 0 .2-.2 .2-.2 0 0 .1-.2 .2-.2 0 0 .1-.1 .1-.1 .1-.2 .1 0 .1-.1 .2-.3 0 0 .1-.1 .2-.3 0 0 .2-.1 0-.1 .2-.2 0 0 .1-.2 .2-.2 0 0 .1-.2 .2-.2 .1-.1 .1-.1 0 0 .2-.3 0 0 .1-.2 .2-.2 0 0 .2-.2 .2-.2 0-.1 .1-.1 .2-.3 0 0 .1-.2 .2-.2 .1-.1 .1-.1 .2-.3 0 0 .1-.1 0-.1 .2-.2 0 0 .2-.2 .2-.3 0 0 .1-.1 .2-.3 0 0 .1-.1 0-.1 .2-.2 .1 0 .1-.2 .2-.2 0-.1 .1-.1 .2-.2 0-.1 .1 0 .1-.1 .2-.2 0-.1 .1-.1 .2-.2 0 0 .1-.2 .2-.2 .1 0 0 0 .1-.1 .2-.2 0 0 .1-.2 .2-.1 0-.1 .2-.1 .2-.1 0-.1 0 0 .1-.1 .2-.1 0 0 .1-.1 .2-.2 .1 0 .1-.1 .2-.1 0 0 .1-.1 .2-.1 0 0 .2 0 .2-.1 0 0 .1-.1 .2 0 0-.1 .1 0 .2 0 .1 0 .1-.1 .2 0 0 0 .1 0 .2 0 0 0 0 0 .4 0 0 0 .3 .1 0 0 .3 .1 0 0 .1 0 .3 .1 0 0 .3 .1 0 .1 .3 .1 .1 0 0 .1 .3 .2 0 0 .3 .2 .1 0 .2 .2 .1 .1 0 0 .3 .3 0 0 .4 .3 0 0 .2 .3 .1 .1 0 0 .3 .3 .1 0 .3 .4 0 0 .2 .3 .1 .1 0 0 .4 .4 0 0 .3 .4 0 .1 .2 .2 .1 .2 .1 0 .3 .4 0 0 .3 .4 0 .1 .2 .2 .2 .2 0 0 .3 .4 0 0 .3 .5 .1 0 .1 .2 .2 .2 0 0 .3 .4 0 .1 .4 .4 0 0 .1 .2 .2 .2 0 0 .3 .4 .1 .1 .3 .4 0 0 .1 .1 .2 .3 0 0 .4 .4 0 0 .3 .4 0 0 .1 .1 .2 .3 .4 .3 .3 .4 .1 .1 .3 .3 .3 .3 .3 .4 .1 0 .3 .3 .3 .4 .4 .3 0 0 .3 .3 .3 .3 .4 .3 0 0 .3 .3 .4 .3 .3 .2 .3 .3 .4 .2 .3 .3 0 0 .4 .2 .3 .3 .3 .2 0 0 .4 .2 .3 .2 .3 .2 .1 0 .3 .2 .3 .2 .3 .1 .1 .1 .3 .2 .4 .1 .2 .2 .1 0 .3 .2 .4 .1 .2 .1 .1 .1 .4 .2 .3 .1 .2 .1 .1 0 .4 .2 .3 .1 .2 .1 .2 0 .3 .2 .3 .1 .2 0 .2 .1 .3 .1 .4 .1 .1 .1 .2 0 .3 .1 .4 .2 .1 0 .2 .1 .4 0 .3 .1 .1 .1 .2 0 .4 .1 .3 .1 .1 0 .3 .1 .3 .1 .3 .1 .1 0 .3 0 .3 .1 .4 .1 0 0 .3 .1 .3 0 .4 .1 0 0 .3 .1 .4 0 .3 .1 .3 .1 .4 0 .3 .1 0 0 .4 0 .3 .1 .3 0 0 0 .4 .1 .3 0 .3 .1 .1 0 .3 0 .3 .1 .3 0 .1 0 .3 .1 .4 0 .2 .1 .1 0 .3 0 .4 .1 .2 0 .1 0 .4 0 .3 .1 .2 0 .1 0 .4 .1 .3 0 .2 0 .2 0 .3 .1 .3 0 .2 0 .2 0 .3 .1 .4 0 .1 0 .2 0 .3 .1 .4 0 .1 0 .2 0 .4 .1 .3 0 .1 0 .2 0 .4 0 .3 .1 .1 0 .3 0 .3 0 .3 0 .1 0 .3 .1 .3 0 .4 0 0 0 .3 0 .3 .1 .4 0 0 0 .3 0 .4 0 .3 0 .3 .1 .4 0 .3 0 0 0 .4 0 .3 0 .3 .1 1 0 1 .1 1 0 1 .1 1 0 1 .1 1 0 1 0 1 .1 1 0 1 0 1 .1 1 0 1 0' fill='none' stroke='#ff2020' stroke-width='1.7'/><path d='M405.5 388.6l1 0 1-.2 1 .1 1-.3 1-.1 1-.1 1 0 1-.1 1 0 1-.1 1 .2 1-.2 1-.2 1 .5 1 0 1 .2 1 .1 1-.3 1 0 1 0 1 .4 1 .1 1 .1 1 0 1-.1 1 .2 1-.4 1 .2 1 .1 1-.2 1 .2 1-.3 1 0 1-.2 1-.4 1 0 1-.2 1 .1 1 .4 1 .2 1 .3 1 0 1-.1 1-.5 1-.1 1-.4 1-.3 1 0 1-.3 .5-.3 .2-.2 .3-.2 .3-.6 .2-.4 .2-.1 .3 .1 .3-1 .2-.4 .2-.5 .3-.4 .3-.6 .2-1.3 .2-1.1 .3-1.8 .3-1.7 .2-2.6 .2-2.8 .3-4 .3-4.9 .2-6.6 .2-7.3 .3-8.1 .3-6.7 .2-2.5 .2 2.6 .3 6.6 .3 8 .2 7.4 .2 6.5 .3 5.4 .3 3.8 .2 3.2 .2 2.4 .3 1.8 .3 1.3 .2 .8 .2 1.3 .3 .7 .3 .8 .2 .7 .2 .6 .3 .4 .3 .2 .2 .5 .2 .1 .3 0 .3 .2 .2 .2 1 .5 1 .6 1-.1 1 .2 1-.1 1 0 1-.1 1 .3 1 .5 1 .8 1 .6 1-.8 1-.3 1 .1 1-.2 1-.5 1 .4 1 .2 1-.2 1 .4 1-.3 1 .4 1-.2 1-.2 1-.1 1 .2 1 .1' fill='none' stroke='#111' stroke-width='1.3' stroke-linejoin='round'/><path d='M496.2 388.7h3.2M501.7 388.4h3.4' stroke='#222' stroke-width='1.2'/><path d='M505.5 388.3l1 .7 1 .9 1 .1 1 1.4 1-1.5 1-.3 1-1.8 1 .4 1-.3 1 .9 1 .5 1-.6 1-.1 1 1 1 .1 1-.6 1-.9 1 1 1-.3 1 .9 1-.6 1 .7 1-.1 1-1.4 1 .2 1 1.1 1 .6 1 .4 1 .1 1-.5 1 .9 1-.8 1 .5 1-1 1 3.1 1 1.7 1 0 1-.9 1-.6 1-.5 1-.8 1-.7 .1 .1 .3 .7 .4 .6 .2 .4 .1 0 .4 .2 .3 .2 .2 .1 .1-.1 .4 0 .3-.1 .2-.1 .2-.3 .3-.6 .3-.7 .2-.3 .1-.2 .1-.2 .2-.5 .1-.1 .3-.5 .1-.2 .1-.3 .1-.3 .1-.1 .3-.7 0-.1 .3-.7 .1-.1 .1-.3 .1-.1 .1-.1 .3-.1 .1-.1 .2-.2 .1 0 .1-.1 .2-.1 0 0 .3-.2 .1-.1 .2-.1 .1-.1 .1-.1 .2 .3 .1 .1 .2 .3 .1 .1 .3 .3 0 .1 .1 .1 .2-.1 .1 0 .2-.2 .1 0 .3-.1 .1 0 0 0 .2 0 .1 .1 .3 .1 0 0 .3 .1 .1 0 0 0 .2 .2 .1 .1 .3 .2 .1 .1 .2 .2 .1 0 .3 .3 0 .1 .3 .2 .1 .1 .2 .2 .1 .1 0 0 .3-.1 .1-.1 .2-.1 .1 0 .3-.1 0 0 0 0 .3 .4 .1 .1 .2 .3 .1 .1 .3 .4 0 0 .1-.1 .2-.3 .1-.1 .3-.2 0-.1 .3-.3 .1-.1 .2-.2 .1-.1 .3-.2 .1-.1 .2-.2 0 0 .1-.1 .3-.2 0 0 .3-.2 .1-.1 .2-.2 0 0 .1 0 .3 .1 .1 0 .2 0 .1 0 .2 0 .1 0 0 .1 .3 .2 .1 0 .2 .2 .1 .1 .2 .1 .1 .2 .1 .1 .2 .5 .1 .1 .3 .5 0 .1 .2 .3 .1 .2 .1 .1 .2 .3 .1 .2 .3 .3 .1 .1 .1 .2 .1 .3 .1 .2 .3 .5 0 .2 .1 .1 .2 .4 .1 .2 0 .2 .1 .1 .1 .1 .1 0 .1 .1 .2 .1 .1 .1 0 0 .2 .1 .1 .1 .1 0 0 .1 .2-.2 0-.1 .1 0 .2-.2 .1-.1 0 0 .2-.2 .1-.1 .1 0 0 0 .2 .1 .1 .1 0 0 .2 .1 .1 .1 .1 0 .2 .2 0 0 .1 .1 .2-.4 .1-.1 0-.1 .2-.3 .1-.2 .1-.1 .2-.3 .1-.2 0 0 0 0 .2 .1 .1 0 .1 0 .2 .1 0 .1 .1 0 .2 .1 .1 0 0 .1 0 0 .2 .1 .1 0 .1 .1 .2 .1 .1 0 0 .1 .2 .1 .1 0 .1 0 .2 .1 0 .1 .1 0 .2 .1 .1 0 0 0 .2 .1 .1 0 0 0 .1 .1 .2 .1 .1 .1 0 0 .2 .1 .1 .1 .1 0 .2 .1 0 .1 0 0 .1 0 .2 0 .1 .1 0 0 .2 .1 .1 0 .1 0 .2 .1 0 0 .1-.1 0 0 .2-.2 .1-.1 .1-.1 .2-.1 0-.1 .1-.1 .2-.2 .1 0 0-.1 .2-.2 .1-.1 .1 0 .2-.2 .1-.1 0 0 .2-.2 0 0 .1 0 .1 0 .2-.1 0 0 .1-.1 .2 0 .1-.1 0 0 .2 0 0-.2 .1-.2 .1-.1 .2-.6 .1-.2 0-.2 .2-.6 .1-.2 .1-.2 .1-.4 .1 .1 0 0 .1 0 .2 .1 .1 0 0 0 .2 .1 .1 0 .1 0 .1 .1 .1 0 .1-.1 0 0 .2 0 .1-.1 .1 0 .2 0 0-.1 .1 0 .1 0 .1 .1 .1 0 0 .1 .2 .1 .1 .1 .1 0 .2 .1 .1 .1 0 0 .1 .1 .1-.1 .1 0 .1 0 .2-.1 0 0 .1 0 .2-.1 .1 0 0 0 .1-.1 .1 .2 .1 .1 .1 .1 .2 .3 .1 .1 0 0 .2 .3 .1 .1 .1 .1 0 0 .2 0 0 0 .1 0 .2 0 .1 .1 0 0 .2 0 .1 0 .1 0 0 0 .2-.1 .1 0 0 0 .2 0 .1 0 .1 0 .2-.1 0 0 .1 0 .2-.1 .1 0 0 0 .2-.1 .1 0 .1 0 .2-.1 .1 0 0 0 0-.1 .2-.2 .1-.1 .1-.1 .2-.2 0-.1 .1-.1 .2-.2 .1-.1 0 0 0 0 .2-.1 .1 0 .1 0 .2 0 .1-.1 0 0 .2 0 .1 0 .1 0 .2 .3 0 .1 .1 .1 .2 .2 .1 .1 0 .1 .2 .3 .1 .1 0 0 .1-.1 .2-.1 .1 0 0 0 .2-.1 .1 0 .1-.1 .2 0 0-.1 0 0 .1-.1 .2-.2 .1-.1 0 0 .2-.2 .1-.1 .1-.1 .2-.2 0 0 .1 0 0 .1 .2 .1 .1 .1 .1 .1 .2 .1 0 .1 .1 0 .2 .2 .1 .1 0 .1 .2 .3 .1 .1 .1 .1 .2 .2 .1 .1 0 .1 .2 .3 0 0 .1 0 .1 0 .2 .1 0 0 .1 0 .2 0 .1 0 0 .1 .2 0 0-.1 .1 0 .1-.1 .2-.2 .1-.1 0-.1 .2-.2 .1 0 .1-.1 .1-.2 .1-.1 0-.1 .1-.1 .2-.4 .1-.1 0-.2 .2-.3 .1-.2 .1-.1 .1-.2 .1-.2 .1-.1 0-.2 .2-.4 .1-.2 .1-.1 .2-.4 0-.2 .1-.1 .1-.2 .1 0 .1 .1 0 0 .2 .1 .1 0 .1 0 .2 .1 .1 0 0 0 .1 .1 .1 .1 .1 0 .1 .1 .2 .1 0 .1 .1 0 .2 .2 .1 0 0 .1 .1 0 .1 .3 .1 .2 .1 .1 .2 .4 .1 .2 0 .1 .2 .4 .2 .3 0 .1 .2 .3 .1 .3 .2 .3 .1 .3 .2 .4 .2 .2 0 .1 .2 .2 .1 .2 .2 .2 .2 .2 .2 .3 .1 .2 .2 .1 .1 0 .2 .1 .2 .1 .2 0 .1 .1 0 0 .2-.2 .2-.2 .2-.2 .1-.1 .2-.2 .1-.1 0-.1 .2-.4 .2-.2 .2-.4 .1-.3 .2-.4 .1-.1 .1 0 .2-.1 .1-.1 .2 0 .1-.1 .2 0 .1-.1 .1-.1 .2-.3 .1-.3 .2-.3 .2-.2 .2-.4 0 0 .1 0 .2 .1 .1 .1 .2 .1 .2 .1 .2 .1 0 0 .1 0 .2-.2 .2 0 .2-.2 .1 0 .2-.2 .1-.1 .2-.2 .2-.1 .2-.2 .1-.1 .2-.2 0 0 .2 .4 .2 .4 .1 .3 .2 .5 .1 .3 .2 .4 0 0 .2 .1 .2 .1 .1 .1 .2 .1 .2 .1 .1 .1 .1 .1 .1 .5 .2 .6 .1 .4 .2 .6 .2 .5 .1 .3 .1 0 .1 0 .2 0 .2 0 .2 0 .1 0 .1 0 .1-.1 .1-.2 .2-.2 .2-.2 .2-.2 .1-.1 .1-.1 .1-.2 .2-.1 .2-.2 .1-.2 .2-.2 .1-.2 .1 0 .1 .1 .2 .1 .2 .2 .1 .1 .2 .2 .2 .2 0 0 .3-.1 .3 0 .4-.1 0 0 .3 .5 .4 .5 .3 .5 .3-.4 .4-.4 .3-.3 0 0 .4 .2 .3 .2 .3 .2 0 0 .4 0 .3 .1 .3 0 .1 0 .3-.4 .3-.4 .3-.3 .1-.1 .3-.5 .4-.4 .2-.3 .1-.2 .3-.4 .4-.5 .2-.3 .1 0 .4 .2 .3 .1 .2 .1 .1 .1 .4 .1 .3 .1 .2 0 .2 .4 .3 .9 .3 .8 .2 .5 .2-.1 .3 0 .4 0 .1 0 .2 0 .3 0 .4 .1 .1 0 .2-.5 .4-.8 .3-.7 .1-.2 .2-.2 .4-.2 .3-.2 .1-.1 .3 .1 .3 .1 .3 .2 .1 0 .3 .2 .3 .4 .4 .3 0 0 .3-.3 .3-.4 .4-.4 0-.1 .3 .2 .4 .2 .3 .1 .3-.1 .4-.1 .3-.1 0 0 .4 .3 .3 .3 .3 .3 0-.1 .4-.4 .3-.5 .3-.3 .1 0 .3 .3 .3 .2 .3 .2 .1 0 .3-.3 .4-.2 .2-.1 .1-.1 .3 0 .4 0 .2-.1 .1 .2 .4 .6 .5 1 1 .6 1 1.7 1-.2 1-.5 1-1.6 1 2 1 .8 1-.5 1 2.6 1-.3 1-1.5 1 1 1-.7 1 .2 1-1.2 1-1.6 1-2 1 .2 1 0 1 1.3 1 .8 1 .4 1 1.6 1 .6 1-.3 1-1 1-3.6 1-1.3 1-1.4 1 1.7 1 1.1 1 1.8 1-.5 1-.7 1-.5 1-.4' fill='none' stroke='#dedede' stroke-width='2.2' stroke-linejoin='round'/><path d='M505.5 387.1l1 0 1 0 1 0 1-.1 1 0 1 0 1 0 1-.1 1 0 1 0 1-.1 1 0 1-.1 1 0 1 0 1-.1 1 0 1-.1 1-.1 1 0 1-.1 1 0 1-.1 1-.1 1-.1 1-.1 1-.1 1-.1 1-.1 1-.1 1-.1 1-.1 1-.2 1-.2 1-.1 1-.2 1-.2 1-.3 1-.2 1-.3 1-.4 1-.4 .1 0 .3-.3 .4-.2 .2-.2 .1-.1 .4-.2 .3-.3 .2-.1 .1-.1 .4-.3 .3-.2 .2-.2 .2-.1 .3-.2 .3-.3 .2-.1 .1-.1 .1-.1 .2-.2 .1-.1 .3-.2 .1 0 .1-.1 .1-.1 .1-.1 .3-.2 0-.1 .3-.2 .1-.1 .1-.1 .1-.1 .1 0 .3-.3 .1 0 .2-.3 .1 0 .1-.1 .2-.1 0-.1 .3-.2 .1-.1 .2-.2 .1-.1 .1-.1 .2-.1 .1-.1 .2-.2 .1-.1 .3-.2 0-.1 .1 0 .2-.2 .1-.1 .2-.2 .1-.1 .3-.2 .1-.1 0 0 .2-.2 .1-.1 .3-.2 0 0 .3-.3 .1 0 0 0 .2-.2 .1-.1 .3-.2 .1-.1 .2-.2 .1-.1 .3-.2 0-.1 .3-.2 .1-.1 .2-.2 .1-.1 0 0 .3-.2 .1-.1 .2-.3 .1 0 .3-.3 0 0 0-.1 .3-.2 .1-.1 .2-.3 .1-.1 .3-.3 0 0 .1 0 .2-.3 .1-.1 .3-.3 0-.1 .3-.4 .1-.1 .2-.3 .1-.1 .3-.3 .1-.1 .2-.4 0 0 .1-.1 .3-.4 0-.1 .3-.4 .1-.2 .2-.3 0-.1 .1-.2 .3-.5 .1-.1 .2-.6 .1-.1 .2-.5 .1-.1 0-.2 .3-.6 .1-.2 .2-.6 .1-.2 .2-.5 .1-.2 .1-.2 .2-.7 .1-.2 .3-.7 0-.2 .2-.5 .1-.3 .1-.2 .2-.7 .1-.3 .3-.7 .1-.2 .1-.4 .1-.4 .1-.2 .3-.8 0-.2 .1-.2 .2-.5 .1-.3 0-.1 .1-.2 .1-.4 .1-.2 .1-.2 .2-.6 .1-.2 0-.2 .2-.5 .1-.3 .1-.1 0-.1 .2-.5 0-.2 .1-.2 .2-.5 .1-.3 0-.2 .2-.6 .1-.2 .1-.2 0 0 .2-.6 .1-.3 0-.2 .2-.6 .1-.3 .1-.2 .2-.6 0-.3 .1-.2 .2-.6 .1-.3 0-.2 .2-.7 .1-.2 .1-.2 .2-.7 .1-.3 0-.1 0-.1 .2-.6 .1-.3 .1-.2 .2-.6 0-.2 .1-.2 .2-.6 .1-.3 0 0 0-.1 .2-.6 .1-.2 .1-.2 .2-.5 .1-.2 0-.2 .2-.5 .1-.1 .1-.2 .2-.4 0-.2 .1-.1 .2-.4 .1-.1 0-.2 .2-.4 .1-.1 0 0 .1-.1 .2-.4 .1-.2 0-.1 .2-.4 .1-.1 .1-.2 .2-.3 0-.1 0-.1 .1-.1 .2-.4 .1-.1 0-.1 .2-.4 .1-.1 .1-.1 .2-.3 0 0 .1-.1 0-.1 .2-.3 .1-.1 .1 0 .2-.3 0 0 .1-.1 .2-.2 .1 0 0-.1 .2-.1 .1 0 .1 0 .2-.1 .1 0 0 0 .2 0 0 0 .1 0 .1 0 .2 .1 0 0 .1 .1 .2 .1 .1 0 0 .1 .2 .1 0 0 .1 .1 .1 0 .2 .2 .1 .1 0 .1 .2 .2 .1 .1 .1 0 .1 .2 .1 .1 0 .1 .1 .1 .2 .2 .1 .2 0 0 .2 .3 .1 .2 .1 0 .1 .2 .1 .2 .1 .1 0 .1 .2 .3 .1 .1 .1 .1 .2 .4 0 .1 .1 .1 .1 .2 .1 .2 .1 .1 0 .1 .2 .4 .1 .1 .1 .1 .2 .4 .1 .1 0 .1 .1 .2 .1 .2 .1 .1 .1 .1 .2 .4 0 .1 .1 .1 .2 .3 .1 .2 0 .1 .1 .1 .1 .2 .1 .2 .1 .1 .2 .4 .1 .1 0 .2 .2 .4 .1 .2 .1 .1 0 .1 .2 .4 0 .2 .1 .1 .2 .5 .1 .2 0 .2 .2 .5 .1 .2 .1 .2 0 .1 .2 .4 .1 .3 0 .1 .2 .6 .1 .2 .1 .2 .2 .5 0 .3 .1 .1 .2 .6 .1 .2 0 .2 .2 .5 .1 .2 .1 .2 .2 .6 .1 .2 0 .1 0 0 .2 .5 .1 .3 .1 .1 .2 .5 0 .2 .1 .1 .2 .5 .1 .2 0 0 0 .1 .2 .4 .1 .2 .1 .1 .2 .4 .1 .2 0 .1 .2 .3 .1 .1 .1 .1 .2 .3 0 .1 .1 .1 .2 .2 .1 .1 0 0 .2 .2 .1 .1 0 0 .1 0 .2 .2 .1 0 0 .1 .2 .1 .1 .1 .1 0 .2 .2 0 0 0 0 .1 .1 .2 .1 .1 .1 0 0 .2 .1 .1 .1 .1 0 .2 .1 0 0 .1 .1 0 0 .2 .1 .1 .1 .1 0 .2 .1 0 0 .1 .1 .2 .1 .1 0 0 0 .2 .1 .1 .1 .1 0 .2 .1 .1 0 0 .1 .2 0 0 0 .1 .1 .1 0 .2 .1 0 0 .1 0 .2 .1 .1 0 0 .1 .2 0 0 0 .1 .1 .1 0 .2 .1 .1 0 0 0 .2 .1 .1 0 .1 0 .1 .1 .1 0 0 0 .1 0 .2 .1 .1 0 0 0 .2 .1 .1 0 .1 0 .1 .1 .1 0 .1 0 0 0 .2 .1 .1 0 .1 0 .2 0 0 .1 .1 0 .1 0 .1 0 .1 0 0 0 .2 .1 .1 0 .1 0 .2 0 .1 .1 0 0 .1 0 .1 0 .1 0 .1 0 .2 0 0 .1 .1 0 .2 0 .1 0 0 0 .1 0 .1 0 .1 .1 .1 0 .2 0 .1 0 0 0 .2 0 .2 .1 0 0 .2 0 .1 0 .2 0 .1 .1 .2 0 .2 0 0 0 .2 0 .1 .1 .2 0 .2 0 .2 0 .1 .1 .2 0 .1 0 .2 .1 .2 0 .2 0 .1 .1 0 0 .2 0 .2 .1 .2 0 .1 0 .2 .1 .1 0 0 0 .2 .1 .2 .1 .2 0 .1 .1 .2 .1 .1 0 .1 .1 .2 .1 .1 .1 .2 .2 .1 .1 .2 .2 .1 0 .1 .1 .2 .2 .1 .2 .2 .2 .2 .2 .2 .2 0 .1 .1 .1 .2 .3 .1 .2 .2 .3 .2 .2 .2 .3 0 0 .1 .2 .2 .3 .2 .2 .2 .3 .1 .2 .2 .3 .1 .2 .2 .3 .2 .2 .2 .3 .1 .3 .2 .2 0 .1 .2 .2 .2 .3 .1 .2 .2 .2 .1 .2 .2 .3 0 0 .2 .2 .2 .3 .1 .1 .2 .3 .2 .1 .1 .2 .1 .1 .1 .2 .2 .2 .1 .2 .2 .3 .2 .2 .1 .1 .1 .1 .1 .2 .2 .3 .2 .2 .2 .3 .1 .2 .1 .1 .1 .1 .1 .2 .2 .3 .2 .2 .2 .3 .1 .2 .1 .1 .1 .1 .2 .2 .2 .3 .1 .2 .2 .2 .1 .2 .1 .1 .1 .2 .2 .2 .2 .2 .1 .2 .2 .3 .2 .1 0 .1 .3 .3 .3 .4 .4 .4 0 .1 .3 .3 .4 .4 .3 .3 .3 .3 .4 .3 .3 .3 0 0 .4 .2 .3 .3 .3 .2 0 0 .4 .2 .3 .3 .3 .2 .1 0 .3 .2 .3 .3 .3 .1 .1 .1 .3 .2 .4 .2 .2 .2 .1 0 .3 .2 .4 .2 .2 .2 .1 0 .4 .2 .3 .2 .2 .1 .1 .1 .4 .1 .3 .2 .2 .1 .2 0 .3 .2 .3 .1 .2 .1 .2 0 .3 .1 .4 .1 .1 .1 .2 0 .3 .1 .4 .1 .1 0 .2 0 .4 .1 .3 .2 .1 .1 .2 .1 .4 .2 .3 .2 .1 0 .3 .2 .3 .1 .3 .2 .1 0 .3 .2 .3 .1 .4 .2 0 0 .3 .1 .3 .2 .4 .1 0 0 .3 .1 .4 .1 .3 .1 .3 .1 .4 .2 .3 0 0 .1 .4 0 .3 .1 .3 .1 0 0 .4 .1 .3 .1 .3 .1 .1 0 .3 .1 .3 0 .3 .1 .1 0 .3 .1 .4 0 .2 .1 .1 0 .3 .1 .4 0 .2 .1 .1 0 .4 .1 .5 0 1 .2 1 .1 1 .1 1 .2 1 .1 1 .1 1 0 1 .1 1 .1 1 .1 1 0 1 .1 1 .1 1 0 1 .1 1 0 1 .1 1 0 1 0 1 .1 1 0 1 0 1 .1 1 0 1 0 1 .1 1 0 1 0 1 0 1 .1 1 0 1 0 1 0 1 .1 1 0 1 0' fill='none' stroke='#e2c6ec' stroke-width='2.6'/><path d='M505.5 387.7l1 .1 1-.2 1 2.1 1-2.9 1 .4 1 .6 1-.5 1 1.7 1 .4 1-2.8 1 2.6 1-6.3 1 4.2 1 1.6 1-3.3 1 3.6 1-4.8 1 4 1-1.9 1-1.5 1 .8 1 1.1 1-2.1 1 .2 1 1.6 1 2 1-.8 1 1 1-3.2 1 .9 1 0 1 .1 1 .1 1 2.5 1-2.5 1-.5 1 1 1-3.9 1 .1 1 1.9 1-1.4 1-1.3 .1 .1 .3 .3 .4 .3 .2 .3 .1-.3 .4-.7 .3-.7 .2-.5 .1-.1 .4-.2 .3-.2 .2-.1 .2 .1 .3 .3 .3 .3 .2 .2 .1-.2 .1-.2 .2-.5 .1-.1 .3-.5 .1-.2 .1-.3 .1 .1 .1 .1 .3 .1 0 .1 .3 .1 .1 .1 .1 .1 .1-.5 .1-.2 .3-.8 .1-.3 .2-.8 .1-.2 .1-.3 .2-.1 0 0 .3-.2 .1 0 .2-.1 .1 0 .1-.1 .2-.8 .1-.3 .2-1.1 .1-.3 .3-1.1 0-.4 .1-.2 .2 .9 .1 .4 .2 1.3 .1 .4 .3 1.3 .1 .4 0 .2 .2-1.2 .1-.4 .3-1.3 0-.5 .3-1.3 .1-.4 0-.1 .2 .2 .1 .1 .3 .2 .1 .1 .2 .3 .1 .1 .3 .5 0 .2 .3 .6 .1 .2 .2 .5 .1 .2 0-.1 .3-1.4 .1-.4 .2-1.4 .1-.4 .3-1.4 0-.2 0-.1 .3-.6 .1-.2 .2-.7 .1-.2 .3-.7 0 0 .1 .2 .2 .8 .1 .3 .3 .8 0 .2 .3 .8 .1-.3 .2-1 .1-.3 .3-1 .1-.3 .2-.9 0 0 .1-.1 .3-.2 0-.1 .3-.3 .1-.1 .2-.2 0-.2 .1-.2 .3-.7 .1-.2 .2-.7 .1-.3 .2-.6 .1 0 0 0 .3-.2 .1 0 .2-.2 .1 0 .2-.2 .1-.1 .1-.2 .2-.5 .1-.1 .3-.6 0-.2 .2-.3 .1-.5 .1-.4 .2-1.2 .1-.4 .3-1.3 .1-.3 .1-.7 .1-.2 .1-.1 .3-.3 0-.1 .1-.1 .2-.3 .1-.1 0-.1 .1-.1 .1-.8 .1-.4 .1-.4 .2-1.1 .1-.5 0-.3 .2-1.2 .1-.4 .1-.4 0-.2 .2-.1 0-.1 .1 0 .2-.1 .1-.1 0-.1 .2-.1 .1-.1 .1-.1 0 0 .2-.8 .1-.3 0-.3 .2-.9 .1-.3 .1-.3 .2-.9 0-.4 .1-.2 .2-.4 .1-.2 0-.1 .2-.4 .1-.1 .1-.1 .2-.4 .1-.1 0-.1 0-.1 .2-.9 .1-.3 .1-.3 .2-.8 0-.4 .1-.2 .2-.9 .1-.3 0-.1 0-.1 .2-.6 .1-.3 .1-.1 .2-.6 .1-.2 0-.2 .2-.5 .1-.2 .1 0 .2 .2 0 0 .1 .1 .2 .2 .1 .1 0 0 .2 .2 .1 .1 0-.1 .1-.4 .2-1.2 .1-.4 0-.4 .2-1.2 .1-.4 .1-.4 .2-1.1 0-.3 0 0 .1-.1 .2-.2 .1-.1 0-.1 .2-.2 .1-.1 .1 0 .2-.2 0 0 .1 0 0 .1 .2 .1 .1 .1 .1 .1 .2 .2 0 .1 .1 0 .2 .3 .1-.2 0-.2 .2-.5 .1-.2 .1-.2 .2-.4 .1-.2 0-.1 .2-.4 0 .1 .1 0 .1 .1 .2 .1 0 .1 .1 .1 .2 .2 .1 .1 0 0 .2 .3 0 0 .1 0 .1 .1 .2 .2 .1 0 0 .1 .2 .2 .1 .1 .1 .1 .1 .1 .1 .3 0 .4 .1 .2 .2 1 .1 .3 0 .3 .2 1 .1 .4 .1 .3 .1 .5 .1-.2 .1-.2 0-.2 .2-.5 .1-.2 .1-.2 .2-.5 0-.2 .1-.1 .1-.3 .1 .3 .1 .2 0 .2 .2 .5 .1 .3 .1 .1 .2 .6 .1 .2 0 .2 .1 .2 .1 .3 .1 .2 .1 .1 .2 .5 0 .2 .1 .1 .2 .5 .1 .1 0 .2 .1 .1 .1 .1 .1 .1 .1 .1 .2 .2 .1 .1 0 .1 .2 .3 .1 .1 .1 .1 0 0 .2 .4 0 .2 .1 .1 .2 .5 .1 .2 0 .2 .2 .5 .1 .2 .1 .2 0 0 .2 .8 .1 .3 0 .3 .2 .9 .1 .3 .1 .3 .2 .9 0 .3 .1 .3 .2 .2 .1 0 0 .1 .2 .1 .1 .1 .1 0 .2 .1 .1 .1 0 0 0 .1 .2 1 .1 .4 .1 .2 .2 1 0 .4 .1 .2 .2 .9 .1 .4 0 .1 0 0 .2-.2 .1-.1 .1 0 .2-.2 .1-.1 0-.1 .2-.2 .1-.1 .1 .2 .2 .6 0 .2 .1 .2 .2 .5 .1 .2 0 .1 .2 .5 .1 .2 0 0 .1 .1 .2 .2 .1 .1 0 .1 .2 .3 .1 .1 .1 0 .2 .3 0 0 0 .2 .1 .3 .2 1 .1 .3 0 .3 .2 1 .1 .3 .1 .3 .2 .9 0 .1 .1-.3 0-.4 .2-1.3 .1-.5 .1-.4 .2-1.3 0-.5 .1-.4 .2-1.3 .1 .2 0 .2 .2 .5 .1 .3 .1 .1 .2 .6 .1 .2 0 .2 .2 .5 0 .1 .1 .3 .1 .2 .2 .8 0 .4 .1 .2 .2 .8 .1 .3 0 .2 .2 .7 0-.2 .1-.2 .1-.2 .2-.7 .1-.3 0-.2 .2-.7 .1-.2 .1-.2 .1-.5 .1 .1 0 .2 .1 .2 .2 .5 .1 .1 0 .2 .2 .5 .1 .2 .1 .1 .1 .3 .1 0 .1 0 0-.1 .2 0 .1 0 .1 0 .2-.1 0 0 .1 0 .1-.1 .1-.1 .1-.1 0-.1 .2-.3 .1-.2 .1 0 .2-.4 .1-.1 0-.1 .1-.1 .1 .2 .1 .2 .1 .1 .2 .3 0 .2 .1 .1 .2 .3 .1 .1 0 .2 .1 .1 .1-.4 .1-.1 .1-.2 .2-.4 .1-.2 0-.2 .2-.4 .2-.3 0-.1 .2 .4 .1 .3 .2 .5 .1 .4 .2 .5 .2 .3 0 .1 .2-.4 .1-.4 .2-.5 .2-.3 .2-.5 .1-.4 .2 .7 .1 .5 .2 .6 .2 .5 .2 .7 .1 .4 0-.1 .2-.7 .2-.5 .2-.7 .1-.5 .2-.8 .1-.3 0 .1 .2 .6 .2 .4 .2 .6 .1 .5 .2 .6 .1 .2 .1 .2 .2 .5 .1 .3 .2 .5 .1 .4 .2 .6 .1 .1 .1 .1 .2 0 .1 .1 .2 .1 .2 .1 .2 .1 0 0 .1 .1 .2 .2 .1 .1 .2 .1 .2 .2 .2 .1 0 0 .1 .3 .2 .4 .2 .2 .2 .4 .1 .3 .2 .4 .1 .3 .2 .4 .2 .3 .2 .4 .1 .3 .2 .4 0 .1 .2 .5 .2 .7 .1 .6 .2 .7 .1 .5 .2 .6 0-.1 .2-.2 .2-.3 .1-.3 .2-.3 .2-.2 .1-.3 .1 .1 .1 .2 .2 .2 .1 .2 .2 .3 .2 .1 .1 .2 .1 0 .1 .2 .2 .1 .2 .1 .2 .1 .1 .2 .1 0 .1 .2 .1 .1 .2 .3 .2 .2 .2 .3 .1 .1 .1 .1 .1 .4 .2 .4 .2 .6 .1 .4 .2 .6 .1 .4 .1 .2 .1-.2 .2-.2 .2-.3 .1-.2 .2-.3 .2-.2 0 0 .3 .4 .3 .4 .4 .4 0 .1 .3 .5 .4 .6 .3 .5 .3 .3 .4 .4 .3 .2 0 0 .4 .6 .3 .5 .3 .4 0 0 .4 .2 .3 .1 .3 .1 .1 .1 .3 .7 .3 .6 .3 .5 .1-.1 .3-.5 .4-.5 .2-.4 .1 .5 .3 1.7 .4 1.6 .2 1 .1-.2 .4-.6 .3-.6 .2-.3 .1-.1 .4-.3 .3-.3 .2-.1 .2 .2 .3 .6 .3 .5 .2 .3 .2-.1 .3-.1 .4-.2 .1-.1 .2-.2 .3-.5 .4-.5 .1-.1 .2 .3 .4 .5 .3 .6 .1 .2 .2 .9 .4 1.4 .3 1.3 .1 .3 .3-.5 .3-.6 .3-.6 .1-.1 .3 .4 .3 .6 .4 .6 0 0 .3-.6 .3-.8 .4-.8 0-.1 .3-.4 .4-.5 .3-.5 .3 .5 .4 .5 .3 .5 0 0 .4 .9 .3 .9 .3 .8 0-.1 .4-.7 .3-.7 .3-.6 .1 0 .3 .1 .3 .1 .3 .1 .1 .2 .3 1.1 .4 1 .2 .7 .1-.1 .3-.4 .4-.4 .2-.3 .1 0 .4 .1 .5 .2 1 .6 1 .3 1-.8 1 1.3 1-1.9 1 1.3 1 1.7 1-2.4 1 1.7 1-1 1 2.7 1-.2 1 0 1-.6 1 .5 1-1 1-1.8 1 1.6 1-1.7 1 4.2 1-3 1 .2 1-1.6 1 3.1 1 .7 1-4 1 1.7 1 .6 1 0 1 1.6 1 1.5 1-4.2 1 2.9 1-1.8 1 3.3 1-6.7' fill='none' stroke='#140814' stroke-width='2.2' stroke-linejoin='round'/><path d='M505.5 387.4l1-.1 1 0 1 0 1 0 1 0 1 0 1 0 1-.1 1 0 1 0 1 0 1 0 1 0 1-.1 1 0 1 0 1 0 1 0 1-.1 1 0 1 0 1 0 1-.1 1 0 1 0 1-.1 1 0 1 0 1-.1 1 0 1-.1 1 0 1 0 1-.1 1 0 1-.1 1-.1 1 0 1-.1 1-.1 1-.1 1 0 .1-.1 .3 0 .4 0 .2 0 .1 0 .4-.1 .3 0 .2 0 .1-.1 .4 0 .3 0 .2 0 .2-.1 .3 0 .3 0 .2-.1 .1 0 .1 0 .2 0 .1 0 .3-.1 .1 0 .1 0 .1 0 .1 0 .3 0 0-.1 .3 0 .1 0 .1 0 .1 0 .1 0 .3-.1 .1 0 .2 0 .1 0 .1-.1 .2 0 0 0 .3 0 .1-.1 .2 0 .1 0 .1 0 .2-.1 .1 0 .2 0 .1 0 .3-.1 0 0 .1 0 .2 0 .1 0 .2-.1 .1 0 .3-.1 .1 0 0 0 .2 0 .1 0 .3-.1 0 0 .3-.1 .1 0 0 0 .2 0 .1-.1 .3 0 .1 0 .2-.1 .1 0 .3-.1 0 0 .3-.1 .1 0 .2-.1 .1 0 0 0 .3 0 .1-.1 .2 0 .1-.1 .3 0 0 0 0-.1 .3 0 .1-.1 .2 0 .1-.1 .3 0 0-.1 .1 0 .2-.1 .1 0 .3-.1 0 0 .3-.1 .1 0 .2-.1 .1 0 .3-.1 .1-.1 .2-.1 0 0 .1 0 .3-.1 0-.1 .3-.1 .1 0 .2-.1 0 0 .1 0 .3-.2 .1 0 .2-.1 .1-.1 .2-.1 .1 0 0 0 .3-.2 .1 0 .2-.1 .1-.1 .2-.1 .1 0 .1-.1 .2-.1 .1-.1 .3-.1 0-.1 .2-.1 .1-.1 .1 0 .2-.2 .1 0 .3-.2 .1-.1 .1-.1 .1 0 .1-.1 .3-.2 0-.1 .1 0 .2-.2 .1 0 0-.1 .1 0 .1-.1 .1-.1 .1-.1 .2-.1 .1-.1 0 0 .2-.2 .1-.1 .1-.1 0 0 .2-.1 0-.1 .1-.1 .2-.2 .1 0 0-.1 .2-.2 .1-.1 .1-.1 0 0 .2-.2 .1-.1 0 0 .2-.2 .1-.1 .1-.1 .2-.2 0-.1 .1-.1 .2-.2 .1-.1 0-.1 .2-.3 .1-.1 .1-.1 .2-.2 .1-.1 0-.1 0 0 .2-.3 .1-.1 .1-.1 .2-.3 0-.1 .1-.1 .2-.3 .1-.1 0-.1 0 0 .2-.3 .1-.2 .1-.1 .2-.3 .1-.1 0-.1 .2-.4 .1-.1 .1-.1 .2-.4 0-.2 .1-.1 .2-.3 .1-.2 0-.1 .2-.4 .1-.1 0-.1 .1-.1 .2-.4 .1-.2 0-.1 .2-.4 .1-.2 .1-.1 .2-.5 0-.1 0-.1 .1-.1 .2-.5 .1-.2 0-.1 .2-.5 .1-.2 .1-.1 .2-.5 0-.1 .1-.1 0-.2 .2-.5 .1-.2 .1-.1 .2-.6 0-.2 .1-.1 .2-.6 .1-.2 0-.2 .2-.5 .1-.2 .1-.2 .2-.5 .1-.3 0-.1 .2-.5 0-.1 .1-.2 .1-.2 .2-.6 0-.2 .1-.2 .2-.5 .1-.3 0-.1 .2-.5 0-.1 .1-.2 .1-.2 .2-.5 .1-.2 0-.2 .2-.5 .1-.3 .1-.1 .1-.4 .1-.1 0-.2 .1-.2 .2-.5 .1-.2 0-.1 .2-.5 .1-.2 .1-.1 .1-.2 .1-.2 .1-.2 0-.1 .2-.4 .1-.1 .1-.1 .2-.4 0-.1 .1-.1 .1-.1 .1-.2 .1-.1 0 0 .2-.3 .1 0 .1-.1 .2-.1 .1-.1 0 0 .1-.1 .1 0 .1-.1 .1 0 .2 0 0 0 .1 0 .2 0 .1 .1 0 0 .1 0 .1 .1 .1 .1 .1 0 .2 .2 .1 0 0 .1 .2 .2 .1 .1 .1 .1 0 .1 .2 .2 0 .1 .1 .1 .2 .4 .1 .1 0 .1 .2 .4 .1 .2 .1 .1 0 .1 .2 .3 .1 .2 0 .2 .2 .4 .1 .2 .1 .2 .2 .5 0 .2 .1 .1 .2 .5 .1 .3 0 .1 .2 .6 .1 .2 .1 .1 .2 .6 .1 .2 0 .1 0 .1 .2 .5 .1 .3 .1 .1 .2 .6 0 .2 .1 .2 .2 .6 .1 .2 0 .1 0 .1 .2 .5 .1 .3 .1 .1 .2 .6 .1 .2 0 .2 .2 .5 .1 .2 .1 .2 .2 .5 0 .2 .1 .2 .2 .5 .1 .2 0 .2 .2 .5 .1 .1 0 .1 .1 .1 .2 .5 .1 .2 0 .2 .2 .4 .1 .2 .1 .2 .2 .4 0 .1 0 .1 .1 .1 .2 .5 .1 .2 0 .1 .2 .4 .1 .2 .1 .1 .2 .4 0 .1 .1 .1 0 .1 .2 .4 .1 .2 .1 .1 .2 .3 0 .2 .1 .1 .2 .4 .1 .1 0 .1 .2 .4 .1 .1 .1 .1 .2 .3 .1 .2 0 .1 .2 .2 0 .1 .1 .1 .1 .1 .2 .3 0 .1 .1 .1 .2 .3 .1 .1 0 .1 .2 .2 0 .1 .1 .1 .1 .1 .2 .2 .1 .1 0 .1 .2 .3 .1 .1 .1 0 .1 .2 .1 .1 0 .1 .1 0 .2 .3 .1 .1 0 0 .2 .2 .1 .1 .1 .1 .1 .1 .1 .1 .1 .1 0 .1 .2 .2 .1 0 .1 .1 .2 .2 0 .1 .1 0 .1 .1 .1 .1 .1 .1 0 0 .2 .2 .1 .1 .1 0 .2 .2 .1 .1 0 0 .1 .1 .1 .1 .1 0 .1 .1 .2 .1 0 .1 .1 0 .2 .2 .1 .1 0 0 .1 0 .1 .1 .1 .1 .1 0 .2 .2 .1 0 0 .1 .2 .1 .2 .1 0 0 .2 .1 .1 .1 .2 .1 .1 .1 .2 .1 .2 .1 0 0 .2 .1 .1 .1 .2 .1 .2 .1 .2 .1 .1 0 .2 .1 .1 .1 .2 .1 .2 .1 .2 .1 .1 0 0 0 .2 .1 .2 .1 .2 0 .1 .1 .2 .1 .1 0 0 0 .2 .1 .2 .1 .2 .1 .1 0 .2 .1 .1 0 .1 0 .2 .1 .1 0 .2 .1 .1 .1 .2 0 .1 0 .1 .1 .2 0 .1 .1 .2 0 .2 .1 .2 0 0 .1 .1 0 .2 0 .1 .1 .2 0 .2 .1 .2 0 0 0 .1 .1 .2 0 .2 0 .2 .1 .1 0 .2 .1 .1 0 .2 .1 .2 0 .2 0 .1 .1 .2 0 0 0 .2 0 .2 .1 .1 0 .2 .1 .1 0 .2 0 0 0 .2 0 .2 .1 .1 0 .2 .1 .2 0 .1 0 .1 0 .1 0 .2 .1 .1 0 .2 0 .2 .1 .1 0 .1 0 .1 0 .2 0 .2 .1 .2 0 .1 0 .1 0 .1 .1 .1 0 .2 0 .2 0 .2 .1 .1 0 .1 0 .1 0 .2 0 .2 0 .1 .1 .2 0 .1 0 .1 0 .1 0 .2 .1 .2 0 .1 0 .2 0 .2 0 0 0 .3 .1 .3 0 .4 .1 0 0 .3 0 .4 0 .3 .1 .3 0 .4 0 .3 .1 0 0 .4 0 .3 0 .3 .1 0 0 .4 0 .3 0 .3 0 .1 0 .3 .1 .3 0 .3 0 .1 0 .3 .1 .4 0 .2 0 .1 0 .3 0 .4 .1 .2 0 .1 0 .4 0 .3 0 .2 0 .1 0 .4 .1 .3 0 .2 0 .2 0 .3 0 .3 0 .2 .1 .2 0 .3 0 .4 0 .1 0 .2 0 .3 0 .4 .1 .1 0 .2 0 .4 0 .3 0 .1 0 .2 0 .4 0 .3 0 .1 0 .3 .1 .3 0 .3 0 .1 0 .3 0 .3 0 .4 0 0 0 .3 0 .3 .1 .4 0 0 0 .3 0 .4 0 .3 0 .3 0 .4 0 .3 0 0 0 .4 .1 .3 0 .3 0 0 0 .4 0 .3 0 .3 0 .1 0 .3 0 .3 0 .3 0 .1 0 .3 0 .4 .1 .2 0 .1 0 .3 0 .4 0 .2 0 .1 0 .4 0 .5 0 1 0 1 .1 1 0 1 0 1 0 1 0 1 .1 1 0 1 0 1 0 1 0 1 0 1 .1 1 0 1 0 1 0 1 0 1 0 1 0 1 .1 1 0 1 0 1 0 1 0 1 0 1 0 1 0 1 0 1 0 1 0 1 0 1 .1 1 0 1 0 1 0 1 0' fill='none' stroke='#3b6ee6' stroke-width='1.8'/><path d='M505.5 387.7l1 0 1 0 1 0 1 0 1-.1 1 0 1 0 1 0 1 0 1 0 1 0 1 0 1-.1 1 0 1 0 1 0 1 0 1-.1 1 0 1 0 1 0 1 0 1-.1 1 0 1 0 1-.1 1 0 1 0 1-.1 1 0 1-.1 1 0 1-.1 1 0 1-.1 1 0 1-.1 1-.1 1-.1 1-.1 1-.1 1-.1 .1 0 .3 0 .4-.1 .2 0 .1 0 .4-.1 .3 0 .2 0 .1-.1 .4 0 .3-.1 .2 0 .2 0 .3-.1 .3 0 .2 0 .1-.1 .1 0 .2 0 .1 0 .3-.1 .1 0 .1 0 .1-.1 .1 0 .3 0 0 0 .3-.1 .1 0 .1 0 .1-.1 .1 0 .3 0 .1-.1 .2 0 .1 0 .1-.1 .2 0 0 0 .3-.1 .1 0 .2-.1 .1 0 .1 0 .2-.1 .1 0 .2-.1 .1 0 .3-.1 0 0 .1 0 .2-.1 .1 0 .2-.1 .1 0 .3-.1 .1 0 0-.1 .2 0 .1-.1 .3-.1 0 0 .3-.1 .1 0 0 0 .2-.1 .1-.1 .3-.1 .1 0 .2-.1 .1-.1 .3-.1 0 0 .3-.2 .1 0 .2-.1 .1-.1 0 0 .3-.1 .1-.1 .2-.1 .1-.1 .3-.1 0-.1 0 0 .3-.1 .1-.1 .2-.2 .1 0 .3-.2 0 0 .1-.1 .2-.2 .1 0 .3-.2 0-.1 .3-.2 .1-.1 .2-.2 .1-.1 .3-.2 .1-.1 .2-.2 0-.1 .1 0 .3-.3 0-.1 .3-.3 .1-.1 .2-.2 0-.1 .1-.1 .3-.3 .1-.1 .2-.3 .1-.1 .2-.3 .1-.1 0-.1 .3-.4 .1-.1 .2-.4 .1-.1 .2-.3 .1-.2 .1-.1 .2-.4 .1-.2 .3-.4 0-.2 .2-.3 .1-.2 .1-.1 .2-.6 .1-.1 .3-.6 .1-.1 .1-.3 .1-.3 .1-.2 .3-.6 0-.2 .1-.1 .2-.5 .1-.2 0-.1 .1-.2 .1-.3 .1-.2 .1-.2 .2-.5 .1-.2 0-.2 .2-.5 .1-.2 .1-.2 0-.1 .2-.4 0-.2 .1-.2 .2-.5 .1-.3 0-.1 .2-.6 .1-.2 .1-.1 0-.1 .2-.5 .1-.2 0-.2 .2-.5 .1-.2 .1-.2 .2-.5 0-.2 .1-.2 .2-.5 .1-.1 0-.2 .2-.5 .1-.1 .1-.2 .2-.4 .1-.1 0-.1 0-.1 .2-.3 .1-.2 .1-.1 .2-.3 0-.1 .1-.1 .2-.2 .1-.1 0 0 0-.1 .2-.1 .1-.1 .1 0 .2-.1 .1-.1 0 0 .2 0 .1 0 .1 0 .2 .1 0 0 .1 0 .2 .2 .1 .1 0 0 .2 .2 .1 .1 0 0 .1 .1 .2 .3 .1 .1 0 .1 .2 .3 .1 .2 .1 .1 .2 .4 0 .1 0 .1 .1 .1 .2 .4 .1 .2 0 .2 .2 .4 .1 .2 .1 .2 .2 .5 0 .1 .1 .1 0 .2 .2 .5 .1 .2 .1 .2 .2 .5 0 .2 .1 .2 .2 .5 .1 .3 0 .1 .2 .6 .1 .2 .1 .2 .2 .5 .1 .2 0 .2 .2 .5 0 0 .1 .2 .1 .2 .2 .5 0 .2 .1 .2 .2 .5 .1 .2 0 .1 .2 .4 0 .1 .1 .2 .1 .1 .2 .5 .1 .2 0 .1 .2 .5 .1 .2 .1 .1 .1 .3 .1 .1 0 .2 .1 .1 .2 .4 .1 .2 0 .1 .2 .4 .1 .1 .1 .2 .1 .2 .1 .1 .1 .2 0 .1 .2 .3 .1 .2 .1 .1 .2 .3 0 .1 .1 .1 .1 .2 .1 .2 .1 .1 0 .1 .2 .3 .1 .1 .1 .1 .2 .3 .1 .1 0 0 .1 .2 .1 .1 .1 .1 .1 .1 .2 .3 0 .1 .1 0 .2 .3 .1 .1 0 0 .1 .1 .1 .2 .1 0 .1 .1 .2 .2 .1 .1 0 .1 .2 .2 .1 .1 .1 0 0 .1 .2 .1 0 .1 .1 0 .2 .2 .1 .1 0 0 .2 .2 .1 .1 .1 0 0 0 .2 .2 .1 .1 0 0 .2 .2 .1 0 .1 .1 .2 .1 0 .1 .1 0 .2 .2 .1 0 0 0 .2 .2 .1 0 .1 .1 .2 .1 .1 0 0 .1 0 0 .2 .1 .1 0 .1 .1 .2 .1 0 0 .1 .1 .2 .1 .1 0 0 0 0 .1 .2 .1 .1 0 .1 0 .2 .1 .1 .1 0 0 .2 .1 .1 0 .1 0 .2 .1 0 .1 .1 0 .2 .1 .1 0 0 0 .2 .1 .1 0 0 .1 .1 0 .2 .1 .1 0 0 0 .2 .1 .1 0 .1 0 .2 .1 0 0 0 0 .1 .1 .2 0 .1 0 0 .1 .2 0 .1 .1 .1 0 .2 0 0 0 .1 .1 0 0 .2 0 .1 .1 .1 0 .2 0 0 .1 .1 0 .2 0 .1 .1 0 0 .2 0 .1 0 .1 .1 .2 0 .1 0 0 0 .2 .1 0 0 .1 0 .1 0 .2 .1 0 0 .1 0 .2 0 .1 .1 0 0 .2 0 0 0 .1 0 .1 0 .2 .1 .1 0 0 0 .2 .1 .1 0 .1 0 .1 0 .1 0 0 0 .1 0 .2 .1 .1 0 0 0 .2 0 .1 .1 .1 0 .1 0 .1 0 .1 0 0 0 .2 .1 .1 0 .1 0 .2 0 0 0 .1 0 .1 .1 .1 0 .1 0 0 0 .2 0 .1 0 .1 0 .2 .1 .1 0 0 0 .1 0 .1 0 .1 0 .1 0 .2 .1 0 0 .1 0 .2 0 .1 0 0 0 .1 0 .1 0 .1 .1 .1 0 .2 0 .1 0 0 0 .2 0 .2 0 0 0 .2 .1 .1 0 .2 0 .1 0 .2 0 .2 .1 0 0 .2 0 .1 0 .2 0 .2 0 .2 0 .1 .1 .2 0 .1 0 .2 0 .2 0 .2 0 .1 0 0 0 .2 .1 .2 0 .2 0 .1 0 .2 0 .1 0 0 0 .2 0 .2 .1 .2 0 .1 0 .2 0 .1 0 .1 0 .2 0 .1 0 .2 0 .1 .1 .2 0 .1 0 .1 0 .2 0 .1 0 .2 0 .2 0 .2 0 0 0 .1 0 .2 .1 .1 0 .2 0 .2 0 .2 0 0 0 .1 0 .2 0 .2 0 .2 0 .1 0 .2 .1 .1 0 .2 0 .2 0 .2 0 .1 0 .2 0 0 0 .2 0 .2 0 .1 0 .2 0 .1 0 .2 .1 0 0 .2 0 .2 0 .1 0 .2 0 .2 0 .1 0 .1 0 .1 0 .2 0 .1 0 .2 0 .2 0 .1 0 .1 0 .1 0 .2 .1 .2 0 .2 0 .1 0 .1 0 .1 0 .1 0 .2 0 .2 0 .2 0 .1 0 .1 0 .1 0 .2 0 .2 0 .1 0 .2 0 .1 0 .1 0 .1 0 .2 .1 .2 0 .1 0 .2 0 .2 0 0 0 .3 0 .3 0 .4 0 0 0 .3 0 .4 0 .3 0 .3 0 .4 .1 .3 0 0 0 .4 0 .3 0 .3 0 0 0 .4 0 .3 0 .3 0 .1 0 .3 0 .3 0 .3 0 .1 0 .3 0 .4 0 .2 .1 .1 0 .3 0 .4 0 .2 0 .1 0 .4 0 .3 0 .2 0 .1 0 .4 0 .3 0 .2 0 .2 0 .3 0 .3 0 .2 0 .2 0 .3 0 .4 0 .1 0 .2 0 .3 0 .4 .1 .1 0 .2 0 .4 0 .3 0 .1 0 .2 0 .4 0 .3 0 .1 0 .3 0 .3 0 .3 0 .1 0 .3 0 .3 0 .4 0 0 0 .3 0 .3 0 .4 0 0 0 .3 0 .4 0 .3 0 .3 0 .4 0 .3 0 0 0 .4 0 .3 .1 .3 0 0 0 .4 0 .3 0 .3 0 .1 0 .3 0 .3 0 .3 0 .1 0 .3 0 .4 0 .2 0 .1 0 .3 0 .4 0 .2 0 .1 0 .4 0 .5 0 1 0 1 0 1 0 1 0 1 0 1 0 1 .1 1 0 1 0 1 0 1 0 1 0 1 0 1 0 1 0 1 0 1 0 1 0 1 0 1 0 1 0 1 0 1 0 1 0 1 0 1 0 1 0 1 0 1 0 1 0 1 .1 1 0 1 0 1 0 1 0 1 0' fill='none' stroke='#ff2020' stroke-width='1.7'/><path d='M505.5 387.8l1 0 1 0 1 0 1 0 1 0 1 0 1 0 1 0 1 0 1 0 1 0 1 0 1 0 1 0 1-.1 1 0 1 0 1 0 1 0 1 0 1 0 1 0 1 0 1 0 1 0 1 0 1 0 1 0 1-.1 1 0 1 0 1 0 1 0 1 0 1 0 1 0 1 0 1-.1 1 0 1 0 1 0 1 0 .1 0 .3 0 .4 0 .2 0 .1 0 .4 0 .3 0 .2-.1 .1 0 .4 0 .3 0 .2 0 .2 0 .3 0 .3 0 .2 0 .1 0 .1 0 .2 0 .1 0 .3 0 .1 0 .1 0 .1 0 .1 0 .3 0 0 0 .3 0 .1 0 .1 0 .1 0 .1 0 .3 0 .1 0 .2-.1 .1 0 .1 0 .2 0 0 0 .3 0 .1 0 .2 0 .1 0 .1 0 .2 0 .1 0 .2 0 .1 0 .3 0 0 0 .1 0 .2 0 .1 0 .2 0 .1 0 .3 0 .1 0 0 0 .2 0 .1 0 .3 0 0 0 .3-.1 .1 0 0 0 .2 0 .1 0 .3 0 .1 0 .2 0 .1 0 .3 0 0 0 .3 0 .1 0 .2 0 .1 0 0 0 .3 0 .1 0 .2 0 .1 0 .3-.1 0 0 0 0 .3 0 .1 0 .2 0 .1 0 .3 0 0 0 .1 0 .2 0 .1 0 .3 0 0 0 .3 0 .1 0 .2 0 .1 0 .3-.1 .1 0 .2 0 0 0 .1 0 .3 0 0 0 .3 0 .1 0 .2 0 0 0 .1 0 .3 0 .1 0 .2 0 .1 0 .2-.1 .1 0 0 0 .3 0 .1 0 .2 0 .1 0 .2 0 .1 0 .1 0 .2 0 .1 0 .3 0 0 0 .2-.1 .1 0 .1 0 .2 0 .1 0 .3 0 .1 0 .1 0 .1 0 .1 0 .3 0 0 0 .1 0 .2-.1 .1 0 0 0 .1 0 .1 0 .1 0 .1 0 .2 0 .1 0 0 0 .2 0 .1 0 .1 0 0 0 .2 0 0-.1 .1 0 .2 0 .1 0 0 0 .2 0 .1 0 .1 0 0 0 .2 0 .1 0 0 0 .2 0 .1 0 .1-.1 .2 0 0 0 .1 0 .2 0 .1 0 0 0 .2 0 .1 0 .1 0 .2 0 .1-.1 0 0 0 0 .2 0 .1 0 .1 0 .2 0 0 0 .1 0 .2 0 .1 0 0 0 0-.1 .2 0 .1 0 .1 0 .2 0 .1 0 0 0 .2 0 .1 0 .1 0 .2-.1 0 0 .1 0 .2 0 .1 0 0 0 .2 0 .1 0 0 0 .1-.1 .2 0 .1 0 0 0 .2 0 .1 0 .1 0 .2 0 0-.1 0 0 .1 0 .2 0 .1 0 0 0 .2 0 .1 0 .1 0 .2-.1 0 0 .1 0 0 0 .2 0 .1 0 .1 0 .2-.1 0 0 .1 0 .2 0 .1 0 0 0 .2-.1 .1 0 .1 0 .2 0 .1 0 0 0 .2-.1 0 0 .1 0 .1 0 .2 0 0 0 .1 0 .2-.1 .1 0 0 0 .2 0 0 0 .1 0 .1 0 .2-.1 .1 0 0 0 .2 0 .1 0 .1-.1 .1 0 .1 0 0 0 .1 0 .2-.1 .1 0 0 0 .2 0 .1 0 .1-.1 .1 0 .1 0 .1 0 0 0 .2-.1 .1 0 .1 0 .2 0 0-.1 .1 0 .1 0 .1 0 .1 0 0 0 .2-.1 .1 0 .1 0 .2-.1 .1 0 0 0 .1 0 .1-.1 .1 0 .1 0 .2 0 0-.1 .1 0 .2 0 .1-.1 0 0 .1 0 .1 0 .1 0 .1-.1 .2 0 .1 0 0-.1 .2 0 .1 0 .1-.1 0 0 .2 0 0-.1 .1 0 .2 0 .1-.1 0 0 .2-.1 .1 0 .1 0 0 0 .2-.1 .1 0 0 0 .2-.1 .1 0 .1 0 .2-.1 0 0 .1-.1 .2 0 .1-.1 0 0 .2-.1 .1 0 .1 0 .2-.1 .1-.1 0 0 0 0 .2-.1 .1 0 .1 0 .2-.1 0-.1 .1 0 .2-.1 .1 0 0 0 0-.1 .2-.1 .1 0 .1 0 .2-.1 .1-.1 0 0 .2-.1 .1-.1 .1 0 .2-.1 0 0 .1-.1 .2-.1 .1 0 0-.1 .2-.1 .1 0 0-.1 .1 0 .2-.1 .1-.1 0 0 .2-.1 .1-.1 .1 0 .2-.2 0 0 0 0 .1-.1 .2-.1 .1-.1 0 0 .2-.2 .1 0 .1-.1 .2-.1 0 0 .1-.1 0 0 .2-.2 .1-.1 .1 0 .2-.2 0 0 .1-.1 .2-.2 .1 0 0-.1 .2-.2 .1-.1 .1 0 .2-.2 .1-.1 0 0 .2-.2 0 0 .1-.1 .1-.1 .2-.2 0-.1 .1 0 .2-.2 .1-.1 0-.1 .2-.2 0 0 .1-.1 .1-.1 .2-.2 .1-.1 0-.1 .2-.2 .1-.1 .1-.1 .1-.1 .1-.1 0-.1 .1-.1 .2-.2 .1-.1 0-.1 .2-.2 .1-.2 .1 0 .1-.2 .1-.1 .1-.1 0-.1 .2-.2 .1-.2 .1 0 .2-.3 0-.1 .1-.1 .1-.1 .1-.2 .1-.1 0-.1 .2-.3 .1-.1 .1 0 .2-.3 .1-.1 0-.1 .1-.1 .1-.2 .1-.1 .1-.1 .2-.3 0-.1 .1-.1 .2-.3 .1-.1 0-.1 .1 0 .1-.2 .1-.1 .1-.1 .2-.3 .1-.1 0-.1 .2-.2 .2-.2 0-.1 .2-.2 .1-.1 .2-.3 .1-.1 .2-.2 .2-.2 0 0 .2-.2 .1-.1 .2-.2 .2-.1 .2-.1 .1-.1 .2-.2 .1-.1 .2-.1 .2 0 .2-.1 .1 0 0 0 .2-.1 .2 0 .2 0 .1 0 .2 0 .1 0 0 0 .2 .1 .2 0 .2 .1 .1 .1 .2 .1 .1 0 .1 .1 .2 .1 .1 .1 .2 .2 .1 .1 .2 .2 .1 0 .1 .1 .2 .2 .1 .1 .2 .3 .2 .1 .2 .3 0 0 .1 .1 .2 .3 .1 .1 .2 .3 .2 .2 .2 .3 0 0 .1 .2 .2 .2 .2 .2 .2 .3 .1 .2 .2 .3 .1 .2 .2 .3 .2 .2 .2 .2 .1 .2 .2 .3 0 0 .2 .2 .2 .3 .1 .2 .2 .2 .1 .2 .2 .2 0 .1 .2 .2 .2 .2 .1 .2 .2 .3 .2 .2 .1 .1 .1 .1 .1 .2 .2 .2 .1 .2 .2 .2 .2 .2 .1 .1 .1 .1 .1 .2 .2 .2 .2 .1 .2 .2 .1 .2 .1 .1 .1 .1 .1 .1 .2 .2 .2 .2 .2 .1 .1 .2 .1 0 .1 .2 .2 .1 .2 .2 .1 .1 .2 .1 .1 .2 .1 0 .1 .1 .2 .1 .2 .2 .1 .1 .2 .1 .2 .1 0 .1 .3 .2 .3 .2 .4 .2 0 0 .3 .2 .4 .2 .3 .2 .3 .2 .4 .2 .3 .2 0 0 .4 .1 .3 .2 .3 .1 0 .1 .4 .1 .3 .1 .3 .2 .1 0 .3 .1 .3 .1 .3 .1 .1 .1 .3 .1 .4 .1 .2 .1 .1 0 .3 .1 .4 .1 .2 .1 .1 0 .4 .1 .3 .1 .2 0 .1 .1 .4 0 .3 .1 .2 .1 .2 0 .3 .1 .3 0 .2 .1 .2 0 .3 .1 .4 .1 .1 0 .2 0 .3 .1 .4 0 .1 .1 .2 0 .4 0 .3 .1 .1 0 .2 .1 .4 0 .3 .1 .1 0 .3 0 .3 0 .3 .1 .1 0 .3 0 .3 .1 .4 0 0 0 .3 .1 .3 0 .4 0 0 0 .3 .1 .4 0 .3 0 .3 .1 .4 0 .3 0 0 0 .4 .1 .3 0 .3 0 0 0 .4 .1 .3 0 .3 0 .1 0 .3 0 .3 .1 .3 0 .1 0 .3 0 .4 0 .2 .1 .1 0 .3 0 .4 0 .2 0 .1 0 .4 0 .5 .1 1 0 1 .1 1 0 1 .1 1 0 1 .1 1 0 1 0 1 .1 1 0 1 0 1 .1 1 0 1 0 1 0 1 .1 1 0 1 0 1 0 1 0 1 .1 1 0 1 0 1 0 1 0 1 0 1 .1 1 0 1 0 1 0 1 0 1 0 1 0 1 0 1 0 1 .1' fill='none' stroke='#ff2020' stroke-width='1.7'/><path d='M405.5 453l1-.3 1 .4 1 .3 1 .1 1-.2 1 .4 1-.2 1-.1 1-.6 1-.1 1-.1 1 .5 1-.4 1 .2 1 .3 1-.1 1-.4 1 .6 1 .1 1 .3 1-.4 1 .2 1-.1 1-.4 1-.4 1 .1 1 0 1 .6 1-.2 1 .3 1 .1 1-.2 1-.1 1 0 1-.1 1 .2 1 0 1-.1 1-.2 1-.4 1 0 1 .1 1 0 1-.3 1 .2 1-.3 1-.2 1 0 1-.6 .5-.1 .2 0 .3-.5 .3-.4 .2-.6 .2 0 .3-.2 .3-.2 .2-.2 .2-.6 .3-.7 .3-1.1 .2-1.6 .2-1.3 .3-1.9 .3-2.1 .2-1.9 .2-2.7 .3-4 .3-5.8 .2-6.4 .2-8.5 .3-8.4 .3-6.9 .2-2.3 .2 3 .3 7.4 .3 7.9 .2 8 .2 6.4 .3 5.2 .3 3.9 .2 3.3 .2 2.1 .3 1.7 .3 1.6 .2 1.8 .2 1.2 .3 .8 .3 1.2 .2 .5 .2 .5 .3 .1 .3 .3 .2 .3 .2 .2 .3 .2 .3 .5 .2 .3 1 .2 1 .3 1-.2 1 .5 1 0 1 .3 1 .3 1 0 1 .1 1-.4 1 .1 1 .1 1 0 1 .1 1 0 1-.1 1 0 1-.2 1 .2 1 .3 1-.2 1-.3 1 0 1 .3 1 .2 1 .7 1-.1' fill='none' stroke='#111' stroke-width='1.3' stroke-linejoin='round'/><path d='M496.2 453.5h3.2M501.7 454.3h3.4' stroke='#222' stroke-width='1.2'/><path d='M505.5 455.9l1 .9 1 .5 1-1.1 1-2.6 1 .4 1-1.1 1 .2 1 .4 1-.1 1 .3 1 0 1 1.5 1 .6 1-.7 1-1.1 1 .8 1-.5 1 .4 1 1.2 1 1.7 1 .4 1-1.7 1-1 1-.2 1-.2 1 .5 1 .4 1-1.1 1-.4 1-2.1 1 0 1-.6 1-.1 1 1 1 1.6 1 2.5 1-.2 1 1.6 1 .2 1-.7 1 .7 1-2.2 1 .8 1-1 1-1.4 1-1.5 1-2 .5-.2 .3-.2 .2 0 .2 .1 .1 .1 .2 .2 .1 .1 .3 .1 .1 .1 0 .1 .2-.1 .1 0 .2 0 .2-.1 .2 0 .1 0 .2 .1 .1 .1 .3 .1 .1 0 .2 .2 .1 0 0 .1 .2 .5 .2 .3 .2 .5 .1 .3 .2 .6 .1 .1 0 .1 .3 .3 .1 .1 .2 .3 .1 .1 .2 .3 .1 .1 .1 0 .2 .1 .1 0 .2 .1 .1 0 .3 .1 0 0 .1 0 .2 .1 .1 0 .2 .1 .2 0 .2 .1 0 0 .1-.1 .2-.2 .1-.1 .3-.2 .1-.1 .2-.2 .1 0 .2 .1 .2 0 .2 .1 .1 0 .2 0 0 .1 .1 .1 .3 .2 .1 .2 .2 .2 .1 .2 .2 .2 0 0 .2 .1 .2 .1 .1 .1 .2 .1 .1 .1 .2 .1 .1 0 .1 0 .2 0 .1 0 .2 0 .2 0 .1 0 .1-.1 .1-.1 .2-.3 .1-.1 .3-.3 .1-.1 .1-.1 .1 .1 .1 .1 .2 .2 .2 .1 .2 .2 .1 .1 .1 .1 .1-.1 .1 0 .3 0 .1-.1 .2 0 .1-.1 .1 0 .1 .1 .2 .1 .2 .1 .1 .1 .2 .1 .1 .1 .1 .1 .2 .1 0 0 .1 .1 .2 .2 0 0 .1 .1 .2 .1 .1 .1 .1 0 0 .1 .2-.3 0 0 .1-.1 .2-.3 .1-.1 0-.1 .3-.2 0-.1 .1-.1 0 0 .2 .2 0 .1 .1 0 .2 .3 .1 0 .1 .1 .2 .3 0 0 .1 .1 .2-.3 .1-.1 0-.1 .3-.4 0 0 .1-.1 .2-.4 0-.1 .1-.1 0 0 .2 0 .1 0 .1 0 .2 0 0 0 .1 0 .2 0 .1 0 0 0 0-.1 .3-.3 0 0 .1-.2 .2-.3 0-.1 .1-.1 .2-.3 .1-.1 0 0 .1 .1 .2 .2 0 0 .1 .1 .2 .2 .1 .1 0 .1 .3 .2 0 0 .1 0 .2 0 0 0 .1-.1 .2 0 .1 0 .1 0 .2-.1 0 0 0 0 .1 .1 .2 .1 .1 .1 0 0 .3 .2 0 0 .1 0 .2 .2 0 0 .1 .1 .2 .1 .1 .1 .1 0 .2 .2 0 0 .1 .1 .2 .1 0 0 .1 0 0-.1 .3-.2 0 0 .1-.1 .2-.2 0 0 .1-.1 .2-.2 0 0 .1-.1 .1-.2 .2-.4 0 0 .1-.2 .2-.4 .1 0 0-.2 .2-.3 .1 0 0 .1 .1 0 .2 0 0 0 .1 .1 .2 0 .1 0 .1 .1 .1 0 .1 .1 0 .1 .1 .1 .2 .2 .1 .1 0 .1 .3 .2 0 .1 .1 .1 .1 .1 .1 .2 0 0 .1 .1 .2 .3 .1 0 .1 .1 .2 .3 0 .1 .1 .1 .1 .1 .1 .2 .1 .1 0 .2 .3 .4 0 .1 .1 .2 .2 .4 0 .1 .1 .2 .1 .1 .1 .1 .1 0 .1 0 .2 .1 0 0 .1 .1 .2 0 .1 0 0 .1 .1 0 .2-.1 0 0 .1-.1 .2-.1 0-.1 .1 0 .2-.2 .1 0 .1 0 0-.1 .2-.2 0 0 .1-.1 .2-.2 .1-.1 0 0 .3-.3 0 0 .1-.1 0 0 .2-.4 0-.1 .1-.1 .2-.5 .1 0 .1-.2 .2-.4 0-.1 .1-.2 .2-.3 .1-.1 0-.1 .3-.3 0-.1 .1-.1 .2-.3 0-.1 .1-.1 0 0 .2-.2 .1-.1 .1 0 .2-.3 0 0 .1-.1 .2-.2 .1 0 0-.1 0 0 .3-.1 0 0 .1 0 .2-.1 0 0 .1 0 .2-.1 .1 0 0 0 .1-.1 .2-.1 0-.1 .1 0 .2-.2 .1 0 0-.1 .3-.2 0 0 .1 0 .2 .1 0 0 .1 .1 .2 .1 .1 0 .1 0 .2 .1 0 .1 0 0 .1 .2 .2 .5 .1 0 0 .2 .3 .5 0 .1 .1 .2 .2 .5 0 0 .1 .1 .2 .4 .1 0 .1 .1 .2 .3 0 .1 .1 .1 .2 .3 0 0 .1 0 0 .1 .3 .1 0 0 .1 .1 .2 .1 0 0 .1 0 .2 .1 0 0 .1 0 .1 0 .2-.1 0 0 .1 0 .2-.1 .1 0 0-.1 .2 0 .1 0 0 0 .1 0 .2 .1 0 0 .1 0 .2 0 .1 0 .1 .1 .1 0 .1 0 0 0 .1 .1 .2 0 .1 .1 0 0 .3 .1 0 0 .1 0 .1 .1 .1 0 0 0 .1 .1 .2 .1 .1 0 .1 .1 .2 .1 .1 0 .1 .1 .2-.2 0 0 .3-.3 .1 0 .2-.3 .1 0 .1-.1 .2 .3 .1 .1 .2 .4 .1 .1 .3 .4 0 .1 .1 .1 .2-.2 .1-.1 .2-.3 .1-.1 .3-.3 .1-.1 0 0 .2 0 .1 .1 .3 0 0 .1 .3 .1 .1 0 0 0 .2 .1 .1 0 .3 .2 .1 0 .2 .1 .1 0 .3-.3 0-.1 .3-.3 .1-.1 .2-.4 .1 0 0-.1 .3-.1 .1-.1 .2-.2 .1-.1 .3-.2 0 0 0 0 .3-.2 .1-.1 .2-.2 .1 0 .3-.2 0-.1 .1 .1 .2 .1 .1 .1 .3 .1 0 .1 .3 .1 .1 0 .2-.1 .1 0 .3-.1 .1 0 .2-.1 0 0 .1-.1 .3-.1 0-.1 .3-.2 .1 0 .2-.2 0 0 .1 .1 .3 .1 .1 .1 .2 .1 .1 .1 .2 .1 .1 0 0 0 .3 0 .1 0 .2 0 .1 0 .2 0 .1 .1 .1 0 .2 .2 .1 .1 .3 .2 0 0 .2 .1 .1 .1 .1 0 .2 .2 .1 0 .3 .2 .1 0 .1 .1 .1 .2 .1 .1 .3 .4 0 .1 .3 .4 .1 .1 .1 .2 .1-.3 .1-.1 .3-.5 .1-.2 .2-.5 .1-.2 .1-.2 .2-.2 0-.1 .3-.4 .1-.2 .2-.4 .1-.1 .1-.1 .2-.6 .1-.2 .2-.7 .1-.3 .3-.7 0-.3 .1-.2 .2 .2 .1 .1 .2 .2 .1 0 .3 .2 .1 .1 0 0 .2 .2 .1 .1 .3 .2 0 0 .3 .3 .1 0 0 0 .2 .4 .1 .1 .3 .4 .1 .1 .2 .4 .1 .1 .3-.4 .3-.6 .3-.6 .1-.1 .3 .3 .3 .4 .4 .3 0 .1 .3-.2 .3-.2 .4-.2 0 0 .3-.4 .4-.3 .3-.4 .3 .3 .4 .2 .3 .3 0 0 .4 .4 .3 .3 .3 .3 0 0 .4 .2 .3 .2 .3 .1 .1 .1 .3 .3 .3 .4 .3 .3 .1 .1 .3 .3 .4 .3 .2 .2 .1-.1 .3-.3 .4-.2 .2-.2 .1-.1 .4-.1 .3-.2 .2-.1 .1-.1 .4-.3 .3-.2 .2-.1 .2 0 .3 0 .3 0 .2 0 .2 .2 .3 .3 .4 .3 .1 .2 .2 .3 .3 .7 .4 .6 .1 .2 .2-.1 .4-.1 .3-.1 .1 0 .2-.3 .4-.4 .3-.3 .1-.1 .3-.1 .3-.1 .3-.1 .1 0 1 0 1-1.8 1 1.1 1 2.4 1 1.4 1-.7 1-.3 1 .3 1 .6 1-.7 1-1.2 1 1.5 1-.2 1 .3 1 0 1 1.1 1-.8 1-.2 1-.4 1-1 1-1.5 1-1.4 1-2.8 1 0 1 .3 1 2 1-.2 1-.7 1 .5 1-.5 1 .1 1 .1 1-.4 1 .3 1 2.9 1 .1 1 .8 1 1.8 1 .5 1-2.9 1-1.4 1-1.2 1-1.1' fill='none' stroke='#dedede' stroke-width='2.2' stroke-linejoin='round'/><path d='M505.5 453.2l1-.1 1 0 1 0 1-.1 1 0 1 0 1 0 1-.1 1 0 1-.1 1 0 1 0 1-.1 1 0 1-.1 1-.1 1 0 1-.1 1-.1 1-.1 1-.1 1-.1 1-.1 1-.1 1-.2 1-.1 1-.2 1-.2 1-.2 1-.3 1-.2 1-.4 1-.3 1-.3 1-.2 1-.3 1-.3 1-.3 1-.4 1-.4 1-.4 1-.4 1-.4 1-.4 1-.5 1-.5 1-.5 .5-.2 .3-.2 .2 0 .2-.1 .1-.1 .2-.1 .1 0 .3-.1 .1-.1 0 0 .2-.1 .1-.1 .2-.1 .2 0 .2-.1 .1-.1 .2-.1 .1-.1 .3-.1 .1-.1 .2-.1 .1 0 0 0 .2-.2 .2 0 .2-.1 .1-.1 .2-.1 .1-.1 0 0 .3-.1 .1-.1 .2-.1 .1-.1 .2-.2 .1 0 .1 0 .2-.2 .1-.1 .2-.1 .1-.1 .3-.2 0 0 .1 0 .2-.2 .1-.1 .2-.2 .2-.1 .2-.1 0 0 .1-.1 .2-.2 .1-.1 .3-.2 .1-.1 .2-.2 .1-.1 .2-.2 .2-.1 .2-.2 .1-.2 .2-.2 0 0 .1-.1 .3-.2 .1-.2 .2-.2 .1-.2 .2-.2 0-.1 .2-.2 .2-.3 .1-.2 .2-.4 .1-.2 .2-.3 .1-.2 .1-.2 .2-.5 .1-.2 .2-.5 .2-.3 .1-.3 .1-.2 .1-.3 .2-.6 .1-.3 .3-.6 .1-.3 .1-.3 .1-.3 .1-.3 .2-.7 .2-.3 .2-.6 .1-.4 .1-.3 .1-.3 .1-.4 .3-.6 .1-.4 .2-.7 .1-.3 .1-.3 .1-.4 .2-.3 .2-.7 .1-.4 .2-.6 .1-.4 .1-.1 .2-.5 0-.1 .1-.3 .2-.6 0-.1 .1-.3 .2-.6 .1-.2 .1-.2 0-.1 .2-.6 0-.2 .1-.3 .2-.7 .1-.2 0-.3 .3-.8 0-.1 .1-.3 0-.1 .2-.8 0-.1 .1-.3 .2-.9 .1-.1 .1-.3 .2-.9 0-.1 .1-.3 .2-.9 .1-.1 0-.3 .3-.9 0-.1 .1-.3 .2-.8 0-.1 .1-.2 0-.1 .2-.8 .1-.1 .1-.2 .2-.7 0-.2 .1-.2 .2-.6 .1-.2 0-.1 0-.1 .3-.5 0-.1 .1-.2 .2-.5 0-.1 .1-.1 .2-.5 .1 0 0-.1 .1-.1 .2-.4 0 0 .1-.2 .2-.4 .1 0 0-.1 .3-.4 0-.1 .1-.1 .2-.3 0-.1 .1-.1 .2-.3 .1-.1 .1-.1 .2-.3 0 0 0-.1 .1-.1 .2-.3 .1 0 0-.1 .3-.3 0 0 .1-.1 .2-.3 0-.1 .1 0 .2-.3 .1 0 .1-.1 .2-.3 0 0 .1-.1 .2-.2 0 0 .1-.1 0-.1 .3-.2 0 0 .1-.1 .2-.2 0 0 .1-.1 .2-.2 0 0 .1-.1 .1-.1 .2-.2 0 0 .1-.1 .2-.2 .1-.1 0 0 .2-.2 .1-.1 0 0 .1-.1 .2-.2 0 0 .1-.1 .2-.2 .1 0 .1-.1 .1-.1 .1-.1 0 0 .1 0 .2-.2 .1 0 0-.1 .3-.1 0 0 .1 0 .1 0 .1-.1 0 0 .1 0 .2 0 .1 0 .1 0 .2 0 0 0 .1 .1 .1 0 .1 0 .1 .1 0 0 .3 .1 0 0 .1 .1 .2 .1 0 0 .1 .1 .1 0 .1 .2 .1 0 .1 .1 .2 .2 0 0 .1 .1 .2 .2 .1 0 0 .1 .1 .1 .2 .2 0 0 .1 .1 .2 .2 0 .1 .1 .1 .2 .3 .1 0 .1 .1 0 .1 .2 .2 0 .1 .1 .1 .2 .3 .1 0 0 .1 .3 .3 0 .1 .1 .1 0 0 .2 .3 0 0 .1 .1 .2 .3 .1 .1 .1 .1 .2 .3 0 0 .1 .2 .2 .2 .1 .1 0 .1 .3 .3 0 0 .1 .1 .2 .3 0 .1 .1 .1 0 0 .2 .3 .1 .1 .1 .1 .2 .3 0 .1 .1 .1 .2 .4 .1 0 0 .1 0 .1 .3 .3 0 .1 .1 .1 .2 .4 0 .1 .1 .1 .2 .4 .1 .1 0 0 .1 .1 .2 .4 0 .1 .1 .1 .2 .4 .1 .1 0 .1 .3 .5 0 0 .1 .2 .2 .4 0 .1 .1 .1 .2 .4 .1 .1 .1 .1 .2 .4 0 .1 0 0 .1 .2 .2 .4 .1 0 0 .2 .3 .4 0 0 .1 .2 .2 .4 0 0 .1 .2 .2 .4 .1 0 .1 .2 .2 .3 0 .1 .1 .1 .2 .4 0 0 .1 .1 0 .1 .3 .4 0 0 .1 .2 .2 .4 0 0 .1 .2 .2 .3 0 0 .1 .1 .1 .1 .2 .4 0 .1 .1 .1 .2 .4 .1 .1 0 .1 .2 .3 .1 .1 0 .1 .1 .1 .2 .4 0 .1 .1 .1 .2 .4 .1 .1 .1 .1 .1 .2 .1 .2 0 0 .1 .2 .2 .4 .1 0 0 .2 .3 .3 0 .1 .1 .1 .1 .2 .1 .2 0 .1 .1 .1 .2 .4 .1 .1 .1 .1 .2 .4 .1 .1 .1 .2 .2 .3 0 .1 .3 .4 .1 .1 .2 .4 .1 .2 .1 .1 .2 .3 .1 .1 .2 .4 .1 .1 .3 .4 0 .1 .1 .1 .2 .3 .1 .1 .2 .3 .1 .1 .3 .4 .1 .1 0 0 .2 .3 .1 .1 .3 .3 0 .1 .3 .3 .1 .1 0 0 .2 .3 .1 .1 .3 .3 .1 .1 .2 .3 .1 .1 .3 .2 0 .1 .3 .3 .1 .1 .2 .2 .1 .1 0 0 .3 .3 .1 .1 .2 .2 .1 .1 .3 .2 0 .1 0 0 .3 .3 .1 0 .2 .3 .1 .1 .3 .2 0 0 .1 .1 .2 .2 .1 .1 .3 .2 0 .1 .3 .3 .1 0 .2 .3 .1 0 .3 .3 .1 .1 .2 .2 0 0 .1 .1 .3 .2 0 .1 .3 .2 .1 .1 .2 .2 0 .1 .1 0 .3 .3 .1 .1 .2 .2 .1 .1 .2 .2 .1 .1 0 0 .3 .3 .1 .1 .2 .3 .1 0 .2 .2 .1 .1 .1 .1 .2 .3 .1 .1 .3 .2 0 .1 .2 .2 .1 .1 .1 .1 .2 .3 .1 .1 .3 .2 .1 .1 .1 .2 .1 .1 .1 .1 .3 .3 0 .1 .3 .2 .1 .1 .1 .2 .1 .1 .1 .1 .3 .3 .1 .1 .2 .2 .1 .1 .1 .1 .2 .2 0 .1 .3 .2 .1 .1 .2 .3 .1 .1 .1 0 .2 .2 .1 .1 .2 .2 .1 .1 .3 .3 0 0 .1 .1 .2 .2 .1 0 .2 .3 .1 0 .3 .3 .1 0 0 .1 .2 .1 .1 .1 .3 .2 0 .1 .3 .1 .1 .1 0 0 .2 .2 .1 .1 .3 .1 .1 .1 .2 .2 .1 0 .3 .2 .3 .3 .3 .2 .1 .1 .3 .1 .3 .3 .4 .2 0 0 .3 .2 .3 .3 .4 .2 0 0 .3 .2 .4 .2 .3 .2 .3 .2 .4 .2 .3 .2 0 0 .4 .2 .3 .2 .3 .2 0 0 .4 .2 .3 .2 .3 .1 .1 0 .3 .2 .3 .2 .3 .1 .1 0 .3 .2 .4 .1 .2 .1 .1 .1 .3 .1 .4 .1 .2 .1 .1 .1 .4 .1 .3 .1 .2 .1 .1 .1 .4 .2 .3 .1 .2 .1 .2 .1 .3 .2 .3 .1 .2 .1 .2 .1 .3 .1 .4 .1 .1 .1 .2 .1 .3 .1 .4 .1 .1 0 .2 .1 .4 .1 .3 .1 .1 .1 .2 0 .4 .1 .3 .1 .1 0 .3 .1 .3 .1 .3 .1 .1 0 1 .2 1 .2 1 .2 1 .1 1 .2 1 .1 1 .1 1 .2 1 .1 1 .1 1 0 1 .1 1 .1 1 .1 1 0 1 .1 1 0 1 .1 1 0 1 .1 1 0 1 .1 1 0 1 .1 1 0 1 0 1 .1 1 0 1 0 1 0 1 .1 1 0 1 0 1 0 1 .1 1 0 1 0 1 0 1 0 1 .1 1 0 1 0 1 0' fill='none' stroke='#e2c6ec' stroke-width='2.6'/><path d='M505.5 457.5l1-3.7 1 2.2 1-1.4 1-.8 1 2.2 1-.9 1 .3 1-.8 1-3 1 1.7 1 .6 1 2.7 1-1.7 1 .7 1-.6 1-1.1 1 2.3 1-3 1-1.8 1 3 1 .8 1-.7 1 0 1 .2 1-.7 1-1.4 1 1.6 1-2 1 1.9 1-4.4 1 3.1 1-1.7 1-.4 1-2 1 2.7 1-2 1-.9 1 .3 1-.4 1-.3 1-1.2 1 .3 1 .3 1-.1 1 1.4 1-3.5 1 .4 .5 .5 .3 .4 .2 .2 .2-.6 .1-.4 .2-.8 .1-.4 .3-.8 .1-.4 0-.1 .2 .2 .1 .2 .2 .2 .2 .1 .2 .2 .1 .1 .2-.5 .1-.3 .3-.5 .1-.3 .2-.6 .1-.2 0 0 .2 0 .2 .1 .2 0 .1 .1 .2 0 .1 0 0 0 .3 .1 .1 .1 .2 .1 .1 0 .2 .1 .1 0 .1-.2 .2-.8 .1-.4 .2-.8 .1-.4 .3-.8 0-.2 .1 0 .2 0 .1 0 .2 0 .2 0 .2 0 0 0 .1-.3 .2-.6 .1-.3 .3-.6 .1-.4 .2-.6 .1 .2 .2 .3 .2 .2 .2 .3 .1 .1 .2 .3 0 0 .1 0 .3 .1 .1 0 .2 .1 .1 0 .2 0 0-.1 .2-.4 .2-.7 .1-.3 .2-.8 .1-.4 .2-.5 .1-.1 .1-.1 .2-.2 .1-.1 .2-.2 .2-.1 .1-.2 .1-.3 .1-.4 .2-.8 .1-.4 .3-.8 .1-.5 .1-.4 .1 0 .1 0 .2-.1 .2 0 .2 0 .1-.1 .1 0 .1-.6 .1-.6 .3-1.2 .1-.6 .2-1.1 .1-.7 .1-.4 .1-.5 .2-.4 .2-.8 .1-.5 .2-.7 .1-.5 .1-.2 .2 0 0 0 .1 0 .2 0 0 0 .1 0 .2 0 .1 0 .1-.1 0 0 .2-1.1 0-.2 .1-.5 .2-1.3 .1-.3 0-.5 .3-1.3 0-.3 .1-.5 0-.1 .2-.6 0-.1 .1-.2 .2-.7 .1-.1 .1-.2 .2-.7 0-.1 .1-.2 .2-.9 .1-.2 0-.3 .3-.9 0-.1 .1-.3 .2-.9 0-.1 .1-.3 0 0 .2-.6 .1-.1 .1-.2 .2-.5 0-.1 .1-.2 .2-.5 .1-.1 0-.1 0-.1 .3-.6 0-.1 .1-.2 .2-.5 0-.1 .1-.2 .2-.5 .1-.1 0 0 .1-.2 .2-.9 0-.1 .1-.3 .2-.8 .1-.2 0-.3 .3-.7 0-.2 .1 0 .2-.1 0-.1 .1 0 .2-.1 .1 0 .1-.1 .2 0 0 0 0-.1 .1-.1 .2-.2 .1-.1 0-.1 .3-.2 0-.1 .1 0 .2-.3 0 0 .1-.1 .2-.1 .1-.1 .1 0 .2-.2 0 0 .1-.1 .2-.1 0 0 .1-.1 0-.1 .3-.2 0-.1 .1-.1 .2-.2 0-.1 .1 0 .2-.2 0 0 .1 0 .1 .1 .2 .1 0 0 .1 .1 .2 .1 .1 .1 0 0 .2 .1 .1-.2 0-.2 .1-.3 .2-.9 0-.1 .1-.3 .2-.9 .1-.1 .1-.3 .1-.6 .1 .1 0 .1 .1 .1 .2 .3 .1 0 0 .1 .3 .3 0 .1 .1 .1 .1 .2 .1-.1 0 0 .1 0 .2-.2 .1 0 .1 0 .2-.1 0 0 .1-.1 .1 0 .1-.1 .1 0 0-.1 .3-.2 0 0 .1-.1 .2-.1 0-.1 .1 0 .1-.1 .1 .1 .1 0 .1 .1 .2 .2 0 0 .1 .1 .2 .1 .1 .1 0 0 .1 .1 .2 .4 0 .1 .1 .2 .2 .5 0 .1 .1 .2 .2 .5 .1 .1 .1 .2 0 .1 .2 .3 0 .1 .1 .1 .2 .4 .1 0 0 .2 .3 .3 0 .1 .1 .1 0 0 .2 .2 0 0 .1 .1 .2 .2 .1 0 .1 .1 .2 .1 0 .1 .1 0 .2 0 .1 0 0-.1 .3 0 0 0 .1 0 .2-.1 0 0 .1 0 0 .1 .2 .6 .1 .2 .1 .2 .2 .7 0 .1 .1 .3 .2 .7 .1 .1 0 .1 0 .1 .3 .4 0 0 .1 .2 .2 .4 0 0 .1 .2 .2 .4 .1 .1 0 0 .1 .2 .2 .5 0 .1 .1 .2 .2 .6 .1 .1 0 .2 .3 .5 0 .1 .1 .2 .2 .3 0 0 .1 .2 .2 .3 .1 0 .1 .2 .2 .3 0 0 0 .1 .1 .1 .2 .4 .1 0 0 .2 .3 .3 0 .1 .1 .1 .2 .4 0 .1 .1 .1 .2 .5 .1 .1 .1 .2 .2 .5 0 .1 .1 .1 .2 .5 0 0 .1 .1 0 .2 .3 .5 0 .1 .1 .1 .2 .5 0 .1 .1 .2 .2 .4 0-.1 .1-.2 .1-.3 .2-.8 0-.2 .1-.3 .2-.8 .1-.1 0-.4 .2-.6 .1 .4 0 .3 .1 .5 .2 1.4 0 .2 .1 .5 .2 1.4 .1 .3 .1 .5 .1 .8 .1 0 0 0 .1 0 .2-.1 .1 0 0 0 .3-.1 0 0 .1 0 .1 0 .1 .4 0 .1 .1 .3 .2 .9 .1 .2 .1 .3 .2 1 .1 .4 .1 .4 .2 .1 0 0 .3 .3 .1 0 .2 .2 .1 .1 .1 0 .2 .1 .1 0 .2 0 .1 0 .3 .1 0 0 .1 0 .2 .3 .1 .2 .2 .4 .1 .2 .3 .4 .1 .1 0 .1 .2 .7 .1 .3 .3 .8 0 .3 .3 .8 .1 .3 0 0 .2 .1 .1 0 .3 .1 .1 0 .2 .1 .1 0 .3 .6 0 .2 .3 .6 .1 .2 .2 .7 .1 .1 0 0 .3-.3 .1-.1 .2-.2 .1-.1 .3-.3 0 0 0 .2 .3 1.3 .1 .4 .2 1.3 .1 .4 .3 1.2 0 .1 .1-.1 .2-.8 .1-.2 .3-.7 0-.2 .3-.8 .1 .4 .2 1.1 .1 .3 .3 1.1 .1 .4 .2 1 0 0 .1-.3 .3-.7 0-.3 .3-.7 .1-.3 .2-.6 0 .1 .1 .3 .3 .7 .1 .3 .2 .7 .1 .3 .2 .6 .1 0 0 .1 .3 .4 .1 .1 .2 .3 .1 .1 .2 .2 .1-.2 .1-.2 .2-.6 .1-.2 .3-.7 0-.2 .2-.4 .1 .2 .1 .1 .2 .5 .1 .1 .3 .5 .1 .2 .1 .2 .1 .4 .1 .3 .3 .9 0 .3 .3 .9 .1 .3 .1 .5 .1 .4 .1 .2 .3 .8 .1 .2 .2 .8 .1 .3 .1 .3 .2 .1 0 .1 .3 .2 .1 0 .2 .2 .1 .1 .1 .1 .2 0 .1 .1 .2 0 .1 .1 .3 0 0 0 .1 .1 .2 .4 .1 .1 .2 .6 .1 .2 .3 .5 .1 .2 0 0 .2-.6 .1-.2 .3-.8 0-.2 .3-.7 .1-.3 0 0 .2 .5 .1 .1 .3 .6 .1 .1 .2 .5 .1 .2 .3 .8 .3 1.1 .3 1.1 .1 .2 .3-.7 .3-.7 .4-.8 0-.1 .3 .5 .3 .5 .4 .5 0 0 .3-.3 .4-.3 .3-.3 .3 .9 .4 .9 .3 .8 0 0 .4-.6 .3-.7 .3-.5 0 .2 .4 1.5 .3 1.5 .3 1.3 .1 0 .3 .3 .3 .2 .3 .2 .1-.1 .3-.5 .4-.6 .2-.3 .1 0 .3-.1 .4-.1 .2 0 .1-.1 .4-.3 .3-.2 .2-.1 .1 .3 .4 .9 .3 .8 .2 .4 .2-.5 .3-1.2 .3-1.1 .2-.6 .2 .5 .3 .9 .4 .9 .1 .3 .2 .7 .3 1.3 .4 1.2 .1 .4 .2-.8 .4-1.2 .3-1.1 .1-.4 .2 .4 .4 .5 .3 .5 .1 .1 .3-.4 .3-.5 .3-.5 .1 0 1 3.7 1-.9 1-2.1 1 .5 1 3.2 1 .3 1 .8 1-.9 1 1.5 1 .7 1-1.5 1-1.9 1-1.3 1 .5 1 2.6 1-2.6 1 1.1 1 1.7 1-.9 1-1 1 2.9 1-.5 1-.1 1 .1 1 1.7 1-3.2 1-.1 1-1.6 1 1.6 1-.5 1 1.2 1-.7 1 2.1 1-1.2 1 .6 1-.5 1-1.3 1 .1 1 .2 1-.8 1 1.4 1-1.5 1-1.2' fill='none' stroke='#140814' stroke-width='2.2' stroke-linejoin='round'/><path d='M505.5 453.2l1 0 1 0 1 0 1 0 1 0 1 0 1 0 1-.1 1 0 1 0 1 0 1 0 1 0 1-.1 1 0 1 0 1 0 1 0 1-.1 1 0 1 0 1 0 1-.1 1 0 1 0 1 0 1-.1 1 0 1-.1 1 0 1 0 1-.1 1 0 1-.1 1 0 1-.1 1 0 1-.1 1-.1 1 0 1-.1 1-.1 1-.1 1-.1 1-.1 1-.1 1-.1 .5-.1 .3 0 .2 0 .2 0 .1-.1 .2 0 .1 0 .3 0 .1 0 0 0 .2-.1 .1 0 .2 0 .2 0 .2-.1 .1 0 .2 0 .1 0 .3-.1 .1 0 .2 0 .1-.1 0 0 .2 0 .2 0 .2-.1 .1 0 .2 0 .1 0 0 0 .3-.1 .1 0 .2 0 .1-.1 .2 0 .1 0 .1 0 .2-.1 .1 0 .2 0 .1-.1 .3 0 0 0 .1 0 .2-.1 .1 0 .2-.1 .2 0 .2 0 0 0 .1-.1 .2 0 .1-.1 .3 0 .1 0 .2-.1 .1 0 .2-.1 .2 0 .2-.1 .1 0 .2-.1 0 0 .1 0 .3-.1 .1 0 .2-.1 .1 0 .2-.1 0 0 .2 0 .2-.1 .1 0 .2-.1 .1-.1 .2 0 .1 0 .1-.1 .2-.1 .1 0 .2-.1 .2 0 .1-.1 .1 0 .1-.1 .2 0 .1-.1 .3-.1 .1 0 .1-.1 .1 0 .1-.1 .2-.1 .2 0 .2-.2 .1 0 .1-.1 .1 0 .1-.1 .3-.1 .1-.1 .2-.1 .1 0 .1-.1 .1-.1 .2 0 .2-.2 .1 0 .2-.2 .1 0 .1-.1 .2-.1 0 0 .1 0 .2-.2 0 0 .1-.1 .2-.1 .1 0 .1-.1 0 0 .2-.2 0 0 .1 0 .2-.2 .1 0 0-.1 .3-.2 0 0 .1-.1 0 0 .2-.1 0-.1 .1 0 .2-.2 .1-.1 .1 0 .2-.2 0-.1 .1 0 .2-.2 .1-.1 0 0 .3-.3 0 0 .1-.1 .2-.2 0 0 .1-.1 0 0 .2-.2 .1-.1 .1-.1 .2-.2 0-.1 .1-.1 .2-.2 .1-.1 0 0 0 0 .3-.3 0-.1 .1-.1 .2-.2 0-.1 .1-.1 .2-.3 .1 0 0-.1 .1 0 .2-.3 0-.1 .1-.1 .2-.3 .1-.1 0-.1 .3-.3 0-.1 .1-.1 .2-.4 0 0 .1-.2 .2-.3 .1-.1 .1-.2 .2-.3 0-.1 0 0 .1-.1 .2-.4 .1-.1 0-.2 .3-.4 0-.1 .1-.1 .2-.5 0 0 .1-.2 .2-.5 .1 0 .1-.2 .2-.5 0-.1 .1-.2 .2-.4 0-.1 .1-.1 0-.1 .3-.6 0 0 .1-.2 .2-.6 0-.1 .1-.2 .2-.4 0-.1 .1-.1 .1-.3 .2-.5 0-.1 .1-.3 .2-.6 .1-.1 0-.2 .2-.4 .1-.2 0-.1 .1-.2 .2-.7 0-.1 .1-.2 .2-.7 .1-.1 .1-.2 .1-.5 .1-.2 0-.1 .1-.3 .2-.6 .1-.2 0-.2 .3-.7 0-.1 .1-.3 .1-.3 .1-.3 0-.2 .1-.2 .2-.7 .1-.1 .1-.3 .2-.7 0-.1 .1-.2 .1-.3 .1-.4 .1-.1 0-.2 .3-.7 0-.1 .1-.2 .2-.7 0-.1 .1-.2 .1-.2 .1-.4 .1-.1 .1-.2 .2-.5 0-.1 .1-.2 .2-.5 .1-.1 0-.2 .1-.1 .2-.3 0-.1 .1-.2 .2-.3 0-.1 .1-.1 .2-.3 .1-.1 .1-.1 0 0 .2-.2 0-.1 .1-.1 .2-.1 .1 0 0-.1 .3-.1 0 0 .1 0 0 0 .2 0 0 0 .1 0 .2 .1 .1 0 .1 .1 .2 .1 0 .1 .1 0 .2 .3 .1 0 0 .1 .3 .3 0 .1 .1 .1 .2 .4 0 .1 .1 .1 0 0 .2 .5 .1 .1 .1 .1 .2 .5 0 .1 .1 .2 .2 .6 .1 .1 0 .1 0 .1 .3 .6 0 .1 .1 .2 .2 .6 0 .1 .1 .3 .2 .6 .1 .1 0 .1 .1 .2 .2 .6 0 .1 .1 .3 .2 .7 .1 .1 0 .2 .3 .7 0 .1 .1 .3 .2 .7 0 .1 .1 .2 .2 .7 .1 .2 .1 .2 .2 .7 0 0 0 .1 .1 .2 .2 .7 .1 .1 0 .3 .3 .6 0 .1 .1 .3 .2 .6 0 .1 .1 .2 .2 .7 .1 .1 .1 .2 .2 .6 0 .1 .1 .2 .2 .5 0 .1 .1 .1 0 .2 .3 .6 0 .1 .1 .2 .2 .5 0 .1 .1 .2 .2 .4 0 .1 .1 .1 .1 .2 .2 .5 0 .1 .1 .2 .2 .4 .1 .1 0 .2 .2 .3 .1 .2 0 0 .1 .2 .2 .4 0 .1 .1 .2 .2 .4 .1 .1 .1 .1 .1 .3 .1 .1 0 .1 .1 .1 .2 .4 .1 .1 0 .1 .3 .4 0 .1 .1 .1 .1 .2 .1 .1 0 .1 .1 .1 .2 .4 .1 0 .1 .1 .2 .4 .1 .1 .1 .2 .2 .2 0 .1 .3 .3 .1 .1 .2 .4 .1 .1 .1 .1 .2 .2 .1 .1 .2 .3 .1 .1 .3 .2 0 .1 .1 .1 .2 .2 .1 .1 .2 .3 .1 0 .3 .3 .1 .1 0 0 .2 .2 .1 .1 .3 .2 0 .1 .3 .2 .1 0 0 .1 .2 .2 .1 0 .3 .2 .1 .1 .2 .2 .1 0 .3 .2 0 .1 .3 .1 .1 .1 .2 .2 .1 0 0 0 .3 .2 .1 0 .2 .2 .1 0 .3 .2 0 0 0 0 .3 .2 .1 0 .2 .2 .1 0 .3 .1 0 0 .1 .1 .2 .1 .1 0 .3 .2 0 0 .3 .1 .1 .1 .2 .1 .1 0 .3 .1 .1 0 .2 .1 0 0 .1 .1 .3 .1 0 0 .3 .1 .1 0 .2 .1 0 0 .1 .1 .3 .1 .1 0 .2 .1 .1 0 .2 .1 .1 0 0 0 .3 .1 .1 0 .2 .1 .1 0 .2 .1 .1 0 .1 0 .2 .1 .1 0 .3 .1 0 0 .2 .1 .1 0 .1 0 .2 .1 .1 0 .3 .1 .1 0 .1 0 .1 0 .1 .1 .3 0 0 0 .3 .1 .1 0 .1 0 .1 .1 .1 0 .3 0 .1 .1 .2 0 .1 0 .1 0 .2 .1 0 0 .3 0 .1 .1 .2 0 .1 0 .1 0 .2 .1 .1 0 .2 0 .1 0 .3 .1 0 0 .1 0 .2 0 .1 .1 .2 0 .1 0 .3 .1 .1 0 0 0 .2 0 .1 0 .3 .1 0 0 .3 0 .1 0 0 0 .2 .1 .1 0 .3 0 .1 0 .2 0 .1 .1 .3 0 .3 0 .3 .1 .1 0 .3 0 .3 .1 .4 0 0 0 .3 0 .3 .1 .4 0 0 0 .3 0 .4 .1 .3 0 .3 0 .4 .1 .3 0 0 0 .4 0 .3 .1 .3 0 0 0 .4 0 .3 .1 .3 0 .1 0 .3 0 .3 0 .3 .1 .1 0 .3 0 .4 0 .2 0 .1 0 .3 .1 .4 0 .2 0 .1 0 .4 0 .3 0 .2 .1 .1 0 .4 0 .3 0 .2 0 .2 0 .3 0 .3 .1 .2 0 .2 0 .3 0 .4 0 .1 0 .2 0 .3 0 .4 .1 .1 0 .2 0 .4 0 .3 0 .1 0 .2 0 .4 0 .3 .1 .1 0 .3 0 .3 0 .3 0 .1 0 1 0 1 .1 1 0 1 0 1 .1 1 0 1 0 1 .1 1 0 1 0 1 0 1 .1 1 0 1 0 1 0 1 0 1 .1 1 0 1 0 1 0 1 0 1 0 1 .1 1 0 1 0 1 0 1 0 1 0 1 0 1 0 1 .1 1 0 1 0 1 0 1 0 1 0 1 0 1 0 1 0 1 0 1 0 1 .1 1 0' fill='none' stroke='#3b6ee6' stroke-width='1.8'/><path d='M505.5 453.7l1 0 1 0 1 0 1 0 1 0 1 0 1-.1 1 0 1 0 1 0 1 0 1 0 1 0 1 0 1 0 1 0 1-.1 1 0 1 0 1 0 1 0 1 0 1 0 1-.1 1 0 1 0 1 0 1-.1 1 0 1 0 1 0 1-.1 1 0 1 0 1-.1 1 0 1-.1 1 0 1-.1 1 0 1-.1 1-.1 1-.1 1 0 1-.1 1-.2 1-.1 .5 0 .3-.1 .2 0 .2 0 .1-.1 .2 0 .1 0 .3 0 .1-.1 0 0 .2 0 .1 0 .2-.1 .2 0 .2 0 .1 0 .2-.1 .1 0 .3 0 .1-.1 .2 0 .1 0 0 0 .2-.1 .2 0 .2-.1 .1 0 .2 0 .1-.1 0 0 .3 0 .1-.1 .2 0 .1 0 .2-.1 .1 0 .1 0 .2-.1 .1 0 .2-.1 .1 0 .3-.1 0 0 .1 0 .2-.1 .1-.1 .2 0 .2-.1 .2 0 0-.1 .1 0 .2-.1 .1 0 .3-.1 .1-.1 .2-.1 .1 0 .2-.1 .2-.1 .2-.1 .1 0 .2-.1 0 0 .1-.1 .3-.1 .1-.1 .2-.1 .1-.1 .2-.1 0 0 .2-.1 .2-.1 .1-.1 .2-.1 .1-.1 .2-.1 .1-.1 .1-.1 .2-.1 .1-.1 .2-.2 .2-.1 .1-.1 .1-.1 .1-.1 .2-.2 .1-.1 .3-.2 .1-.2 .1-.1 .1-.1 .1-.1 .2-.3 .2-.1 .2-.3 .1-.1 .1-.1 .1-.2 .1-.2 .3-.3 .1-.1 .2-.3 .1-.2 .1-.1 .1-.3 .2-.2 .2-.3 .1-.2 .2-.4 .1-.2 .1-.2 .2-.3 0 0 .1-.2 .2-.4 0-.1 .1-.2 .2-.5 .1 0 .1-.2 0-.1 .2-.4 0-.1 .1-.2 .2-.5 .1-.1 0-.2 .3-.6 0-.1 .1-.2 0-.1 .2-.5 0-.1 .1-.3 .2-.6 .1-.1 .1-.2 .2-.7 0-.1 .1-.2 .2-.7 .1-.1 0-.3 .3-.7 0-.1 .1-.3 .2-.7 0-.1 .1-.2 0 0 .2-.8 .1-.1 .1-.2 .2-.7 0-.2 .1-.2 .2-.7 .1-.1 0-.1 0-.1 .3-.7 0-.1 .1-.2 .2-.6 0-.1 .1-.2 .2-.5 .1-.1 0-.1 .1-.1 .2-.4 0-.1 .1-.1 .2-.4 .1 0 0-.1 .3-.3 0 0 .1-.1 .2-.1 0 0 .1 0 .2 0 .1 0 .1 .1 .2 .1 0 0 0 0 .1 .1 .2 .2 .1 .1 0 .1 .3 .4 0 0 .1 .2 .2 .4 0 .1 .1 .2 .2 .5 .1 .1 .1 .3 .2 .6 0 .1 .1 .2 .2 .6 0 0 .1 .2 0 .2 .3 .7 0 .1 .1 .3 .2 .7 0 .1 .1 .2 .2 .6 0 .1 .1 .2 .1 .2 .2 .7 0 .2 .1 .2 .2 .7 .1 .1 0 .3 .2 .5 .1 .1 0 .2 .1 .2 .2 .6 0 .2 .1 .2 .2 .6 .1 .1 .1 .2 .1 .4 .1 .2 0 .1 .1 .2 .2 .6 .1 .1 0 .2 .3 .5 0 .1 .1 .2 .1 .3 .1 .2 0 .1 .1 .2 .2 .4 .1 .1 .1 .2 .2 .4 0 .1 .1 .2 .1 .1 .1 .3 .1 0 0 .2 .3 .4 0 0 .1 .2 .2 .3 0 .1 .1 .1 .1 .2 .1 .2 .1 0 .1 .1 .2 .4 0 0 .1 .1 .2 .3 .1 .1 0 .1 .1 .1 .2 .2 0 0 .1 .1 .2 .3 0 0 .1 .1 .2 .2 .1 .1 .1 .1 0 0 .2 .2 0 0 .1 .1 .2 .2 .1 .1 0 0 .3 .2 0 .1 .1 0 0 .1 .2 .1 0 .1 .1 0 .2 .2 .1 0 .1 .1 .2 .2 0 0 .1 .1 .2 .1 .1 0 0 .1 .3 .1 0 .1 .1 0 .2 .2 0 0 .1 0 0 0 .2 .2 .1 0 .1 0 .2 .2 0 0 .1 0 .2 .1 .1 .1 0 0 0 0 .3 .1 0 0 .1 .1 .2 .1 0 0 .1 0 .2 .1 .1 0 0 0 .1 .1 .2 .1 0 0 .1 0 .2 .1 .1 0 0 0 .3 .1 0 0 .1 .1 .2 .1 0 0 .1 0 .2 .1 .1 0 .1 0 .2 .1 0 0 0 0 .1 0 .2 .1 .1 0 0 0 .3 .1 0 0 .1 0 .2 .1 0 0 .1 0 .2 .1 .1 0 .1 0 .2 .1 0 0 .1 0 .2 0 0 0 .1 .1 0 0 .3 0 0 0 .1 .1 .2 0 0 0 .1 0 .2 .1 0 0 .1 0 .1 0 .2 0 0 .1 .1 0 .2 0 .1 0 0 0 .2 .1 .1 0 0 0 .1 0 .2 0 0 0 .1 .1 .2 0 .1 0 .1 0 .1 0 .1 0 0 .1 .1 0 .2 0 .1 0 0 0 .3 .1 0 0 .1 0 .1 0 .1 0 0 0 .1 0 .2 .1 .1 0 .1 0 .2 0 .1 0 .1 0 .2 0 0 .1 .3 0 .1 0 .2 0 .1 0 .1 0 .2 .1 .1 0 .2 0 .1 0 .3 0 0 .1 .1 0 .2 0 .1 0 .2 0 .1 0 .3 0 .1 .1 0 0 .2 0 .1 0 .3 0 0 0 .3 0 .1 0 0 0 .2 .1 .1 0 .3 0 .1 0 .2 0 .1 0 .3 0 0 0 .3 .1 .1 0 .2 0 .1 0 0 0 .3 0 .1 0 .2 0 .1 0 .3 .1 0 0 0 0 .3 0 .1 0 .2 0 .1 0 .3 0 0 0 .1 0 .2 0 .1 0 .3 .1 0 0 .3 0 .1 0 .2 0 .1 0 .3 0 .1 0 .2 0 0 0 .1 0 .3 0 0 .1 .3 0 .1 0 .2 0 0 0 .1 0 .3 0 .1 0 .2 0 .1 0 .2 0 .1 0 0 0 .3 0 .1 0 .2 .1 .1 0 .2 0 .1 0 .1 0 .2 0 .1 0 .3 0 0 0 .2 0 .1 0 .1 0 .2 0 .1 0 .3 0 .1 0 .1 0 .1 0 .1 0 .3 0 0 0 .3 .1 .1 0 .1 0 .1 0 .1 0 .3 0 .1 0 .2 0 .1 0 .1 0 .2 0 0 0 .3 0 .1 0 .2 0 .1 0 .1 0 .2 0 .1 0 .2 0 .1 0 .3 0 0 0 .1 0 .2 .1 .1 0 .2 0 .1 0 .3 0 .1 0 0 0 .2 0 .1 0 .3 0 0 0 .3 0 .1 0 0 0 .2 0 .1 0 .3 0 .1 0 .2 0 .1 0 .3 0 .3 0 .3 0 .1 0 .3 0 .3 0 .4 .1 0 0 .3 0 .3 0 .4 0 0 0 .3 0 .4 0 .3 0 .3 0 .4 0 .3 0 0 0 .4 0 .3 0 .3 0 0 0 .4 0 .3 0 .3 0 .1 0 .3 0 .3 0 .3 0 .1 0 .3 .1 .4 0 .2 0 .1 0 .3 0 .4 0 .2 0 .1 0 .4 0 .3 0 .2 0 .1 0 .4 0 .3 0 .2 0 .2 0 .3 0 .3 0 .2 0 .2 0 .3 0 .4 0 .1 0 .2 0 .3 0 .4 0 .1 0 .2 0 .4 0 .3 0 .1 0 .2 0 .4 0 .3 0 .1 0 .3 0 .3 0 .3 0 .1 0 1 .1 1 0 1 0 1 0 1 0 1 0 1 0 1 0 1 0 1 0 1 0 1 0 1 0 1 0 1 0 1 0 1 0 1 0 1 0 1 .1 1 0 1 0 1 0 1 0 1 0 1 0 1 0 1 0 1 0 1 0 1 0 1 0 1 0 1 0 1 0 1 0 1 0 1 0 1 0 1 0 1 0 1 0 1 0' fill='none' stroke='#ff2020' stroke-width='1.7'/><path d='M505.5 453.7l1 0 1 0 1 0 1 0 1 0 1 0 1 0 1 0 1 0 1 0 1 0 1 0 1 0 1 0 1 0 1 0 1 0 1 0 1 0 1-.1 1 0 1 0 1 0 1 0 1 0 1 0 1 0 1 0 1 0 1 0 1 0 1 0 1-.1 1 0 1 0 1 0 1 0 1 0 1 0 1 0 1-.1 1 0 1 0 1 0 1 0 1 0 1-.1 .5 0 .3 0 .2 0 .2 0 .1 0 .2 0 .1 0 .3 0 .1 0 0 0 .2 0 .1 0 .2 0 .2 0 .2 0 .1 0 .2 0 .1 0 .3 0 .1-.1 .2 0 .1 0 0 0 .2 0 .2 0 .2 0 .1 0 .2 0 .1 0 0 0 .3 0 .1 0 .2 0 .1 0 .2 0 .1 0 .1 0 .2 0 .1 0 .2 0 .1 0 .3 0 0 0 .1 0 .2-.1 .1 0 .2 0 .2 0 .2 0 0 0 .1 0 .2 0 .1 0 .3 0 .1 0 .2 0 .1 0 .2 0 .2 0 .2 0 .1 0 .2 0 0 0 .1-.1 .3 0 .1 0 .2 0 .1 0 .2 0 0 0 .2 0 .2 0 .1 0 .2 0 .1 0 .2 0 .1 0 .1 0 .2 0 .1-.1 .2 0 .2 0 .1 0 .1 0 .1 0 .2 0 .1 0 .3 0 .1 0 .1 0 .1 0 .1 0 .2 0 .2 0 .2-.1 .1 0 .1 0 .1 0 .1 0 .3 0 .1 0 .2 0 .1 0 .1 0 .1 0 .2 0 .2-.1 .1 0 .2 0 .1 0 .1 0 .2 0 0 0 .1 0 .2 0 0 0 .1 0 .2 0 .1 0 .1 0 0-.1 .2 0 0 0 .1 0 .2 0 .1 0 0 0 .3 0 0 0 .1 0 0 0 .2 0 0 0 .1 0 .2-.1 .1 0 .1 0 .2 0 0 0 .1 0 .2 0 .1 0 0 0 .3 0 0 0 .1-.1 .2 0 0 0 .1 0 0 0 .2 0 .1 0 .1 0 .2 0 0 0 .1 0 .2-.1 .1 0 0 0 0 0 .3 0 0 0 .1 0 .2 0 0 0 .1 0 .2-.1 .1 0 0 0 .1 0 .2 0 0 0 .1 0 .2 0 .1 0 0 0 .3-.1 0 0 .1 0 .2 0 0 0 .1 0 .2 0 .1 0 .1-.1 .2 0 0 0 0 0 .1 0 .2 0 .1 0 0 0 .3-.1 0 0 .1 0 .2 0 0 0 .1 0 .2-.1 .1 0 .1 0 .2 0 0 0 .1 0 .2-.1 0 0 .1 0 0 0 .3 0 0 0 .1 0 .2-.1 0 0 .1 0 .2 0 0 0 .1 0 .1 0 .2-.1 0 0 .1 0 .2 0 .1 0 0-.1 .2 0 .1 0 0 0 .1 0 .2-.1 0 0 .1 0 .2 0 .1 0 .1 0 .1-.1 .1 0 0 0 .1 0 .2-.1 .1 0 0 0 .3 0 0 0 .1-.1 .1 0 .1 0 0 0 .1 0 .2-.1 .1 0 .1 0 .2-.1 0 0 .1 0 .1 0 .1 0 .1-.1 0 0 .3 0 0 0 .1-.1 .2 0 0 0 .1-.1 .1 0 .1 0 .1 0 .1-.1 .2 0 0 0 .1-.1 .2 0 .1 0 0-.1 .1 0 .2 0 0 0 .1-.1 .2 0 0 0 .1-.1 .2-.1 .1 0 .1 0 0 0 .2-.1 0 0 .1 0 .2-.1 .1 0 0 0 .3-.1 0 0 .1-.1 0 0 .2-.1 0 0 .1 0 .2-.1 .1 0 .1-.1 .2-.1 0 0 .1 0 .2-.1 .1 0 0-.1 .3-.1 0 0 .1 0 .2-.1 0-.1 .1 0 0 0 .2-.1 .1 0 .1-.1 .2-.1 0 0 .1-.1 .2-.1 .1 0 0 0 0-.1 .3-.1 0 0 .1-.1 .2-.1 0 0 .1-.1 .2-.1 .1-.1 0 0 .1 0 .2-.2 0 0 .1 0 .2-.2 .1 0 0-.1 .3-.2 0 0 .1-.1 .2-.1 0-.1 .1 0 .2-.2 .1 0 .1-.1 .2-.2 0 0 0 0 .1-.1 .2-.2 .1 0 0-.1 .3-.2 0 0 .1-.1 .2-.2 0-.1 .1 0 .2-.3 .1 0 .1-.1 .2-.2 0-.1 .1-.1 .2-.2 0 0 .1 0 0-.1 .3-.3 0 0 .1-.1 .2-.3 0 0 .1-.1 .2-.2 0-.1 .1 0 .1-.1 .2-.3 0-.1 .1-.1 .2-.3 .1 0 0-.1 .2-.2 .1-.1 0-.1 .1-.1 .2-.3 0 0 .1-.2 .2-.3 .1 0 .1-.1 .1-.2 .1-.1 0-.1 .1-.1 .2-.3 .1-.1 0-.1 .3-.3 0-.1 .1-.1 .1-.2 .1-.1 0-.1 .1-.1 .2-.3 .1-.1 .1-.1 .2-.4 .1-.1 .1-.2 .2-.2 0-.1 .3-.4 .1-.1 .2-.3 .1-.1 .1-.1 .2-.2 .1-.1 .2-.3 .1-.1 .3-.3 0-.1 .1 0 .2-.2 .1-.1 .2-.2 .1-.1 .3-.2 .1 0 0 0 .2-.2 .1 0 .3-.1 0 0 .3-.1 .1 0 0 0 .2 0 .1 0 .3 0 .1 .1 .2 0 .1 .1 .3 .1 0 0 .3 .2 .1 0 .2 .2 .1 .1 0 0 .3 .2 .1 .1 .2 .3 .1 .1 .3 .3 0 0 0 0 .3 .4 .1 .1 .2 .3 .1 .1 .3 .4 0 0 .1 .1 .2 .3 .1 .1 .3 .4 0 .1 .3 .4 .1 .1 .2 .4 .1 .1 .3 .4 .1 .1 .2 .4 0 0 .1 .1 .3 .4 0 .1 .3 .4 .1 .1 .2 .3 0 .1 .1 .1 .3 .3 .1 .1 .2 .4 .1 .1 .2 .3 .1 0 0 .1 .3 .4 .1 .1 .2 .3 .1 .1 .2 .2 .1 .1 .1 .1 .2 .2 .1 .1 .3 .3 0 .1 .2 .2 .1 .1 .1 .1 .2 .2 .1 .1 .3 .2 .1 .1 .1 .1 .1 .1 .1 .1 .3 .2 0 .1 .3 .2 .1 .1 .1 .1 .1 .1 .1 .1 .3 .2 .1 0 .2 .2 .1 .1 .1 .1 .2 .1 0 0 .3 .2 .1 0 .2 .2 .1 .1 .1 0 .2 .1 .1 .1 .2 .1 .1 .1 .3 .1 0 .1 .1 0 .2 .1 .1 0 .2 .2 .1 0 .3 .1 .1 .1 0 0 .2 .1 .1 0 .3 .2 0 0 .3 .1 .1 0 0 .1 .2 .1 .1 0 .3 .1 .1 0 .2 .1 .1 0 .3 .1 .3 .2 .3 .1 .1 0 .3 .1 .3 .1 .4 .1 0 0 .3 .1 .3 .1 .4 .1 0 0 .3 .1 .4 0 .3 .1 .3 .1 .4 .1 .3 0 0 .1 .4 0 .3 .1 .3 0 0 .1 .4 0 .3 .1 .3 0 .1 0 .3 .1 .3 0 .3 .1 .1 0 .3 0 .4 .1 .2 0 .1 0 .3 .1 .4 0 .2 .1 .1 0 .4 0 .3 .1 .2 0 .1 0 .4 0 .3 .1 .2 0 .2 0 .3 0 .3 .1 .2 0 .2 0 .3 0 .4 .1 .1 0 .2 0 .3 0 .4 .1 .1 0 .2 0 .4 0 .3 0 .1 0 .2 .1 .4 0 .3 0 .1 0 .3 0 .3 .1 .3 0 .1 0 1 0 1 .1 1 .1 1 0 1 .1 1 0 1 0 1 .1 1 0 1 0 1 .1 1 0 1 0 1 .1 1 0 1 0 1 0 1 0 1 .1 1 0 1 0 1 0 1 0 1 0 1 .1 1 0 1 0 1 0 1 0 1 0 1 0 1 0 1 .1 1 0 1 0 1 0 1 0 1 0 1 0 1 0 1 0 1 0 1 0' fill='none' stroke='#ff2020' stroke-width='1.7'/><path d='M405.5 524.1l1-.3 1 0 1 .4 1 .1 1-.1 1 .1 1-.2 1 0 1-.4 1 .3 1-.2 1 0 1-.1 1 .2 1 .5 1-.1 1-.1 1-.4 1 0 1 .3 1-.1 1-.1 1 .1 1 .2 1-.1 1 .3 1 .3 1-.2 1 0 1-.2 1 .2 1-.6 1-.1 1 .2 1-.1 1 .4 1-.3 1 .1 1 0 1 .1 1 0 1-.5 1 0 1-.1 1 .2 1-.4 1-.2 1-.5 1-.3 .5-.4 .2-.5 .3 0 .3-.7 .2-.1 .2 0 .3-.4 .3-.3 .2-.4 .2-.7 .3-.8 .3-.7 .2-.8 .2-1.4 .3-1.7 .3-1.9 .2-3.2 .2-3.9 .3-4.3 .3-5.8 .2-7 .2-8.6 .3-8.9 .3-7.2 .2-3 .2 3 .3 7.7 .3 8.4 .2 8.1 .2 7 .3 5.9 .3 4.3 .2 3.2 .2 2.7 .3 2.1 .3 2 .2 1.2 .2 1.1 .3 .9 .3 1.1 .2 .7 .2 .4 .3 .6 .3 .3 .2 .6 .2 .3 .3 .1 .3 .4 .2-.2 1 .5 1 0 1 .3 1 .4 1 .2 1 .5 1 .2 1 .3 1 0 1-.1 1 .5 1-.1 1-.1 1-.1 1-.1 1 .2 1 .4 1-.4 1 .1 1-.2 1 .1 1-.1 1 0 1 .3 1 0 1 .1 1-.2' fill='none' stroke='#111' stroke-width='1.3' stroke-linejoin='round'/><path d='M496.2 524.5h3.2M501.7 521.9h3.4' stroke='#222' stroke-width='1.2'/><path d='M505.5 523.7l1 .3 1 .2 1-.3 1-.3 1 1.2 1-1.9 1-.3 1-.4 1-.4 1 1.1 1-.6 1 0 1-1.1 1 .2 1-.8 1-.1 1 .4 1 .5 1 .7 1 0 1-.7 1 .3 1-1.4 1 1.5 1 .5 1 1.5 1-1.3 1 2.3 1-1.6 1-1.1 1 .8 1 .1 1-.1 1 .6 1-1.9 1 .3 1 .2 1 .2 1 1.4 1 1.1 1-.9 1 .4 1-.3 1-1 1-2 1 .5 1-.3 1 1.4 1 .3 1 2 1-.8 1 1.3 .4-.2 .3-.1 .3-.1 .1 .1 .3 .5 .4 .5 .2 .3 .1 0 .3 0 .4-.1 0 0 .2 0 .1-.1 0 0 .4-.4 0-.1 .3-.4 0 0 .2-.2 .1 .1 .1 0 .3 .3 0 0 .3 .3 0 0 .2 .2 .2-.1 0 0 .3-.1 0 0 .3-.2 .1 0 .1 0 .2-.2 0-.1 .3-.3 0 0 .4-.4 0 0 .1-.1 .2-.1 0 0 .3-.1 .1 0 .3-.1 0 0 .1 0 .2 0 0 0 .4-.1 0 0 .3 0 0 0 .1 0 .2-.1 .1 0 .3-.1 0 0 .3-.2 0 0 .1 0 .3-.2 0 0 .3-.3 0 0 .3-.3 .1 0 0-.1 .3 0 0 0 .3 0 0 0 .4-.1 0 0 0 0 .3-.1 0 0 .3-.2 .1 0 .3-.1 0 0 .3-.1 0 0 .4-.1 0 0 .3-.1 0 0 .3-.1 .1 0 .3-.2 0 0 .3-.1 0 0 0 0 .4 .4 0 .1 .1 .1 .2 .3 0 0 .1 .2 .2 .2 0 .1 .1 0 .1 .1 .2 .2 0 0 .1 .2 .2 .2 0 0 .2 .1 .1 .1 .1 0 0 0 .1 0 .2 0 0-.1 .1 0 .2 0 .1 0 .1-.1 .1 0 .1 .2 0 0 .1 .2 .2 .4 0 .1 .2 .2 .2 .4 0 .1 .1 .2 .1 .2 .1 0 0 0 .1 0 .2-.1 .1 0 .1 0 .2 0 0 0 .1 0 .1 0 .1-.2 0 0 .2-.1 .2-.2 0-.1 .1-.1 .2-.2 0-.1 .1-.1 .1-.1 .1 .1 .1 0 .1 .1 .2 .1 0 0 .1 .1 .2 .1 0 0 .2 0 0 .1 .2-.3 0 0 .1-.2 .2-.3 0 0 .1-.2 .2-.3 .1 0 .1-.2 0 0 .2 .1 0 0 .1 0 .2 .1 0 0 .2 0 .2 0 0 .1 .1 0 .2 .1 0 0 .1 .1 .2 .1 .1 0 .1 0 .2 .1 0 .1 .1 0 0 0 .2 0 0 0 .2 0 .2 0 0 0 .1 0 .2 0 0 0 .1 0 0 .1 .2 .2 .1 0 .1 .1 .2 .2 0 0 .1 .1 .2 .2 0 0 .1 .1 .1-.1 .2-.3 0 0 .1-.2 .2-.3 0 0 .1-.2 .2-.3 .1 0 0-.1 .1 0 .2-.1 0 0 .1-.1 .2-.1 0 0 .2-.1 .2 0 0-.1 0 0 .1 .1 .2 0 0 0 .1 .1 .2 0 .1 0 .1 .1 .2 0 0 0 .1 .2 .2 .2 0 0 .2 .2 .2 .2 0 0 .1 .2 .2 .2 0 0 .1 0 .2 0 .1 0 .1 0 .2 0 0 0 .1 0 .2 0 0 0 0 0 .2 0 .2 0 0 .1 .1 0 .2 0 0 0 .1 0 .2 0 0 0 .1 0 .1 .1 .2 0 0 0 .1 0 .2 .1 0 0 .2 0 .1 0 .1 0 0 0 .1 0 .2 0 0 0 .1 0 .2-.1 .1 0 .1 0 .1 0 .1-.1 0 0 .1-.2 .2-.3 0 0 .2-.2 .2-.3 0 0 .1-.2 .1-.1 .1 0 0 0 .1 .1 .2 .1 .1 0 .1 0 .2 .1 0 0 .1 .1 .1 0 .1 0 0-.1 .2 0 .2-.1 0 0 .1 0 .2-.1 0 0 .1 0 .1-.1 .1 .1 .1 0 .1 0 .2 .1 0 0 .1 0 .2 .1 0 0 .2 0 0 0 .2 .2 0 0 .1 .1 .2 .2 0 0 .1 .1 .2 .2 .1 0 .1 .1 0 .1 .2 .1 0 .1 .1 .1 .2 .2 0 0 .2 .1 .2 .2 0 0 .1 .1 .2-.2 0 0 .1-.2 .2-.2 .1 0 .1-.2 .2-.2 0-.1 .1-.1 0 0 .2 .1 .2 0 .2 .1 .1 .1 .2 0 .1 .1 0-.1 .3-.2 .1-.1 .2-.3 .1-.1 .2-.2 .1-.1 .1 0 .2-.2 .1-.1 .2-.2 .1-.1 .3-.2 0-.1 .1 0 .2-.2 .1 0 .2-.2 .2 0 .2-.2 0 0 .1 0 .2 .1 .1 0 .3 .1 .1 0 .2 .1 .1 0 .2 .1 .2 .1 .2 .1 .1 0 .2 .1 0 .1 .1 .1 .3 .2 .1 .1 .2 .2 .1 .1 .2 .2 0 .1 .2 .1 .2 .2 .1 .2 .2 .2 .1 .2 .2 .1 .1 0 .1 0 .2-.1 .1 0 .2-.1 .2 0 .1 0 .1 0 .1 0 .2 0 .1 .1 .3 0 .1 0 .1 .1 .1-.1 .1 0 .2 0 .2-.1 .2 0 .1 0 .1-.1 .1 .1 .1 0 .3 0 .1 .1 .2 0 .1 0 .1 0 .1 0 .2 0 .2 0 .1 0 .2 0 .1 0 .1 0 .2 0 .1 0 .2 0 .1 0 .2-.1 .2 0 0 0 .2 .1 .1 .1 .2 .1 .1 0 .3 .1 .1 .1 0 0 .2-.2 .1-.1 .2-.2 .2-.1 .2-.2 .1-.1 .2-.1 .1 0 .3 0 .1 0 .2 0 .1-.1 0 0 .2 .1 .2 0 .2 0 .1 0 .2 0 .1 0 0 .1 .3 0 .1 0 .3 0 .3 .1 .1-.1 .3-.3 .3-.3 .3-.2 .1 0 .3 .2 .4 .2 .2 .1 .1 0 .3 0 .4 0 .2 0 .1-.2 .4-.4 .3-.4 .2-.3 .1 .1 .4 .2 .3 .3 .2 .1 .2-.1 .3-.2 .3-.2 .2-.1 .2 0 .3 .1 .4 0 .1 .1 .2 0 .3 0 .4 0 .1 0 .2-.2 .4-.4 .3-.3 .1-.1 .2 .2 .4 .3 .3 .3 .1 0 .3 0 .3 0 .3-.1 .1 0 .3 .1 .3 0 .4 .1 0 0 .3 .1 .3 .1 .4 .1 0 0 .3-.3 .4-.4 .3-.3 .3-.4 .7-.6 1 .4 1-.4 1 .5 1 .1 1 .6 1 .4 1 0 1 0 1-.4 1 .1 1 1.4 1-1.6 1-.2 1 1.2 1-1.1 1-.2 1 .1 1 .4 1 .5 1 .5 1-.1 1 .4 1-.1 1 0 1 1 1 .1 1 .9 1-1.1 1 .2 1-1.9 1 1 1-1 1-.2 1 .4 1 .5 1 .2 1-.9 1 .7 1-1.2 1-.7 1-.4 1 .6 1-.8 1 .3 1-.1 1 1.7 1 .5 1 .6 1-1.5 1-.3 1-.4' fill='none' stroke='#dedede' stroke-width='2.2' stroke-linejoin='round'/><path d='M505.5 521l1 0 1 0 1-.1 1 0 1 0 1 0 1 0 1 0 1-.1 1 0 1 0 1 0 1 0 1-.1 1 0 1 0 1 0 1-.1 1 0 1 0 1 0 1-.1 1 0 1 0 1 0 1-.1 1 0 1 0 1 0 1-.1 1 0 1 0 1 0 1 0 1 0 1 0 1 0 1 0 1 .1 1 0 1 .1 1 .1 1 .1 1 .1 1 .2 1 .3 1 .3 1-.4 1-.5 1-.7 1-.8 1-.8 .4-.4 .3-.3 .3-.2 .1-.1 .3-.3 .4-.4 .2-.2 .1-.1 .3-.3 .4-.4 0 0 .2-.3 .1-.1 0 0 .4-.4 0 0 .3-.4 0 0 .2-.3 .1-.1 .1-.1 .3-.4 0 0 .3-.5 0 0 .2-.2 .2-.3 0 0 .3-.5 0 0 .3-.5 .1 0 .1-.2 .2-.3 0 0 .3-.6 0 0 .4-.5 0-.1 .1-.2 .2-.3 0-.1 .3-.5 .1-.1 .3-.5 0-.1 .1-.2 .2-.4 0 0 .4-.6 0-.1 .3-.6 0 0 .1-.2 .2-.5 .1 0 .3-.7 0-.1 .3-.7 0-.1 .1-.1 .3-.7 0 0 .3-.9 0 0 .3-.9 .1-.1 0-.1 .3-.8 0 0 .3-1 0 0 .4-1 0-.1 0 0 .3-1 0 0 .3-1.1 .1 0 .3-1 0-.1 .3-1.1 0 0 .4-1.1 0 0 .3-1.1 0-.1 .3-1 .1-.1 .3-1.1 0 0 .3-1 0-.1 0-.1 .4-1 0-.1 .1-.4 .2-.6 0-.1 .1-.4 .2-.5 0-.1 .1-.1 .1-.4 .2-.7 0 0 .1-.5 .2-.7 0-.1 .2-.4 .1-.5 .1-.3 0 0 .1-.5 .2-.8 0-.1 .1-.4 .2-.9 .1 0 .1-.5 .1-.5 .1-.3 0-.1 .1-.5 .2-.8 0-.1 .2-.5 .2-.8 0-.1 .1-.5 .1-.4 .1-.4 0 0 .1-.5 .2-.8 .1-.1 .1-.4 .2-.8 0 0 .1-.5 .1-.3 .1-.4 0-.1 .2-.4 .2-.6 0-.1 .1-.4 .2-.6 0 0 .1-.4 .1-.1 .1-.4 .1-.1 .1-.3 .2-.4 0-.1 .1-.2 .2-.4 0-.1 .2-.2 0 0 .2-.3 0 0 .1-.2 .2-.3 0 0 .1-.2 .2-.3 .1 0 .1-.2 0 0 .2-.3 0 0 .1-.1 .2-.3 0 0 .2-.2 .2-.3 0 0 .1-.2 .2-.2 0 0 .1-.2 .2-.3 .1 0 .1-.1 .2-.3 0 0 .1-.1 0 0 .2-.3 0 0 .2-.1 .2-.3 0 0 .1-.1 .2-.2 0-.1 .1 0 0-.1 .2-.2 .1 0 .1-.1 .2-.2 0 0 .1-.2 .2-.1 0-.1 .1 0 .1-.1 .2-.1 0-.1 .1 0 .2-.2 0 0 .1-.1 .2-.2 .1 0 0 0 .1 0 .2-.2 0 0 .1-.1 .2-.1 0 0 .2-.1 .2-.1 0 0 0 0 .1 0 .2-.1 0 0 .1-.1 .2 0 .1 0 .1-.1 .2 0 0 0 .1 0 .2-.1 0 0 .2 0 .2 0 0 0 .1 0 .2 0 0 0 .1 0 .2 .1 .1 0 .1 .1 .2 .1 0 0 .1 0 .2 .2 0 0 0 0 .2 .1 .2 .2 0 0 .1 .1 .2 .2 0 .1 .1 .1 .2 .2 0 0 .1 .1 .1 .1 .2 .3 0 0 .1 .2 .2 .3 0 0 .2 .2 .1 .2 .1 .1 0 0 .1 .2 .2 .3 0 .1 .1 .2 .2 .3 .1 .1 .1 .2 .1 .2 .1 .1 0 0 .1 .3 .2 .3 0 .1 .2 .2 .2 .3 0 .1 .1 .2 .1 .2 .1 .2 0 0 .1 .2 .2 .4 .1 0 .1 .2 .2 .4 0 0 .1 .2 .1 .2 .1 .2 0 0 .2 .3 .2 .4 0 0 .1 .3 .2 .5 0 0 .1 .3 .1 .1 .1 .4 .1 0 .1 .3 .2 .5 0 .1 .1 .3 .2 .5 0 .1 .2 .3 0 .1 .2 .5 0 0 .1 .4 .2 .5 0 .1 .1 .3 .2 .6 .1 .1 .1 .3 0 .1 .2 .5 0 .1 .1 .3 .2 .6 0 .1 .2 .3 .2 .6 0 0 .1 .4 .2 .6 0 0 .1 .4 .2 .5 .1 .1 .1 .3 .2 .5 0 .1 .1 .2 0 .1 .2 .6 .2 .3 .2 .6 .1 .3 .2 .6 .1 .2 0 .1 .3 .6 .1 .3 .2 .6 .1 .3 .2 .6 .1 .2 .1 .1 .2 .7 .1 .3 .2 .6 .1 .3 .3 .6 0 .1 .1 .2 .2 .6 .1 .3 .2 .6 .2 .4 .2 .5 0 .1 .1 .2 .2 .6 .1 .3 .3 .6 .1 .3 .2 .5 .1 .3 .2 .5 .2 .3 .2 .5 .1 .3 .2 .5 0 0 .1 .3 .3 .4 .1 .3 .2 .4 .1 .3 .2 .3 0 .1 .2 .2 .2 .4 .1 .2 .2 .4 .1 .2 .2 .3 .1 .1 .1 .2 .2 .4 .1 .2 .2 .3 .2 .2 .1 .3 .1 .1 .1 .2 .2 .3 .1 .2 .3 .3 .1 .2 .1 .2 .1 .1 .1 .2 .2 .3 .2 .2 .2 .3 .1 .2 .1 .1 .1 .2 .1 .2 .3 .3 .1 .1 .2 .4 .1 .1 .1 .1 .1 .2 .2 .2 .2 .3 .1 .1 .2 .3 .1 .2 .1 .1 .2 .2 .1 .1 .2 .3 .1 .2 .2 .3 .2 .1 0 .1 .2 .2 .1 .2 .2 .3 .1 .1 .3 .3 .1 .2 0 0 .2 .3 .1 .1 .2 .3 .2 .2 .2 .3 .1 .1 .2 .3 .1 .2 .3 .2 .1 .2 .2 .3 .1 .1 0 0 .2 .3 .2 .1 .2 .3 .1 .1 .2 .3 .1 .1 0 .1 .3 .2 .1 .2 .3 .4 .3 .3 .1 .1 .3 .4 .3 .4 .3 .3 .1 .1 .3 .3 .4 .4 .2 .3 .1 .1 .3 .4 .4 .3 .2 .3 .1 .1 .4 .4 .3 .2 .2 .1 .1 .1 .4 .1 .3 .1 .2 .1 .2 0 .3 .1 .3 .1 .2 .1 .2 0 .3 .1 .4 .1 .1 .1 .2 0 .3 .1 .4 .1 .1 0 .2 .1 .4 .1 .3 0 .1 .1 .2 0 .4 .1 .3 .1 .1 0 .3 0 .3 .1 .3 .1 .1 0 .3 0 .3 .1 .4 0 0 0 .3 .1 .3 0 .4 .1 0 0 .3 .1 .4 0 .3 .1 .3 0 .7 .1 1 .1 1 .1 1 .1 1 .2 1 0 1 .1 1 .1 1 .1 1 .1 1 0 1 .1 1 .1 1 0 1 .1 1 0 1 .1 1 0 1 .1 1 0 1 0 1 .1 1 0 1 .1 1 0 1 0 1 0 1 .1 1 0 1 0 1 0 1 .1 1 0 1 0 1 0 1 .1 1 0 1 0 1 0 1 0 1 0 1 .1 1 0 1 0 1 0 1 0 1 0 1 0 1 .1 1 0 1 0 1 0' fill='none' stroke='#e2c6ec' stroke-width='2.6'/><path d='M505.5 524.4l1-2.5 1-.8 1 1.2 1 1.3 1-.6 1 1.5 1-2.7 1 0 1 2.9 1 .2 1-3.1 1 .7 1-1.9 1 .8 1-.2 1 1.1 1-1.5 1 2.7 1-2.2 1-.4 1 1.9 1-1.8 1-.9 1 2.2 1 2.1 1-2.3 1 .7 1-1.1 1-.5 1 .6 1-3.4 1 2.1 1 .8 1 .9 1 1.9 1 .7 1-2.5 1-.1 1 .4 1 .8 1-2.1 1 .2 1 1.6 1 .6 1-3.5 1 3.3 1-1.7 1 2 1-.8 1-4.8 1 2.8 1-.7 .4-.6 .3-.4 .3-.4 .1 .1 .3 .1 .4 .2 .2 .1 .1 0 .3-.1 .4-.1 0 0 .2 0 .1-.4 0 0 .4-1 0-.1 .3-.9 0-.1 .2-.5 .1-.5 .1 0 .3-1 0-.1 .3-1 0-.1 .2-.5 .2-.4 0-.1 .3-.9 0 0 .3-1 .1 0 .1-.4 .2-.2 0 0 .3-.4 0 0 .4-.3 0-.1 .1-.1 .2-.2 0-.1 .3-.4 .1 0 .3-.4 0 0 .1-.1 .2 .2 0 0 .4 .3 0 0 .3 .2 0 0 .1 .1 .2-.7 .1-.1 .3-1 0-.1 .3-1.1 0-.1 .1-.2 .3-.9 0-.1 .3-1.2 0-.1 .3-1.2 .1-.1 0-.2 .3-.5 0-.1 .3-.6 0 0 .4-.7 0-.1 0 0 .3-1.4 0-.1 .3-1.5 .1-.1 .3-1.5 0-.1 .3-1.1 0-.1 .4-1.1 0-.1 .3-1.1 0-.1 .3-1.4 .1-.1 .3-1.4 0 0 .3-1.3 0-.1 0 0 .4-1.1 0-.1 .1-.4 .2-.6 0-.1 .1-.4 .2-.5 0-.1 .1-.1 .1-.3 .2-.6 0 0 .1-.4 .2-.6 0 0 .2-.4 .1-.5 .1-.3 0-.1 .1-.6 .2-1 0-.1 .1-.6 .2-1.1 .1-.1 .1-.6 .1-.6 .1-.2 0 0 .1-.2 .2-.3 0 0 .2-.2 .2-.3 0-.1 .1-.1 .1-.2 .1-.5 0-.1 .1-.6 .2-.9 .1-.1 .1-.6 .2-.9 0-.1 .1-.5 .1-.4 .1-.5 0 0 .2-.5 .2-.8 0 0 .1-.5 .2-.6 0-.1 .1-.4 .1-.2 .1-.2 .1 0 .1-.1 .2-.2 0 0 .1-.1 .2-.2 0 0 .2 0 0 0 .2-.6 0-.1 .1-.4 .2-.7 0-.1 .1-.4 .2-.7 .1 0 .1-.5 0 0 .2 0 0 0 .1 .1 .2 .1 0 0 .2 0 .2 .1 0 0 .1 .1 .2-.3 0-.1 .1-.1 .2-.3 .1-.1 .1-.2 .2-.2 0-.1 .1-.1 0 0 .2 0 0 0 .2 0 .2 0 0 0 .1 0 .2 .1 0 0 .1 0 0-.1 .2-.6 .1-.1 .1-.3 .2-.6 0 0 .1-.4 .2-.5 0-.1 .1-.2 .1 0 .2-.3 0 0 .1-.1 .2-.3 0 0 .1-.1 .2-.3 .1 0 0 0 .1-.1 .2-.3 0 0 .1-.2 .2-.2 0 0 .2-.1 .2-.3 0 0 0 0 .1-.1 .2-.2 0 0 .1-.2 .2-.2 .1 0 .1-.1 .2-.2 0 0 .1 .2 .2 .3 0 0 .2 .2 .2 .3 0 0 .1 .2 .2 .3 0 0 .1-.2 .2-.2 .1-.1 .1-.1 .2-.2 0 0 .1-.1 .2-.2 0 0 0 .1 .2 .2 .2 .4 0 0 .1 .2 .2 .4 0 .1 .1 .2 .2 .4 0 0 .1 0 .1 .1 .2 .2 0 0 .1 .1 .2 .2 0 .1 .2 .1 .1 .1 .1 .3 0 0 .1 .4 .2 .8 0 0 .1 .5 .2 .7 .1 .1 .1 .4 .1 .4 .1-.1 0 0 .1-.2 .2-.3 0 0 .2-.2 .2-.2 0-.1 .1-.1 .1-.2 .1 .4 0 .1 .1 .5 .2 .9 .1 .1 .1 .5 .2 .9 0 0 .1 .6 .1 .3 .1 .2 0 .1 .2 .2 .2 .3 0 .1 .1 .2 .2 .4 0 0 .1 .3 .1 .1 .1 .4 .1 0 .1 .3 .2 .6 0 0 .1 .3 .2 .6 0 0 .2 .4 0 .1 .2 .4 0 0 .1 .3 .2 .5 0 0 .1 .3 .2 .5 .1 0 .1 .3 0 .1 .2 .8 0 .1 .1 .6 .2 .9 0 .1 .2 .6 .2 1 0 .1 .1 .5 .2 .4 0 0 .1 .3 .2 .3 .1 0 .1 .2 .2 .4 0 0 .1 .2 0 0 .2 .6 .2 .4 .2 .6 .1 .3 .2 .7 .1 .2 0 .1 .3 .5 .1 .3 .2 .5 .1 .3 .2 .6 .1 .1 .1 .1 .2 .4 .1 .3 .2 .4 .1 .2 .3 .4 0 .1 .1 .3 .2 .8 .1 .5 .2 .8 .2 .5 .2 .9 0 0 .1 .3 .2 .6 .1 .4 .3 .6 .1 .3 .2 .6 .1 .1 .2 .1 .2 .1 .2 .1 .1 .1 .2 .1 0 0 .1 .4 .3 .8 .1 .4 .2 .7 .1 .4 .2 .5 0 .1 .2 .1 .2 .3 .1 .1 .2 .3 .1 .1 .2 .2 .1 .2 .1 .4 .2 .9 .1 .4 .2 .8 .2 .5 .1 .5 .1 0 .1 .1 .2 0 .1 .1 .3 0 .1 0 .1 .1 .1 .1 .1 .1 .2 .3 .2 .1 .2 .2 .1 .1 .1 .2 .1 .3 .1 .4 .3 .8 .1 .4 .2 .7 .1 .4 .1 .2 .1 .1 .2 0 .2 0 .1 0 .2 .1 .1 0 .1 0 .2 .3 .1 .2 .2 .4 .1 .2 .2 .4 .2 .2 0 .1 .2 .2 .1 .1 .2 .3 .1 .1 .3 .2 .1 .1 0 0 .2 .4 .1 .2 .2 .4 .2 .3 .2 .4 .1 .2 .2 .3 .1 .2 .3 .3 .1 .1 .2 .3 .1 .1 0 0 .2-.2 .2-.1 .2-.2 .1-.1 .2-.2 .1-.1 0 .1 .3 .9 .1 .5 .3 1.3 .3 1.1 .1 0 .3 0 .3 0 .3 0 .1 .2 .3 .7 .4 .7 .2 .5 .1 .2 .3 .6 .4 .5 .2 .4 .1-.1 .4-.3 .3-.3 .2-.3 .1 0 .4 0 .3 0 .2 0 .2 .5 .3 1.1 .3 1 .2 .5 .2 .1 .3 .2 .4 .1 .1 .1 .2-.5 .3-.7 .4-.7 .1-.3 .2 .5 .4 .8 .3 .9 .1 .2 .2 0 .4 0 .3-.1 .1 0 .3-.2 .3-.3 .3-.3 .1-.1 .3-.2 .3-.2 .4-.3 0 0 .3 .3 .3 .3 .4 .4 0 0 .3 0 .4 .1 .3 0 .3 0 .7 0 1-.1 1-.9 1 3 1-2 1-.1 1 2.2 1-.2 1 1.9 1-1.8 1 0 1 1 1-1.2 1-.2 1 0 1 1.2 1-4.2 1 2.7 1-2 1 3.1 1-3.1 1 2.8 1 3.2 1-3.3 1-.8 1 3.8 1-3.1 1-.7 1 3.3 1-5 1 1.7 1 .5 1-.3 1-.4 1 3.1 1-.4 1-1.3 1-.3 1-2.1 1 1.2 1-1.1 1 2.3 1 1.6 1-1.2 1-2.6 1 1.8 1 2.7 1-1.4 1 1.7 1-5.2 1 3.7 1-.4' fill='none' stroke='#140814' stroke-width='2.2' stroke-linejoin='round'/><path d='M505.5 520.9l1 0 1 0 1 0 1 0 1 0 1 0 1 0 1 0 1 0 1-.1 1 0 1 0 1 0 1 0 1 0 1 0 1-.1 1 0 1 0 1 0 1 0 1 0 1-.1 1 0 1 0 1 0 1-.1 1 0 1 0 1 0 1-.1 1 0 1 0 1-.1 1 0 1-.1 1 0 1-.1 1 0 1-.1 1 0 1-.1 1-.1 1 0 1-.1 1-.1 1-.1 1-.1 1-.1 1-.1 1-.1 1-.2 .4 0 .3-.1 .3 0 .1 0 .3-.1 .4 0 .2-.1 .1 0 .3 0 .4-.1 0 0 .2 0 .1-.1 0 0 .4 0 0 0 .3-.1 0 0 .2 0 .1-.1 .1 0 .3 0 0-.1 .3 0 0 0 .2-.1 .2 0 0 0 .3-.1 0 0 .3-.1 .1 0 .1 0 .2 0 0-.1 .3 0 0 0 .4-.1 0 0 .1-.1 .2 0 0 0 .3-.1 .1 0 .3-.1 0 0 .1-.1 .2 0 0 0 .4-.2 0 0 .3-.1 0 0 .1 0 .2-.1 .1 0 .3-.1 0 0 .3-.1 0-.1 .1 0 .3-.1 0 0 .3-.1 0 0 .3-.2 .1 0 0 0 .3-.1 0 0 .3-.2 0 0 .4-.2 0 0 0 0 .3-.1 0-.1 .3-.1 .1 0 .3-.2 0 0 .3-.2 0 0 .4-.2 0 0 .3-.3 0 0 .3-.2 .1 0 .3-.2 0 0 .3-.3 0 0 0 0 .4-.3 0 0 .1-.1 .2-.1 0-.1 .1-.1 .2-.1 0 0 .1 0 .1-.2 .2-.1 0-.1 .1-.1 .2-.2 0 0 .2-.1 .1-.2 .1 0 0 0 .1-.2 .2-.2 0 0 .1-.1 .2-.3 .1 0 .1-.1 .1-.2 .1-.1 0 0 .1-.1 .2-.3 0 0 .2-.2 .2-.2 0-.1 .1-.1 .1-.2 .1-.1 0 0 .1-.2 .2-.3 .1 0 .1-.2 .2-.3 0-.1 .1-.2 .1-.1 .1-.2 0 0 .2-.2 .2-.4 0 0 .1-.2 .2-.4 0 0 .1-.3 .1-.1 .1-.3 .1 0 .1-.2 .2-.5 0 0 .1-.3 .2-.4 0 0 .2-.3 0-.1 .2-.4 0 0 .1-.3 .2-.5 0-.1 .1-.3 .2-.5 .1 0 .1-.3 0-.1 .2-.5 0 0 .1-.4 .2-.6 0 0 .2-.4 .2-.6 0 0 .1-.4 .2-.6 0-.1 .1-.4 .2-.7 .1 0 .1-.4 .2-.7 0-.1 .1-.4 0 0 .2-.8 0 0 .2-.5 .2-.8 0 0 .1-.5 .2-.8 0-.1 .1-.3 0-.1 .2-.9 .1 0 .1-.5 .2-.9 0 0 .1-.6 .2-.8 0-.1 .1-.2 .1-.3 .2-.9 0 0 .1-.6 .2-.8 0-.1 .1-.5 .2-.9 .1-.1 0-.1 .1-.4 .2-.8 0-.1 .1-.5 .2-.8 0-.1 .2-.5 .2-.7 0-.1 0-.1 .1-.4 .2-.7 0 0 .1-.5 .2-.6 .1-.1 .1-.3 .2-.6 0-.1 .1-.3 .2-.4 0-.1 .2-.2 .2-.4 0 0 .1-.2 .2-.3 0 0 .1-.1 .2-.1 .1 0 .1-.1 .2 0 0 0 .1 0 .2 .1 0 .1 0 0 .2 .1 .2 .2 0 .1 .1 .1 .2 .4 0 0 .1 .3 .2 .3 0 .1 .1 .1 .1 .3 .2 .6 0 0 .1 .4 .2 .6 0 .1 .2 .4 .1 .5 .1 .2 0 .1 .1 .4 .2 .8 0 .1 .1 .4 .2 .8 .1 .1 .1 .5 .1 .5 .1 .4 0 0 .1 .5 .2 .9 0 .1 .2 .5 .2 .9 0 0 .1 .6 .1 .4 .1 .4 0 .1 .1 .5 .2 .9 .1 .1 .1 .5 .2 .8 0 .1 .1 .5 .1 .3 .1 .5 0 .1 .2 .5 .2 .7 0 .1 .1 .5 .2 .8 0 0 .1 .5 .1 .2 .1 .5 .1 .1 .1 .4 .2 .7 0 .1 .1 .4 .2 .7 0 0 .2 .4 0 .2 .2 .5 0 0 .1 .4 .2 .6 0 .1 .1 .3 .2 .6 .1 .1 .1 .3 0 .1 .2 .4 0 .1 .1 .3 .2 .5 0 .1 .2 .3 .2 .5 0 0 .1 .3 .2 .5 0 0 .1 .3 .2 .5 .1 0 .1 .3 .2 .4 0 0 .1 .2 0 .1 .2 .4 .2 .2 .2 .4 .1 .2 .2 .4 .1 .2 0 0 .3 .4 .1 .2 .2 .3 .1 .2 .2 .4 .1 0 .1 .1 .2 .3 .1 .2 .2 .3 .1 .2 .3 .2 0 .1 .1 .1 .2 .3 .1 .1 .2 .2 .2 .2 .2 .2 0 0 .1 .1 .2 .3 .1 .1 .3 .2 .1 .1 .2 .2 .1 .1 .2 .2 .2 .1 .2 .2 .1 .1 .2 .2 0 0 .1 .1 .3 .2 .1 0 .2 .2 .1 .1 .2 .1 0 0 .2 .1 .2 .2 .1 0 .2 .2 .1 .1 .2 .1 .1 0 .1 .1 .2 .1 .1 .1 .2 .1 .2 0 .1 .1 .1 .1 .1 0 .2 .1 .1 .1 .3 .1 .1 0 .1 .1 .1 .1 .1 0 .2 .1 .2 .1 .2 0 .1 .1 .1 0 .1 .1 .1 0 .3 .1 .1 .1 .2 .1 .1 0 .1 0 .1 .1 .2 0 .2 .1 .1 0 .2 .1 .1 0 .1 .1 .2 0 .1 .1 .2 0 .1 .1 .2 0 .2 .1 0 0 .2 0 .1 .1 .2 0 .1 0 .3 .1 .1 0 0 0 .2 .1 .1 0 .2 .1 .2 0 .2 .1 .1 0 .2 0 .1 .1 .3 0 .1 0 .2 .1 .1 0 0 0 .2 .1 .2 0 .2 0 .1 .1 .2 0 .1 0 0 0 .3 .1 .1 0 .3 0 .3 .1 .1 0 .3 .1 .3 0 .3 .1 .1 0 .3 0 .4 .1 .2 0 .1 0 .3 .1 .4 0 .2 .1 .1 0 .4 0 .3 .1 .2 0 .1 0 .4 0 .3 .1 .2 0 .2 0 .3 0 .3 .1 .2 0 .2 0 .3 .1 .4 0 .1 0 .2 0 .3 .1 .4 0 .1 0 .2 0 .4 0 .3 .1 .1 0 .2 0 .4 0 .3 0 .1 .1 .3 0 .3 0 .3 0 .1 0 .3 0 .3 .1 .4 0 0 0 .3 0 .3 0 .4 .1 0 0 .3 0 .4 0 .3 0 .3 0 .7 .1 1 0 1 .1 1 0 1 .1 1 0 1 0 1 .1 1 0 1 0 1 .1 1 0 1 0 1 .1 1 0 1 0 1 0 1 .1 1 0 1 0 1 0 1 0 1 0 1 .1 1 0 1 0 1 0 1 0 1 0 1 0 1 .1 1 0 1 0 1 0 1 0 1 0 1 0 1 0 1 0 1 0 1 .1 1 0 1 0 1 0 1 0 1 0 1 0 1 0 1 0 1 0 1 0 1 0' fill='none' stroke='#3b6ee6' stroke-width='1.8'/><path d='M505.5 521.3l1 0 1 0 1 0 1 0 1 0 1 0 1 0 1 0 1 0 1 0 1 0 1 0 1 0 1 0 1-.1 1 0 1 0 1 0 1 0 1 0 1 0 1 0 1 0 1 0 1-.1 1 0 1 0 1 0 1 0 1-.1 1 0 1 0 1 0 1 0 1-.1 1 0 1 0 1-.1 1 0 1-.1 1 0 1-.1 1 0 1-.1 1 0 1-.1 1-.1 1-.1 1-.1 1-.1 1-.1 1-.2 .4-.1 .3 0 .3-.1 .1 0 .3 0 .4-.1 .2-.1 .1 0 .3-.1 .4 0 0 0 .2-.1 .1 0 0 0 .4-.1 0 0 .3-.1 0 0 .2 0 .1-.1 .1 0 .3-.1 0 0 .3-.1 0 0 .2-.1 .2 0 0 0 .3-.1 0 0 .3-.1 .1-.1 .1 0 .2-.1 0 0 .3-.1 0 0 .4-.2 0 0 .1 0 .2-.1 0 0 .3-.2 .1 0 .3-.2 0 0 .1 0 .2-.2 0 0 .4-.2 0 0 .3-.2 0 0 .1-.1 .2-.1 .1 0 .3-.3 0 0 .3-.2 0-.1 .1 0 .3-.2 0 0 .3-.3 0 0 .3-.4 .1 0 0 0 .3-.3 0 0 .3-.4 0 0 .4-.4 0 0 0-.1 .3-.3 0-.1 .3-.4 .1 0 .3-.5 0-.1 .3-.5 0 0 .4-.6 0 0 .3-.6 0-.1 .3-.6 .1-.1 .3-.7 0 0 .3-.7 0-.1 0 0 .4-.9 0 0 .1-.4 .2-.5 0-.1 .1-.3 .2-.5 0-.1 .1-.1 .1-.4 .2-.6 0-.1 .1-.4 .2-.6 0-.1 .2-.4 .1-.5 .1-.2 0-.1 .1-.5 .2-.7 0-.1 .1-.4 .2-.8 .1-.1 .1-.4 .1-.5 .1-.3 0-.1 .1-.5 .2-.8 0-.1 .2-.4 .2-.8 0-.1 .1-.4 .1-.4 .1-.4 0 0 .1-.5 .2-.7 .1 0 .1-.4 .2-.6 0-.1 .1-.3 .1-.2 .1-.3 0 0 .2-.3 .2-.4 0 0 .1-.2 .2-.2 0 0 .1-.1 .1-.1 .1 0 .1 0 .1 0 .2 .1 0 0 .1 .1 .2 .2 0 .1 .2 .2 0 0 .2 .3 0 .1 .1 .3 .2 .5 0 0 .1 .4 .2 .6 .1 0 .1 .4 0 .1 .2 .6 0 .1 .1 .4 .2 .7 0 .1 .2 .5 .2 .8 0 0 .1 .5 .2 .8 0 .1 .1 .4 .2 .8 .1 .1 .1 .5 .2 .7 0 .1 .1 .4 0 .1 .2 .7 0 .1 .2 .4 .2 .7 0 .1 .1 .4 .2 .7 0 .1 .1 .2 0 .2 .2 .6 .1 .1 .1 .3 .2 .6 0 .1 .1 .3 .2 .6 0 .1 .1 .1 .1 .2 .2 .5 0 .1 .1 .3 .2 .4 0 .1 .1 .3 .2 .4 .1 .1 0 0 .1 .2 .2 .4 0 .1 .1 .2 .2 .4 0 0 .2 .3 .2 .3 0 0 0 .1 .1 .1 .2 .4 0 0 .1 .2 .2 .3 .1 0 .1 .2 .2 .3 0 0 .1 .2 .2 .2 0 .1 .2 .1 .2 .3 0 0 .1 .1 .2 .3 0 0 .1 .1 .2 .2 .1 0 .1 .2 .2 .2 0 0 .1 .1 .2 .2 0 0 0 0 .2 .1 .2 .2 0 0 .1 .1 .2 .1 0 .1 .1 0 .2 .2 0 0 .1 0 .1 .1 .2 .1 0 0 .1 .1 .2 .2 0 0 .2 0 .1 .1 .1 .1 0 0 .1 0 .2 .2 0 0 .1 0 .2 .1 .1 0 .1 .1 .1 .1 .1 0 0 0 .1 .1 .2 .1 0 0 .2 0 .2 .1 0 0 .1 .1 .1 0 .1 .1 0 0 .1 0 .2 .1 .1 0 .1 .1 .2 0 0 0 .1 .1 .1 0 .1 .1 0 0 .2 0 .2 .1 0 0 .1 0 .2 .1 0 0 .1 0 .1 0 .1 .1 .1 0 .1 0 .2 .1 0 0 .1 0 .2 .1 0 0 .2 0 0 0 .2 .1 0 0 .1 0 .2 0 0 0 .1 .1 .2 0 .1 0 .1 0 0 .1 .2 0 0 0 .1 0 .2 .1 0 0 .2 0 .2 0 0 0 .1 .1 .2 0 0 0 .1 0 .2 .1 .1 0 .1 0 .2 0 0 0 .1 0 0 0 .2 .1 .2 0 .2 0 .1 .1 .2 0 .1 0 0 0 .3 0 .1 .1 .2 0 .1 0 .2 0 .1 0 .1 0 .2 .1 .1 0 .2 0 .1 0 .3 .1 0 0 .1 0 .2 0 .1 0 .2 0 .2 0 .2 .1 0 0 .1 0 .2 0 .1 0 .3 0 .1 0 .2 .1 .1 0 .2 0 .2 0 .2 0 .1 0 .2 .1 0 0 .1 0 .3 0 .1 0 .2 0 .1 0 .2 0 0 0 .2 0 .2 .1 .1 0 .2 0 .1 0 .2 0 .1 0 .1 0 .2 0 .1 0 .2 .1 .2 0 .1 0 .1 0 .1 0 .2 0 .1 0 .3 0 .1 0 .1 0 .1 0 .1 0 .2 0 .2 .1 .2 0 .1 0 .1 0 .1 0 .1 0 .3 0 .1 0 .2 0 .1 0 .1 0 .1 0 .2 0 .2 0 .1 .1 .2 0 .1 0 .1 0 .2 0 .1 0 .2 0 .1 0 .2 0 .2 0 0 0 .2 0 .1 0 .2 0 .1 0 .3 0 .1 0 0 0 .2 .1 .1 0 .2 0 .2 0 .2 0 .1 0 .2 0 .1 0 .3 0 .1 0 .2 0 .1 0 0 0 .2 0 .2 0 .2 0 .1 0 .2 0 .1 0 0 0 .3 0 .1 .1 .3 0 .3 0 .1 0 .3 0 .3 0 .3 0 .1 0 .3 0 .4 0 .2 0 .1 0 .3 0 .4 0 .2 0 .1 0 .4 0 .3 .1 .2 0 .1 0 .4 0 .3 0 .2 0 .2 0 .3 0 .3 0 .2 0 .2 0 .3 0 .4 0 .1 0 .2 0 .3 0 .4 0 .1 0 .2 0 .4 0 .3 0 .1 0 .2 0 .4 .1 .3 0 .1 0 .3 0 .3 0 .3 0 .1 0 .3 0 .3 0 .4 0 0 0 .3 0 .3 0 .4 0 0 0 .3 0 .4 0 .3 0 .3 0 .7 0 1 0 1 0 1 0 1 .1 1 0 1 0 1 0 1 0 1 0 1 0 1 0 1 0 1 0 1 0 1 0 1 0 1 0 1 0 1 0 1 0 1 .1 1 0 1 0 1 0 1 0 1 0 1 0 1 0 1 0 1 0 1 0 1 0 1 0 1 0 1 0 1 0 1 0 1 0 1 0 1 0 1 0 1 0 1 0 1 0 1 0 1 0 1 0 1 0 1 0 1 0 1 0' fill='none' stroke='#ff2020' stroke-width='1.7'/><path d='M505.5 521.4l1 0 1 0 1 0 1 0 1 0 1 0 1 0 1 0 1 0 1 0 1 0 1 0 1 0 1-.1 1 0 1 0 1 0 1 0 1 0 1 0 1 0 1 0 1 0 1 0 1 0 1 0 1 0 1 0 1 0 1 0 1 0 1 0 1-.1 1 0 1 0 1 0 1 0 1 0 1 0 1 0 1 0 1 0 1-.1 1 0 1 0 1 0 1 0 1 0 1 0 1-.1 1 0 1 0 .4 0 .3 0 .3 0 .1 0 .3 0 .4 0 .2-.1 .1 0 .3 0 .4 0 0 0 .2 0 .1 0 0 0 .4 0 0 0 .3 0 0 0 .2 0 .1 0 .1 0 .3 0 0 0 .3 0 0 0 .2 0 .2 0 0 0 .3 0 0 0 .3-.1 .1 0 .1 0 .2 0 0 0 .3 0 0 0 .4 0 0 0 .1 0 .2 0 0 0 .3 0 .1 0 .3 0 0 0 .1 0 .2 0 0 0 .4-.1 0 0 .3 0 0 0 .1 0 .2 0 .1 0 .3 0 0 0 .3 0 0 0 .1 0 .3 0 0 0 .3 0 0 0 .3-.1 .1 0 0 0 .3 0 0 0 .3 0 0 0 .4 0 0 0 0 0 .3 0 0 0 .3 0 .1 0 .3-.1 0 0 .3 0 0 0 .4 0 0 0 .3 0 0 0 .3 0 .1 0 .3-.1 0 0 .3 0 0 0 0 0 .4 0 0 0 .1 0 .2 0 0 0 .1 0 .2-.1 0 0 .1 0 .1 0 .2 0 0 0 .1 0 .2 0 0 0 .2 0 .1 0 .1 0 0 0 .1-.1 .2 0 0 0 .1 0 .2 0 .1 0 .1 0 .1 0 .1 0 0 0 .1 0 .2-.1 0 0 .2 0 .2 0 0 0 .1 0 .1 0 .1 0 0 0 .1 0 .2-.1 .1 0 .1 0 .2 0 0 0 .1 0 .1 0 .1 0 0 0 .2 0 .2-.1 0 0 .1 0 .2 0 0 0 .1 0 .1 0 .1-.1 .1 0 .1 0 .2 0 0 0 .1 0 .2 0 0 0 .2-.1 0 0 .2 0 0 0 .1 0 .2 0 0 0 .1-.1 .2 0 .1 0 .1 0 0 0 .2 0 0 0 .1-.1 .2 0 0 0 .2 0 .2 0 0-.1 .1 0 .2 0 0 0 .1 0 .2-.1 .1 0 .1 0 .2 0 0 0 .1-.1 0 0 .2 0 0 0 .2 0 .2-.1 0 0 .1 0 .2 0 0 0 .1-.1 0 0 .2 0 .1 0 .1 0 .2-.1 0 0 .1 0 .2-.1 0 0 .1 0 .1 0 .2-.1 0 0 .1 0 .2-.1 0 0 .1 0 .2 0 .1-.1 0 0 .1 0 .2 0 0-.1 .1 0 .2 0 0-.1 .2 0 .2-.1 0 0 0 0 .1 0 .2-.1 0 0 .1 0 .2-.1 .1 0 .1 0 .2-.1 0 0 .1-.1 .2 0 0-.1 .2 0 .2-.1 0 0 .1 0 .2-.1 0 0 .1-.1 .2-.1 .1 0 .1 0 .2-.1 0-.1 .1 0 .2-.1 0 0 0 0 .2-.1 .2-.1 0 0 .1-.1 .2-.1 0 0 .1-.1 .2-.1 0 0 .1 0 .1-.1 .2-.1 0 0 .1-.1 .2-.1 0 0 .2-.1 .1-.1 .1 0 0-.1 .1 0 .2-.2 0 0 .1-.1 .2-.1 .1-.1 .1-.1 .1-.1 .1 0 0 0 .1-.1 .2-.2 0 0 .2-.1 .2-.2 0 0 .1-.1 .1-.1 .1-.1 0 0 .1-.2 .2-.2 .1 0 .1-.1 .2-.2 0 0 .1-.2 .1-.1 .1-.1 0 0 .2-.2 .2-.2 0 0 .1-.2 .2-.2 0 0 .1-.2 .1 0 .1-.2 .1-.1 .1-.1 .2-.3 0 0 .1-.2 .2-.3 0 0 .2-.1 0-.1 .2-.2 0-.1 .1-.1 .2-.3 0-.1 .1-.2 .2-.3 .1 0 .1-.2 0 0 .2-.3 0 0 .1-.2 .2-.4 0 0 .2-.2 .2-.3 0 0 .1-.2 .2-.4 0 0 .1-.2 .2-.3 .1-.1 .1-.2 .2-.3 0 0 .1-.2 0 0 .2-.4 .2-.2 .2-.3 .1-.2 .2-.3 .1-.1 0 0 .3-.3 .1-.2 .2-.2 .1-.2 .2-.2 .1-.1 .1 0 .2-.2 .1-.1 .2-.1 .1-.1 .3-.1 0 0 .1 0 .2-.1 .1 0 .2 0 .2 0 .2 .1 0 0 .1 0 .2 .1 .1 .1 .3 .1 .1 .1 .2 .2 .1 .2 .2 .2 .2 .1 .2 .3 .1 .1 .2 .3 0 0 .1 .2 .3 .3 .1 .2 .2 .3 .1 .2 .2 .3 0 .1 .2 .2 .2 .3 .1 .2 .2 .4 .1 .2 .2 .3 .1 .1 .1 .2 .2 .3 .1 .2 .2 .4 .2 .2 .1 .2 .1 .1 .1 .2 .2 .3 .1 .2 .3 .3 .1 .2 .1 .2 .1 .1 .1 .2 .2 .3 .2 .2 .2 .3 .1 .1 .1 .2 .1 .1 .1 .2 .3 .2 .1 .2 .2 .2 .1 .2 .1 0 .1 .2 .2 .1 .2 .3 .1 .1 .2 .2 .1 .1 .1 .1 .2 .1 .1 .1 .2 .2 .1 .1 .2 .2 .2 .1 0 0 .2 .2 .1 .1 .2 .2 .1 0 .3 .2 .1 .1 0 0 .2 .1 .1 .1 .2 .2 .2 0 .2 .2 .1 0 .2 .2 .1 0 .3 .2 .1 0 .2 .1 .1 .1 0 0 .2 .1 .2 .1 .2 .1 .1 0 .2 .1 .1 .1 0 0 .3 .1 .1 0 .3 .2 .3 .1 .1 0 .3 .1 .3 .1 .3 .1 .1 .1 .3 .1 .4 .1 .2 0 .1 .1 .3 .1 .4 0 .2 .1 .1 0 .4 .1 .3 .1 .2 0 .1 .1 .4 0 .3 .1 .2 0 .2 .1 .3 0 .3 .1 .2 0 .2 .1 .3 0 .4 .1 .1 0 .2 0 .3 .1 .4 0 .1 0 .2 .1 .4 0 .3 .1 .1 0 .2 0 .4 0 .3 .1 .1 0 .3 0 .3 0 .3 .1 .1 0 .3 0 .3 0 .4 .1 0 0 .3 0 .3 0 .4 .1 0 0 .3 0 .4 0 .3 0 .3 .1 .7 0 1 .1 1 0 1 .1 1 0 1 .1 1 0 1 .1 1 0 1 0 1 .1 1 0 1 0 1 0 1 .1 1 0 1 0 1 0 1 .1 1 0 1 0 1 0 1 0 1 0 1 0 1 .1 1 0 1 0 1 0 1 0 1 0 1 0 1 0 1 0 1 0 1 .1 1 0 1 0 1 0 1 0 1 0 1 0 1 0 1 0 1 0 1 0 1 0 1 0 1 0 1 0 1 0 1 0' fill='none' stroke='#ff2020' stroke-width='1.7'/><path d='M405.5 587.4l1-.1 1-.1 1 .5 1 0 1-.1 1 .3 1 .2 1-.2 1-.1 1 .2 1 0 1-.4 1 .2 1-.1 1-.2 1-.1 1 .3 1-.1 1 0 1-.6 1 .1 1-.1 1 .4 1 .1 1 .1 1 .1 1-.2 1 .3 1-.2 1 0 1-.1 1 .2 1-.3 1 .3 1 .2 1-.2 1-.4 1 .1 1 .2 1 .3 1-.6 1-.1 1-.1 1-.1 1-.4 1-.1 1-.1 1-.1 1-.8 .5-.2 .2 .1 .3-.2 .3 0 .2-.5 .2 .4 .3-.3 .3-.4 .2-.5 .2-.4 .3-.2 .3-1.3 .2-.8 .2-.8 .3-1.5 .3-2 .2-1.9 .2-3.2 .3-4.3 .3-4.8 .2-5.9 .2-7 .3-6.9 .3-5.8 .2-2.5 .2 2 .3 6 .3 7.6 .2 7.2 .2 5.6 .3 4.7 .3 4 .2 2.8 .2 2.6 .3 1.7 .3 1.5 .2 .8 .2 .9 .3 .7 .3 .6 .2 .7 .2 .2 .3 .6 .3 .5 .2 .4 .2 .3 .3 0 .3 0 .2 0 1 0 1 .4 1 .1 1 .5 1 .4 1-.4 1-.1 1 .4 1-.2 1 .5 1-.2 1-.1 1-.1 1 .5 1-.5 1 .1 1 .2 1-.3 1 .5 1 .2 1 0 1-.1 1 0 1 .1 1-.4 1 .1 1 0' fill='none' stroke='#111' stroke-width='1.3' stroke-linejoin='round'/><path d='M496.2 588.2h3.2M501.7 587.8h3.4' stroke='#222' stroke-width='1.2'/><path d='M505.5 590.6l1-1.2 1-.5 1-.7 1 .2 1-.5 1 .5 1 .8 1 1 1-.4 1 .8 1-.4 1 1 1-1.5 1 .7 1-1.2 1 .8 1-.7 1 .1 1-.1 1-.4 1-.4 1 .2 1-.2 1-.8 1-1.1 1-.9 1 1.1 1-1.5 1 1.9 1 0 1-1 1 1.1 1-.3 1 1.3 1-.7 1 .3 1 .6 1 .8 1-.6 1 1.6 1-1.7 1 .8 1-1.2 1 0 1-.3 1-.3 1 .4 1 .1 1-1.1 1-.9 1 .8 .3 .1 .4 .2 .3 .1 0 0 .4 .2 .3 .2 .3 .2 0 .1 .4 1 .3 1 .3 .8 .1 0 .3 0 .3-.1 .3 0 .1 0 .3 .3 .4 .2 .1 .1 .1 .1 .1 0 .1 0 .2 0 .2 0 .2 .1 .1 0 .1 0 .1-.1 .2-.1 .2-.1 .1-.1 .2-.1 .1-.1 .1 0 .1-.1 .2-.1 .2 0 .1-.1 .2-.1 .2-.1 0 0 .2 .1 .1 0 .2 0 .1 .1 .2 0 .2 0 0 0 .2-.2 .1-.2 .2-.3 .2-.1 .2-.3 .1-.2 .2-.1 .1-.1 .2-.1 .2-.1 .2-.2 .1 0 0-.1 .2-.2 .2-.1 .2-.2 .1-.1 .2-.2 .1-.1 0 0 .2 .1 .2 .1 .2 .1 .1 .1 .2 .1 .1 0 .1 .1 .2 .4 .1 .2 .2 .4 .1 .2 .2 .4 .1 .1 .1-.1 .2-.1 .1-.1 .2-.1 .2-.1 .2-.1 0 0 .1 0 .2 .1 .1 .1 .2 .1 .2 .1 .2 .1 0 0 .1 0 .2-.1 .2-.1 .2 0 .1-.1 .2-.1 .1 0 .2 0 .2-.1 .2 0 .1 0 .2-.1 0 0 .2 0 .2 0 .1 0 .2 0 .1 0 .2 0 0 0 .2 0 .2-.1 .1 0 .2 0 .2-.1 .1 0 .1 0 0 0 .1 .1 .2 .1 0 0 .1 0 .2 .1 .1 0 .1 .1 .1 0 .1 0 0-.1 .1-.1 .2-.1 .1-.1 .1 0 .2-.2 0 0 .1-.1 .1-.1 .1 .1 0 0 .1 0 .2 .2 .1 0 .1 0 .2 .2 0 0 .1 0 .1 .1 .1-.2 .1 0 .1-.1 .2-.3 0 0 .1-.1 .2-.3 0 0 .1-.1 .1-.1 .1 .1 .1 0 .1 .1 .2 .1 0 0 .1 .1 .2 .1 .1 0 .1 .1 0 0 .2-.1 0 0 .1 0 .2-.1 0 0 .1-.1 .2-.1 .1 0 .1-.1 0 0 .2-.1 0-.1 .1-.1 .2-.2 .1 0 .1-.1 .2-.2 0 0 .1-.1 .2-.1 0 0 .1 0 .2-.1 .1 0 .1 0 .2-.1 0 0 .1 0 0 0 .2 .1 .1 0 .1 0 .2 .1 0 0 .1 0 .2 .1 0 0 .1 .1 0 0 .2 .1 .1 .1 .1 0 .2 .2 0 0 .1 .1 .2 .1 .1 .1 0 0 .1 0 .2-.1 0 0 .1-.1 .2-.1 0 0 .1-.1 .2-.1 .1 0 0 0 .1 .1 .2 .1 0 .1 .1 0 .2 .2 .1 0 .1 .1 .2 .1 0 0 .1 .2 .2 .2 0 0 .1 .1 .2 .3 .1 0 .1 .1 .2 .3 0 0 0 0 .1-.1 .2-.2 .1 0 .1-.1 .2-.2 0 0 .1-.1 .2-.2 0 0 .1-.1 .2-.2 .1-.1 .1 0 .2-.2 0-.1 .1-.1 .2-.1 0-.1 .1 0 .1 0 .2-.2 0 0 .1-.1 .2-.1 0 0 .1-.1 .2-.1 0 .1 .1 0 .1 .1 .2 .2 0 .1 .1 .1 .2 .2 .1 .1 .1 .1 .1 .1 .1 0 .1 0 .2 0 .1-.1 .3 0 .1 0 .1 0 .1 .1 .1 .2 .3 .3 .1 .2 .2 .4 .1 .1 .1 .2 .1 0 .1 0 .3 .1 .1 0 .2 .1 .1 0 .1 .1 .2 .2 .1 .1 .2 .3 .1 .1 .2 .3 .1 .2 .1 0 .2-.2 .1-.2 .2-.3 .1-.1 .3-.4 .1-.1 0-.1 .2 .3 .1 .1 .2 .2 .1 .1 .3 .3 .1 .1 0 0 .2-.2 .1-.1 .3-.2 .1-.2 .2-.2 .1-.1 .2-.1 .1 0 .3-.1 .1 0 .2 0 .1-.1 0 0 .3 0 .1 0 .2 0 .1 .1 .2 0 .1 0 0-.1 .3-.1 .1-.1 .2-.1 .1-.1 .3-.2 0 0 .1 .1 .2 .3 .1 .1 .2 .3 .1 .1 .3 .3 0 0 .1-.1 .2-.3 .1-.1 .3-.2 .1-.1 .2-.3 .1 0 .2-.1 .1 0 .3-.1 .1 0 .2 0 0 0 .1 .2 .3 .5 .1 .2 .2 .5 .1 .2 .2 .4 0 0 .1-.1 .3-.3 .1-.1 .2-.2 .1-.1 .2-.2 .1 0 .1 .1 .2 .1 .1 .1 .2 .1 .1 .1 .2 0 .1 0 .1 0 .2 0 .1 0 .3-.1 .1 0 .1 0 .1-.1 .1-.1 .2-.2 .1-.1 .3-.2 .1-.1 .1-.1 .1 0 .1 0 .3-.1 .1 0 .2 0 .1 0 .1 0 .1-.1 .1-.1 .3-.2 .1 0 .2-.2 .2-.1 .2-.4 .3-.8 .3-.8 .2-.4 .2 0 .3-.2 .4-.1 .1-.1 .2-.1 .3-.1 .4-.1 .1 0 .2 0 .4 0 .3-.1 .1 0 .2 .3 .4 .5 .3 .4 .1 .1 .3 .5 .3 .6 .3 .6 .1 .1 .3 .1 .3 .1 .4 .1 0 .1 .3 .1 .3 .2 .4 .1 0 0 1-.1 1-.5 1 0 1-.7 1 .3 1 .9 1 .7 1 .2 1 .7 1-.2 1-.6 1 .4 1-.7 1-.7 1 1.6 1 .1 1 .3 1-.9 1 .6 1-.8 1 .1 1-1.3 1-.1 1 .9 1-.2 1 .6 1 1.2 1 .2 1-.4 1 .6 1-2.4 1 .2 1-.3 1 1.5 1 .4 1-1.3 1-.2 1 .1 1-.1 1 .3 1 .4 1-.1 1-2 1-1.2 1 .5 1 .5 1 .5 1 1.1 1 .4 1 0 1-.4 1-.1 1-.3 1 .9 1 .4 1 1.1 1-.2 1-.5 1-.2 1-.4 1 1.2 1 .5 1-1.1' fill='none' stroke='#dedede' stroke-width='2.2' stroke-linejoin='round'/><path d='M505.5 587l1 0 1 0 1-.1 1 0 1 0 1 0 1 0 1 0 1-.1 1 0 1 0 1 0 1 0 1-.1 1 0 1 0 1 0 1-.1 1 0 1 0 1-.1 1 0 1 0 1-.1 1 0 1-.1 1 0 1-.1 1 0 1-.1 1-.1 1 0 1-.1 1-.1 1-.1 1-.1 1-.1 1-.2 1-.1 1-.2 1-.1 1-.2 1-.2 1-.3 1-.3 1-.3 1-.3 1-.5 1-.5 1-.5 1-.5 .3-.1 .4-.1 .3-.1 0 0 .4-.2 .3-.1 .3-.2 0 0 .4-.2 .3-.3 .3-.2 .1 0 .3-.3 .3-.3 .3-.2 .1-.1 .3-.3 .4-.3 .1-.2 .1-.1 .1-.1 .1-.1 .2-.2 .2-.1 .2-.3 .1-.1 .1-.1 .1-.1 .2-.2 .2-.2 .1-.2 .2-.2 .1-.1 .1-.1 .1-.2 .2-.1 .2-.2 .1-.2 .2-.2 .2-.2 0 0 .2-.2 .1-.2 .2-.2 .1-.2 .2-.3 .2-.2 0 0 .2-.3 .1-.2 .2-.3 .2-.2 .2-.3 .1-.2 .2-.4 .1-.2 .2-.4 .2-.3 .2-.3 .1-.3 0 0 .2-.4 .2-.3 .2-.4 .1-.3 .2-.4 .1-.2 0-.1 .2-.4 .2-.3 .2-.5 .1-.3 .2-.5 .1-.1 .1-.2 .2-.5 .1-.3 .2-.5 .1-.3 .2-.5 .1-.1 .1-.2 .2-.5 .1-.4 .2-.4 .2-.4 .2-.5 0-.1 .1-.2 .2-.6 .1-.3 .2-.6 .2-.4 .2-.6 0-.1 .1-.3 .2-.7 .2-.5 .2-.6 .1-.5 .2-.7 .1-.5 .2-.8 .2-.5 .2-.7 .1-.5 .2-.7 0-.1 .2-.5 .2-.7 .1-.5 .2-.7 .1-.5 .2-.6 0-.1 .2-.5 .2-.6 .1-.5 .2-.6 .2-.4 .1-.5 .1-.1 0-.1 .1-.3 .2-.5 0-.1 .1-.3 .2-.5 .1-.1 .1-.2 .1-.3 .1-.2 0-.1 .1-.2 .2-.4 .1-.1 .1-.2 .2-.5 0-.1 .1-.2 .1-.2 .1-.2 0-.1 .1-.2 .2-.3 .1-.1 .1-.2 .2-.4 0-.1 .1-.2 .1-.1 .1-.3 .1 0 .1-.2 .2-.4 0-.1 .1-.1 .2-.4 0-.1 .1-.2 .1-.1 .1-.2 .1-.1 .1-.2 .2-.4 0 0 .1-.2 .2-.4 .1-.1 .1-.2 0 0 .2-.3 0-.1 .1-.2 .2-.4 0-.1 .1-.2 .2-.4 .1-.1 .1-.2 0 0 .2-.4 0-.1 .1-.3 .2-.5 .1-.1 .1-.2 .2-.5 0-.1 .1-.3 .2-.5 0-.1 .1-.3 .2-.5 .1-.1 .1-.3 .2-.5 0-.1 .1-.2 0-.1 .2-.5 .1-.1 .1-.2 .2-.5 0-.1 .1-.3 .2-.4 0-.1 .1-.1 0-.1 .2-.4 .1-.1 .1-.2 .2-.3 0-.1 .1-.2 .2-.2 .1-.1 0 0 .1-.1 .2-.2 0 0 .1-.1 .2-.1 0 0 .1-.1 .2 0 .1 0 0 0 .1 0 .2 .1 0 .1 .1 .1 .2 .2 .1 0 .1 .2 .2 .3 0 .1 .1 .1 .2 .5 0 .1 .1 .2 .2 .5 .1 .1 .1 .2 .2 .6 0 .1 0 0 .1 .3 .2 .6 .1 .2 .1 .3 .2 .6 0 .2 .1 .3 .2 .7 0 .2 .1 .3 .2 .7 .1 .2 .1 .3 .2 .7 0 .2 .1 .3 .2 .7 0 0 .1 .2 .1 .3 .2 .7 0 .2 .1 .3 .2 .7 0 .1 .1 .3 .2 .5 0 .1 .1 .1 .1 .3 .2 .6 0 .2 .1 .3 .2 .6 .1 .2 .1 .3 .1 .4 .1 .4 .1 .3 .2 .8 .1 .4 .3 .8 .1 .4 .1 .4 .1 .4 .1 .4 .3 .8 .1 .4 .2 .8 .1 .4 .1 .3 .1 .5 .1 .4 .3 .8 .1 .4 .2 .8 .1 .3 .1 .3 .2 .5 .1 .4 .2 .8 .1 .3 .2 .7 .1 .3 .1 .2 .2 .6 .1 .2 .2 .7 .1 .3 .3 .7 .1 .3 0 .1 .2 .6 .1 .3 .2 .7 .1 .2 .3 .7 .1 .3 0 .1 .2 .6 .1 .3 .3 .6 .1 .3 .2 .7 .1 .3 .2 .6 .1 .3 .3 .6 .1 .3 .2 .6 .1 .2 0 .1 .3 .6 .1 .2 .2 .6 .1 .3 .2 .5 .1 .2 0 .1 .3 .5 .1 .2 .2 .6 .1 .2 .3 .5 0 .1 .1 .1 .2 .5 .1 .2 .2 .4 .1 .2 .3 .5 0 0 .1 .1 .2 .4 .1 .2 .3 .4 .1 .1 .2 .4 .1 .2 .2 .4 .1 .1 .3 .4 .1 .2 .2 .3 0 0 .1 .2 .3 .4 .1 .1 .2 .4 .1 .1 .2 .3 0 .1 .1 .1 .3 .4 .1 .1 .2 .4 .1 .1 .2 .3 .1 .1 .1 .1 .2 .3 .1 .2 .2 .3 .1 .1 .2 .2 .1 .1 .1 .2 .2 .3 .1 .1 .3 .3 .1 .1 .1 .2 .1 .1 .1 .1 .2 .3 .1 .1 .3 .3 .1 .1 .1 .1 .1 .1 .1 .1 .3 .3 .1 .1 .2 .2 .1 .1 .1 .1 .1 .1 .1 .1 .3 .2 .1 .1 .2 .1 .2 .2 .2 .1 .3 .2 .3 .2 .2 .1 .2 .1 .3 .1 .4 .1 .1 .1 .2 0 .3 .1 .4 .1 .1 .1 .2 0 .4 .1 .3 .1 .1 0 .2 .1 .4 .1 .3 0 .1 .1 .3 0 .3 .1 .3 .1 .1 0 .3 0 .3 .1 .4 .1 0 0 .3 0 .3 .1 .4 0 0 0 1 .2 1 .2 1 .1 1 .1 1 .1 1 .1 1 .2 1 0 1 .1 1 .1 1 .1 1 .1 1 0 1 .1 1 .1 1 0 1 .1 1 0 1 .1 1 0 1 .1 1 0 1 0 1 .1 1 0 1 0 1 .1 1 0 1 0 1 .1 1 0 1 0 1 0 1 .1 1 0 1 0 1 0 1 0 1 .1 1 0 1 0 1 0 1 0 1 0 1 .1 1 0 1 0 1 0 1 0 1 0 1 0 1 0 1 .1 1 0 1 0 1 0 1 0 1 0 1 0 1 0 1 0 1 0 1 0' fill='none' stroke='#e2c6ec' stroke-width='2.6'/><path d='M505.5 589.4l1-1 1 0 1 .1 1 1 1-.6 1 .1 1-.8 1-1.3 1 1.8 1 1 1-1.9 1-1.4 1 .9 1 .4 1 .8 1-2.2 1-.8 1 1.7 1 2 1-.6 1 .6 1-1.2 1 1.9 1 .5 1-2.8 1-.5 1 1.1 1 3.3 1-2.8 1-1.7 1 1.2 1-1.1 1-2.1 1 1.6 1 1.9 1-2.9 1-.4 1 2.1 1-.9 1 .5 1-2.9 1 .8 1-.4 1-.2 1 .2 1-.2 1 1 1-1.5 1-.9 1-.3 1 .3 .3 0 .4 0 .3 0 0 0 .4-.4 .3-.5 .3-.4 0 0 .4-.5 .3-.5 .3-.5 .1 0 .3-.1 .3-.2 .3-.2 .1-.1 .3-.8 .4-.8 .1-.3 .1-.3 .1 .1 .1 .1 .2 .2 .2 .1 .2 .1 .1 .1 .1 0 .1-.1 .2-.2 .2-.2 .1-.2 .2-.2 .1-.2 .1-.1 .1 .1 .2 0 .2 .1 .1 0 .2 .1 .2 0 0 0 .2-.5 .1-.4 .2-.5 .1-.5 .2-.6 .2-.4 0-.1 .2-.1 .1-.1 .2-.1 .2-.2 .2-.1 .1-.2 .2-.2 .1-.2 .2-.3 .2-.2 .2-.3 .1-.2 0-.1 .2-1 .2-.7 .2-1.1 .1-.7 .2-1 .1-.6 0 0 .2-.3 .2-.2 .2-.3 .1-.3 .2-.3 .1-.1 .1-.1 .2-.3 .1-.3 .2-.3 .1-.2 .2-.4 .1-.1 .1-.1 .2-.4 .1-.3 .2-.4 .2-.3 .2-.3 0-.1 .1-.5 .2-.8 .1-.7 .2-.9 .2-.6 .2-1 0-.1 .1-.1 .2-.3 .2-.2 .2-.3 .1-.2 .2-.4 .1-.5 .2-.8 .2-.5 .2-.7 .1-.6 .2-.7 0 0 .2-.6 .2-.7 .1-.6 .2-.7 .1-.5 .2-.6 0-.2 .2-.6 .2-.8 .1-.5 .2-.8 .2-.5 .1-.5 .1-.2 0-.2 .1-.3 .2-.7 0-.1 .1-.3 .2-.7 .1-.1 .1-.3 .1-.3 .1-.1 0 0 .1-.1 .2-.2 .1 0 .1-.1 .2-.1 0 0 .1-.1 .1 0 .1-.4 0-.2 .1-.3 .2-.8 .1-.1 .1-.4 .2-.7 0-.1 .1-.4 .1-.3 .1-.3 .1-.1 .1-.3 .2-.5 0-.2 .1-.2 .2-.6 0-.1 .1-.3 .1-.1 .1 0 .1 0 .1 0 .2 0 0 0 .1 0 .2 0 .1 0 .1 0 0 0 .2-.3 0-.1 .1-.1 .2-.4 0-.1 .1-.1 .2-.4 .1-.1 .1-.2 0 0 .2-.5 0-.2 .1-.3 .2-.6 .1-.1 .1-.3 .2-.6 0-.2 .1-.3 .2-.6 0-.1 .1-.4 .2-.6 .1-.1 .1-.3 .2-.7 0-.1 .1-.2 0-.1 .2-.4 .1-.1 .1-.3 .2-.4 0-.1 .1-.2 .2-.4 0-.1 .1-.1 0-.1 .2-.2 .1-.1 .1-.1 .2-.2 0 0 .1-.1 .2-.1 .1 0 0 0 .1-.2 .2-.5 0-.1 .1-.3 .2-.4 0-.1 .1-.2 .2-.3 .1-.1 0 0 .1 .2 .2 .6 0 .1 .1 .3 .2 .7 .1 .1 .1 .4 .2 .8 0 .1 .1 .2 .2 .4 0 0 .1 .2 .2 .5 .1 .1 .1 .2 .2 .5 0 0 0 .1 .1 .2 .2 .5 .1 .1 .1 .3 .2 .5 0 .1 .1 .3 .2 .6 0 .2 .1 .5 .2 .9 .1 .2 .1 .5 .2 .9 0 .2 .1 .5 .2 .9 0 0 .1 .1 .1 .2 .2 .4 0 .1 .1 .1 .2 .4 0 .1 .1 .1 .2 .3 0 .1 .1 .1 .1 .2 .2 .5 0 .1 .1 .2 .2 .6 .1 .1 .1 .2 .1 .4 .1 .5 .1 .5 .2 1.1 .1 .5 .3 1.2 .1 .5 .1 .6 .1 .4 .1 .4 .3 .9 .1 .4 .2 .9 .1 .3 .1 .4 .1 .3 .1 .2 .3 .5 .1 .2 .2 .5 .1 .1 .1 .2 .2 .5 .1 .3 .2 .8 .1 .3 .2 .7 .1 .3 .1 .1 .2 .8 .1 .4 .2 .9 .1 .4 .3 .9 .1 .4 0 .2 .2 .9 .1 .4 .2 1.1 .1 .5 .3 1.1 .1 .5 0 0 .2 .3 .1 .1 .3 .2 .1 .1 .2 .3 .1 .1 .2 1.4 .1 .6 .3 1.4 .1 .6 .2 1.4 .1 .5 0 0 .3-.2 .1-.2 .2-.2 .1-.1 .2-.3 .1-.1 0 .2 .3 .9 .1 .4 .2 .9 .1 .4 .3 .9 0 .2 .1 0 .2 .2 .1 .1 .2 .2 .1 0 .3 .2 0 0 .1 .1 .2 .4 .1 .2 .3 .4 .1 .2 .2 .4 .1 .3 .2 .7 .1 .3 .3 .7 .1 .3 .2 .7 0-.1 .1 0 .3-.2 .1-.1 .2-.2 .1 0 .2-.2 0 .1 .1 .3 .3 .6 .1 .3 .2 .6 .1 .3 .2 .4 .1 .1 .1 .1 .2 .2 .1 .1 .2 .2 .1 .1 .2 .1 .1 .1 .1 0 .2 .1 .1 0 .3 .1 .1 0 .1 .1 .1 .3 .1 .4 .2 .9 .1 .4 .3 .8 .1 .4 .1 .4 .1 .1 .1 0 .3 0 .1 0 .2 0 .1 0 .1 0 .1 .1 .1 0 .3 .1 .1 0 .2 0 .2 .1 .2 .4 .3 1 .3 1 .2 .4 .2 .1 .3 .2 .4 .1 .1 0 .2 0 .3 0 .4 0 .1 0 .2 .5 .4 .6 .3 .7 .1 .2 .2-.4 .4-.6 .3-.5 .1-.2 .3 .3 .3 .2 .3 .3 .1 .1 .3-.5 .3-.6 .4-.6 0 0 .3 .7 .3 .9 .4 .8 0 .1 1 .5 1-2.2 1 1.2 1 .1 1 .2 1 .3 1 2.2 1-3.5 1 .8 1 1.6 1-.5 1-1.7 1 1.8 1 .3 1 1.1 1-2.9 1-.4 1 1.7 1-1.3 1 .9 1-.5 1 1 1-.8 1 1.1 1-1.9 1 3.9 1-2.2 1-1.4 1 .1 1 1 1 .2 1-.9 1 2 1-.2 1-2.5 1 2.3 1-.6 1 .8 1-1.4 1 3.4 1-2.3 1 1.7 1-2 1 1.5 1-1 1 1.9 1-1.3 1-1.5 1 0 1 .3 1 1.6 1-.6 1-.5 1 1.5 1 1.1 1-2.9 1 2.1 1 .7 1-3.2 1-.1 1 .5 1 1 1-1.6' fill='none' stroke='#140814' stroke-width='2.2' stroke-linejoin='round'/><path d='M505.5 586.9l1-.1 1 0 1 0 1 0 1 0 1 0 1 0 1 0 1 0 1-.1 1 0 1 0 1 0 1 0 1 0 1 0 1-.1 1 0 1 0 1 0 1 0 1 0 1-.1 1 0 1 0 1 0 1-.1 1 0 1 0 1-.1 1 0 1 0 1-.1 1 0 1 0 1-.1 1 0 1-.1 1 0 1-.1 1-.1 1 0 1-.1 1-.1 1-.1 1-.1 1-.1 1-.1 1-.1 1-.1 1-.2 .3 0 .4-.1 .3 0 0 0 .4-.1 .3 0 .3-.1 0 0 .4-.1 .3 0 .3-.1 .1 0 .3 0 .3-.1 .3-.1 .1 0 .3-.1 .4 0 .1-.1 .1 0 .1 0 .1-.1 .2 0 .2 0 .2-.1 .1 0 .1-.1 .1 0 .2 0 .2-.1 .1 0 .2-.1 .1 0 .1 0 .1-.1 .2 0 .2-.1 .1 0 .2-.1 .2 0 0-.1 .2 0 .1-.1 .2 0 .1-.1 .2 0 .2-.1 0 0 .2-.1 .1 0 .2-.1 .2-.1 .2-.1 .1 0 .2-.1 .1-.1 .2-.1 .2 0 .2-.1 .1-.1 0 0 .2-.1 .2 0 .2-.2 .1 0 .2-.1 .1-.1 0 0 .2-.1 .2-.1 .2-.1 .1-.1 .2-.1 .1-.1 .1 0 .2-.2 .1-.1 .2-.1 .1-.1 .2-.1 .1-.1 .1 0 .2-.2 .1-.1 .2-.2 .2-.1 .2-.1 0-.1 .1-.1 .2-.1 .1-.2 .2-.2 .2-.1 .2-.2 0 0 .1-.1 .2-.2 .2-.2 .2-.2 .1-.2 .2-.2 .1-.2 .2-.2 .2-.2 .2-.2 .1-.2 .2-.3 0 0 .2-.2 .2-.3 .1-.2 .2-.3 .1-.2 .2-.3 0-.1 .2-.2 .2-.4 .1-.2 .2-.4 .2-.2 .1-.3 .1-.1 0-.1 .1-.2 .2-.4 0-.1 .1-.2 .2-.5 .1-.1 .1-.2 .1-.3 .1-.2 0-.1 .1-.2 .2-.5 .1-.1 .1-.3 .2-.5 0-.1 .1-.3 .1-.3 .1-.3 0-.1 .1-.3 .2-.6 .1-.1 .1-.3 .2-.7 0-.1 .1-.3 .1-.3 .1-.4 .1-.1 .1-.4 .2-.7 0-.2 .1-.3 .2-.8 0-.2 .1-.3 .1-.3 .1-.6 .1-.1 .1-.4 .2-.9 0-.2 .1-.4 .2-.9 .1-.2 .1-.5 0-.1 .2-.8 0-.2 .1-.5 .2-1 0-.2 .1-.5 .2-1 .1-.2 .1-.5 0-.1 .2-1 0-.2 .1-.5 .2-1.1 .1-.2 .1-.6 .2-1.1 0-.2 .1-.6 .2-1.1 0-.2 .1-.5 .2-1.2 .1-.2 .1-.5 .2-1.1 0-.2 .1-.5 0-.1 .2-1 .1-.2 .1-.5 .2-1 0-.2 .1-.5 .2-.9 0-.2 .1-.2 0-.2 .2-.8 .1-.1 .1-.4 .2-.7 0-.1 .1-.3 .2-.6 .1-.1 0-.1 .1-.1 .2-.4 0 0 .1-.2 .2-.2 0 0 .1-.1 .2 0 .1 0 0 0 .1 0 .2 .2 0 0 .1 .2 .2 .3 .1 .1 .1 .2 .2 .4 0 .2 .1 .2 .2 .7 0 .1 .1 .4 .2 .7 .1 .2 .1 .4 .2 .9 0 .1 0 .1 .1 .4 .2 1 .1 .2 .1 .5 .2 1 0 .2 .1 .5 .2 1.1 0 .2 .1 .6 .2 1.1 .1 .2 .1 .6 .2 1.1 0 .2 .1 .6 .2 1 0 .1 .1 .2 .1 .5 .2 1.1 0 .2 .1 .6 .2 1.1 0 .2 .1 .5 .2 .8 0 .2 .1 .2 .1 .5 .2 1 0 .2 .1 .5 .2 1 .1 .2 .1 .4 .1 .7 .1 .4 .1 .5 .2 1 .1 .4 .3 1 .1 .4 .1 .5 .1 .5 .1 .3 .3 .9 .1 .4 .2 .8 .1 .4 .1 .3 .1 .4 .1 .4 .3 .7 .1 .3 .2 .7 .1 .3 .1 .2 .2 .4 .1 .3 .2 .6 .1 .2 .2 .6 .1 .2 .1 .2 .2 .4 .1 .2 .2 .5 .1 .2 .3 .5 .1 .2 0 .1 .2 .4 .1 .1 .2 .5 .1 .1 .3 .4 .1 .2 0 0 .2 .4 .1 .1 .3 .4 .1 .1 .2 .4 .1 .1 .2 .3 .1 .1 .3 .3 .1 .2 .2 .2 .1 .1 0 .1 .3 .2 .1 .1 .2 .3 .1 .1 .2 .2 .1 .1 0 0 .3 .3 .1 .1 .2 .2 .1 .1 .3 .2 0 0 .1 0 .2 .2 .1 .1 .2 .2 .1 .1 .3 .2 0 0 .1 0 .2 .2 .1 .1 .3 .1 .1 .1 .2 .1 .1 .1 .2 .1 .1 .1 .3 .1 .1 .1 .2 .1 0 0 .1 .1 .3 .1 .1 .1 .2 .1 .1 0 .2 .1 0 0 .1 .1 .3 .1 .1 0 .2 .2 .1 0 .2 .1 .1 0 .1 0 .2 .1 .1 .1 .2 .1 .1 0 .2 .1 .1 0 .1 0 .2 .1 .1 .1 .3 0 .1 .1 .1 0 .1 0 .1 .1 .2 .1 .1 0 .3 .1 .1 0 .1 0 .1 .1 .1 0 .3 .1 .1 0 .2 0 .1 .1 .1 0 .1 0 .1 .1 .3 0 .1 0 .2 .1 .2 0 .2 .1 .3 .1 .3 0 .2 .1 .2 0 .3 .1 .4 0 .1 .1 .2 0 .3 .1 .4 0 .1 .1 .2 0 .4 0 .3 .1 .1 0 .2 .1 .4 0 .3 .1 .1 0 .3 0 .3 .1 .3 0 .1 0 .3 0 .3 .1 .4 0 0 0 .3 .1 .3 0 .4 0 0 0 1 .2 1 .1 1 0 1 .1 1 .1 1 .1 1 0 1 .1 1 .1 1 0 1 .1 1 0 1 .1 1 0 1 0 1 .1 1 0 1 0 1 .1 1 0 1 0 1 .1 1 0 1 0 1 0 1 .1 1 0 1 0 1 0 1 0 1 .1 1 0 1 0 1 0 1 0 1 0 1 0 1 .1 1 0 1 0 1 0 1 0 1 0 1 0 1 0 1 0 1 0 1 .1 1 0 1 0 1 0 1 0 1 0 1 0 1 0 1 0 1 0 1 0 1 0 1 0 1 0 1 0 1 .1' fill='none' stroke='#3b6ee6' stroke-width='1.8'/><path d='M505.5 587.3l1 0 1 0 1 0 1 0 1 0 1 0 1 0 1 0 1 0 1 0 1 0 1-.1 1 0 1 0 1 0 1 0 1 0 1 0 1 0 1 0 1 0 1 0 1 0 1 0 1-.1 1 0 1 0 1 0 1 0 1 0 1 0 1-.1 1 0 1 0 1 0 1 0 1-.1 1 0 1 0 1-.1 1 0 1-.1 1 0 1-.1 1 0 1-.1 1-.1 1-.1 1-.1 1-.1 1-.1 .3-.1 .4 0 .3-.1 0 0 .4 0 .3-.1 .3 0 0-.1 .4 0 .3-.1 .3-.1 .1 0 .3-.1 .3 0 .3-.1 .1 0 .3-.1 .4-.1 .1-.1 .1 0 .1-.1 .1 0 .2-.1 .2 0 .2-.1 .1-.1 .1 0 .1 0 .2-.1 .2-.1 .1-.1 .2 0 .1-.1 .1 0 .1-.1 .2-.1 .2-.1 .1-.1 .2-.1 .2-.1 0 0 .2-.1 .1-.1 .2-.1 .1-.1 .2-.2 .2-.1 0 0 .2-.2 .1-.1 .2-.2 .2-.1 .2-.2 .1-.1 .2-.2 .1-.2 .2-.2 .2-.2 .2-.2 .1-.2 0 0 .2-.3 .2-.2 .2-.2 .1-.3 .2-.3 .1-.1 0-.1 .2-.4 .2-.2 .2-.4 .1-.3 .2-.4 .1-.2 .1-.1 .2-.4 .1-.4 .2-.4 .1-.4 .2-.5 .1-.2 .1-.2 .2-.6 .1-.4 .2-.6 .2-.4 .2-.6 0-.2 .1-.3 .2-.6 .1-.5 .2-.7 .2-.4 .2-.7 0-.1 .1-.4 .2-.6 .2-.5 .2-.6 .1-.4 .2-.6 .1-.3 .2-.5 .2-.3 .2-.3 .1-.2 .2-.2 0 0 .2-.1 .2-.1 .1 0 .2 .1 .1 .1 .2 .2 0 .1 .2 .2 .2 .3 .1 .3 .2 .5 .2 .4 .1 .4 .1 .2 0 .1 .1 .3 .2 .6 0 .1 .1 .4 .2 .6 .1 .1 .1 .4 .1 .4 .1 .3 0 .1 .1 .3 .2 .7 .1 .1 .1 .4 .2 .6 0 .1 .1 .4 .1 .3 .1 .3 0 .1 .1 .3 .2 .6 .1 .1 .1 .3 .2 .6 0 .1 .1 .2 .1 .3 .1 .3 .1 .1 .1 .2 .2 .5 0 .1 .1 .2 .2 .4 0 .1 .1 .2 .1 .2 .1 .3 .1 0 .1 .2 .2 .4 0 .1 .1 .1 .2 .4 .1 .1 .1 .1 0 .1 .2 .2 0 .1 .1 .1 .2 .3 0 .1 .1 .1 .2 .3 .1 0 .1 .2 0 0 .2 .2 0 .1 .1 .1 .2 .2 .1 0 .1 .1 .2 .2 0 .1 .1 .1 .2 .2 0 0 .1 .1 .2 .2 .1 0 .1 .1 .2 .1 0 .1 .1 0 0 .1 .2 .1 .1 0 .1 .1 .2 .1 0 .1 .1 0 .2 .2 0 0 .1 0 0 0 .2 .2 .1 0 .1 0 .2 .1 0 .1 .1 0 .2 .1 .1 0 0 .1 .1 0 .2 .1 0 0 .1 0 .2 .1 0 0 .1 .1 .2 .1 .1 0 0 0 .1 0 .2 .1 0 0 .1 0 .2 .1 .1 0 .1 .1 .2 0 0 0 .1 .1 .2 0 0 .1 .1 0 .2 0 .1 .1 .1 0 .2 0 0 0 0 0 .1 .1 .2 0 .1 0 .1 .1 .2 0 0 0 .1 0 .2 .1 0 0 .1 0 .2 .1 .1 0 .1 0 .2 0 0 0 .1 .1 .2 0 0 0 .1 0 .1 0 .2 .1 0 0 .1 0 .2 0 0 0 .1 0 .2 .1 0 0 .1 0 .1 0 .2 0 0 0 .1 .1 .2 0 .1 0 .1 0 .1 0 .1 0 .1 0 .2 .1 .1 0 .3 0 .1 0 .1 .1 .1 0 .1 0 .3 0 .1 0 .2 0 .1 .1 .1 0 .1 0 .1 0 .3 0 .1 0 .2 0 .1 .1 .1 0 .2 0 .1 0 .2 0 .1 0 .2 0 .1 0 .1 0 .2 .1 .1 0 .2 0 .1 0 .3 0 .1 0 0 0 .2 0 .1 0 .2 .1 .1 0 .3 0 .1 0 0 0 .2 0 .1 0 .3 0 .1 0 .2 0 .1 .1 .2 0 .1 0 .3 0 .1 0 .2 0 .1 0 0 0 .3 0 .1 0 .2 0 .1 0 .2 .1 .1 0 0 0 .3 0 .1 0 .2 0 .1 0 .3 0 0 0 .1 0 .2 0 .1 0 .2 0 .1 0 .3 0 0 0 .1 0 .2 0 .1 .1 .3 0 .1 0 .2 0 .1 0 .2 0 .1 0 .3 0 .1 0 .2 0 0 0 .1 0 .3 0 .1 0 .2 0 .1 0 .2 0 0 0 .1 0 .3 0 .1 0 .2 .1 .1 0 .2 0 .1 0 .1 0 .2 0 .1 0 .2 0 .1 0 .2 0 .1 0 .1 0 .2 0 .1 0 .3 0 .1 0 .1 0 .1 0 .1 0 .2 0 .1 0 .3 0 .1 0 .1 0 .1 0 .1 0 .3 0 .1 0 .2 0 .1 0 .1 0 .1 .1 .1 0 .3 0 .1 0 .2 0 .2 0 .2 0 .3 0 .3 0 .2 0 .2 0 .3 0 .4 0 .1 0 .2 0 .3 0 .4 0 .1 0 .2 0 .4 0 .3 0 .1 0 .2 0 .4 0 .3 0 .1 0 .3 0 .3 0 .3 0 .1 0 .3 .1 .3 0 .4 0 0 0 .3 0 .3 0 .4 0 0 0 1 0 1 0 1 0 1 0 1 0 1 0 1 0 1 0 1 0 1 0 1 0 1 .1 1 0 1 0 1 0 1 0 1 0 1 0 1 0 1 0 1 0 1 0 1 0 1 0 1 0 1 0 1 0 1 0 1 0 1 0 1 0 1 0 1 0 1 0 1 0 1 0 1 0 1 0 1 0 1 0 1 0 1 0 1 0 1 0 1 0 1 0 1 0 1 0 1 0 1 0 1 0 1 0 1 0 1 .1 1 0 1 0 1 0 1 0 1 0 1 0 1 0 1 0 1 0' fill='none' stroke='#ff2020' stroke-width='1.7'/><path d='M505.5 587.3l1 0 1 0 1 0 1 0 1 0 1 0 1 0 1 0 1 0 1 0 1 0 1 0 1 0 1 0 1 0 1 0 1 0 1 0 1 0 1 0 1 0 1 0 1 0 1 0 1 0 1 0 1 0 1 0 1 0 1 0 1 0 1 0 1 0 1 0 1 0 1-.1 1 0 1 0 1 0 1 0 1 0 1 0 1 0 1 0 1 0 1 0 1 0 1 0 1-.1 1 0 1 0 .3 0 .4 0 .3 0 0 0 .4 0 .3 0 .3 0 0 0 .4 0 .3 0 .3 0 .1 0 .3 0 .3 0 .3 0 .1 0 .3 0 .4-.1 .1 0 .1 0 .1 0 .1 0 .2 0 .2 0 .2 0 .1 0 .1 0 .1 0 .2 0 .2 0 .1 0 .2 0 .1 0 .1 0 .1 0 .2 0 .2 0 .1 0 .2 0 .2 0 0 0 .2 0 .1 0 .2 0 .1 0 .2 0 .2 0 0 0 .2 0 .1-.1 .2 0 .2 0 .2 0 .1 0 .2 0 .1 0 .2 0 .2 0 .2 0 .1 0 0 0 .2 0 .2 0 .2 0 .1 0 .2 0 .1 0 0 0 .2 0 .2 0 .2-.1 .1 0 .2 0 .1 0 .1 0 .2 0 .1 0 .2 0 .1 0 .2 0 .1 0 .1 0 .2 0 .1 0 .2 0 .2 0 .2 0 0 0 .1-.1 .2 0 .1 0 .2 0 .2 0 .2 0 0 0 .1 0 .2 0 .2 0 .2 0 .1 0 .2 0 .1-.1 .2 0 .2 0 .2 0 .1 0 .2 0 0 0 .2 0 .2 0 .1 0 .2-.1 .1 0 .2 0 0 0 .2 0 .2 0 .1 0 .2 0 .2 0 .1 0 .1 0 0-.1 .1 0 .2 0 0 0 .1 0 .2 0 .1 0 .1 0 .1 0 .1 0 0 0 .1 0 .2-.1 .1 0 .1 0 .2 0 0 0 .1 0 .1 0 .1 0 0 0 .1 0 .2-.1 .1 0 .1 0 .2 0 0 0 .1 0 .1 0 .1 0 .1 0 .1-.1 .2 0 0 0 .1 0 .2 0 0 0 .1 0 .1-.1 .1 0 .1 0 .1 0 .2 0 0 0 .1 0 .2-.1 .1 0 .1 0 0 0 .2 0 0 0 .1 0 .2-.1 0 0 .1 0 .2 0 .1 0 .1-.1 0 0 .2 0 0 0 .1 0 .2-.1 .1 0 .1 0 .2 0 0 0 .1-.1 .2 0 0 0 .1 0 .2-.1 .1 0 .1 0 .2-.1 0 0 .1 0 0 0 .2 0 .1-.1 .1 0 .2 0 0 0 .1-.1 .2 0 0 0 .1-.1 0 0 .2 0 .1 0 .1-.1 .2 0 0 0 .1-.1 .2 0 .1-.1 0 0 .1 0 .2-.1 0 0 .1 0 .2-.1 0 0 .1-.1 .2 0 .1-.1 0 0 .1 0 .2-.1 0 0 .1 0 .2-.1 .1-.1 .1 0 .2-.1 0 0 .1-.1 .2-.1 0 0 .1-.1 .2-.1 .1 0 .1-.1 .2-.1 0 0 0 0 .1-.1 .2-.1 .1 0 .1-.1 .2-.2 0 0 .1-.1 .2-.1 0 0 .1-.1 .2-.2 .1 0 .1-.1 .2-.2 0 0 .1-.1 .2-.2 0 0 .1 0 .1-.1 .2-.2 0-.1 .1-.1 .2-.2 0 0 .1-.1 .2-.2 0-.1 .1 0 .1-.1 .2-.3 0 0 .1-.2 .2-.2 .1-.1 .1-.1 .1-.2 .1-.2 .1-.1 .2-.4 .1-.1 .3-.4 .1-.2 .1-.2 .1-.2 .1-.1 .3-.5 .1-.1 .2-.5 .1-.2 .1-.1 .1-.3 .1-.2 .3-.4 .1-.2 .2-.5 .1-.1 .1-.2 .2-.3 .1-.2 .2-.4 .1-.1 .2-.4 .1-.2 .1-.1 .2-.2 .1-.1 .2-.3 .1-.1 .3-.2 .1-.1 0-.1 .2-.1 .1 0 .2-.1 .1 0 .3 0 .1 0 0 0 .2 .1 .1 .1 .3 .2 .1 .1 .2 .2 .1 .1 .2 .3 .1 .2 .3 .3 .1 .2 .2 .4 .1 .1 0 0 .3 .5 .1 .1 .2 .5 .1 .2 .2 .4 .1 .1 0 .1 .3 .4 .1 .2 .2 .5 .1 .1 .3 .5 0 0 .1 .1 .2 .5 .1 .1 .2 .4 .1 .2 .3 .4 0 0 .1 .1 .2 .4 .1 .1 .3 .3 .1 .2 .2 .3 .1 .1 .2 .3 .1 .1 .3 .3 .1 .1 .2 .2 0 .1 .1 .1 .3 .2 .1 .1 .2 .2 .1 .1 .2 .2 0 0 .1 .1 .3 .2 .1 .1 .2 .1 .1 .1 .2 .1 .1 .1 .1 0 .2 .2 .1 .1 .2 .1 .1 .1 .2 .1 .1 0 .1 .1 .2 .1 .1 0 .3 .1 .1 .1 .1 .1 .1 0 .1 0 .2 .2 .1 0 .3 .1 .1 0 .1 .1 .1 0 .1 .1 .3 0 .1 .1 .2 .1 .1 0 .1 0 .1 .1 .1 0 .3 .1 .1 0 .2 .1 .2 0 .2 .1 .3 0 .3 .1 .2 .1 .2 0 .3 .1 .4 0 .1 .1 .2 0 .3 .1 .4 0 .1 0 .2 .1 .4 0 .3 .1 .1 0 .2 0 .4 .1 .3 0 .1 0 .3 .1 .3 0 .3 0 .1 0 .3 .1 .3 0 .4 0 0 0 .3 .1 .3 0 .4 0 0 0 1 .1 1 .1 1 0 1 .1 1 0 1 .1 1 0 1 .1 1 0 1 0 1 0 1 .1 1 0 1 0 1 0 1 .1 1 0 1 0 1 0 1 0 1 0 1 0 1 .1 1 0 1 0 1 0 1 0 1 0 1 0 1 0 1 0 1 0 1 0 1 0 1 0 1 0 1 .1 1 0 1 0 1 0 1 0 1 0 1 0 1 0 1 0 1 0 1 0 1 0 1 0 1 0 1 0 1 0 1 0 1 0 1 0 1 0 1 0 1 0 1 0 1 0 1 0 1 0 1 0' fill='none' stroke='#ff2020' stroke-width='1.7'/><path d='M405.5 659.4l1 0 1 .4 1-.1 1-.1 1 .3 1-.3 1-.1 1 .3 1-.3 1 .2 1 0 1-.1 1-.1 1-.1 1-.1 1-.1 1-.6 1 .3 1 .1 1 .3 1-.1 1 .4 1-.3 1 .1 1-.3 1-.3 1 .3 1 .1 1 0 1-.3 1-.1 1 .3 1-.1 1 .2 1 .3 1 0 1 .2 1-.2 1-.6 1-.2 1-.2 1-.1 1 0 1 .4 1-.4 1-.1 1-.3 1-.2 1-.3 .5-.4 .2-.2 .3-.1 .3-.2 .2-.4 .2-.3 .3-.6 .3-.2 .2-.5 .2-.5 .3-.2 .3-.2 .2-1.4 .2-1.5 .3-1.6 .3-1.8 .2-2.3 .2-3.3 .3-4 .3-5.6 .2-6.5 .2-7.6 .3-7.9 .3-6.3 .2-2.3 .2 2.3 .3 6.8 .3 8.3 .2 7.7 .2 6.6 .3 4.8 .3 4.3 .2 2.7 .2 2.8 .3 1.9 .3 1.6 .2 .6 .2 1.1 .3 .6 .3 .5 .2 .9 .2 .5 .3 .4 .3 .2 .2 .4 .2-.1 .3-.1 .3 .6 .2 .1 1 1.1 1 .5 1 .1 1-.2 1 0 1-.1 1 .3 1 .3 1 .6 1-.6 1 .3 1 .2 1 .2 1 0 1-.3 1 .3 1-.5 1 .3 1 .1 1-.1 1-.3 1 .1 1-.3 1 .1 1-.1 1 .2 1-.2' fill='none' stroke='#333' stroke-width='1.3' stroke-linejoin='round'/><path d='M496.2 659.8h3.2M501.7 659.2h3.4' stroke='#222' stroke-width='1.2'/><path d='M505.5 658.3l1 .7 1-.1 1 1.5 1-.4 1 .5 1 .8 1-1.9 1 1.7 1 .4 1-.1 1 .1 1 .2 1-1.5 1-.5 1 1.1 1-.2 1 .2 1 .7 1 .3 1 .2 1 .2 1 .1 1-1 1-1.2 1 0 1-.5 1-.8 1 0 1-.4 1 .2 1-.6 1 .1 1 1.1 1 1.1 1 .4 1 .7 1 1.5 1-1 1 .5 1 0 1 .8 1 .7 1-.3 1-2.4 1-.9 1-1.8 1 1.5 1 .2 1-.7 1 0 1 .9 1-.6 1 1.1 1 .8 1 .3 1-.4 .3-.3 .4-.4 .3-.3 0 0 .4-.1 .3-.1 .3-.1 0 0 .4-.2 .3-.1 .3-.1 .1 0 .3 .5 .3 .5 .3 .4 .1 0 .3-.1 .4-.1 .2-.1 .1-.1 .3-.2 .4-.3 .2-.1 .1 0 .4 0 .3-.1 .2 0 .1 0 .4 .1 .3 0 .2 0 .2-.1 .1-.1 .2-.1 .2-.1 .1 0 .2-.1 0 0 .2 .1 .2 .2 .1 .1 .2 .1 .2 .2 .1 .1 0 0 .2 .1 .2 .1 .1 .1 .2 0 .2 .1 .1 .1 .1 0 .1 .1 .2 .2 .2 .1 .1 .1 .2 .1 .1 .1 .1 0 .1 .1 .2 .1 .2 .1 .2 .1 .1 .1 .1 0 .1-.1 .2-.1 .1-.1 .2-.1 .2-.2 .1-.1 .1 0 .1 .2 .2 .2 .2 .3 .1 .2 .2 .3 .2 .2 0 0 .1-.1 .2-.1 .2-.2 .1-.1 .2-.1 .2-.2 0 0 .2-.1 .1-.1 .2-.1 .2-.1 .1-.1 .2-.1 .2 .4 .1 .2 .2 .3 .2 .3 .2 .3 .1 .3 0-.1 .2-.3 .2-.2 .1-.3 .2-.2 .2-.3 .1-.2 0 0 .2 0 .2 0 .2 0 .1 0 .2 0 .1 0 .1 0 .1-.1 .2 0 .2-.1 .1 0 .2-.1 .1 0 .1 0 .2-.1 .1-.1 .2-.2 .2 0 .1-.2 .1 0 .1 .1 .2 .1 .1 .2 .2 .1 .2 .1 .2 .2 0 0 .1-.3 .2-.3 .2-.4 .1-.4 .2-.3 .2-.4 0 0 .1 .1 .2 .2 .2 .2 .2 .3 .1 .2 .2 .2 .2-.1 .1 0 .2 0 .2-.1 .1 0 .2 0 0 0 .2 .2 .2 .2 .1 .2 .2 .2 .2 .2 .1 .2 0 0 .2-.1 .2 0 .1-.1 .2 0 .2-.1 .1 0 .1-.1 .1-.1 .2-.1 .2-.1 .1-.1 .2-.1 .1-.1 .1-.1 .1-.1 .2-.2 .2-.1 .2-.1 .1-.2 .1 0 .1 .1 .2 .3 .1 .2 .2 .3 .2 .2 .1 .3 .1 .1 .1 0 .2 .1 .2 .1 .1 .1 .2 .1 .2 .1 0 0 .1 .1 .2 0 .2 .1 .1 0 .2 .1 .2 0 0 0 .2 0 .1 0 .2 0 .2-.1 .1 0 .2 0 .2 .1 .1 .1 .2 .1 .2 0 .2 .1 .1 .1 0 0 .2-.2 .2-.2 .1-.2 .2-.2 .2-.2 .1-.2 0 0 .2 0 .2 0 .2 0 .1 0 .2 0 .1 0 .1-.1 .1 0 .2 0 .2-.1 .1 0 .2 0 .1-.1 .1 0 .2 0 .1 0 .2 0 .2 0 .1 0 .1 0 .1 0 .3 .1 .4 .1 .2 0 .1 .1 .4 .3 .3 .3 .2 .2 .1-.1 .4-.1 .3-.1 .2 0 .2-.2 .3-.2 .3-.2 .2-.2 .2 .1 .3 .2 .4 .1 .1 0 .2-.2 .3-.4 .4-.5 .1-.1 .2-.1 .4-.2 .3-.2 .1 0 .2 0 .4-.1 .4 0 1 .5 1-.3 1 0 1 .9 1 .3 1 0 1 .4 1 1.6 1-.5 1 1 1-.5 1-.8 1-.5 1 1 1-1 1 .2 1-.6 1-.5 1-1.4 1-.2 1-1 1 .9 1 .3 1 .6 1 .2 1 1.2 1 .2 1-1.5 1-.4 1 1.1 1-.1 1 .2 1 0 1-1.5 1 .9 1-.9 1 .2 1 .9 1 1.6 1-.5 1 .5 1-1.5 1-.4 1-1.3 1-.3 1-.6 1 .3 1-.3 1 1.4 1-.1 1-.8 1-.1 1 .8 1 1.1 1-.4 1 .4 1 0 1-.3 1-.5 1-.1 1 1.9 1 .7 1 .7 1-.7 1-.9 1 .7 1-.1 1-.2 1-.6 1-.7 1 0 1-.3 1 .1 1 .2 1 .8 1 1.5' fill='none' stroke='#dedede' stroke-width='2.2' stroke-linejoin='round'/><path d='M505.5 658.7l1 0 1 0 1 0 1 0 1 0 1-.1 1 0 1 0 1 0 1 0 1 0 1 0 1 0 1 0 1 0 1-.1 1 0 1 0 1 0 1 0 1 0 1 0 1-.1 1 0 1 0 1 0 1-.1 1 0 1 0 1 0 1-.1 1 0 1-.1 1 0 1-.1 1 0 1-.1 1-.1 1-.1 1-.1 1-.1 1-.1 1-.1 1-.2 1-.2 1-.2 1-.3 1-.3 1-.3 1-.4 1-.3 1-.2 1-.3 1-.5 1-.6 1-.7 .3-.3 .4-.3 .3-.2 0 0 .4-.3 .3-.3 .3-.3 0 0 .4-.3 .3-.4 .3-.2 .1-.1 .3-.3 .3-.4 .3-.3 .1-.1 .3-.5 .4-.5 .2-.4 .1-.1 .3-.6 .4-.7 .2-.4 .1-.3 .4-.7 .3-.7 .2-.4 .1-.4 .4-.7 .3-.8 .2-.5 .2-.3 .1-.5 .2-.4 .2-.4 .1-.4 .2-.4 0 0 .2-.4 .2-.5 .1-.3 .2-.5 .2-.4 .1-.3 0-.1 .2-.4 .2-.4 .1-.4 .2-.5 .2-.4 .1-.3 .1-.1 .1-.4 .2-.5 .2-.4 .1-.4 .2-.5 .1-.2 .1-.2 .1-.5 .2-.4 .2-.5 .2-.5 .1-.4 .1-.2 .1-.3 .2-.5 .1-.5 .2-.5 .2-.5 .1-.5 .1-.1 .1-.4 .2-.5 .2-.5 .1-.5 .2-.6 .2-.5 0-.1 .1-.5 .2-.5 .2-.6 .1-.5 .2-.7 .2-.5 0-.1 .2-.5 .1-.6 .2-.6 .2-.6 .1-.7 .2-.6 .2-.6 .1-.7 .2-.7 .2-.8 .2-.8 .1-.8 0-.1 .2-.9 .2-.9 .1-1 .2-1 .2-1 .1-.7 0-.3 .2-1 .2-1 .2-1 .1-.9 .2-1 .1-.6 .1-.3 .1-.9 .2-.8 .2-.8 .1-.7 .2-.7 .1-.2 .1-.3 .2-.5 .1-.4 .2-.4 .2-.3 .1-.4 .1-.1 .1-.2 .2-.3 .1-.3 .2-.3 .2-.2 .2-.3 0 0 .1-.1 .2-.2 .2-.1 .1-.1 .2 0 .2 .1 0 0 .1 .1 .2 .2 .2 .3 .2 .5 .1 .4 .2 .5 .2 .6 .1 .7 .2 .6 .2 .8 .1 .7 .2 .7 0 .1 .2 .8 .2 .8 .1 .8 .2 .9 .2 .8 .1 .8 0 .3 .2 1.1 .2 1.5 .1 1.4 .2 1.8 .2 1.6 .1 1.3 .1 .6 .1 1.8 .2 2 .2 1.9 .1 2 .2 1.8 .1 1.1 .1 .8 .1 1.7 .2 1.8 .2 1.4 .2 1.5 .1 1.2 .1 .5 .1 .6 .2 .8 .1 .8 .2 .8 .2 .8 .1 .6 .1 .3 .1 .5 .2 .6 .2 .7 .1 .6 .2 .7 .2 .6 0 .1 .1 .5 .2 .5 .2 .6 .1 .5 .2 .5 .2 .4 0 .1 .2 .4 .1 .4 .2 .4 .2 .4 .1 .4 .2 .3 .2 .4 .1 .3 .2 .3 .2 .2 .2 .3 .1 .2 0 .1 .2 .2 .2 .3 .1 .3 .2 .2 .2 .3 .1 .1 0 .1 .2 .3 .2 .2 .2 .2 .1 .3 .2 .2 .1 .1 .1 .1 .1 .2 .2 .2 .2 .3 .1 .2 .2 .2 .1 .1 .1 0 .2 .2 .1 .2 .2 .2 .2 .1 .1 .2 .1 .1 .1 0 .3 .3 .4 .2 .2 .2 .1 0 .4 .2 .3 .1 .2 0 .1 .1 .4 0 .3 .2 .2 .2 .2 .1 .3 .2 .3 .2 .2 .1 .2 .1 .3 .2 .4 .2 .1 .1 .2 .1 .3 .1 .4 .2 .1 0 .2 .1 .4 .1 .3 .2 .1 0 .2 .1 .4 .1 .4 .1 1 .3 1 .2 1 .2 1 .2 1 .2 1 .1 1 .1 1 .1 1 .1 1 .1 1 .1 1 .1 1 .1 1 0 1 .1 1 0 1 .1 1 0 1 0 1 .1 1 0 1 0 1 .1 1 0 1 0 1 .1 1 0 1 0 1 0 1 0 1 .1 1 0 1 0 1 0 1 0 1 0 1 0 1 0 1 .1 1 0 1 0 1 0 1 0 1 0 1 0 1 0 1 0 1 0 1 0 1 .1 1 0 1 0 1 0 1 0 1 0 1 0 1 0 1 0 1 0 1 0 1 0 1 0 1 0 1 0 1 0 1 0 1 0 1 0 1 0 1 0 1 .1 1 0 1 0 1 0 1 0 1 0' fill='none' stroke='#e2c6ec' stroke-width='2.6'/><path d='M505.5 660.1l1 .1 1-.9 1 3 1-1.4 1-2.4 1 2.7 1-1.2 1 .4 1-.3 1-2.7 1 2 1-2.4 1 2 1 0 1 2.6 1-1.8 1 .2 1 .6 1-2.3 1 2 1-.5 1-1.9 1 .2 1 1 1 .8 1 1.4 1-1.3 1 .2 1 2.3 1 1.1 1-1.8 1-1.9 1-.8 1 1 1 .4 1-1.8 1 2.9 1 .7 1-3.2 1-1.1 1 1.1 1-1.2 1 2.7 1-2.7 1 1.3 1-.4 1 .3 1-2.9 1 1.2 1-.2 1-.3 1 .1 1-1.8 1 .3 1 .2 1-.5 .3-.8 .4-.8 .3-.8 0 0 .4-.1 .3-.1 .3-.1 0-.1 .4-1 .3-1 .3-.9 .1 .1 .3 .1 .3 .2 .3 0 .1 0 .3-.3 .4-.3 .2-.3 .1-.4 .3-1.4 .4-1.5 .2-.9 .1 .3 .4 .8 .3 .8 .2 .5 .1-.6 .4-1.5 .3-1.4 .2-.8 .2-.7 .1-.7 .2-.7 .2-.8 .1-.7 .2-.6 0-.1 .2-.3 .2-.3 .1-.3 .2-.4 .2-.3 .1-.3 0 0 .2-.4 .2-.4 .1-.3 .2-.4 .2-.4 .1-.2 .1-.2 .1-.4 .2-.5 .2-.4 .1-.4 .2-.5 .1-.2 .1-.4 .1-.6 .2-.8 .2-.7 .2-.7 .1-.7 .1-.4 .1-.1 .2-.3 .1-.2 .2-.3 .2-.3 .1-.3 .1-.1 .1-.6 .2-.9 .2-.9 .1-.9 .2-.9 .2-.9 0-.2 .1-.4 .2-.4 .2-.5 .1-.4 .2-.5 .2-.4 0-.1 .2-.2 .1-.1 .2-.2 .2-.2 .1-.3 .2-.2 .2-1 .1-.9 .2-1.1 .2-1 .2-1.2 .1-.9 0-.1 .2-1 .2-.9 .1-1 .2-.9 .2-1.1 .1-.7 0-.2 .2-.7 .2-.7 .2-.7 .1-.7 .2-.7 .1-.4 .1-.4 .1-1 .2-.9 .2-1 .1-.8 .2-.9 .1-.3 .1-.3 .2-.5 .1-.4 .2-.3 .2-.3 .1-.4 .1-.1 .1-.2 .2-.4 .1-.4 .2-.4 .2-.3 .2-.4 0 0 .1 0 .2 .1 .2 .1 .1 .2 .2 .2 .2 .3 0 0 .1-.1 .2 0 .2 .1 .2 .2 .1 .2 .2 .3 .2 .8 .1 .9 .2 .9 .2 1 .1 .9 .2 1 0 .1 .2 .7 .2 .9 .1 .7 .2 .9 .2 .7 .1 .8 0 .3 .2 1.2 .2 1.5 .1 1.5 .2 1.8 .2 1.8 .1 1.3 .1 .6 .1 1.8 .2 2 .2 1.8 .1 2.1 .2 1.7 .1 1.1 .1 .8 .1 1.5 .2 1.5 .2 1.3 .2 1.3 .1 .9 .1 .4 .1 .6 .2 .7 .1 .7 .2 .6 .2 .7 .1 .5 .1 .3 .1 .5 .2 .7 .2 .8 .1 .7 .2 .8 .2 .6 0 .2 .1 .4 .2 .5 .2 .6 .1 .4 .2 .5 .2 .4 0 .1 .2 .7 .1 .7 .2 .8 .2 .7 .1 .7 .2 .6 .2 .1 .1 .1 .2 0 .2 0 .2 .1 .1 0 0 0 .2-.1 .2-.1 .1-.1 .2-.1 .2-.1 .1-.1 0 .2 .2 .8 .2 .6 .2 .8 .1 .7 .2 .7 .1 .5 .1 0 .1 .3 .2 .2 .2 .3 .1 .2 .2 .3 .1 .1 .1 0 .2-.1 .1 0 .2 0 .2-.1 .1 0 .1 0 .1 .3 .3 1 .4 1.1 .2 .6 .1-.3 .4-.7 .3-.8 .2-.5 .1 .2 .4 .7 .3 .9 .2 .4 .2 .1 .3 0 .3 0 .2 0 .2 .3 .3 .4 .4 .5 .1 .1 .2 .1 .3 .2 .4 .2 .1 0 .2-.2 .4-.3 .3-.4 .1-.1 .2 .6 .4 .7 .4 .9 1-.9 1 1.2 1 1.6 1-2.1 1 1.6 1 1.6 1-.8 1-2.4 1 .6 1 1.4 1-.9 1 .7 1-.7 1 1.4 1-2.1 1 1.6 1 .7 1-1.2 1-.8 1 .4 1-2 1 5.1 1-4.1 1 .3 1 1.4 1-.7 1 1.5 1 .8 1-1.3 1 .2 1-.5 1 .3 1 1.8 1-1.2 1-.1 1-2.4 1 .6 1 .4 1-.8 1-.4 1 2.6 1 .9 1 .6 1-1.7 1-.3 1 1.1 1-.7 1-.8 1 2.4 1-3.7 1 1.3 1-1.6 1 3 1-3 1-.1 1 1.7 1-1.5 1 1.6 1-.7 1 2.9 1-3.6 1 1 1 2 1-.1 1-.6 1-.5 1 .9 1-.2 1 .9 1-3 1 1.7 1-.6 1 .5 1-.8 1 1.5 1-2.3' fill='none' stroke='#140814' stroke-width='2.2' stroke-linejoin='round'/><path d='M505.5 658.5l1 0 1-.1 1 0 1 0 1 0 1 0 1 0 1 0 1 0 1 0 1 0 1 0 1 0 1 0 1 0 1 0 1 0 1 0 1 0 1-.1 1 0 1 0 1 0 1 0 1 0 1 0 1 0 1 0 1-.1 1 0 1 0 1 0 1 0 1 0 1-.1 1 0 1 0 1 0 1-.1 1 0 1 0 1 0 1-.1 1 0 1-.1 1 0 1-.1 1 0 1-.1 1 0 1-.1 1-.1 1-.1 1-.1 1-.1 1-.1 .3 0 .4-.1 .3 0 0 0 .4-.1 .3-.1 .3 0 0 0 .4-.1 .3 0 .3-.1 .1 0 .3-.1 .3 0 .3-.1 .1 0 .3-.1 .4-.1 .2 0 .1-.1 .3-.1 .4-.1 .2 0 .1-.1 .4-.1 .3-.1 .2-.1 .1 0 .4-.1 .3-.2 .2 0 .2-.1 .1-.1 .2-.1 .2-.1 .1 0 .2-.1 0 0 .2-.1 .2-.1 .1-.1 .2-.1 .2-.1 .1-.1 0 0 .2-.1 .2-.1 .1-.1 .2-.2 .2-.1 .1-.1 .1 0 .1-.1 .2-.2 .2-.1 .1-.2 .2-.1 .1-.1 .1-.1 .1-.2 .2-.1 .2-.2 .2-.2 .1-.2 .1-.1 .1-.1 .2-.2 .1-.2 .2-.3 .2-.2 .1-.3 .1 0 .1-.2 .2-.3 .2-.3 .1-.3 .2-.3 .2-.3 0-.1 .1-.3 .2-.3 .2-.4 .1-.4 .2-.4 .2-.4 0-.1 .2-.4 .1-.4 .2-.6 .2-.5 .1-.6 .2-.5 .2-.7 .1-.6 .2-.7 .2-.6 .2-.8 .1-.7 0-.1 .2-.9 .2-.8 .1-1 .2-.9 .2-1.1 .1-.7 0-.3 .2-1.2 .2-1.1 .2-1.3 .1-1.2 .2-1.4 .1-.9 .1-.5 .1-1.5 .2-1.4 .2-1.7 .1-1.5 .2-1.8 .1-.7 .1-.8 .2-1.8 .1-1.6 .2-1.8 .2-1.6 .1-1.8 .1-.5 .1-.9 .2-1.6 .1-1.3 .2-1.3 .2-1 .2-1 0-.2 .1-.5 .2-.5 .2-.3 .1-.1 .2 .2 .2 .4 0 0 .1 .5 .2 .9 .2 .9 .2 1.2 .1 1.3 .2 1.5 .2 1.4 .1 1.7 .2 1.6 .2 1.8 .1 1.6 .2 1.6 0 .2 .2 1.6 .2 1.7 .1 1.6 .2 1.6 .2 1.5 .1 1.2 0 .4 .2 1.3 .2 1.5 .1 1.3 .2 1.3 .2 1.1 .1 .9 .1 .4 .1 1 .2 1.1 .2 1 .1 1 .2 .8 .1 .5 .1 .4 .1 .8 .2 .8 .2 .7 .2 .7 .1 .7 .1 .3 .1 .3 .2 .6 .1 .6 .2 .5 .2 .6 .1 .4 .1 .2 .1 .3 .2 .4 .2 .5 .1 .4 .2 .4 .2 .3 0 .1 .1 .3 .2 .3 .2 .3 .1 .3 .2 .3 .2 .3 0 0 .2 .3 .1 .2 .2 .3 .2 .2 .1 .3 .2 .2 .2 .2 .1 .2 .2 .2 .2 .2 .2 .1 .1 .2 0 0 .2 .2 .2 .1 .1 .2 .2 .1 .2 .2 .1 .1 0 0 .2 .1 .2 .2 .2 .1 .1 .1 .2 .1 .1 .1 .1 0 .1 .1 .2 .1 .2 .1 .1 .1 .2 .1 .1 .1 .1 0 .2 .1 .1 .1 .2 .1 .2 .1 .1 0 .1 .1 .1 0 .3 .2 .4 .1 .2 .1 .1 0 .4 .1 .3 .2 .2 0 .1 .1 .4 .1 .3 .1 .2 0 .2 .1 .3 0 .3 .1 .2 .1 .2 0 .3 .1 .4 0 .1 .1 .2 0 .3 .1 .4 0 .1 .1 .2 0 .4 .1 .3 0 .1 0 .2 .1 .4 0 .4 .1 1 .1 1 .1 1 .1 1 .1 1 .1 1 .1 1 0 1 .1 1 0 1 .1 1 0 1 .1 1 0 1 .1 1 0 1 0 1 0 1 .1 1 0 1 0 1 0 1 .1 1 0 1 0 1 0 1 0 1 0 1 .1 1 0 1 0 1 0 1 0 1 0 1 0 1 0 1 0 1 0 1 .1 1 0 1 0 1 0 1 0 1 0 1 0 1 0 1 0 1 0 1 0 1 0 1 0 1 0 1 0 1 0 1 0 1 .1 1 0 1 0 1 0 1 0 1 0 1 0 1 0 1 0 1 0 1 0 1 0 1 0 1 0 1 0 1 0 1 0 1 0 1 0 1 0 1 0 1 0' fill='none' stroke='#3b6ee6' stroke-width='1.8'/><path d='M505.5 658.8l1 0 1 0 1 0 1-.1 1 0 1 0 1 0 1 0 1 0 1 0 1 0 1 0 1 0 1 0 1 0 1 0 1 0 1 0 1 0 1 0 1 0 1 0 1 0 1 0 1 0 1 0 1 0 1 0 1 0 1 0 1 0 1 0 1-.1 1 0 1 0 1 0 1 0 1 0 1 0 1 0 1-.1 1 0 1 0 1 0 1 0 1-.1 1 0 1 0 1-.1 1 0 1-.1 1 0 1-.1 1-.1 1-.1 1-.1 .3 0 .4-.1 .3 0 0 0 .4-.1 .3-.1 .3 0 0 0 .4-.1 .3-.1 .3 0 .1 0 .3-.1 .3-.1 .3-.1 .1 0 .3-.1 .4-.1 .2-.1 .1-.1 .3-.1 .4-.2 .2-.1 .1 0 .4-.2 .3-.2 .2-.2 .1-.1 .4-.2 .3-.3 .2-.2 .2-.1 .1-.2 .2-.2 .2-.2 .1-.1 .2-.2 0-.1 .2-.2 .2-.2 .1-.3 .2-.2 .2-.3 .1-.2 0-.1 .2-.3 .2-.3 .1-.4 .2-.3 .2-.4 .1-.3 .1-.1 .1-.4 .2-.5 .2-.4 .1-.5 .2-.4 .1-.3 .1-.2 .1-.5 .2-.6 .2-.4 .2-.6 .1-.4 .1-.3 .1-.3 .2-.4 .1-.4 .2-.4 .2-.4 .1-.3 .1-.1 .1-.1 .2-.2 .2-.1 .1 0 .2 .1 .2 .1 0 0 .1 .2 .2 .2 .2 .3 .1 .4 .2 .4 .2 .4 0 .1 .2 .4 .1 .5 .2 .5 .2 .5 .1 .5 .2 .5 .2 .5 .1 .5 .2 .5 .2 .4 .2 .5 .1 .4 0 0 .2 .4 .2 .4 .1 .4 .2 .3 .2 .4 .1 .2 0 .1 .2 .3 .2 .3 .2 .3 .1 .2 .2 .3 .1 .1 .1 .1 .1 .2 .2 .2 .2 .2 .1 .2 .2 .2 .1 .1 .1 0 .2 .2 .1 .1 .2 .2 .2 .1 .1 .1 .1 .1 .1 .1 .2 .1 .1 .1 .2 .1 .2 .1 .2 .1 0 0 .1 .1 .2 .1 .2 0 .1 .1 .2 .1 .2 .1 0 0 .1 0 .2 .1 .2 .1 .2 0 .1 .1 .2 0 .2 .1 .1 .1 .2 0 .2 0 .1 .1 .2 0 0 0 .2 .1 .2 0 .1 .1 .2 0 .2 0 .1 .1 0 0 .2 0 .2 0 .1 .1 .2 0 .2 0 .1 0 .1 0 .1 .1 .2 0 .2 0 .1 0 .2 .1 .1 0 .1 0 .1 0 .2 0 .2 .1 .2 0 .1 0 .1 0 .1 0 .2 0 .1 0 .2 .1 .2 0 .1 0 .1 0 .1 0 .2 0 .2 0 .1 .1 .2 0 .2 0 0 0 .1 0 .2 0 .2 0 .1 0 .2 0 .2 .1 0 0 .2 0 .1 0 .2 0 .2 0 .1 0 .2 0 .2 0 .1 0 .2 .1 .2 0 .2 0 .1 0 0 0 .2 0 .2 0 .1 0 .2 0 .2 0 .1 0 0 0 .2 0 .2 0 .2 0 .1 .1 .2 0 .1 0 .1 0 .1 0 .2 0 .2 0 .1 0 .2 0 .1 0 .1 0 .2 0 .1 0 .2 0 .2 0 .1 0 .1 0 .1 0 .3 0 .4 .1 .2 0 .1 0 .4 0 .3 0 .2 0 .1 0 .4 0 .3 0 .2 0 .2 0 .3 0 .3 0 .2 0 .2 0 .3 0 .4 0 .1 0 .2 0 .3 .1 .4 0 .1 0 .2 0 .4 0 .3 0 .1 0 .2 0 .4 0 .4 0 1 0 1 0 1 0 1 0 1 0 1 0 1 .1 1 0 1 0 1 0 1 0 1 0 1 0 1 0 1 0 1 0 1 0 1 0 1 0 1 0 1 0 1 0 1 0 1 0 1 0 1 0 1 0 1 0 1 0 1 0 1 0 1 0 1 0 1 0 1 .1 1 0 1 0 1 0 1 0 1 0 1 0 1 0 1 0 1 0 1 0 1 0 1 0 1 0 1 0 1 0 1 0 1 0 1 0 1 0 1 0 1 0 1 0 1 0 1 0 1 0 1 0 1 0 1 0 1 0 1 0 1 0 1 0 1 0 1 0 1 0 1 0 1 0 1 0 1 0 1 0 1 0' fill='none' stroke='#ff2020' stroke-width='1.7'/><path d='M505.5 658.8l1 0 1 0 1 0 1 0 1 0 1 0 1 0 1 0 1 0 1 0 1 0 1 0 1 0 1 0 1 0 1 0 1 0 1 0 1 0 1 0 1 0 1 0 1 0 1 0 1 0 1-.1 1 0 1 0 1 0 1 0 1 0 1 0 1 0 1 0 1 0 1 0 1 0 1 0 1 0 1 0 1 0 1 0 1 0 1 0 1 0 1 0 1 0 1 0 1 0 1 0 1 0 1-.1 1 0 1 0 1 0 1 0 .3 0 .4 0 .3 0 0 0 .4 0 .3 0 .3 0 0 0 .4 0 .3 0 .3 0 .1 0 .3-.1 .3 0 .3 0 .1 0 .3 0 .4 0 .2 0 .1 0 .3 0 .4 0 .2 0 .1 0 .4 0 .3 0 .2 0 .1 0 .4 0 .3-.1 .2 0 .2 0 .1 0 .2 0 .2 0 .1 0 .2 0 0 0 .2 0 .2 0 .1 0 .2 0 .2 0 .1 0 0 0 .2 0 .2-.1 .1 0 .2 0 .2 0 .1 0 .1 0 .1 0 .2 0 .2 0 .1 0 .2 0 .1 0 .1 0 .1 0 .2-.1 .2 0 .2 0 .1 0 .1 0 .1 0 .2 0 .1 0 .2 0 .2 0 .1-.1 .1 0 .1 0 .2 0 .2 0 .1 0 .2 0 .2 0 0 0 .1-.1 .2 0 .2 0 .1 0 .2 0 .2 0 0 0 .2-.1 .1 0 .2 0 .2 0 .1-.1 .2 0 .2 0 .1 0 .2 0 .2-.1 .2 0 .1 0 0 0 .2-.1 .2 0 .1 0 .2 0 .2-.1 .1 0 0 0 .2 0 .2-.1 .2 0 .1-.1 .2 0 .1 0 .1 0 .1-.1 .2 0 .2-.1 .1 0 .2-.1 .1 0 .1-.1 .2 0 .1-.1 .2 0 .2-.1 .1-.1 .1 0 .1 0 .2-.1 .1-.1 .2-.1 .2-.1 .2-.1 0 0 .1-.1 .2-.1 .2-.1 .1-.1 .2-.1 .2-.1 0 0 .1-.1 .2-.2 .2-.1 .2-.2 .1-.1 .2-.2 .2-.2 .1-.2 .2-.1 .2-.2 .1-.2 .2-.2 0-.1 .2-.2 .2-.2 .1-.2 .2-.3 .2-.3 .1-.2 0 0 .2-.3 .2-.3 .1-.3 .2-.3 .2-.2 .1-.2 .1-.1 .1-.3 .2-.3 .2-.2 .1-.3 .2-.2 .1-.2 .1-.1 .1-.2 .2-.1 .2-.2 .2-.1 .1-.1 .1 0 .1 0 .2 0 .1 0 .2 .1 .2 .1 .1 .1 .1 .1 .1 .1 .2 .2 .2 .2 .1 .2 .2 .3 .2 .2 0 .1 .1 .2 .2 .3 .2 .3 .1 .3 .2 .3 .2 .2 0 .1 .2 .2 .1 .3 .2 .3 .2 .2 .1 .3 .2 .2 .2 .3 .1 .2 .2 .2 .2 .2 .2 .2 .1 .2 0 0 .2 .2 .2 .2 .1 .1 .2 .2 .2 .1 .1 .1 0 .1 .2 .1 .2 .1 .2 .2 .1 .1 .2 .1 .1 .1 .1 0 .1 .1 .2 .1 .2 .1 .1 .1 .2 .1 .1 0 .1 .1 .2 0 .1 .1 .2 .1 .2 0 .1 .1 .1 0 .1 .1 .3 .1 .4 .1 .2 .1 .1 0 .4 .1 .3 .1 .2 0 .1 0 .4 .1 .3 .1 .2 0 .2 0 .3 .1 .3 0 .2 .1 .2 0 .3 0 .4 .1 .1 0 .2 0 .3 .1 .4 0 .1 0 .2 0 .4 .1 .3 0 .1 0 .2 0 .4 0 .4 .1 1 0 1 .1 1 0 1 .1 1 0 1 .1 1 0 1 0 1 0 1 0 1 .1 1 0 1 0 1 0 1 0 1 0 1 0 1 0 1 .1 1 0 1 0 1 0 1 0 1 0 1 0 1 0 1 0 1 0 1 0 1 0 1 0 1 0 1 0 1 0 1 0 1 0 1 0 1 0 1 0 1 0 1 0 1 0 1 0 1 0 1 .1 1 0 1 0 1 0 1 0 1 0 1 0 1 0 1 0 1 0 1 0 1 0 1 0 1 0 1 0 1 0 1 0 1 0 1 0 1 0 1 0 1 0 1 0 1 0 1 0 1 0 1 0 1 0 1 0 1 0 1 0 1 0' fill='none' stroke='#ff2020' stroke-width='1.7'/><line x1='196.1' y1='251.0' x2='196.1' y2='664.0' stroke='#ff7a7a' stroke-width='1.5' stroke-dasharray='4.2 0.9'/><line x1='233.5' y1='264.5' x2='233.5' y2='664.0' stroke='#ff7a7a' stroke-width='1.5' stroke-dasharray='4.2 0.9'/><line x1='204.6' y1='28.0' x2='204.6' y2='664.0' stroke='#2c5396' stroke-width='2.0' stroke-dasharray='5.2 1.2'/><line x1='576.8' y1='251.0' x2='576.8' y2='664.0' stroke='#ff7a7a' stroke-width='1.5' stroke-dasharray='4.2 0.9'/><line x1='618.8' y1='262.5' x2='618.8' y2='664.0' stroke='#ff7a7a' stroke-width='1.5' stroke-dasharray='4.2 0.9'/><line x1='579.4' y1='37.0' x2='579.4' y2='236.0' stroke='#5aa0dc' stroke-width='1.8' stroke-dasharray='5.2 1.2'/><line x1='587.5' y1='27.0' x2='587.5' y2='664.0' stroke='#2c5396' stroke-width='2.0' stroke-dasharray='5.2 1.2'/><path d='M25.0 664.2H113.8M115.9 664.2h2M120.2 664.2h2.3M124.3 664.2H302.5' stroke='#6a6a6a' stroke-width='1.1' fill='none'/><line x1='41.5' y1='664.2' x2='41.5' y2='666.0' stroke='#6a6a6a' stroke-width='1'/><line x1='63.0' y1='664.2' x2='63.0' y2='666.0' stroke='#6a6a6a' stroke-width='1'/><line x1='84.6' y1='664.2' x2='84.6' y2='666.0' stroke='#6a6a6a' stroke-width='1'/><line x1='106.0' y1='664.2' x2='106.0' y2='666.0' stroke='#6a6a6a' stroke-width='1'/><line x1='138.3' y1='664.2' x2='138.3' y2='666.0' stroke='#6a6a6a' stroke-width='1'/><line x1='163.5' y1='664.2' x2='163.5' y2='666.0' stroke='#6a6a6a' stroke-width='1'/><line x1='188.4' y1='664.2' x2='188.4' y2='666.0' stroke='#6a6a6a' stroke-width='1'/><line x1='213.5' y1='664.2' x2='213.5' y2='666.0' stroke='#6a6a6a' stroke-width='1'/><line x1='238.6' y1='664.2' x2='238.6' y2='666.0' stroke='#6a6a6a' stroke-width='1'/><line x1='263.7' y1='664.2' x2='263.7' y2='666.0' stroke='#6a6a6a' stroke-width='1'/><line x1='288.8' y1='664.2' x2='288.8' y2='666.0' stroke='#6a6a6a' stroke-width='1'/><path d='M405.5 663.4H496.1M498.2 663.4h2M502.5 663.4h2.3M506.3 663.4H685.0' stroke='#6a6a6a' stroke-width='1.1' fill='none'/><line x1='423.7' y1='663.4' x2='423.7' y2='665.2' stroke='#6a6a6a' stroke-width='1'/><line x1='445.4' y1='663.4' x2='445.4' y2='665.2' stroke='#6a6a6a' stroke-width='1'/><line x1='467.2' y1='663.4' x2='467.2' y2='665.2' stroke='#6a6a6a' stroke-width='1'/><line x1='489.0' y1='663.4' x2='489.0' y2='665.2' stroke='#6a6a6a' stroke-width='1'/><line x1='519.7' y1='663.4' x2='519.7' y2='665.2' stroke='#6a6a6a' stroke-width='1'/><line x1='544.8' y1='663.4' x2='544.8' y2='665.2' stroke='#6a6a6a' stroke-width='1'/><line x1='570.0' y1='663.4' x2='570.0' y2='665.2' stroke='#6a6a6a' stroke-width='1'/><line x1='595.1' y1='663.4' x2='595.1' y2='665.2' stroke='#6a6a6a' stroke-width='1'/><line x1='620.3' y1='663.4' x2='620.3' y2='665.2' stroke='#6a6a6a' stroke-width='1'/><line x1='645.4' y1='663.4' x2='645.4' y2='665.2' stroke='#6a6a6a' stroke-width='1'/><line x1='670.6' y1='663.4' x2='670.6' y2='665.2' stroke='#6a6a6a' stroke-width='1'/><text x='41.2' y='680.0' font-size='13.2' fill='#111' font-weight='normal' text-anchor='middle' >-115</text><text x='84.5' y='680.0' font-size='13.2' fill='#111' font-weight='normal' text-anchor='middle' >-116</text><text x='138.3' y='680.0' font-size='13.2' fill='#111' font-weight='normal' text-anchor='middle' >-123</text><text x='188.6' y='680.0' font-size='13.2' fill='#111' font-weight='normal' text-anchor='middle' >-125</text><text x='238.8' y='680.0' font-size='13.2' fill='#111' font-weight='normal' text-anchor='middle' >-127</text><text x='288.8' y='680.0' font-size='13.2' fill='#111' font-weight='normal' text-anchor='middle' >-129</text><text x='423.7' y='680.0' font-size='13.2' fill='#111' font-weight='normal' text-anchor='middle' >-115</text><text x='467.2' y='680.0' font-size='13.2' fill='#111' font-weight='normal' text-anchor='middle' >-116</text><text x='519.7' y='680.0' font-size='13.2' fill='#111' font-weight='normal' text-anchor='middle' >-123</text><text x='570.0' y='680.0' font-size='13.2' fill='#111' font-weight='normal' text-anchor='middle' >-125</text><text x='620.3' y='680.0' font-size='13.2' fill='#111' font-weight='normal' text-anchor='middle' >-127</text><text x='670.6' y='680.0' font-size='13.2' fill='#111' font-weight='normal' text-anchor='middle' >-129</text><text x='150.8' y='688.0' font-size='14.0' fill='#111' font-weight='normal' text-anchor='start' >ppm</text><text x='532.6' y='688.0' font-size='14.0' fill='#111' font-weight='normal' text-anchor='start' >ppm</text><text x='6.8' y='27.9' font-size='23.6' fill='#000' font-weight='bold' text-anchor='start' >A</text><text x='397.0' y='23.9' font-size='22.5' fill='#000' font-weight='bold' text-anchor='start' >B</text><text x='71.7' y='28.4' font-size='15.8' fill='#858585' font-weight='normal' text-anchor='middle' >R</text><text x='462.5' y='28.4' font-size='15.8' fill='#858585' font-weight='normal' text-anchor='middle' >R</text><text x='114.3' y='72' font-size='17' font-weight='bold'>H<tspan font-size='12' dy='3.2'>2</tspan><tspan dy='-3.2'>O</tspan></text><text x='500.3' y='71.5' font-size='17' font-weight='bold'>D<tspan font-size='12' dy='3.2'>2</tspan><tspan dy='-3.2'>O</tspan></text><text x='354.7' y='48.3' font-size='17.0' fill='#111' font-weight='normal' text-anchor='middle' >Apo</text><text x='359.3' y='266.5' font-size='17.3' fill='#111' font-weight='normal' text-anchor='middle' >Ni(II)-bound</text><text x='356.8' y='87.8' font-size='15.7' fill='#111' font-weight='normal' text-anchor='middle' >4°C</text><text x='353.7' y='151.2' font-size='15.7' fill='#111' font-weight='normal' text-anchor='middle' >25°C</text><text x='353.5' y='212.9' font-size='15.7' fill='#111' font-weight='normal' text-anchor='middle' >40°C</text><text x='354.0' y='305.7' font-size='15.7' fill='#111' font-weight='normal' text-anchor='middle' >4°C</text><text x='355.5' y='371.6' font-size='15.7' fill='#111' font-weight='normal' text-anchor='middle' >15°C</text><text x='355.0' y='440.2' font-size='15.7' fill='#111' font-weight='normal' text-anchor='middle' >20°C</text><text x='354.7' y='504.9' font-size='15.7' fill='#111' font-weight='normal' text-anchor='middle' >25°C</text><text x='352.2' y='571.1' font-size='15.7' fill='#111' font-weight='normal' text-anchor='middle' >30°C</text><text x='351.8' y='636.9' font-size='15.7' fill='#111' font-weight='normal' text-anchor='middle' >40°C</text><rect x='201.4' y='13.7' width='2.5' height='11.1' fill='#2c5396'/><rect x='205.9' y='13.7' width='2.5' height='11.1' fill='#2c5396'/><rect x='195.1' y='238.3' width='2.3' height='11.0' fill='#ff0a0a'/><rect x='228.3' y='250.9' width='2.5' height='10.8' fill='#ff0a0a'/><rect x='233.0' y='250.9' width='2.5' height='10.8' fill='#ff0a0a'/><rect x='237.4' y='250.9' width='2.5' height='10.8' fill='#ff0a0a'/><rect x='584.8' y='13.3' width='2.5' height='10.5' fill='#2c5396'/><rect x='589.2' y='13.3' width='2.5' height='10.5' fill='#2c5396'/><rect x='576.0' y='238.0' width='2.3' height='11.2' fill='#ff0a0a'/><rect x='614.1' y='248.0' width='2.5' height='11.6' fill='#ff0a0a'/><rect x='618.0' y='248.0' width='2.5' height='11.6' fill='#ff0a0a'/><rect x='622.1' y='248.0' width='2.5' height='11.6' fill='#ff0a0a'/><path d='M448.4 33.9H469.8V30.8L476.0 36.4L469.8 42.0V38.9H448.4Z' fill='#a2a2a2' stroke='#7a7a7a' stroke-width='0.8' stroke-linejoin='miter'/><path d='M573.6 27.4H579.0V24.0L585.6 30.7L579.0 37.4V34.0H573.6Z' fill='#4a90d0' stroke='#3a78b8' stroke-width='0.8' stroke-linejoin='miter'/><path d='M582.9 244.5H590.5V242.1L596.0 247.1L590.5 252.1V249.7H582.9Z' fill='#2f65a8' stroke='#244f85' stroke-width='0.8' stroke-linejoin='miter'/><path d='M581.8 257.1H571.0V253.9L564.8 259.7L571.0 265.5V262.3H581.8Z' fill='#d40a12' stroke='#b00010' stroke-width='0.8' stroke-linejoin='miter'/><path d='M607.8 267.2H629.3V264.3L635.5 270.1L629.3 275.9V273.0H607.8Z' fill='#d40a12' stroke='#b00010' stroke-width='0.8' stroke-linejoin='miter'/></svg></body></html>
